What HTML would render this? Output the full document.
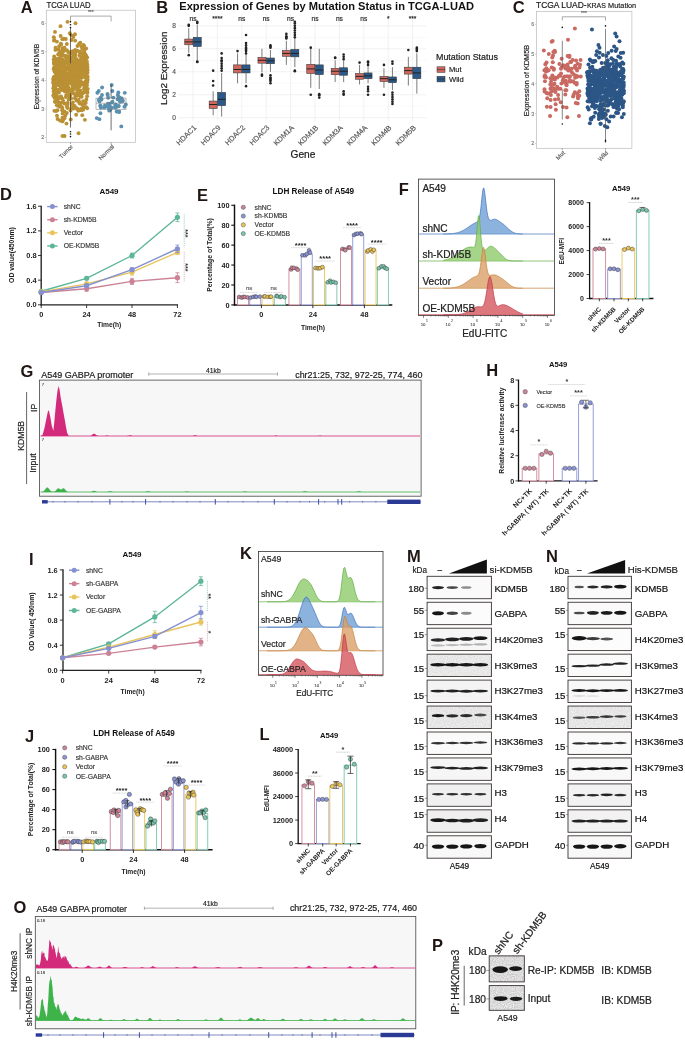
<!DOCTYPE html><html><head><meta charset="utf-8"><title>Figure</title><style>html,body{margin:0;padding:0;background:#fff;width:685px;height:1041px;overflow:hidden}svg{display:block;filter:blur(0.3px);font-family:"Liberation Sans", sans-serif}</style></head><body><svg width="685" height="1041" viewBox="0 0 685 1041" font-family='"Liberation Sans", sans-serif'><defs><filter id="bb" x="-30%" y="-200%" width="160%" height="500%"><feGaussianBlur stdDeviation="0.55 0.45"/></filter><filter id="nz" x="0" y="0" width="100%" height="100%"><feTurbulence type="fractalNoise" baseFrequency="0.9" numOctaves="2" seed="4" result="t"/><feColorMatrix type="matrix" values="0 0 0 0 0  0 0 0 0 0  0 0 0 0 0  0 0 0 -1.6 1.25"/></filter></defs><rect width="685" height="1041" fill="#fff"/><text x="20.7" y="12.5" font-size="16.5" font-weight="bold" text-anchor="start" fill="#1f1513">A</text>
<text x="46.5" y="7.7" font-size="8.9" text-anchor="start" fill="#1a1a1a" stroke="#1a1a1a" stroke-width="0.2" textLength="44" lengthAdjust="spacingAndGlyphs">TCGA LUAD</text>
<rect x="46.3" y="10.2" width="89.3" height="132.1" fill="#fff" stroke="#bbb" stroke-width="0.7"/>
<text x="44.3" y="139.45" font-size="5.4" text-anchor="end" fill="#777" stroke="#777" stroke-width="0.12">2</text>
<line x1="44.6" y1="137.5" x2="45.9" y2="137.5" stroke="#999" stroke-width="0.5"/>
<text x="44.3" y="110.9" font-size="5.4" text-anchor="end" fill="#777" stroke="#777" stroke-width="0.12">3</text>
<line x1="44.6" y1="108.95" x2="45.9" y2="108.95" stroke="#999" stroke-width="0.5"/>
<text x="44.3" y="82.35" font-size="5.4" text-anchor="end" fill="#777" stroke="#777" stroke-width="0.12">4</text>
<line x1="44.6" y1="80.4" x2="45.9" y2="80.4" stroke="#999" stroke-width="0.5"/>
<text x="44.3" y="53.8" font-size="5.4" text-anchor="end" fill="#777" stroke="#777" stroke-width="0.12">5</text>
<line x1="44.6" y1="51.85" x2="45.9" y2="51.85" stroke="#999" stroke-width="0.5"/>
<text x="44.3" y="25.25" font-size="5.4" text-anchor="end" fill="#777" stroke="#777" stroke-width="0.12">6</text>
<line x1="44.6" y1="23.3" x2="45.9" y2="23.3" stroke="#999" stroke-width="0.5"/>
<text x="38.8" y="76.6" font-size="6.72" text-anchor="middle" fill="#1a1a1a" stroke="#1a1a1a" stroke-width="0.15" transform="rotate(-90 38.8 76.6)">Expression of KDM5B</text>
<line x1="70.5" y1="16.1" x2="111.1" y2="16.1" stroke="#555" stroke-width="0.5"/>
<line x1="70.5" y1="16.1" x2="70.5" y2="21.5" stroke="#555" stroke-width="0.5"/>
<line x1="111.1" y1="16.1" x2="111.1" y2="21.5" stroke="#555" stroke-width="0.5"/>
<text x="90.8" y="14" font-size="5" text-anchor="middle" fill="#555" stroke="#555" stroke-width="0.11">***</text>
<circle cx="75.72" cy="81.36" r="1.95" fill="#BA9034" stroke="none" stroke-width="0.5"/>
<circle cx="55.71" cy="68.21" r="1.95" fill="#BA9034" stroke="none" stroke-width="0.5"/>
<circle cx="55.21" cy="92.91" r="1.95" fill="#BA9034" stroke="none" stroke-width="0.5"/>
<circle cx="70.76" cy="80.63" r="1.95" fill="#BA9034" stroke="none" stroke-width="0.5"/>
<circle cx="55.62" cy="59.21" r="1.95" fill="#BA9034" stroke="none" stroke-width="0.5"/>
<circle cx="56.34" cy="72.71" r="1.95" fill="#BA9034" stroke="none" stroke-width="0.5"/>
<circle cx="57.48" cy="105.51" r="1.95" fill="#BA9034" stroke="none" stroke-width="0.5"/>
<circle cx="60.92" cy="62.32" r="1.95" fill="#BA9034" stroke="none" stroke-width="0.5"/>
<circle cx="73.17" cy="105.95" r="1.95" fill="#BA9034" stroke="none" stroke-width="0.5"/>
<circle cx="66.93" cy="106.85" r="1.95" fill="#BA9034" stroke="none" stroke-width="0.5"/>
<circle cx="82.9" cy="71.74" r="1.95" fill="#BA9034" stroke="none" stroke-width="0.5"/>
<circle cx="63.22" cy="77.76" r="1.95" fill="#BA9034" stroke="none" stroke-width="0.5"/>
<circle cx="63.87" cy="71.69" r="1.95" fill="#BA9034" stroke="none" stroke-width="0.5"/>
<circle cx="81.44" cy="70.22" r="1.95" fill="#BA9034" stroke="none" stroke-width="0.5"/>
<circle cx="75.31" cy="67.44" r="1.95" fill="#BA9034" stroke="none" stroke-width="0.5"/>
<circle cx="66.08" cy="56.47" r="1.95" fill="#BA9034" stroke="none" stroke-width="0.5"/>
<circle cx="55.26" cy="82.87" r="1.95" fill="#BA9034" stroke="none" stroke-width="0.5"/>
<circle cx="60.33" cy="78.8" r="1.95" fill="#BA9034" stroke="none" stroke-width="0.5"/>
<circle cx="64.07" cy="84.64" r="1.95" fill="#BA9034" stroke="none" stroke-width="0.5"/>
<circle cx="73.46" cy="93.37" r="1.95" fill="#BA9034" stroke="none" stroke-width="0.5"/>
<circle cx="80.69" cy="90.81" r="1.95" fill="#BA9034" stroke="none" stroke-width="0.5"/>
<circle cx="77.39" cy="72.78" r="1.95" fill="#BA9034" stroke="none" stroke-width="0.5"/>
<circle cx="71.37" cy="76.14" r="1.95" fill="#BA9034" stroke="none" stroke-width="0.5"/>
<circle cx="83.48" cy="54.6" r="1.95" fill="#BA9034" stroke="none" stroke-width="0.5"/>
<circle cx="87.11" cy="78.79" r="1.95" fill="#BA9034" stroke="none" stroke-width="0.5"/>
<circle cx="57.29" cy="90.97" r="1.95" fill="#BA9034" stroke="none" stroke-width="0.5"/>
<circle cx="58.46" cy="102.06" r="1.95" fill="#BA9034" stroke="none" stroke-width="0.5"/>
<circle cx="70.12" cy="62.79" r="1.95" fill="#BA9034" stroke="none" stroke-width="0.5"/>
<circle cx="79.65" cy="52.3" r="1.95" fill="#BA9034" stroke="none" stroke-width="0.5"/>
<circle cx="73.03" cy="70.77" r="1.95" fill="#BA9034" stroke="none" stroke-width="0.5"/>
<circle cx="77.26" cy="66.43" r="1.95" fill="#BA9034" stroke="none" stroke-width="0.5"/>
<circle cx="73.77" cy="87.45" r="1.95" fill="#BA9034" stroke="none" stroke-width="0.5"/>
<circle cx="82.26" cy="93.55" r="1.95" fill="#BA9034" stroke="none" stroke-width="0.5"/>
<circle cx="85.89" cy="86.07" r="1.95" fill="#BA9034" stroke="none" stroke-width="0.5"/>
<circle cx="55.3" cy="101.94" r="1.95" fill="#BA9034" stroke="none" stroke-width="0.5"/>
<circle cx="77.47" cy="72.87" r="1.95" fill="#BA9034" stroke="none" stroke-width="0.5"/>
<circle cx="81.64" cy="109.52" r="1.95" fill="#BA9034" stroke="none" stroke-width="0.5"/>
<circle cx="63.05" cy="120.11" r="1.95" fill="#BA9034" stroke="none" stroke-width="0.5"/>
<circle cx="53.98" cy="96.16" r="1.95" fill="#BA9034" stroke="none" stroke-width="0.5"/>
<circle cx="69.17" cy="60.23" r="1.95" fill="#BA9034" stroke="none" stroke-width="0.5"/>
<circle cx="55.24" cy="72.76" r="1.95" fill="#BA9034" stroke="none" stroke-width="0.5"/>
<circle cx="79.78" cy="69.53" r="1.95" fill="#BA9034" stroke="none" stroke-width="0.5"/>
<circle cx="66.73" cy="68.09" r="1.95" fill="#BA9034" stroke="none" stroke-width="0.5"/>
<circle cx="83.35" cy="67.59" r="1.95" fill="#BA9034" stroke="none" stroke-width="0.5"/>
<circle cx="72.21" cy="60.61" r="1.95" fill="#BA9034" stroke="none" stroke-width="0.5"/>
<circle cx="83.77" cy="67.9" r="1.95" fill="#BA9034" stroke="none" stroke-width="0.5"/>
<circle cx="62.83" cy="62.55" r="1.95" fill="#BA9034" stroke="none" stroke-width="0.5"/>
<circle cx="67.57" cy="108" r="1.95" fill="#BA9034" stroke="none" stroke-width="0.5"/>
<circle cx="86.34" cy="99.43" r="1.95" fill="#BA9034" stroke="none" stroke-width="0.5"/>
<circle cx="58.42" cy="49.39" r="1.95" fill="#BA9034" stroke="none" stroke-width="0.5"/>
<circle cx="61.27" cy="71.41" r="1.95" fill="#BA9034" stroke="none" stroke-width="0.5"/>
<circle cx="69.98" cy="65.84" r="1.95" fill="#BA9034" stroke="none" stroke-width="0.5"/>
<circle cx="53.34" cy="88.31" r="1.95" fill="#BA9034" stroke="none" stroke-width="0.5"/>
<circle cx="67.7" cy="84.08" r="1.95" fill="#BA9034" stroke="none" stroke-width="0.5"/>
<circle cx="86.18" cy="92.06" r="1.95" fill="#BA9034" stroke="none" stroke-width="0.5"/>
<circle cx="77.09" cy="60.76" r="1.95" fill="#BA9034" stroke="none" stroke-width="0.5"/>
<circle cx="76.6" cy="100.61" r="1.95" fill="#BA9034" stroke="none" stroke-width="0.5"/>
<circle cx="55.07" cy="79.28" r="1.95" fill="#BA9034" stroke="none" stroke-width="0.5"/>
<circle cx="83.46" cy="52.91" r="1.95" fill="#BA9034" stroke="none" stroke-width="0.5"/>
<circle cx="80.81" cy="94.57" r="1.95" fill="#BA9034" stroke="none" stroke-width="0.5"/>
<circle cx="56.78" cy="90.46" r="1.95" fill="#BA9034" stroke="none" stroke-width="0.5"/>
<circle cx="75.15" cy="66.16" r="1.95" fill="#BA9034" stroke="none" stroke-width="0.5"/>
<circle cx="60.42" cy="71.06" r="1.95" fill="#BA9034" stroke="none" stroke-width="0.5"/>
<circle cx="58.82" cy="74.54" r="1.95" fill="#BA9034" stroke="none" stroke-width="0.5"/>
<circle cx="53.21" cy="79.99" r="1.95" fill="#BA9034" stroke="none" stroke-width="0.5"/>
<circle cx="58.43" cy="72.22" r="1.95" fill="#BA9034" stroke="none" stroke-width="0.5"/>
<circle cx="54.08" cy="63.89" r="1.95" fill="#BA9034" stroke="none" stroke-width="0.5"/>
<circle cx="83.45" cy="67.28" r="1.95" fill="#BA9034" stroke="none" stroke-width="0.5"/>
<circle cx="61.93" cy="84.3" r="1.95" fill="#BA9034" stroke="none" stroke-width="0.5"/>
<circle cx="65.22" cy="83.36" r="1.95" fill="#BA9034" stroke="none" stroke-width="0.5"/>
<circle cx="82.57" cy="82.74" r="1.95" fill="#BA9034" stroke="none" stroke-width="0.5"/>
<circle cx="87.56" cy="70.36" r="1.95" fill="#BA9034" stroke="none" stroke-width="0.5"/>
<circle cx="56.17" cy="96.23" r="1.95" fill="#BA9034" stroke="none" stroke-width="0.5"/>
<circle cx="56.74" cy="72.8" r="1.95" fill="#BA9034" stroke="none" stroke-width="0.5"/>
<circle cx="81.88" cy="84.36" r="1.95" fill="#BA9034" stroke="none" stroke-width="0.5"/>
<circle cx="58.79" cy="65.75" r="1.95" fill="#BA9034" stroke="none" stroke-width="0.5"/>
<circle cx="71.48" cy="35.35" r="1.95" fill="#BA9034" stroke="none" stroke-width="0.5"/>
<circle cx="58.27" cy="70.89" r="1.95" fill="#BA9034" stroke="none" stroke-width="0.5"/>
<circle cx="71.47" cy="80.84" r="1.95" fill="#BA9034" stroke="none" stroke-width="0.5"/>
<circle cx="87.06" cy="78.05" r="1.95" fill="#BA9034" stroke="none" stroke-width="0.5"/>
<circle cx="62.23" cy="59.7" r="1.95" fill="#BA9034" stroke="none" stroke-width="0.5"/>
<circle cx="65.89" cy="96.99" r="1.95" fill="#BA9034" stroke="none" stroke-width="0.5"/>
<circle cx="71.63" cy="62.31" r="1.95" fill="#BA9034" stroke="none" stroke-width="0.5"/>
<circle cx="80.16" cy="51.43" r="1.95" fill="#BA9034" stroke="none" stroke-width="0.5"/>
<circle cx="81.28" cy="82.81" r="1.95" fill="#BA9034" stroke="none" stroke-width="0.5"/>
<circle cx="87.28" cy="66.3" r="1.95" fill="#BA9034" stroke="none" stroke-width="0.5"/>
<circle cx="81.51" cy="58.32" r="1.95" fill="#BA9034" stroke="none" stroke-width="0.5"/>
<circle cx="78.8" cy="101.77" r="1.95" fill="#BA9034" stroke="none" stroke-width="0.5"/>
<circle cx="65.5" cy="73.96" r="1.95" fill="#BA9034" stroke="none" stroke-width="0.5"/>
<circle cx="54.2" cy="56.51" r="1.95" fill="#BA9034" stroke="none" stroke-width="0.5"/>
<circle cx="62.17" cy="63.32" r="1.95" fill="#BA9034" stroke="none" stroke-width="0.5"/>
<circle cx="77.16" cy="74.55" r="1.95" fill="#BA9034" stroke="none" stroke-width="0.5"/>
<circle cx="85.62" cy="59.01" r="1.95" fill="#BA9034" stroke="none" stroke-width="0.5"/>
<circle cx="87.39" cy="82.01" r="1.95" fill="#BA9034" stroke="none" stroke-width="0.5"/>
<circle cx="60.83" cy="61.31" r="1.95" fill="#BA9034" stroke="none" stroke-width="0.5"/>
<circle cx="61.05" cy="81.53" r="1.95" fill="#BA9034" stroke="none" stroke-width="0.5"/>
<circle cx="74.79" cy="73.17" r="1.95" fill="#BA9034" stroke="none" stroke-width="0.5"/>
<circle cx="84.35" cy="66.03" r="1.95" fill="#BA9034" stroke="none" stroke-width="0.5"/>
<circle cx="75.79" cy="66.44" r="1.95" fill="#BA9034" stroke="none" stroke-width="0.5"/>
<circle cx="80.87" cy="93.47" r="1.95" fill="#BA9034" stroke="none" stroke-width="0.5"/>
<circle cx="84.68" cy="55.28" r="1.95" fill="#BA9034" stroke="none" stroke-width="0.5"/>
<circle cx="80.27" cy="64.19" r="1.95" fill="#BA9034" stroke="none" stroke-width="0.5"/>
<circle cx="59.38" cy="76.96" r="1.95" fill="#BA9034" stroke="none" stroke-width="0.5"/>
<circle cx="80.5" cy="96.51" r="1.95" fill="#BA9034" stroke="none" stroke-width="0.5"/>
<circle cx="86.82" cy="92.22" r="1.95" fill="#BA9034" stroke="none" stroke-width="0.5"/>
<circle cx="66.9" cy="50.25" r="1.95" fill="#BA9034" stroke="none" stroke-width="0.5"/>
<circle cx="78.28" cy="110.75" r="1.95" fill="#BA9034" stroke="none" stroke-width="0.5"/>
<circle cx="59.08" cy="52.88" r="1.95" fill="#BA9034" stroke="none" stroke-width="0.5"/>
<circle cx="84.51" cy="70.13" r="1.95" fill="#BA9034" stroke="none" stroke-width="0.5"/>
<circle cx="81.1" cy="69.95" r="1.95" fill="#BA9034" stroke="none" stroke-width="0.5"/>
<circle cx="87.12" cy="57.51" r="1.95" fill="#BA9034" stroke="none" stroke-width="0.5"/>
<circle cx="75.94" cy="51.5" r="1.95" fill="#BA9034" stroke="none" stroke-width="0.5"/>
<circle cx="57.73" cy="89.72" r="1.95" fill="#BA9034" stroke="none" stroke-width="0.5"/>
<circle cx="53.69" cy="59.53" r="1.95" fill="#BA9034" stroke="none" stroke-width="0.5"/>
<circle cx="71.42" cy="52.58" r="1.95" fill="#BA9034" stroke="none" stroke-width="0.5"/>
<circle cx="85.5" cy="81.49" r="1.95" fill="#BA9034" stroke="none" stroke-width="0.5"/>
<circle cx="81.78" cy="108.73" r="1.95" fill="#BA9034" stroke="none" stroke-width="0.5"/>
<circle cx="60.5" cy="62.95" r="1.95" fill="#BA9034" stroke="none" stroke-width="0.5"/>
<circle cx="61.52" cy="77.14" r="1.95" fill="#BA9034" stroke="none" stroke-width="0.5"/>
<circle cx="73.49" cy="62.71" r="1.95" fill="#BA9034" stroke="none" stroke-width="0.5"/>
<circle cx="57.74" cy="78.02" r="1.95" fill="#BA9034" stroke="none" stroke-width="0.5"/>
<circle cx="84.69" cy="59.15" r="1.95" fill="#BA9034" stroke="none" stroke-width="0.5"/>
<circle cx="73.38" cy="88.48" r="1.95" fill="#BA9034" stroke="none" stroke-width="0.5"/>
<circle cx="84.49" cy="61.9" r="1.95" fill="#BA9034" stroke="none" stroke-width="0.5"/>
<circle cx="70.56" cy="110.6" r="1.95" fill="#BA9034" stroke="none" stroke-width="0.5"/>
<circle cx="71.6" cy="58.66" r="1.95" fill="#BA9034" stroke="none" stroke-width="0.5"/>
<circle cx="68.43" cy="80.27" r="1.95" fill="#BA9034" stroke="none" stroke-width="0.5"/>
<circle cx="59.54" cy="77.46" r="1.95" fill="#BA9034" stroke="none" stroke-width="0.5"/>
<circle cx="59.16" cy="46.29" r="1.95" fill="#BA9034" stroke="none" stroke-width="0.5"/>
<circle cx="69.58" cy="76.22" r="1.95" fill="#BA9034" stroke="none" stroke-width="0.5"/>
<circle cx="64.48" cy="80.36" r="1.95" fill="#BA9034" stroke="none" stroke-width="0.5"/>
<circle cx="71.13" cy="98.55" r="1.95" fill="#BA9034" stroke="none" stroke-width="0.5"/>
<circle cx="56.87" cy="105.17" r="1.95" fill="#BA9034" stroke="none" stroke-width="0.5"/>
<circle cx="72.59" cy="87.22" r="1.95" fill="#BA9034" stroke="none" stroke-width="0.5"/>
<circle cx="79.92" cy="76.84" r="1.95" fill="#BA9034" stroke="none" stroke-width="0.5"/>
<circle cx="70.77" cy="63.18" r="1.95" fill="#BA9034" stroke="none" stroke-width="0.5"/>
<circle cx="84.77" cy="103.76" r="1.95" fill="#BA9034" stroke="none" stroke-width="0.5"/>
<circle cx="68.54" cy="87.92" r="1.95" fill="#BA9034" stroke="none" stroke-width="0.5"/>
<circle cx="70.92" cy="92.43" r="1.95" fill="#BA9034" stroke="none" stroke-width="0.5"/>
<circle cx="77.17" cy="90.18" r="1.95" fill="#BA9034" stroke="none" stroke-width="0.5"/>
<circle cx="69.74" cy="97.18" r="1.95" fill="#BA9034" stroke="none" stroke-width="0.5"/>
<circle cx="85.78" cy="70.74" r="1.95" fill="#BA9034" stroke="none" stroke-width="0.5"/>
<circle cx="85.8" cy="87.96" r="1.95" fill="#BA9034" stroke="none" stroke-width="0.5"/>
<circle cx="62.18" cy="110.24" r="1.95" fill="#BA9034" stroke="none" stroke-width="0.5"/>
<circle cx="82.26" cy="115.17" r="1.95" fill="#BA9034" stroke="none" stroke-width="0.5"/>
<circle cx="57.94" cy="91.96" r="1.95" fill="#BA9034" stroke="none" stroke-width="0.5"/>
<circle cx="55.71" cy="63.61" r="1.95" fill="#BA9034" stroke="none" stroke-width="0.5"/>
<circle cx="61.53" cy="64.17" r="1.95" fill="#BA9034" stroke="none" stroke-width="0.5"/>
<circle cx="80.32" cy="54.13" r="1.95" fill="#BA9034" stroke="none" stroke-width="0.5"/>
<circle cx="84.24" cy="65.67" r="1.95" fill="#BA9034" stroke="none" stroke-width="0.5"/>
<circle cx="76.04" cy="61.62" r="1.95" fill="#BA9034" stroke="none" stroke-width="0.5"/>
<circle cx="58.15" cy="54.54" r="1.95" fill="#BA9034" stroke="none" stroke-width="0.5"/>
<circle cx="60.8" cy="43.74" r="1.95" fill="#BA9034" stroke="none" stroke-width="0.5"/>
<circle cx="86.16" cy="107.09" r="1.95" fill="#BA9034" stroke="none" stroke-width="0.5"/>
<circle cx="87.45" cy="92.86" r="1.95" fill="#BA9034" stroke="none" stroke-width="0.5"/>
<circle cx="82" cy="65.16" r="1.95" fill="#BA9034" stroke="none" stroke-width="0.5"/>
<circle cx="71.04" cy="67.36" r="1.95" fill="#BA9034" stroke="none" stroke-width="0.5"/>
<circle cx="64.93" cy="61.51" r="1.95" fill="#BA9034" stroke="none" stroke-width="0.5"/>
<circle cx="78.19" cy="71.96" r="1.95" fill="#BA9034" stroke="none" stroke-width="0.5"/>
<circle cx="53.87" cy="62.84" r="1.95" fill="#BA9034" stroke="none" stroke-width="0.5"/>
<circle cx="53.83" cy="94.38" r="1.95" fill="#BA9034" stroke="none" stroke-width="0.5"/>
<circle cx="64.67" cy="83.12" r="1.95" fill="#BA9034" stroke="none" stroke-width="0.5"/>
<circle cx="55.42" cy="91.59" r="1.95" fill="#BA9034" stroke="none" stroke-width="0.5"/>
<circle cx="87.28" cy="91.39" r="1.95" fill="#BA9034" stroke="none" stroke-width="0.5"/>
<circle cx="56.83" cy="66.06" r="1.95" fill="#BA9034" stroke="none" stroke-width="0.5"/>
<circle cx="62.39" cy="121.39" r="1.95" fill="#BA9034" stroke="none" stroke-width="0.5"/>
<circle cx="62.56" cy="48.13" r="1.95" fill="#BA9034" stroke="none" stroke-width="0.5"/>
<circle cx="57.68" cy="69.65" r="1.95" fill="#BA9034" stroke="none" stroke-width="0.5"/>
<circle cx="81.54" cy="110.28" r="1.95" fill="#BA9034" stroke="none" stroke-width="0.5"/>
<circle cx="62.15" cy="59.27" r="1.95" fill="#BA9034" stroke="none" stroke-width="0.5"/>
<circle cx="72.94" cy="54.27" r="1.95" fill="#BA9034" stroke="none" stroke-width="0.5"/>
<circle cx="77.43" cy="45.98" r="1.95" fill="#BA9034" stroke="none" stroke-width="0.5"/>
<circle cx="77.01" cy="71.98" r="1.95" fill="#BA9034" stroke="none" stroke-width="0.5"/>
<circle cx="67.92" cy="73.83" r="1.95" fill="#BA9034" stroke="none" stroke-width="0.5"/>
<circle cx="75.15" cy="40.65" r="1.95" fill="#BA9034" stroke="none" stroke-width="0.5"/>
<circle cx="80.94" cy="59.2" r="1.95" fill="#BA9034" stroke="none" stroke-width="0.5"/>
<circle cx="55.51" cy="47.8" r="1.95" fill="#BA9034" stroke="none" stroke-width="0.5"/>
<circle cx="83.05" cy="60.03" r="1.95" fill="#BA9034" stroke="none" stroke-width="0.5"/>
<circle cx="72.34" cy="91.91" r="1.95" fill="#BA9034" stroke="none" stroke-width="0.5"/>
<circle cx="85.26" cy="72.51" r="1.95" fill="#BA9034" stroke="none" stroke-width="0.5"/>
<circle cx="71.43" cy="77.98" r="1.95" fill="#BA9034" stroke="none" stroke-width="0.5"/>
<circle cx="61.45" cy="68.02" r="1.95" fill="#BA9034" stroke="none" stroke-width="0.5"/>
<circle cx="54.94" cy="69.12" r="1.95" fill="#BA9034" stroke="none" stroke-width="0.5"/>
<circle cx="60.18" cy="70.52" r="1.95" fill="#BA9034" stroke="none" stroke-width="0.5"/>
<circle cx="79.48" cy="82.52" r="1.95" fill="#BA9034" stroke="none" stroke-width="0.5"/>
<circle cx="63.23" cy="63.46" r="1.95" fill="#BA9034" stroke="none" stroke-width="0.5"/>
<circle cx="65.21" cy="87.7" r="1.95" fill="#BA9034" stroke="none" stroke-width="0.5"/>
<circle cx="53.83" cy="76.98" r="1.95" fill="#BA9034" stroke="none" stroke-width="0.5"/>
<circle cx="78.56" cy="76.98" r="1.95" fill="#BA9034" stroke="none" stroke-width="0.5"/>
<circle cx="72.27" cy="73.96" r="1.95" fill="#BA9034" stroke="none" stroke-width="0.5"/>
<circle cx="85.54" cy="69.76" r="1.95" fill="#BA9034" stroke="none" stroke-width="0.5"/>
<circle cx="56.88" cy="58.92" r="1.95" fill="#BA9034" stroke="none" stroke-width="0.5"/>
<circle cx="70.33" cy="69.33" r="1.95" fill="#BA9034" stroke="none" stroke-width="0.5"/>
<circle cx="82.08" cy="93.52" r="1.95" fill="#BA9034" stroke="none" stroke-width="0.5"/>
<circle cx="77" cy="92.91" r="1.95" fill="#BA9034" stroke="none" stroke-width="0.5"/>
<circle cx="87.19" cy="64.3" r="1.95" fill="#BA9034" stroke="none" stroke-width="0.5"/>
<circle cx="77.65" cy="94.78" r="1.95" fill="#BA9034" stroke="none" stroke-width="0.5"/>
<circle cx="75.2" cy="49.94" r="1.95" fill="#BA9034" stroke="none" stroke-width="0.5"/>
<circle cx="55.08" cy="90.05" r="1.95" fill="#BA9034" stroke="none" stroke-width="0.5"/>
<circle cx="57.69" cy="68.05" r="1.95" fill="#BA9034" stroke="none" stroke-width="0.5"/>
<circle cx="62.04" cy="51.56" r="1.95" fill="#BA9034" stroke="none" stroke-width="0.5"/>
<circle cx="58.85" cy="64.87" r="1.95" fill="#BA9034" stroke="none" stroke-width="0.5"/>
<circle cx="83.32" cy="48.63" r="1.95" fill="#BA9034" stroke="none" stroke-width="0.5"/>
<circle cx="76.4" cy="60.34" r="1.95" fill="#BA9034" stroke="none" stroke-width="0.5"/>
<circle cx="63.34" cy="79.52" r="1.95" fill="#BA9034" stroke="none" stroke-width="0.5"/>
<circle cx="69.1" cy="64.47" r="1.95" fill="#BA9034" stroke="none" stroke-width="0.5"/>
<circle cx="62.31" cy="66.76" r="1.95" fill="#BA9034" stroke="none" stroke-width="0.5"/>
<circle cx="86.48" cy="61.42" r="1.95" fill="#BA9034" stroke="none" stroke-width="0.5"/>
<circle cx="61.66" cy="55.73" r="1.95" fill="#BA9034" stroke="none" stroke-width="0.5"/>
<circle cx="86.61" cy="80.66" r="1.95" fill="#BA9034" stroke="none" stroke-width="0.5"/>
<circle cx="53.24" cy="82.85" r="1.95" fill="#BA9034" stroke="none" stroke-width="0.5"/>
<circle cx="66.4" cy="62" r="1.95" fill="#BA9034" stroke="none" stroke-width="0.5"/>
<circle cx="60.15" cy="96.97" r="1.95" fill="#BA9034" stroke="none" stroke-width="0.5"/>
<circle cx="70.66" cy="73.76" r="1.95" fill="#BA9034" stroke="none" stroke-width="0.5"/>
<circle cx="56.31" cy="63.56" r="1.95" fill="#BA9034" stroke="none" stroke-width="0.5"/>
<circle cx="67.02" cy="76.56" r="1.95" fill="#BA9034" stroke="none" stroke-width="0.5"/>
<circle cx="63.73" cy="73.44" r="1.95" fill="#BA9034" stroke="none" stroke-width="0.5"/>
<circle cx="61.26" cy="76.03" r="1.95" fill="#BA9034" stroke="none" stroke-width="0.5"/>
<circle cx="79.17" cy="95.03" r="1.95" fill="#BA9034" stroke="none" stroke-width="0.5"/>
<circle cx="75.95" cy="87.74" r="1.95" fill="#BA9034" stroke="none" stroke-width="0.5"/>
<circle cx="66.68" cy="84.44" r="1.95" fill="#BA9034" stroke="none" stroke-width="0.5"/>
<circle cx="64.48" cy="111.39" r="1.95" fill="#BA9034" stroke="none" stroke-width="0.5"/>
<circle cx="78.26" cy="67.27" r="1.95" fill="#BA9034" stroke="none" stroke-width="0.5"/>
<circle cx="75.46" cy="77.91" r="1.95" fill="#BA9034" stroke="none" stroke-width="0.5"/>
<circle cx="84.06" cy="45.66" r="1.95" fill="#BA9034" stroke="none" stroke-width="0.5"/>
<circle cx="74.91" cy="68.14" r="1.95" fill="#BA9034" stroke="none" stroke-width="0.5"/>
<circle cx="58.02" cy="80.15" r="1.95" fill="#BA9034" stroke="none" stroke-width="0.5"/>
<circle cx="71.32" cy="108.14" r="1.95" fill="#BA9034" stroke="none" stroke-width="0.5"/>
<circle cx="81.04" cy="109.48" r="1.95" fill="#BA9034" stroke="none" stroke-width="0.5"/>
<circle cx="81.79" cy="77.87" r="1.95" fill="#BA9034" stroke="none" stroke-width="0.5"/>
<circle cx="76.83" cy="108.24" r="1.95" fill="#BA9034" stroke="none" stroke-width="0.5"/>
<circle cx="77.19" cy="95.22" r="1.95" fill="#BA9034" stroke="none" stroke-width="0.5"/>
<circle cx="57.81" cy="76.43" r="1.95" fill="#BA9034" stroke="none" stroke-width="0.5"/>
<circle cx="65.68" cy="72.7" r="1.95" fill="#BA9034" stroke="none" stroke-width="0.5"/>
<circle cx="72.53" cy="51.23" r="1.95" fill="#BA9034" stroke="none" stroke-width="0.5"/>
<circle cx="74.92" cy="57.03" r="1.95" fill="#BA9034" stroke="none" stroke-width="0.5"/>
<circle cx="70.13" cy="95.13" r="1.95" fill="#BA9034" stroke="none" stroke-width="0.5"/>
<circle cx="53.31" cy="95.42" r="1.95" fill="#BA9034" stroke="none" stroke-width="0.5"/>
<circle cx="70.6" cy="68.57" r="1.95" fill="#BA9034" stroke="none" stroke-width="0.5"/>
<circle cx="71.72" cy="104.16" r="1.95" fill="#BA9034" stroke="none" stroke-width="0.5"/>
<circle cx="78.69" cy="80.39" r="1.95" fill="#BA9034" stroke="none" stroke-width="0.5"/>
<circle cx="61.93" cy="82.31" r="1.95" fill="#BA9034" stroke="none" stroke-width="0.5"/>
<circle cx="78.43" cy="64.96" r="1.95" fill="#BA9034" stroke="none" stroke-width="0.5"/>
<circle cx="60.3" cy="70.91" r="1.95" fill="#BA9034" stroke="none" stroke-width="0.5"/>
<circle cx="70.29" cy="79.96" r="1.95" fill="#BA9034" stroke="none" stroke-width="0.5"/>
<circle cx="66.44" cy="123.6" r="1.95" fill="#BA9034" stroke="none" stroke-width="0.5"/>
<circle cx="79.74" cy="102.74" r="1.95" fill="#BA9034" stroke="none" stroke-width="0.5"/>
<circle cx="74.55" cy="73.56" r="1.95" fill="#BA9034" stroke="none" stroke-width="0.5"/>
<circle cx="58.3" cy="81.27" r="1.95" fill="#BA9034" stroke="none" stroke-width="0.5"/>
<circle cx="61.99" cy="82.35" r="1.95" fill="#BA9034" stroke="none" stroke-width="0.5"/>
<circle cx="72.84" cy="77.6" r="1.95" fill="#BA9034" stroke="none" stroke-width="0.5"/>
<circle cx="53.63" cy="91.56" r="1.95" fill="#BA9034" stroke="none" stroke-width="0.5"/>
<circle cx="76.45" cy="64.39" r="1.95" fill="#BA9034" stroke="none" stroke-width="0.5"/>
<circle cx="77.15" cy="71.93" r="1.95" fill="#BA9034" stroke="none" stroke-width="0.5"/>
<circle cx="71.07" cy="83.37" r="1.95" fill="#BA9034" stroke="none" stroke-width="0.5"/>
<circle cx="69.28" cy="89.66" r="1.95" fill="#BA9034" stroke="none" stroke-width="0.5"/>
<circle cx="84.12" cy="85.39" r="1.95" fill="#BA9034" stroke="none" stroke-width="0.5"/>
<circle cx="60.09" cy="75.17" r="1.95" fill="#BA9034" stroke="none" stroke-width="0.5"/>
<circle cx="53.81" cy="37.16" r="1.95" fill="#BA9034" stroke="none" stroke-width="0.5"/>
<circle cx="69.08" cy="82.48" r="1.95" fill="#BA9034" stroke="none" stroke-width="0.5"/>
<circle cx="68.75" cy="57.85" r="1.95" fill="#BA9034" stroke="none" stroke-width="0.5"/>
<circle cx="62.5" cy="117.67" r="1.95" fill="#BA9034" stroke="none" stroke-width="0.5"/>
<circle cx="60.49" cy="66.65" r="1.95" fill="#BA9034" stroke="none" stroke-width="0.5"/>
<circle cx="73.32" cy="36.95" r="1.95" fill="#BA9034" stroke="none" stroke-width="0.5"/>
<circle cx="86.16" cy="63.84" r="1.95" fill="#BA9034" stroke="none" stroke-width="0.5"/>
<circle cx="57.79" cy="60.75" r="1.95" fill="#BA9034" stroke="none" stroke-width="0.5"/>
<circle cx="83.89" cy="68.25" r="1.95" fill="#BA9034" stroke="none" stroke-width="0.5"/>
<circle cx="77.54" cy="95.44" r="1.95" fill="#BA9034" stroke="none" stroke-width="0.5"/>
<circle cx="70.02" cy="72.71" r="1.95" fill="#BA9034" stroke="none" stroke-width="0.5"/>
<circle cx="54.06" cy="40.65" r="1.95" fill="#BA9034" stroke="none" stroke-width="0.5"/>
<circle cx="68.8" cy="57.05" r="1.95" fill="#BA9034" stroke="none" stroke-width="0.5"/>
<circle cx="63.65" cy="76.52" r="1.95" fill="#BA9034" stroke="none" stroke-width="0.5"/>
<circle cx="64.14" cy="67" r="1.95" fill="#BA9034" stroke="none" stroke-width="0.5"/>
<circle cx="82.27" cy="64.81" r="1.95" fill="#BA9034" stroke="none" stroke-width="0.5"/>
<circle cx="82.23" cy="48.42" r="1.95" fill="#BA9034" stroke="none" stroke-width="0.5"/>
<circle cx="57.35" cy="76.66" r="1.95" fill="#BA9034" stroke="none" stroke-width="0.5"/>
<circle cx="84.39" cy="52.75" r="1.95" fill="#BA9034" stroke="none" stroke-width="0.5"/>
<circle cx="63.23" cy="89.05" r="1.95" fill="#BA9034" stroke="none" stroke-width="0.5"/>
<circle cx="87.76" cy="88.86" r="1.95" fill="#BA9034" stroke="none" stroke-width="0.5"/>
<circle cx="73.59" cy="64.66" r="1.95" fill="#BA9034" stroke="none" stroke-width="0.5"/>
<circle cx="62.72" cy="88.58" r="1.95" fill="#BA9034" stroke="none" stroke-width="0.5"/>
<circle cx="54.87" cy="63.07" r="1.95" fill="#BA9034" stroke="none" stroke-width="0.5"/>
<circle cx="63.08" cy="50.89" r="1.95" fill="#BA9034" stroke="none" stroke-width="0.5"/>
<circle cx="85.57" cy="57.59" r="1.95" fill="#BA9034" stroke="none" stroke-width="0.5"/>
<circle cx="70.88" cy="76.92" r="1.95" fill="#BA9034" stroke="none" stroke-width="0.5"/>
<circle cx="59.77" cy="63.51" r="1.95" fill="#BA9034" stroke="none" stroke-width="0.5"/>
<circle cx="83.8" cy="106.95" r="1.95" fill="#BA9034" stroke="none" stroke-width="0.5"/>
<circle cx="81.29" cy="46.37" r="1.95" fill="#BA9034" stroke="none" stroke-width="0.5"/>
<circle cx="85.75" cy="102.76" r="1.95" fill="#BA9034" stroke="none" stroke-width="0.5"/>
<circle cx="72.2" cy="104.74" r="1.95" fill="#BA9034" stroke="none" stroke-width="0.5"/>
<circle cx="78.54" cy="78.01" r="1.95" fill="#BA9034" stroke="none" stroke-width="0.5"/>
<circle cx="68.8" cy="82.33" r="1.95" fill="#BA9034" stroke="none" stroke-width="0.5"/>
<circle cx="63.1" cy="76.56" r="1.95" fill="#BA9034" stroke="none" stroke-width="0.5"/>
<circle cx="54.89" cy="101.61" r="1.95" fill="#BA9034" stroke="none" stroke-width="0.5"/>
<circle cx="69.54" cy="68.96" r="1.95" fill="#BA9034" stroke="none" stroke-width="0.5"/>
<circle cx="65.09" cy="80.94" r="1.95" fill="#BA9034" stroke="none" stroke-width="0.5"/>
<circle cx="86.98" cy="85.28" r="1.95" fill="#BA9034" stroke="none" stroke-width="0.5"/>
<circle cx="62.2" cy="50.15" r="1.95" fill="#BA9034" stroke="none" stroke-width="0.5"/>
<circle cx="72.48" cy="85.04" r="1.95" fill="#BA9034" stroke="none" stroke-width="0.5"/>
<circle cx="66.85" cy="89.01" r="1.95" fill="#BA9034" stroke="none" stroke-width="0.5"/>
<circle cx="60.39" cy="71.92" r="1.95" fill="#BA9034" stroke="none" stroke-width="0.5"/>
<circle cx="84.55" cy="68.14" r="1.95" fill="#BA9034" stroke="none" stroke-width="0.5"/>
<circle cx="84.56" cy="89.05" r="1.95" fill="#BA9034" stroke="none" stroke-width="0.5"/>
<circle cx="87.68" cy="76.75" r="1.95" fill="#BA9034" stroke="none" stroke-width="0.5"/>
<circle cx="59.86" cy="85.91" r="1.95" fill="#BA9034" stroke="none" stroke-width="0.5"/>
<circle cx="56.34" cy="74.07" r="1.95" fill="#BA9034" stroke="none" stroke-width="0.5"/>
<circle cx="61.47" cy="81.06" r="1.95" fill="#BA9034" stroke="none" stroke-width="0.5"/>
<circle cx="62.14" cy="70.7" r="1.95" fill="#BA9034" stroke="none" stroke-width="0.5"/>
<circle cx="79.14" cy="109.39" r="1.95" fill="#BA9034" stroke="none" stroke-width="0.5"/>
<circle cx="67.48" cy="92.13" r="1.95" fill="#BA9034" stroke="none" stroke-width="0.5"/>
<circle cx="66.24" cy="94.87" r="1.95" fill="#BA9034" stroke="none" stroke-width="0.5"/>
<circle cx="64.9" cy="66.22" r="1.95" fill="#BA9034" stroke="none" stroke-width="0.5"/>
<circle cx="86.68" cy="64.2" r="1.95" fill="#BA9034" stroke="none" stroke-width="0.5"/>
<circle cx="57.56" cy="71.72" r="1.95" fill="#BA9034" stroke="none" stroke-width="0.5"/>
<circle cx="83.06" cy="101.11" r="1.95" fill="#BA9034" stroke="none" stroke-width="0.5"/>
<circle cx="60.67" cy="77.49" r="1.95" fill="#BA9034" stroke="none" stroke-width="0.5"/>
<circle cx="67.03" cy="78.68" r="1.95" fill="#BA9034" stroke="none" stroke-width="0.5"/>
<circle cx="68.63" cy="64.14" r="1.95" fill="#BA9034" stroke="none" stroke-width="0.5"/>
<circle cx="83.4" cy="45.07" r="1.95" fill="#BA9034" stroke="none" stroke-width="0.5"/>
<circle cx="53.95" cy="86.47" r="1.95" fill="#BA9034" stroke="none" stroke-width="0.5"/>
<circle cx="84.19" cy="50.59" r="1.95" fill="#BA9034" stroke="none" stroke-width="0.5"/>
<circle cx="69.58" cy="71.55" r="1.95" fill="#BA9034" stroke="none" stroke-width="0.5"/>
<circle cx="66.75" cy="77.25" r="1.95" fill="#BA9034" stroke="none" stroke-width="0.5"/>
<circle cx="85.27" cy="77.14" r="1.95" fill="#BA9034" stroke="none" stroke-width="0.5"/>
<circle cx="86.84" cy="61.57" r="1.95" fill="#BA9034" stroke="none" stroke-width="0.5"/>
<circle cx="61.8" cy="106.94" r="1.95" fill="#BA9034" stroke="none" stroke-width="0.5"/>
<circle cx="71.27" cy="69.29" r="1.95" fill="#BA9034" stroke="none" stroke-width="0.5"/>
<circle cx="76.8" cy="70.7" r="1.95" fill="#BA9034" stroke="none" stroke-width="0.5"/>
<circle cx="75.6" cy="51.41" r="1.95" fill="#BA9034" stroke="none" stroke-width="0.5"/>
<circle cx="79.66" cy="86.82" r="1.95" fill="#BA9034" stroke="none" stroke-width="0.5"/>
<circle cx="54.57" cy="97.89" r="1.95" fill="#BA9034" stroke="none" stroke-width="0.5"/>
<circle cx="80.27" cy="71.23" r="1.95" fill="#BA9034" stroke="none" stroke-width="0.5"/>
<circle cx="75.53" cy="72.77" r="1.95" fill="#BA9034" stroke="none" stroke-width="0.5"/>
<circle cx="63.71" cy="38.71" r="1.95" fill="#BA9034" stroke="none" stroke-width="0.5"/>
<circle cx="75.22" cy="67.92" r="1.95" fill="#BA9034" stroke="none" stroke-width="0.5"/>
<circle cx="77.37" cy="67.58" r="1.95" fill="#BA9034" stroke="none" stroke-width="0.5"/>
<circle cx="71.35" cy="71.99" r="1.95" fill="#BA9034" stroke="none" stroke-width="0.5"/>
<circle cx="73.37" cy="72.74" r="1.95" fill="#BA9034" stroke="none" stroke-width="0.5"/>
<circle cx="74" cy="86.27" r="1.95" fill="#BA9034" stroke="none" stroke-width="0.5"/>
<circle cx="53.56" cy="69.09" r="1.95" fill="#BA9034" stroke="none" stroke-width="0.5"/>
<circle cx="86.38" cy="83.03" r="1.95" fill="#BA9034" stroke="none" stroke-width="0.5"/>
<circle cx="75.5" cy="58.93" r="1.95" fill="#BA9034" stroke="none" stroke-width="0.5"/>
<circle cx="61.32" cy="62.48" r="1.95" fill="#BA9034" stroke="none" stroke-width="0.5"/>
<circle cx="61.75" cy="89.95" r="1.95" fill="#BA9034" stroke="none" stroke-width="0.5"/>
<circle cx="63.84" cy="51.04" r="1.95" fill="#BA9034" stroke="none" stroke-width="0.5"/>
<circle cx="53.95" cy="83.53" r="1.95" fill="#BA9034" stroke="none" stroke-width="0.5"/>
<circle cx="67.73" cy="102.64" r="1.95" fill="#BA9034" stroke="none" stroke-width="0.5"/>
<circle cx="62.1" cy="76.7" r="1.95" fill="#BA9034" stroke="none" stroke-width="0.5"/>
<circle cx="61.05" cy="96.33" r="1.95" fill="#BA9034" stroke="none" stroke-width="0.5"/>
<circle cx="54.38" cy="110.84" r="1.95" fill="#BA9034" stroke="none" stroke-width="0.5"/>
<circle cx="76.82" cy="86.38" r="1.95" fill="#BA9034" stroke="none" stroke-width="0.5"/>
<circle cx="60.05" cy="61.75" r="1.95" fill="#BA9034" stroke="none" stroke-width="0.5"/>
<circle cx="70.67" cy="68.79" r="1.95" fill="#BA9034" stroke="none" stroke-width="0.5"/>
<circle cx="60.3" cy="103.84" r="1.95" fill="#BA9034" stroke="none" stroke-width="0.5"/>
<circle cx="81.57" cy="62.43" r="1.95" fill="#BA9034" stroke="none" stroke-width="0.5"/>
<circle cx="61.19" cy="79.76" r="1.95" fill="#BA9034" stroke="none" stroke-width="0.5"/>
<circle cx="63.4" cy="71.81" r="1.95" fill="#BA9034" stroke="none" stroke-width="0.5"/>
<circle cx="86.14" cy="48.48" r="1.95" fill="#BA9034" stroke="none" stroke-width="0.5"/>
<circle cx="60.93" cy="88" r="1.95" fill="#BA9034" stroke="none" stroke-width="0.5"/>
<circle cx="67.63" cy="76.68" r="1.95" fill="#BA9034" stroke="none" stroke-width="0.5"/>
<circle cx="58.26" cy="98.16" r="1.95" fill="#BA9034" stroke="none" stroke-width="0.5"/>
<circle cx="66.81" cy="112.96" r="1.95" fill="#BA9034" stroke="none" stroke-width="0.5"/>
<circle cx="58.11" cy="66.29" r="1.95" fill="#BA9034" stroke="none" stroke-width="0.5"/>
<circle cx="54.99" cy="31.91" r="1.95" fill="#BA9034" stroke="none" stroke-width="0.5"/>
<circle cx="84.28" cy="61.06" r="1.95" fill="#BA9034" stroke="none" stroke-width="0.5"/>
<circle cx="83.77" cy="70.66" r="1.95" fill="#BA9034" stroke="none" stroke-width="0.5"/>
<circle cx="85.43" cy="83.4" r="1.95" fill="#BA9034" stroke="none" stroke-width="0.5"/>
<circle cx="64.59" cy="135.98" r="1.95" fill="#BA9034" stroke="none" stroke-width="0.5"/>
<circle cx="79.02" cy="61.15" r="1.95" fill="#BA9034" stroke="none" stroke-width="0.5"/>
<circle cx="54.3" cy="40.07" r="1.95" fill="#BA9034" stroke="none" stroke-width="0.5"/>
<circle cx="66.14" cy="85.53" r="1.95" fill="#BA9034" stroke="none" stroke-width="0.5"/>
<circle cx="64.68" cy="91.33" r="1.95" fill="#BA9034" stroke="none" stroke-width="0.5"/>
<circle cx="62.88" cy="76.34" r="1.95" fill="#BA9034" stroke="none" stroke-width="0.5"/>
<circle cx="65.36" cy="75.84" r="1.95" fill="#BA9034" stroke="none" stroke-width="0.5"/>
<circle cx="86.56" cy="68.51" r="1.95" fill="#BA9034" stroke="none" stroke-width="0.5"/>
<circle cx="60.38" cy="79.4" r="1.95" fill="#BA9034" stroke="none" stroke-width="0.5"/>
<circle cx="81.64" cy="96.72" r="1.95" fill="#BA9034" stroke="none" stroke-width="0.5"/>
<circle cx="68.16" cy="52.04" r="1.95" fill="#BA9034" stroke="none" stroke-width="0.5"/>
<circle cx="66.1" cy="58.49" r="1.95" fill="#BA9034" stroke="none" stroke-width="0.5"/>
<circle cx="85.01" cy="71.06" r="1.95" fill="#BA9034" stroke="none" stroke-width="0.5"/>
<circle cx="84.24" cy="71.26" r="1.95" fill="#BA9034" stroke="none" stroke-width="0.5"/>
<circle cx="54.25" cy="61.7" r="1.95" fill="#BA9034" stroke="none" stroke-width="0.5"/>
<circle cx="79.73" cy="103.49" r="1.95" fill="#BA9034" stroke="none" stroke-width="0.5"/>
<circle cx="54.61" cy="60.33" r="1.95" fill="#BA9034" stroke="none" stroke-width="0.5"/>
<circle cx="85.03" cy="70.96" r="1.95" fill="#BA9034" stroke="none" stroke-width="0.5"/>
<circle cx="62.09" cy="75.64" r="1.95" fill="#BA9034" stroke="none" stroke-width="0.5"/>
<circle cx="64.93" cy="77.6" r="1.95" fill="#BA9034" stroke="none" stroke-width="0.5"/>
<circle cx="62.62" cy="113.61" r="1.95" fill="#BA9034" stroke="none" stroke-width="0.5"/>
<circle cx="62.27" cy="54.08" r="1.95" fill="#BA9034" stroke="none" stroke-width="0.5"/>
<circle cx="78" cy="83.21" r="1.95" fill="#BA9034" stroke="none" stroke-width="0.5"/>
<circle cx="53.33" cy="82.55" r="1.95" fill="#BA9034" stroke="none" stroke-width="0.5"/>
<circle cx="79.35" cy="64.4" r="1.95" fill="#BA9034" stroke="none" stroke-width="0.5"/>
<circle cx="85.84" cy="55.96" r="1.95" fill="#BA9034" stroke="none" stroke-width="0.5"/>
<circle cx="54.04" cy="89.14" r="1.95" fill="#BA9034" stroke="none" stroke-width="0.5"/>
<circle cx="86.3" cy="75.01" r="1.95" fill="#BA9034" stroke="none" stroke-width="0.5"/>
<circle cx="86.21" cy="57.62" r="1.95" fill="#BA9034" stroke="none" stroke-width="0.5"/>
<circle cx="68.08" cy="86.83" r="1.95" fill="#BA9034" stroke="none" stroke-width="0.5"/>
<circle cx="70.27" cy="68.45" r="1.95" fill="#BA9034" stroke="none" stroke-width="0.5"/>
<circle cx="80.97" cy="67.18" r="1.95" fill="#BA9034" stroke="none" stroke-width="0.5"/>
<circle cx="78.75" cy="81.73" r="1.95" fill="#BA9034" stroke="none" stroke-width="0.5"/>
<circle cx="74.21" cy="63.96" r="1.95" fill="#BA9034" stroke="none" stroke-width="0.5"/>
<circle cx="64.54" cy="103.44" r="1.95" fill="#BA9034" stroke="none" stroke-width="0.5"/>
<circle cx="80.27" cy="83.85" r="1.95" fill="#BA9034" stroke="none" stroke-width="0.5"/>
<circle cx="55.93" cy="62.26" r="1.95" fill="#BA9034" stroke="none" stroke-width="0.5"/>
<circle cx="61.76" cy="67.66" r="1.95" fill="#BA9034" stroke="none" stroke-width="0.5"/>
<circle cx="55.44" cy="49.89" r="1.95" fill="#BA9034" stroke="none" stroke-width="0.5"/>
<circle cx="64.47" cy="55.74" r="1.95" fill="#BA9034" stroke="none" stroke-width="0.5"/>
<circle cx="87.12" cy="72.39" r="1.95" fill="#BA9034" stroke="none" stroke-width="0.5"/>
<circle cx="62.37" cy="39.14" r="1.95" fill="#BA9034" stroke="none" stroke-width="0.5"/>
<circle cx="56.11" cy="110.97" r="1.95" fill="#BA9034" stroke="none" stroke-width="0.5"/>
<circle cx="77.76" cy="60.43" r="1.95" fill="#BA9034" stroke="none" stroke-width="0.5"/>
<circle cx="68.66" cy="65.51" r="1.95" fill="#BA9034" stroke="none" stroke-width="0.5"/>
<circle cx="74.66" cy="75.21" r="1.95" fill="#BA9034" stroke="none" stroke-width="0.5"/>
<circle cx="76.52" cy="59.27" r="1.95" fill="#BA9034" stroke="none" stroke-width="0.5"/>
<circle cx="76.19" cy="77.4" r="1.95" fill="#BA9034" stroke="none" stroke-width="0.5"/>
<circle cx="57.39" cy="110.16" r="1.95" fill="#BA9034" stroke="none" stroke-width="0.5"/>
<circle cx="72.81" cy="69.25" r="1.95" fill="#BA9034" stroke="none" stroke-width="0.5"/>
<circle cx="66.1" cy="89" r="1.95" fill="#BA9034" stroke="none" stroke-width="0.5"/>
<circle cx="61.76" cy="77.83" r="1.95" fill="#BA9034" stroke="none" stroke-width="0.5"/>
<circle cx="61.69" cy="88.36" r="1.95" fill="#BA9034" stroke="none" stroke-width="0.5"/>
<circle cx="73.21" cy="56.67" r="1.95" fill="#BA9034" stroke="none" stroke-width="0.5"/>
<circle cx="64.49" cy="47.77" r="1.95" fill="#BA9034" stroke="none" stroke-width="0.5"/>
<circle cx="70.75" cy="119.51" r="1.95" fill="#BA9034" stroke="none" stroke-width="0.5"/>
<circle cx="61.21" cy="44.44" r="1.95" fill="#BA9034" stroke="none" stroke-width="0.5"/>
<circle cx="87.49" cy="68.02" r="1.95" fill="#BA9034" stroke="none" stroke-width="0.5"/>
<circle cx="56.74" cy="100.25" r="1.95" fill="#BA9034" stroke="none" stroke-width="0.5"/>
<circle cx="82.28" cy="108.25" r="1.95" fill="#BA9034" stroke="none" stroke-width="0.5"/>
<circle cx="84.84" cy="71.97" r="1.95" fill="#BA9034" stroke="none" stroke-width="0.5"/>
<circle cx="57.32" cy="63.15" r="1.95" fill="#BA9034" stroke="none" stroke-width="0.5"/>
<circle cx="59.76" cy="73.39" r="1.95" fill="#BA9034" stroke="none" stroke-width="0.5"/>
<circle cx="85.38" cy="54.64" r="1.95" fill="#BA9034" stroke="none" stroke-width="0.5"/>
<circle cx="66.08" cy="80.81" r="1.95" fill="#BA9034" stroke="none" stroke-width="0.5"/>
<circle cx="62.19" cy="64.5" r="1.95" fill="#BA9034" stroke="none" stroke-width="0.5"/>
<circle cx="80.11" cy="90.92" r="1.95" fill="#BA9034" stroke="none" stroke-width="0.5"/>
<circle cx="73.83" cy="69.34" r="1.95" fill="#BA9034" stroke="none" stroke-width="0.5"/>
<circle cx="74.65" cy="79.68" r="1.95" fill="#BA9034" stroke="none" stroke-width="0.5"/>
<circle cx="58.09" cy="73.66" r="1.95" fill="#BA9034" stroke="none" stroke-width="0.5"/>
<circle cx="60.26" cy="60.88" r="1.95" fill="#BA9034" stroke="none" stroke-width="0.5"/>
<circle cx="75.75" cy="77.69" r="1.95" fill="#BA9034" stroke="none" stroke-width="0.5"/>
<circle cx="60.24" cy="53.81" r="1.95" fill="#BA9034" stroke="none" stroke-width="0.5"/>
<circle cx="76.67" cy="61.76" r="1.95" fill="#BA9034" stroke="none" stroke-width="0.5"/>
<circle cx="59.61" cy="75.88" r="1.95" fill="#BA9034" stroke="none" stroke-width="0.5"/>
<circle cx="80.72" cy="81.37" r="1.95" fill="#BA9034" stroke="none" stroke-width="0.5"/>
<circle cx="72.16" cy="66.29" r="1.95" fill="#BA9034" stroke="none" stroke-width="0.5"/>
<circle cx="66.88" cy="69.67" r="1.95" fill="#BA9034" stroke="none" stroke-width="0.5"/>
<circle cx="72.23" cy="73.91" r="1.95" fill="#BA9034" stroke="none" stroke-width="0.5"/>
<circle cx="58.86" cy="81.78" r="1.95" fill="#BA9034" stroke="none" stroke-width="0.5"/>
<circle cx="77.26" cy="82.72" r="1.95" fill="#BA9034" stroke="none" stroke-width="0.5"/>
<circle cx="63.84" cy="88.77" r="1.95" fill="#BA9034" stroke="none" stroke-width="0.5"/>
<circle cx="86.18" cy="69.47" r="1.95" fill="#BA9034" stroke="none" stroke-width="0.5"/>
<circle cx="65.56" cy="85.43" r="1.95" fill="#BA9034" stroke="none" stroke-width="0.5"/>
<circle cx="67.61" cy="56.5" r="1.95" fill="#BA9034" stroke="none" stroke-width="0.5"/>
<circle cx="65.79" cy="38.96" r="1.95" fill="#BA9034" stroke="none" stroke-width="0.5"/>
<circle cx="60.02" cy="120.5" r="1.95" fill="#BA9034" stroke="none" stroke-width="0.5"/>
<circle cx="53.4" cy="78.56" r="1.95" fill="#BA9034" stroke="none" stroke-width="0.5"/>
<circle cx="84.4" cy="88.42" r="1.95" fill="#BA9034" stroke="none" stroke-width="0.5"/>
<circle cx="67.26" cy="105.14" r="1.95" fill="#BA9034" stroke="none" stroke-width="0.5"/>
<circle cx="83.75" cy="62.34" r="1.95" fill="#BA9034" stroke="none" stroke-width="0.5"/>
<circle cx="53.71" cy="86.87" r="1.95" fill="#BA9034" stroke="none" stroke-width="0.5"/>
<circle cx="72.28" cy="74.49" r="1.95" fill="#BA9034" stroke="none" stroke-width="0.5"/>
<circle cx="56.28" cy="100.8" r="1.95" fill="#BA9034" stroke="none" stroke-width="0.5"/>
<circle cx="74.73" cy="106.03" r="1.95" fill="#BA9034" stroke="none" stroke-width="0.5"/>
<circle cx="58.25" cy="90.95" r="1.95" fill="#BA9034" stroke="none" stroke-width="0.5"/>
<circle cx="63" cy="62.25" r="1.95" fill="#BA9034" stroke="none" stroke-width="0.5"/>
<circle cx="56.96" cy="115.67" r="1.95" fill="#BA9034" stroke="none" stroke-width="0.5"/>
<circle cx="70.17" cy="82.15" r="1.95" fill="#BA9034" stroke="none" stroke-width="0.5"/>
<circle cx="60.03" cy="61.88" r="1.95" fill="#BA9034" stroke="none" stroke-width="0.5"/>
<circle cx="57.58" cy="119.07" r="1.95" fill="#BA9034" stroke="none" stroke-width="0.5"/>
<circle cx="69.9" cy="33.26" r="1.95" fill="#BA9034" stroke="none" stroke-width="0.5"/>
<circle cx="55.05" cy="93.31" r="1.95" fill="#BA9034" stroke="none" stroke-width="0.5"/>
<circle cx="84.49" cy="61.8" r="1.95" fill="#BA9034" stroke="none" stroke-width="0.5"/>
<circle cx="74.66" cy="84.57" r="1.95" fill="#BA9034" stroke="none" stroke-width="0.5"/>
<circle cx="80.39" cy="72.4" r="1.95" fill="#BA9034" stroke="none" stroke-width="0.5"/>
<circle cx="60.88" cy="86.01" r="1.95" fill="#BA9034" stroke="none" stroke-width="0.5"/>
<circle cx="81.89" cy="104.34" r="1.95" fill="#BA9034" stroke="none" stroke-width="0.5"/>
<circle cx="59.53" cy="58.25" r="1.95" fill="#BA9034" stroke="none" stroke-width="0.5"/>
<circle cx="71.12" cy="73.53" r="1.95" fill="#BA9034" stroke="none" stroke-width="0.5"/>
<circle cx="66.47" cy="60.01" r="1.95" fill="#BA9034" stroke="none" stroke-width="0.5"/>
<circle cx="78.28" cy="67.74" r="1.95" fill="#BA9034" stroke="none" stroke-width="0.5"/>
<circle cx="84.25" cy="67.96" r="1.95" fill="#BA9034" stroke="none" stroke-width="0.5"/>
<circle cx="79.41" cy="55.68" r="1.95" fill="#BA9034" stroke="none" stroke-width="0.5"/>
<circle cx="54.52" cy="71.35" r="1.95" fill="#BA9034" stroke="none" stroke-width="0.5"/>
<circle cx="73.94" cy="72.46" r="1.95" fill="#BA9034" stroke="none" stroke-width="0.5"/>
<circle cx="72.23" cy="84.26" r="1.95" fill="#BA9034" stroke="none" stroke-width="0.5"/>
<circle cx="67.73" cy="87.2" r="1.95" fill="#BA9034" stroke="none" stroke-width="0.5"/>
<circle cx="73.36" cy="87.46" r="1.95" fill="#BA9034" stroke="none" stroke-width="0.5"/>
<circle cx="68.66" cy="99.41" r="1.95" fill="#BA9034" stroke="none" stroke-width="0.5"/>
<circle cx="68.37" cy="65.67" r="1.95" fill="#BA9034" stroke="none" stroke-width="0.5"/>
<circle cx="70.14" cy="53.44" r="1.95" fill="#BA9034" stroke="none" stroke-width="0.5"/>
<circle cx="61.34" cy="73.49" r="1.95" fill="#BA9034" stroke="none" stroke-width="0.5"/>
<circle cx="69.06" cy="74.44" r="1.95" fill="#BA9034" stroke="none" stroke-width="0.5"/>
<circle cx="59.41" cy="106.67" r="1.95" fill="#BA9034" stroke="none" stroke-width="0.5"/>
<circle cx="57.64" cy="85.01" r="1.95" fill="#BA9034" stroke="none" stroke-width="0.5"/>
<circle cx="68.1" cy="75.61" r="1.95" fill="#BA9034" stroke="none" stroke-width="0.5"/>
<circle cx="70.85" cy="61.46" r="1.95" fill="#BA9034" stroke="none" stroke-width="0.5"/>
<circle cx="54.61" cy="66.89" r="1.95" fill="#BA9034" stroke="none" stroke-width="0.5"/>
<circle cx="78.58" cy="81.62" r="1.95" fill="#BA9034" stroke="none" stroke-width="0.5"/>
<circle cx="80.11" cy="82.34" r="1.95" fill="#BA9034" stroke="none" stroke-width="0.5"/>
<circle cx="70.64" cy="82.68" r="1.95" fill="#BA9034" stroke="none" stroke-width="0.5"/>
<circle cx="66.27" cy="77.39" r="1.95" fill="#BA9034" stroke="none" stroke-width="0.5"/>
<circle cx="82.85" cy="68.14" r="1.95" fill="#BA9034" stroke="none" stroke-width="0.5"/>
<circle cx="87.67" cy="79.79" r="1.95" fill="#BA9034" stroke="none" stroke-width="0.5"/>
<circle cx="59.9" cy="80.51" r="1.95" fill="#BA9034" stroke="none" stroke-width="0.5"/>
<circle cx="87.17" cy="108.24" r="1.95" fill="#BA9034" stroke="none" stroke-width="0.5"/>
<circle cx="84.9" cy="119.83" r="1.95" fill="#BA9034" stroke="none" stroke-width="0.5"/>
<circle cx="58.91" cy="74.78" r="1.95" fill="#BA9034" stroke="none" stroke-width="0.5"/>
<circle cx="55.47" cy="67.52" r="1.95" fill="#BA9034" stroke="none" stroke-width="0.5"/>
<circle cx="65.34" cy="115.4" r="1.95" fill="#BA9034" stroke="none" stroke-width="0.5"/>
<circle cx="84.22" cy="76.58" r="1.95" fill="#BA9034" stroke="none" stroke-width="0.5"/>
<circle cx="62.71" cy="87.04" r="1.95" fill="#BA9034" stroke="none" stroke-width="0.5"/>
<circle cx="70.58" cy="73.15" r="1.95" fill="#BA9034" stroke="none" stroke-width="0.5"/>
<circle cx="85.03" cy="85.71" r="1.95" fill="#BA9034" stroke="none" stroke-width="0.5"/>
<circle cx="70.71" cy="73.51" r="1.95" fill="#BA9034" stroke="none" stroke-width="0.5"/>
<circle cx="64.24" cy="64.05" r="1.95" fill="#BA9034" stroke="none" stroke-width="0.5"/>
<circle cx="58.78" cy="66.4" r="1.95" fill="#BA9034" stroke="none" stroke-width="0.5"/>
<circle cx="85.6" cy="74.48" r="1.95" fill="#BA9034" stroke="none" stroke-width="0.5"/>
<circle cx="59.04" cy="92.54" r="1.95" fill="#BA9034" stroke="none" stroke-width="0.5"/>
<circle cx="80.36" cy="109.88" r="1.95" fill="#BA9034" stroke="none" stroke-width="0.5"/>
<circle cx="75.22" cy="61.17" r="1.95" fill="#BA9034" stroke="none" stroke-width="0.5"/>
<circle cx="65.65" cy="63.03" r="1.95" fill="#BA9034" stroke="none" stroke-width="0.5"/>
<circle cx="73.27" cy="61.76" r="1.95" fill="#BA9034" stroke="none" stroke-width="0.5"/>
<circle cx="83.74" cy="92.59" r="1.95" fill="#BA9034" stroke="none" stroke-width="0.5"/>
<circle cx="74.99" cy="34.28" r="1.95" fill="#BA9034" stroke="none" stroke-width="0.5"/>
<circle cx="66.84" cy="44.03" r="1.95" fill="#BA9034" stroke="none" stroke-width="0.5"/>
<circle cx="87.47" cy="73.01" r="1.95" fill="#BA9034" stroke="none" stroke-width="0.5"/>
<circle cx="73.18" cy="89.81" r="1.95" fill="#BA9034" stroke="none" stroke-width="0.5"/>
<circle cx="68.5" cy="95.58" r="1.95" fill="#BA9034" stroke="none" stroke-width="0.5"/>
<circle cx="59.32" cy="54.55" r="1.95" fill="#BA9034" stroke="none" stroke-width="0.5"/>
<circle cx="81.57" cy="77.19" r="1.95" fill="#BA9034" stroke="none" stroke-width="0.5"/>
<circle cx="61.98" cy="82.36" r="1.95" fill="#BA9034" stroke="none" stroke-width="0.5"/>
<circle cx="73.47" cy="108.57" r="1.95" fill="#BA9034" stroke="none" stroke-width="0.5"/>
<circle cx="76.16" cy="114.8" r="1.95" fill="#BA9034" stroke="none" stroke-width="0.5"/>
<circle cx="54.37" cy="77.37" r="1.95" fill="#BA9034" stroke="none" stroke-width="0.5"/>
<circle cx="58.37" cy="76.03" r="1.95" fill="#BA9034" stroke="none" stroke-width="0.5"/>
<circle cx="70.94" cy="90.57" r="1.95" fill="#BA9034" stroke="none" stroke-width="0.5"/>
<circle cx="84.19" cy="89.12" r="1.95" fill="#BA9034" stroke="none" stroke-width="0.5"/>
<circle cx="75.8" cy="68.67" r="1.95" fill="#BA9034" stroke="none" stroke-width="0.5"/>
<circle cx="53.97" cy="67.9" r="1.95" fill="#BA9034" stroke="none" stroke-width="0.5"/>
<circle cx="56.88" cy="60.94" r="1.95" fill="#BA9034" stroke="none" stroke-width="0.5"/>
<circle cx="65.56" cy="76.71" r="1.95" fill="#BA9034" stroke="none" stroke-width="0.5"/>
<circle cx="73.58" cy="73.32" r="1.95" fill="#BA9034" stroke="none" stroke-width="0.5"/>
<circle cx="60.26" cy="54.59" r="1.95" fill="#BA9034" stroke="none" stroke-width="0.5"/>
<circle cx="57.86" cy="90.81" r="1.95" fill="#BA9034" stroke="none" stroke-width="0.5"/>
<circle cx="85.61" cy="90.63" r="1.95" fill="#BA9034" stroke="none" stroke-width="0.5"/>
<circle cx="56.51" cy="76.58" r="1.95" fill="#BA9034" stroke="none" stroke-width="0.5"/>
<circle cx="75.28" cy="67.24" r="1.95" fill="#BA9034" stroke="none" stroke-width="0.5"/>
<circle cx="67.11" cy="56.33" r="1.95" fill="#BA9034" stroke="none" stroke-width="0.5"/>
<circle cx="62.34" cy="98.61" r="1.95" fill="#BA9034" stroke="none" stroke-width="0.5"/>
<circle cx="72.66" cy="52.39" r="1.95" fill="#BA9034" stroke="none" stroke-width="0.5"/>
<circle cx="65.32" cy="75.19" r="1.95" fill="#BA9034" stroke="none" stroke-width="0.5"/>
<circle cx="85.63" cy="88.29" r="1.95" fill="#BA9034" stroke="none" stroke-width="0.5"/>
<circle cx="78.58" cy="91.68" r="1.95" fill="#BA9034" stroke="none" stroke-width="0.5"/>
<circle cx="54.72" cy="76.62" r="1.95" fill="#BA9034" stroke="none" stroke-width="0.5"/>
<circle cx="71.59" cy="39.93" r="1.95" fill="#BA9034" stroke="none" stroke-width="0.5"/>
<circle cx="55.22" cy="87.46" r="1.95" fill="#BA9034" stroke="none" stroke-width="0.5"/>
<circle cx="80.15" cy="69.95" r="1.95" fill="#BA9034" stroke="none" stroke-width="0.5"/>
<circle cx="85.76" cy="55.36" r="1.95" fill="#BA9034" stroke="none" stroke-width="0.5"/>
<circle cx="58.12" cy="75.29" r="1.95" fill="#BA9034" stroke="none" stroke-width="0.5"/>
<circle cx="70.74" cy="69.66" r="1.95" fill="#BA9034" stroke="none" stroke-width="0.5"/>
<circle cx="75.4" cy="54.7" r="1.95" fill="#BA9034" stroke="none" stroke-width="0.5"/>
<circle cx="63.9" cy="72.86" r="1.95" fill="#BA9034" stroke="none" stroke-width="0.5"/>
<circle cx="63.59" cy="86.76" r="1.95" fill="#BA9034" stroke="none" stroke-width="0.5"/>
<circle cx="80.29" cy="42.69" r="1.95" fill="#BA9034" stroke="none" stroke-width="0.5"/>
<circle cx="77.95" cy="66.19" r="1.95" fill="#BA9034" stroke="none" stroke-width="0.5"/>
<circle cx="78.98" cy="43.96" r="1.95" fill="#BA9034" stroke="none" stroke-width="0.5"/>
<circle cx="69.3" cy="75.66" r="1.95" fill="#BA9034" stroke="none" stroke-width="0.5"/>
<circle cx="61.02" cy="77.95" r="1.95" fill="#BA9034" stroke="none" stroke-width="0.5"/>
<circle cx="56.84" cy="95.75" r="1.95" fill="#BA9034" stroke="none" stroke-width="0.5"/>
<circle cx="64.81" cy="76.44" r="1.95" fill="#BA9034" stroke="none" stroke-width="0.5"/>
<circle cx="79.14" cy="72.18" r="1.95" fill="#BA9034" stroke="none" stroke-width="0.5"/>
<circle cx="77.82" cy="88.16" r="1.95" fill="#BA9034" stroke="none" stroke-width="0.5"/>
<circle cx="62.4" cy="108.12" r="1.95" fill="#BA9034" stroke="none" stroke-width="0.5"/>
<circle cx="80.48" cy="94.27" r="1.95" fill="#BA9034" stroke="none" stroke-width="0.5"/>
<circle cx="71.3" cy="83.05" r="1.95" fill="#BA9034" stroke="none" stroke-width="0.5"/>
<circle cx="86.59" cy="79.33" r="1.95" fill="#BA9034" stroke="none" stroke-width="0.5"/>
<circle cx="60.71" cy="52.53" r="1.95" fill="#BA9034" stroke="none" stroke-width="0.5"/>
<circle cx="62.21" cy="74.79" r="1.95" fill="#BA9034" stroke="none" stroke-width="0.5"/>
<circle cx="61.37" cy="79.03" r="1.95" fill="#BA9034" stroke="none" stroke-width="0.5"/>
<circle cx="79.02" cy="78.56" r="1.95" fill="#BA9034" stroke="none" stroke-width="0.5"/>
<circle cx="64.51" cy="118.16" r="1.95" fill="#BA9034" stroke="none" stroke-width="0.5"/>
<circle cx="61.48" cy="65.82" r="1.95" fill="#BA9034" stroke="none" stroke-width="0.5"/>
<circle cx="84.6" cy="87.43" r="1.95" fill="#BA9034" stroke="none" stroke-width="0.5"/>
<circle cx="76.22" cy="94.91" r="1.95" fill="#BA9034" stroke="none" stroke-width="0.5"/>
<circle cx="87.07" cy="96.24" r="1.95" fill="#BA9034" stroke="none" stroke-width="0.5"/>
<circle cx="77.34" cy="109.15" r="1.95" fill="#BA9034" stroke="none" stroke-width="0.5"/>
<circle cx="82.87" cy="70.73" r="1.95" fill="#BA9034" stroke="none" stroke-width="0.5"/>
<circle cx="72.93" cy="102.37" r="1.95" fill="#BA9034" stroke="none" stroke-width="0.5"/>
<circle cx="63.85" cy="66.4" r="1.95" fill="#BA9034" stroke="none" stroke-width="0.5"/>
<circle cx="55.89" cy="71.31" r="1.95" fill="#BA9034" stroke="none" stroke-width="0.5"/>
<circle cx="84.71" cy="53.74" r="1.95" fill="#BA9034" stroke="none" stroke-width="0.5"/>
<circle cx="56.89" cy="74.51" r="1.95" fill="#BA9034" stroke="none" stroke-width="0.5"/>
<circle cx="85.34" cy="73.82" r="1.95" fill="#BA9034" stroke="none" stroke-width="0.5"/>
<circle cx="54.19" cy="82.29" r="1.95" fill="#BA9034" stroke="none" stroke-width="0.5"/>
<circle cx="54.64" cy="69.13" r="1.95" fill="#BA9034" stroke="none" stroke-width="0.5"/>
<circle cx="77.32" cy="85.54" r="1.95" fill="#BA9034" stroke="none" stroke-width="0.5"/>
<circle cx="78.69" cy="99.7" r="1.95" fill="#BA9034" stroke="none" stroke-width="0.5"/>
<circle cx="65.77" cy="56.01" r="1.95" fill="#BA9034" stroke="none" stroke-width="0.5"/>
<circle cx="81.49" cy="67.78" r="1.95" fill="#BA9034" stroke="none" stroke-width="0.5"/>
<circle cx="55.48" cy="61.7" r="1.95" fill="#BA9034" stroke="none" stroke-width="0.5"/>
<circle cx="83.23" cy="109.67" r="1.95" fill="#BA9034" stroke="none" stroke-width="0.5"/>
<circle cx="56.91" cy="41.61" r="1.95" fill="#BA9034" stroke="none" stroke-width="0.5"/>
<circle cx="60.32" cy="98.06" r="1.95" fill="#BA9034" stroke="none" stroke-width="0.5"/>
<circle cx="82.53" cy="73.52" r="1.95" fill="#BA9034" stroke="none" stroke-width="0.5"/>
<circle cx="81.3" cy="74.04" r="1.95" fill="#BA9034" stroke="none" stroke-width="0.5"/>
<circle cx="75.05" cy="98.25" r="1.95" fill="#BA9034" stroke="none" stroke-width="0.5"/>
<circle cx="63.14" cy="100.86" r="1.95" fill="#BA9034" stroke="none" stroke-width="0.5"/>
<circle cx="79.4" cy="70.68" r="1.95" fill="#BA9034" stroke="none" stroke-width="0.5"/>
<circle cx="60.29" cy="72.41" r="1.95" fill="#BA9034" stroke="none" stroke-width="0.5"/>
<circle cx="53.92" cy="84.54" r="1.95" fill="#BA9034" stroke="none" stroke-width="0.5"/>
<circle cx="62.08" cy="60.66" r="1.95" fill="#BA9034" stroke="none" stroke-width="0.5"/>
<circle cx="65.93" cy="82.5" r="1.95" fill="#BA9034" stroke="none" stroke-width="0.5"/>
<circle cx="64.3" cy="50.37" r="1.95" fill="#BA9034" stroke="none" stroke-width="0.5"/>
<circle cx="82.66" cy="57.21" r="1.95" fill="#BA9034" stroke="none" stroke-width="0.5"/>
<circle cx="74.59" cy="81.52" r="1.95" fill="#BA9034" stroke="none" stroke-width="0.5"/>
<circle cx="68.3" cy="59.63" r="1.95" fill="#BA9034" stroke="none" stroke-width="0.5"/>
<circle cx="79.95" cy="73.55" r="1.95" fill="#BA9034" stroke="none" stroke-width="0.5"/>
<circle cx="71.81" cy="92.26" r="1.95" fill="#BA9034" stroke="none" stroke-width="0.5"/>
<circle cx="60.69" cy="55.02" r="1.95" fill="#BA9034" stroke="none" stroke-width="0.5"/>
<circle cx="81.57" cy="72.13" r="1.95" fill="#BA9034" stroke="none" stroke-width="0.5"/>
<circle cx="59.09" cy="82.67" r="1.95" fill="#BA9034" stroke="none" stroke-width="0.5"/>
<circle cx="79.57" cy="65.47" r="1.95" fill="#BA9034" stroke="none" stroke-width="0.5"/>
<circle cx="87.03" cy="76.88" r="1.95" fill="#BA9034" stroke="none" stroke-width="0.5"/>
<circle cx="70.21" cy="57.08" r="1.95" fill="#BA9034" stroke="none" stroke-width="0.5"/>
<circle cx="80.77" cy="76.43" r="1.95" fill="#BA9034" stroke="none" stroke-width="0.5"/>
<circle cx="65.21" cy="68.97" r="1.95" fill="#BA9034" stroke="none" stroke-width="0.5"/>
<circle cx="81.98" cy="58.63" r="1.95" fill="#BA9034" stroke="none" stroke-width="0.5"/>
<circle cx="63.02" cy="79.7" r="1.95" fill="#BA9034" stroke="none" stroke-width="0.5"/>
<circle cx="60.63" cy="35.95" r="1.95" fill="#BA9034" stroke="none" stroke-width="0.5"/>
<circle cx="57" cy="83.25" r="1.95" fill="#BA9034" stroke="none" stroke-width="0.5"/>
<circle cx="75.22" cy="96.09" r="1.95" fill="#BA9034" stroke="none" stroke-width="0.5"/>
<circle cx="77.32" cy="50.62" r="1.95" fill="#BA9034" stroke="none" stroke-width="0.5"/>
<circle cx="80.43" cy="62.29" r="1.95" fill="#BA9034" stroke="none" stroke-width="0.5"/>
<circle cx="67.08" cy="88.12" r="1.95" fill="#BA9034" stroke="none" stroke-width="0.5"/>
<circle cx="66.85" cy="88.54" r="1.95" fill="#BA9034" stroke="none" stroke-width="0.5"/>
<circle cx="83.94" cy="71.36" r="1.95" fill="#BA9034" stroke="none" stroke-width="0.5"/>
<circle cx="54.07" cy="81.6" r="1.95" fill="#BA9034" stroke="none" stroke-width="0.5"/>
<circle cx="84.38" cy="73.33" r="1.95" fill="#BA9034" stroke="none" stroke-width="0.5"/>
<circle cx="70.54" cy="64.09" r="1.95" fill="#BA9034" stroke="none" stroke-width="0.5"/>
<circle cx="61.28" cy="102.79" r="1.95" fill="#BA9034" stroke="none" stroke-width="0.5"/>
<circle cx="69.15" cy="52.52" r="1.95" fill="#BA9034" stroke="none" stroke-width="0.5"/>
<circle cx="67.5" cy="21.87" r="1.95" fill="#BC9236" stroke="none" stroke-width="0.5"/>
<circle cx="75.5" cy="23.3" r="1.95" fill="#BC9236" stroke="none" stroke-width="0.5"/>
<circle cx="62.5" cy="136.07" r="1.95" fill="#BC9236" stroke="none" stroke-width="0.5"/>
<circle cx="78.5" cy="133.22" r="1.95" fill="#BC9236" stroke="none" stroke-width="0.5"/>
<circle cx="60.5" cy="26.15" r="1.95" fill="#BC9236" stroke="none" stroke-width="0.5"/>
<circle cx="118.94" cy="112.05" r="1.95" fill="#5A90AE" stroke="none" stroke-width="0.5"/>
<circle cx="115.64" cy="104.55" r="1.95" fill="#5A90AE" stroke="none" stroke-width="0.5"/>
<circle cx="100.42" cy="105.61" r="1.95" fill="#5A90AE" stroke="none" stroke-width="0.5"/>
<circle cx="121.74" cy="98.53" r="1.95" fill="#5A90AE" stroke="none" stroke-width="0.5"/>
<circle cx="100.86" cy="107.6" r="1.95" fill="#5A90AE" stroke="none" stroke-width="0.5"/>
<circle cx="109.2" cy="110.67" r="1.95" fill="#5A90AE" stroke="none" stroke-width="0.5"/>
<circle cx="99.51" cy="101.57" r="1.95" fill="#5A90AE" stroke="none" stroke-width="0.5"/>
<circle cx="109.92" cy="110.1" r="1.95" fill="#5A90AE" stroke="none" stroke-width="0.5"/>
<circle cx="101.54" cy="99.51" r="1.95" fill="#5A90AE" stroke="none" stroke-width="0.5"/>
<circle cx="104.95" cy="105.45" r="1.95" fill="#5A90AE" stroke="none" stroke-width="0.5"/>
<circle cx="100.39" cy="105.86" r="1.95" fill="#5A90AE" stroke="none" stroke-width="0.5"/>
<circle cx="100.44" cy="113.2" r="1.95" fill="#5A90AE" stroke="none" stroke-width="0.5"/>
<circle cx="111.79" cy="102.59" r="1.95" fill="#5A90AE" stroke="none" stroke-width="0.5"/>
<circle cx="100.59" cy="97.59" r="1.95" fill="#5A90AE" stroke="none" stroke-width="0.5"/>
<circle cx="125.83" cy="104.41" r="1.95" fill="#5A90AE" stroke="none" stroke-width="0.5"/>
<circle cx="118.19" cy="99.41" r="1.95" fill="#5A90AE" stroke="none" stroke-width="0.5"/>
<circle cx="98.75" cy="90.94" r="1.95" fill="#5A90AE" stroke="none" stroke-width="0.5"/>
<circle cx="107.51" cy="93.94" r="1.95" fill="#5A90AE" stroke="none" stroke-width="0.5"/>
<circle cx="118.33" cy="92.56" r="1.95" fill="#5A90AE" stroke="none" stroke-width="0.5"/>
<circle cx="109.08" cy="103.7" r="1.95" fill="#5A90AE" stroke="none" stroke-width="0.5"/>
<circle cx="98.91" cy="99.97" r="1.95" fill="#5A90AE" stroke="none" stroke-width="0.5"/>
<circle cx="102" cy="94.99" r="1.95" fill="#5A90AE" stroke="none" stroke-width="0.5"/>
<circle cx="107.97" cy="103.82" r="1.95" fill="#5A90AE" stroke="none" stroke-width="0.5"/>
<circle cx="120.12" cy="101.7" r="1.95" fill="#5A90AE" stroke="none" stroke-width="0.5"/>
<circle cx="115.2" cy="105.01" r="1.95" fill="#5A90AE" stroke="none" stroke-width="0.5"/>
<circle cx="109.96" cy="108.98" r="1.95" fill="#5A90AE" stroke="none" stroke-width="0.5"/>
<circle cx="108.15" cy="97.79" r="1.95" fill="#5A90AE" stroke="none" stroke-width="0.5"/>
<circle cx="118.57" cy="96.63" r="1.95" fill="#5A90AE" stroke="none" stroke-width="0.5"/>
<circle cx="113.39" cy="97.6" r="1.95" fill="#5A90AE" stroke="none" stroke-width="0.5"/>
<circle cx="118.82" cy="105.98" r="1.95" fill="#5A90AE" stroke="none" stroke-width="0.5"/>
<circle cx="117.99" cy="106.29" r="1.95" fill="#5A90AE" stroke="none" stroke-width="0.5"/>
<circle cx="122.88" cy="100.71" r="1.95" fill="#5A90AE" stroke="none" stroke-width="0.5"/>
<circle cx="122.03" cy="101.34" r="1.95" fill="#5A90AE" stroke="none" stroke-width="0.5"/>
<circle cx="116.67" cy="111.43" r="1.95" fill="#5A90AE" stroke="none" stroke-width="0.5"/>
<circle cx="105.3" cy="106.63" r="1.95" fill="#5A90AE" stroke="none" stroke-width="0.5"/>
<circle cx="115.08" cy="107.55" r="1.95" fill="#5A90AE" stroke="none" stroke-width="0.5"/>
<circle cx="119.85" cy="97.8" r="1.95" fill="#5A90AE" stroke="none" stroke-width="0.5"/>
<circle cx="117.71" cy="99.23" r="1.95" fill="#5A90AE" stroke="none" stroke-width="0.5"/>
<circle cx="108.73" cy="105.64" r="1.95" fill="#5A90AE" stroke="none" stroke-width="0.5"/>
<circle cx="109.71" cy="105.82" r="1.95" fill="#5A90AE" stroke="none" stroke-width="0.5"/>
<circle cx="116.53" cy="106.9" r="1.95" fill="#5A90AE" stroke="none" stroke-width="0.5"/>
<circle cx="124.44" cy="106.72" r="1.95" fill="#5A90AE" stroke="none" stroke-width="0.5"/>
<circle cx="119.72" cy="99.27" r="1.95" fill="#5A90AE" stroke="none" stroke-width="0.5"/>
<circle cx="107.65" cy="95.07" r="1.95" fill="#5A90AE" stroke="none" stroke-width="0.5"/>
<circle cx="96.78" cy="118.12" r="1.95" fill="#5A90AE" stroke="none" stroke-width="0.5"/>
<circle cx="112.44" cy="101.68" r="1.95" fill="#5A90AE" stroke="none" stroke-width="0.5"/>
<circle cx="124.76" cy="92.86" r="1.95" fill="#5A90AE" stroke="none" stroke-width="0.5"/>
<circle cx="111.7" cy="84.99" r="1.95" fill="#5A90AE" stroke="none" stroke-width="0.5"/>
<circle cx="112.37" cy="91.07" r="1.95" fill="#5A90AE" stroke="none" stroke-width="0.5"/>
<circle cx="117.84" cy="95.02" r="1.95" fill="#5A90AE" stroke="none" stroke-width="0.5"/>
<circle cx="121.3" cy="126.42" r="1.95" fill="#5A90AE" stroke="none" stroke-width="0.5"/>
<circle cx="111.77" cy="107.65" r="1.95" fill="#5A90AE" stroke="none" stroke-width="0.5"/>
<circle cx="102.11" cy="87.56" r="1.95" fill="#5A90AE" stroke="none" stroke-width="0.5"/>
<circle cx="119.24" cy="111.81" r="1.95" fill="#5A90AE" stroke="none" stroke-width="0.5"/>
<circle cx="99.39" cy="119.15" r="1.95" fill="#5A90AE" stroke="none" stroke-width="0.5"/>
<circle cx="97.36" cy="92.78" r="1.95" fill="#5A90AE" stroke="none" stroke-width="0.5"/>
<circle cx="104.11" cy="107.4" r="1.95" fill="#5A90AE" stroke="none" stroke-width="0.5"/>
<circle cx="108.58" cy="107.98" r="1.95" fill="#5A90AE" stroke="none" stroke-width="0.5"/>
<line x1="70.5" y1="63.27" x2="70.5" y2="27.58" stroke="#333" stroke-width="0.7"/>
<line x1="70.5" y1="93.25" x2="70.5" y2="127.51" stroke="#333" stroke-width="0.7"/>
<line x1="111.1" y1="98.1" x2="111.1" y2="84.68" stroke="#333" stroke-width="0.7"/>
<line x1="111.1" y1="109.52" x2="111.1" y2="130.36" stroke="#333" stroke-width="0.7"/>
<rect x="96" y="98.1" width="30" height="11.42" fill="none" stroke="#777" stroke-width="0.5"/>
<line x1="96" y1="103.24" x2="126" y2="103.24" stroke="#777" stroke-width="0.5"/>
<circle cx="70.5" cy="21.87" r="0.8" fill="#111" stroke="none" stroke-width="0.5"/>
<circle cx="70.5" cy="24.73" r="0.8" fill="#111" stroke="none" stroke-width="0.5"/>
<circle cx="70.5" cy="27.58" r="0.8" fill="#111" stroke="none" stroke-width="0.5"/>
<circle cx="70.5" cy="34.72" r="0.8" fill="#111" stroke="none" stroke-width="0.5"/>
<circle cx="70.5" cy="131.79" r="0.8" fill="#111" stroke="none" stroke-width="0.5"/>
<circle cx="70.5" cy="134.07" r="0.8" fill="#111" stroke="none" stroke-width="0.5"/>
<circle cx="70.5" cy="136.64" r="0.8" fill="#111" stroke="none" stroke-width="0.5"/>
<text x="73.5" y="147" font-size="5.9" text-anchor="end" fill="#555" stroke="#555" stroke-width="0.13" transform="rotate(-45 73.5 147)">Tumor</text>
<text x="114.5" y="147" font-size="5.9" text-anchor="end" fill="#555" stroke="#555" stroke-width="0.13" transform="rotate(-45 114.5 147)">Normal</text>
<line x1="70.5" y1="142.3" x2="70.5" y2="144" stroke="#555" stroke-width="0.5"/>
<line x1="111.1" y1="142.3" x2="111.1" y2="144" stroke="#555" stroke-width="0.5"/>
<text x="156.2" y="12.55" font-size="16.5" font-weight="bold" text-anchor="start" fill="#1f1513">B</text>
<text x="179.3" y="10" font-size="11.1" font-weight="bold" text-anchor="start" fill="#111">Expression of Genes by Mutation Status in TCGA-LUAD</text>
<line x1="178" y1="106.22" x2="426.6" y2="106.22" stroke="#f2f2f2" stroke-width="0.5"/>
<line x1="178" y1="83.26" x2="426.6" y2="83.26" stroke="#f2f2f2" stroke-width="0.5"/>
<line x1="178" y1="60.3" x2="426.6" y2="60.3" stroke="#f2f2f2" stroke-width="0.5"/>
<line x1="178" y1="37.34" x2="426.6" y2="37.34" stroke="#f2f2f2" stroke-width="0.5"/>
<line x1="178" y1="117.7" x2="426.6" y2="117.7" stroke="#e8e8e8" stroke-width="0.6"/>
<text x="176" y="120.1" font-size="6.6" text-anchor="end" fill="#555" stroke="#555" stroke-width="0.15">0</text>
<line x1="178" y1="94.74" x2="426.6" y2="94.74" stroke="#e8e8e8" stroke-width="0.6"/>
<text x="176" y="97.14" font-size="6.6" text-anchor="end" fill="#555" stroke="#555" stroke-width="0.15">2</text>
<line x1="178" y1="71.78" x2="426.6" y2="71.78" stroke="#e8e8e8" stroke-width="0.6"/>
<text x="176" y="74.18" font-size="6.6" text-anchor="end" fill="#555" stroke="#555" stroke-width="0.15">4</text>
<line x1="178" y1="48.82" x2="426.6" y2="48.82" stroke="#e8e8e8" stroke-width="0.6"/>
<text x="176" y="51.22" font-size="6.6" text-anchor="end" fill="#555" stroke="#555" stroke-width="0.15">6</text>
<line x1="178" y1="25.86" x2="426.6" y2="25.86" stroke="#e8e8e8" stroke-width="0.6"/>
<text x="176" y="28.26" font-size="6.6" text-anchor="end" fill="#555" stroke="#555" stroke-width="0.15">8</text>
<line x1="193" y1="14" x2="193" y2="121" stroke="#e8e8e8" stroke-width="0.6"/>
<line x1="217.4" y1="14" x2="217.4" y2="121" stroke="#e8e8e8" stroke-width="0.6"/>
<line x1="241.8" y1="14" x2="241.8" y2="121" stroke="#e8e8e8" stroke-width="0.6"/>
<line x1="266.2" y1="14" x2="266.2" y2="121" stroke="#e8e8e8" stroke-width="0.6"/>
<line x1="290.6" y1="14" x2="290.6" y2="121" stroke="#e8e8e8" stroke-width="0.6"/>
<line x1="315" y1="14" x2="315" y2="121" stroke="#e8e8e8" stroke-width="0.6"/>
<line x1="339.4" y1="14" x2="339.4" y2="121" stroke="#e8e8e8" stroke-width="0.6"/>
<line x1="363.8" y1="14" x2="363.8" y2="121" stroke="#e8e8e8" stroke-width="0.6"/>
<line x1="388.2" y1="14" x2="388.2" y2="121" stroke="#e8e8e8" stroke-width="0.6"/>
<line x1="412.6" y1="14" x2="412.6" y2="121" stroke="#e8e8e8" stroke-width="0.6"/>
<line x1="188.75" y1="39.06" x2="188.75" y2="28.16" stroke="#444" stroke-width="0.7"/>
<line x1="188.75" y1="44.8" x2="188.75" y2="52.84" stroke="#444" stroke-width="0.7"/>
<rect x="184.75" y="39.06" width="8" height="5.74" fill="#D0675E" stroke="#333" stroke-width="0.55"/>
<line x1="184.75" y1="41.93" x2="192.75" y2="41.93" stroke="#222" stroke-width="1"/>
<circle cx="188.75" cy="25.86" r="1.3" fill="#222" stroke="none" stroke-width="0.5"/>
<circle cx="188.75" cy="24.71" r="1.3" fill="#222" stroke="none" stroke-width="0.5"/>
<circle cx="188.75" cy="55.13" r="1.3" fill="#222" stroke="none" stroke-width="0.5"/>
<line x1="197.25" y1="37.34" x2="197.25" y2="24.71" stroke="#444" stroke-width="0.7"/>
<line x1="197.25" y1="46.52" x2="197.25" y2="60.3" stroke="#444" stroke-width="0.7"/>
<rect x="193.25" y="37.34" width="8" height="9.18" fill="#2B5A8A" stroke="#333" stroke-width="0.55"/>
<line x1="193.25" y1="41.93" x2="201.25" y2="41.93" stroke="#222" stroke-width="1"/>
<circle cx="197.25" cy="22.99" r="1.3" fill="#222" stroke="none" stroke-width="0.5"/>
<circle cx="197.25" cy="21.84" r="1.3" fill="#222" stroke="none" stroke-width="0.5"/>
<circle cx="197.25" cy="62.02" r="1.3" fill="#222" stroke="none" stroke-width="0.5"/>
<circle cx="197.25" cy="61.45" r="1.3" fill="#222" stroke="none" stroke-width="0.5"/>
<text x="193" y="20.6" font-size="6.6" text-anchor="middle" fill="#222" stroke="#222" stroke-width="0.15">ns</text>
<text x="196.8" y="128.2" font-size="7.3" text-anchor="end" fill="#555" stroke="#555" stroke-width="0.16" transform="rotate(-45 196.8 128.2)">HDAC1</text>
<line x1="213.15" y1="101.05" x2="213.15" y2="91.3" stroke="#444" stroke-width="0.7"/>
<line x1="213.15" y1="108.52" x2="213.15" y2="115.4" stroke="#444" stroke-width="0.7"/>
<rect x="209.15" y="101.05" width="8" height="7.46" fill="#D0675E" stroke="#333" stroke-width="0.55"/>
<line x1="209.15" y1="104.5" x2="217.15" y2="104.5" stroke="#222" stroke-width="1"/>
<circle cx="213.15" cy="85.56" r="1.3" fill="#222" stroke="none" stroke-width="0.5"/>
<circle cx="213.15" cy="80.96" r="1.3" fill="#222" stroke="none" stroke-width="0.5"/>
<circle cx="213.15" cy="70.63" r="1.3" fill="#222" stroke="none" stroke-width="0.5"/>
<line x1="221.65" y1="92.44" x2="221.65" y2="72.93" stroke="#444" stroke-width="0.7"/>
<line x1="221.65" y1="105.65" x2="221.65" y2="116.55" stroke="#444" stroke-width="0.7"/>
<rect x="217.65" y="92.44" width="8" height="13.2" fill="#2B5A8A" stroke="#333" stroke-width="0.55"/>
<line x1="217.65" y1="99.33" x2="225.65" y2="99.33" stroke="#222" stroke-width="1"/>
<circle cx="221.65" cy="70.63" r="1.3" fill="#222" stroke="none" stroke-width="0.5"/>
<circle cx="221.65" cy="68.34" r="1.3" fill="#222" stroke="none" stroke-width="0.5"/>
<circle cx="221.65" cy="66.04" r="1.3" fill="#222" stroke="none" stroke-width="0.5"/>
<circle cx="221.65" cy="63.74" r="1.3" fill="#222" stroke="none" stroke-width="0.5"/>
<circle cx="221.65" cy="61.45" r="1.3" fill="#222" stroke="none" stroke-width="0.5"/>
<circle cx="221.65" cy="60.3" r="1.3" fill="#222" stroke="none" stroke-width="0.5"/>
<circle cx="221.65" cy="58" r="1.3" fill="#222" stroke="none" stroke-width="0.5"/>
<circle cx="221.65" cy="53.41" r="1.3" fill="#222" stroke="none" stroke-width="0.5"/>
<text x="217.4" y="20.6" font-size="6.6" text-anchor="middle" fill="#222" stroke="#222" stroke-width="0.15">****</text>
<text x="221.2" y="128.2" font-size="7.3" text-anchor="end" fill="#555" stroke="#555" stroke-width="0.16" transform="rotate(-45 221.2 128.2)">HDAC9</text>
<line x1="237.55" y1="64.89" x2="237.55" y2="53.41" stroke="#444" stroke-width="0.7"/>
<line x1="237.55" y1="72.93" x2="237.55" y2="83.26" stroke="#444" stroke-width="0.7"/>
<rect x="233.55" y="64.89" width="8" height="8.04" fill="#D0675E" stroke="#333" stroke-width="0.55"/>
<line x1="233.55" y1="69.48" x2="241.55" y2="69.48" stroke="#222" stroke-width="1"/>
<circle cx="237.55" cy="51.12" r="1.3" fill="#222" stroke="none" stroke-width="0.5"/>
<line x1="246.05" y1="64.89" x2="246.05" y2="54.56" stroke="#444" stroke-width="0.7"/>
<line x1="246.05" y1="72.93" x2="246.05" y2="83.26" stroke="#444" stroke-width="0.7"/>
<rect x="242.05" y="64.89" width="8" height="8.04" fill="#2B5A8A" stroke="#333" stroke-width="0.55"/>
<line x1="242.05" y1="69.48" x2="250.05" y2="69.48" stroke="#222" stroke-width="1"/>
<circle cx="246.05" cy="53.41" r="1.3" fill="#222" stroke="none" stroke-width="0.5"/>
<circle cx="246.05" cy="51.12" r="1.3" fill="#222" stroke="none" stroke-width="0.5"/>
<circle cx="246.05" cy="49.97" r="1.3" fill="#222" stroke="none" stroke-width="0.5"/>
<circle cx="246.05" cy="48.82" r="1.3" fill="#222" stroke="none" stroke-width="0.5"/>
<circle cx="246.05" cy="47.67" r="1.3" fill="#222" stroke="none" stroke-width="0.5"/>
<circle cx="246.05" cy="45.38" r="1.3" fill="#222" stroke="none" stroke-width="0.5"/>
<circle cx="246.05" cy="43.08" r="1.3" fill="#222" stroke="none" stroke-width="0.5"/>
<circle cx="246.05" cy="35.04" r="1.3" fill="#222" stroke="none" stroke-width="0.5"/>
<circle cx="246.05" cy="86.13" r="1.3" fill="#222" stroke="none" stroke-width="0.5"/>
<text x="241.8" y="20.6" font-size="6.6" text-anchor="middle" fill="#222" stroke="#222" stroke-width="0.15">ns</text>
<text x="245.6" y="128.2" font-size="7.3" text-anchor="end" fill="#555" stroke="#555" stroke-width="0.16" transform="rotate(-45 245.6 128.2)">HDAC2</text>
<line x1="261.95" y1="57.43" x2="261.95" y2="48.82" stroke="#444" stroke-width="0.7"/>
<line x1="261.95" y1="63.17" x2="261.95" y2="72.35" stroke="#444" stroke-width="0.7"/>
<rect x="257.95" y="57.43" width="8" height="5.74" fill="#D0675E" stroke="#333" stroke-width="0.55"/>
<line x1="257.95" y1="60.3" x2="265.95" y2="60.3" stroke="#222" stroke-width="1"/>
<circle cx="261.95" cy="74.65" r="1.3" fill="#222" stroke="none" stroke-width="0.5"/>
<circle cx="261.95" cy="75.8" r="1.3" fill="#222" stroke="none" stroke-width="0.5"/>
<line x1="270.45" y1="58" x2="270.45" y2="49.97" stroke="#444" stroke-width="0.7"/>
<line x1="270.45" y1="63.74" x2="270.45" y2="71.78" stroke="#444" stroke-width="0.7"/>
<rect x="266.45" y="58" width="8" height="5.74" fill="#2B5A8A" stroke="#333" stroke-width="0.55"/>
<line x1="266.45" y1="60.87" x2="274.45" y2="60.87" stroke="#222" stroke-width="1"/>
<circle cx="270.45" cy="47.67" r="1.3" fill="#222" stroke="none" stroke-width="0.5"/>
<circle cx="270.45" cy="46.52" r="1.3" fill="#222" stroke="none" stroke-width="0.5"/>
<circle cx="270.45" cy="45.38" r="1.3" fill="#222" stroke="none" stroke-width="0.5"/>
<circle cx="270.45" cy="75.22" r="1.3" fill="#222" stroke="none" stroke-width="0.5"/>
<circle cx="270.45" cy="77.52" r="1.3" fill="#222" stroke="none" stroke-width="0.5"/>
<circle cx="270.45" cy="78.67" r="1.3" fill="#222" stroke="none" stroke-width="0.5"/>
<circle cx="270.45" cy="79.82" r="1.3" fill="#222" stroke="none" stroke-width="0.5"/>
<circle cx="270.45" cy="80.96" r="1.3" fill="#222" stroke="none" stroke-width="0.5"/>
<circle cx="270.45" cy="83.26" r="1.3" fill="#222" stroke="none" stroke-width="0.5"/>
<text x="266.2" y="20.6" font-size="6.6" text-anchor="middle" fill="#222" stroke="#222" stroke-width="0.15">ns</text>
<text x="270" y="128.2" font-size="7.3" text-anchor="end" fill="#555" stroke="#555" stroke-width="0.16" transform="rotate(-45 270 128.2)">HDAC3</text>
<line x1="286.35" y1="50.54" x2="286.35" y2="40.78" stroke="#444" stroke-width="0.7"/>
<line x1="286.35" y1="56.28" x2="286.35" y2="64.89" stroke="#444" stroke-width="0.7"/>
<rect x="282.35" y="50.54" width="8" height="5.74" fill="#D0675E" stroke="#333" stroke-width="0.55"/>
<line x1="282.35" y1="53.41" x2="290.35" y2="53.41" stroke="#222" stroke-width="1"/>
<circle cx="286.35" cy="38.49" r="1.3" fill="#222" stroke="none" stroke-width="0.5"/>
<circle cx="286.35" cy="37.34" r="1.3" fill="#222" stroke="none" stroke-width="0.5"/>
<circle cx="286.35" cy="36.19" r="1.3" fill="#222" stroke="none" stroke-width="0.5"/>
<circle cx="286.35" cy="33.9" r="1.3" fill="#222" stroke="none" stroke-width="0.5"/>
<line x1="294.85" y1="49.39" x2="294.85" y2="38.49" stroke="#444" stroke-width="0.7"/>
<line x1="294.85" y1="56.86" x2="294.85" y2="67.19" stroke="#444" stroke-width="0.7"/>
<rect x="290.85" y="49.39" width="8" height="7.46" fill="#2B5A8A" stroke="#333" stroke-width="0.55"/>
<line x1="290.85" y1="53.41" x2="298.85" y2="53.41" stroke="#222" stroke-width="1"/>
<circle cx="294.85" cy="37.34" r="1.3" fill="#222" stroke="none" stroke-width="0.5"/>
<circle cx="294.85" cy="35.04" r="1.3" fill="#222" stroke="none" stroke-width="0.5"/>
<circle cx="294.85" cy="32.75" r="1.3" fill="#222" stroke="none" stroke-width="0.5"/>
<circle cx="294.85" cy="30.45" r="1.3" fill="#222" stroke="none" stroke-width="0.5"/>
<circle cx="294.85" cy="28.16" r="1.3" fill="#222" stroke="none" stroke-width="0.5"/>
<circle cx="294.85" cy="25.86" r="1.3" fill="#222" stroke="none" stroke-width="0.5"/>
<circle cx="294.85" cy="23.56" r="1.3" fill="#222" stroke="none" stroke-width="0.5"/>
<circle cx="294.85" cy="21.84" r="1.3" fill="#222" stroke="none" stroke-width="0.5"/>
<circle cx="294.85" cy="71.21" r="1.3" fill="#222" stroke="none" stroke-width="0.5"/>
<circle cx="294.85" cy="70.63" r="1.3" fill="#222" stroke="none" stroke-width="0.5"/>
<text x="290.6" y="20.6" font-size="6.6" text-anchor="middle" fill="#222" stroke="#222" stroke-width="0.15">ns</text>
<text x="294.4" y="128.2" font-size="7.3" text-anchor="end" fill="#555" stroke="#555" stroke-width="0.16" transform="rotate(-45 294.4 128.2)">KDM1A</text>
<line x1="310.75" y1="64.32" x2="310.75" y2="48.82" stroke="#444" stroke-width="0.7"/>
<line x1="310.75" y1="73.5" x2="310.75" y2="87.85" stroke="#444" stroke-width="0.7"/>
<rect x="306.75" y="64.32" width="8" height="9.18" fill="#D0675E" stroke="#333" stroke-width="0.55"/>
<line x1="306.75" y1="68.91" x2="314.75" y2="68.91" stroke="#222" stroke-width="1"/>
<circle cx="310.75" cy="47.67" r="1.3" fill="#222" stroke="none" stroke-width="0.5"/>
<circle cx="310.75" cy="94.74" r="1.3" fill="#222" stroke="none" stroke-width="0.5"/>
<line x1="319.25" y1="64.89" x2="319.25" y2="48.82" stroke="#444" stroke-width="0.7"/>
<line x1="319.25" y1="74.65" x2="319.25" y2="89" stroke="#444" stroke-width="0.7"/>
<rect x="315.25" y="64.89" width="8" height="9.76" fill="#2B5A8A" stroke="#333" stroke-width="0.55"/>
<line x1="315.25" y1="70.06" x2="323.25" y2="70.06" stroke="#222" stroke-width="1"/>
<circle cx="319.25" cy="97.61" r="1.3" fill="#222" stroke="none" stroke-width="0.5"/>
<circle cx="319.25" cy="95.31" r="1.3" fill="#222" stroke="none" stroke-width="0.5"/>
<circle cx="319.25" cy="94.17" r="1.3" fill="#222" stroke="none" stroke-width="0.5"/>
<text x="315" y="20.6" font-size="6.6" text-anchor="middle" fill="#222" stroke="#222" stroke-width="0.15">ns</text>
<text x="318.8" y="128.2" font-size="7.3" text-anchor="end" fill="#555" stroke="#555" stroke-width="0.16" transform="rotate(-45 318.8 128.2)">KDM1B</text>
<line x1="335.15" y1="68.34" x2="335.15" y2="60.3" stroke="#444" stroke-width="0.7"/>
<line x1="335.15" y1="74.65" x2="335.15" y2="82.11" stroke="#444" stroke-width="0.7"/>
<rect x="331.15" y="68.34" width="8" height="6.31" fill="#D0675E" stroke="#333" stroke-width="0.55"/>
<line x1="331.15" y1="71.21" x2="339.15" y2="71.21" stroke="#222" stroke-width="1"/>
<circle cx="335.15" cy="58" r="1.3" fill="#222" stroke="none" stroke-width="0.5"/>
<circle cx="335.15" cy="57.43" r="1.3" fill="#222" stroke="none" stroke-width="0.5"/>
<line x1="343.65" y1="67.76" x2="343.65" y2="60.3" stroke="#444" stroke-width="0.7"/>
<line x1="343.65" y1="75.22" x2="343.65" y2="82.11" stroke="#444" stroke-width="0.7"/>
<rect x="339.65" y="67.76" width="8" height="7.46" fill="#2B5A8A" stroke="#333" stroke-width="0.55"/>
<line x1="339.65" y1="71.21" x2="347.65" y2="71.21" stroke="#222" stroke-width="1"/>
<circle cx="343.65" cy="59.15" r="1.3" fill="#222" stroke="none" stroke-width="0.5"/>
<circle cx="343.65" cy="56.86" r="1.3" fill="#222" stroke="none" stroke-width="0.5"/>
<circle cx="343.65" cy="54.56" r="1.3" fill="#222" stroke="none" stroke-width="0.5"/>
<circle cx="343.65" cy="91.3" r="1.3" fill="#222" stroke="none" stroke-width="0.5"/>
<circle cx="343.65" cy="93.59" r="1.3" fill="#222" stroke="none" stroke-width="0.5"/>
<circle cx="343.65" cy="94.74" r="1.3" fill="#222" stroke="none" stroke-width="0.5"/>
<text x="339.4" y="20.6" font-size="6.6" text-anchor="middle" fill="#222" stroke="#222" stroke-width="0.15">ns</text>
<text x="343.2" y="128.2" font-size="7.3" text-anchor="end" fill="#555" stroke="#555" stroke-width="0.16" transform="rotate(-45 343.2 128.2)">KDM3A</text>
<line x1="359.55" y1="73.5" x2="359.55" y2="64.89" stroke="#444" stroke-width="0.7"/>
<line x1="359.55" y1="79.24" x2="359.55" y2="84.41" stroke="#444" stroke-width="0.7"/>
<rect x="355.55" y="73.5" width="8" height="5.74" fill="#D0675E" stroke="#333" stroke-width="0.55"/>
<line x1="355.55" y1="76.37" x2="363.55" y2="76.37" stroke="#222" stroke-width="1"/>
<circle cx="359.55" cy="62.6" r="1.3" fill="#222" stroke="none" stroke-width="0.5"/>
<line x1="368.05" y1="72.93" x2="368.05" y2="66.04" stroke="#444" stroke-width="0.7"/>
<line x1="368.05" y1="78.67" x2="368.05" y2="83.26" stroke="#444" stroke-width="0.7"/>
<rect x="364.05" y="72.93" width="8" height="5.74" fill="#2B5A8A" stroke="#333" stroke-width="0.55"/>
<line x1="364.05" y1="75.8" x2="372.05" y2="75.8" stroke="#222" stroke-width="1"/>
<circle cx="368.05" cy="64.89" r="1.3" fill="#222" stroke="none" stroke-width="0.5"/>
<circle cx="368.05" cy="62.6" r="1.3" fill="#222" stroke="none" stroke-width="0.5"/>
<circle cx="368.05" cy="61.45" r="1.3" fill="#222" stroke="none" stroke-width="0.5"/>
<circle cx="368.05" cy="86.7" r="1.3" fill="#222" stroke="none" stroke-width="0.5"/>
<circle cx="368.05" cy="89" r="1.3" fill="#222" stroke="none" stroke-width="0.5"/>
<circle cx="368.05" cy="91.3" r="1.3" fill="#222" stroke="none" stroke-width="0.5"/>
<circle cx="368.05" cy="94.74" r="1.3" fill="#222" stroke="none" stroke-width="0.5"/>
<text x="363.8" y="20.6" font-size="6.6" text-anchor="middle" fill="#222" stroke="#222" stroke-width="0.15">ns</text>
<text x="367.6" y="128.2" font-size="7.3" text-anchor="end" fill="#555" stroke="#555" stroke-width="0.16" transform="rotate(-45 367.6 128.2)">KDM4A</text>
<line x1="383.95" y1="76.37" x2="383.95" y2="68.34" stroke="#444" stroke-width="0.7"/>
<line x1="383.95" y1="81.54" x2="383.95" y2="87.85" stroke="#444" stroke-width="0.7"/>
<rect x="379.95" y="76.37" width="8" height="5.17" fill="#D0675E" stroke="#333" stroke-width="0.55"/>
<line x1="379.95" y1="78.67" x2="387.95" y2="78.67" stroke="#222" stroke-width="1"/>
<circle cx="383.95" cy="64.89" r="1.3" fill="#222" stroke="none" stroke-width="0.5"/>
<circle cx="383.95" cy="94.74" r="1.3" fill="#222" stroke="none" stroke-width="0.5"/>
<line x1="392.45" y1="76.95" x2="392.45" y2="67.19" stroke="#444" stroke-width="0.7"/>
<line x1="392.45" y1="82.69" x2="392.45" y2="90.15" stroke="#444" stroke-width="0.7"/>
<rect x="388.45" y="76.95" width="8" height="5.74" fill="#2B5A8A" stroke="#333" stroke-width="0.55"/>
<line x1="388.45" y1="79.82" x2="396.45" y2="79.82" stroke="#222" stroke-width="1"/>
<circle cx="392.45" cy="63.74" r="1.3" fill="#222" stroke="none" stroke-width="0.5"/>
<circle cx="392.45" cy="61.45" r="1.3" fill="#222" stroke="none" stroke-width="0.5"/>
<circle cx="392.45" cy="92.44" r="1.3" fill="#222" stroke="none" stroke-width="0.5"/>
<circle cx="392.45" cy="94.74" r="1.3" fill="#222" stroke="none" stroke-width="0.5"/>
<circle cx="392.45" cy="97.04" r="1.3" fill="#222" stroke="none" stroke-width="0.5"/>
<circle cx="392.45" cy="99.33" r="1.3" fill="#222" stroke="none" stroke-width="0.5"/>
<circle cx="392.45" cy="101.63" r="1.3" fill="#222" stroke="none" stroke-width="0.5"/>
<circle cx="392.45" cy="103.92" r="1.3" fill="#222" stroke="none" stroke-width="0.5"/>
<text x="388.2" y="20.6" font-size="6.6" text-anchor="middle" fill="#222" stroke="#222" stroke-width="0.15">*</text>
<text x="392" y="128.2" font-size="7.3" text-anchor="end" fill="#555" stroke="#555" stroke-width="0.16" transform="rotate(-45 392 128.2)">KDM4B</text>
<line x1="408.35" y1="67.19" x2="408.35" y2="56.86" stroke="#444" stroke-width="0.7"/>
<line x1="408.35" y1="74.08" x2="408.35" y2="85.56" stroke="#444" stroke-width="0.7"/>
<rect x="404.35" y="67.19" width="8" height="6.89" fill="#D0675E" stroke="#333" stroke-width="0.55"/>
<line x1="404.35" y1="70.63" x2="412.35" y2="70.63" stroke="#222" stroke-width="1"/>
<circle cx="408.35" cy="49.97" r="1.3" fill="#222" stroke="none" stroke-width="0.5"/>
<line x1="416.85" y1="67.19" x2="416.85" y2="53.41" stroke="#444" stroke-width="0.7"/>
<line x1="416.85" y1="78.67" x2="416.85" y2="93.59" stroke="#444" stroke-width="0.7"/>
<rect x="412.85" y="67.19" width="8" height="11.48" fill="#2B5A8A" stroke="#333" stroke-width="0.55"/>
<line x1="412.85" y1="72.93" x2="420.85" y2="72.93" stroke="#222" stroke-width="1"/>
<circle cx="416.85" cy="51.12" r="1.3" fill="#222" stroke="none" stroke-width="0.5"/>
<circle cx="416.85" cy="49.97" r="1.3" fill="#222" stroke="none" stroke-width="0.5"/>
<circle cx="416.85" cy="48.82" r="1.3" fill="#222" stroke="none" stroke-width="0.5"/>
<circle cx="416.85" cy="47.67" r="1.3" fill="#222" stroke="none" stroke-width="0.5"/>
<text x="412.6" y="20.6" font-size="6.6" text-anchor="middle" fill="#222" stroke="#222" stroke-width="0.15">***</text>
<text x="416.4" y="128.2" font-size="7.3" text-anchor="end" fill="#555" stroke="#555" stroke-width="0.16" transform="rotate(-45 416.4 128.2)">KDM5B</text>
<text x="167" y="68.3" font-size="9.88" text-anchor="middle" fill="#222" stroke="#222" stroke-width="0.22" transform="rotate(-90 167 68.3)">Log2 Expression</text>
<text x="303" y="157.6" font-size="10.2" text-anchor="middle" fill="#222" stroke="#222" stroke-width="0.22">Gene</text>
<text x="436" y="60" font-size="8.92" text-anchor="start" fill="#222" stroke="#222" stroke-width="0.2">Mutation Status</text>
<rect x="437" y="66.8" width="8" height="5.6" fill="#D0675E" stroke="#333" stroke-width="0.5"/>
<line x1="437" y1="69.6" x2="445" y2="69.6" stroke="#333" stroke-width="0.6"/>
<rect x="437" y="76.3" width="8" height="5.6" fill="#2B5A8A" stroke="#333" stroke-width="0.5"/>
<line x1="437" y1="79.1" x2="445" y2="79.1" stroke="#333" stroke-width="0.6"/>
<text x="449" y="72" font-size="7.6" text-anchor="start" fill="#222" stroke="#222" stroke-width="0.17">Mut</text>
<text x="449" y="81.5" font-size="7.6" text-anchor="start" fill="#222" stroke="#222" stroke-width="0.17">Wild</text>
<text x="512.8" y="12.65" font-size="16.5" font-weight="bold" text-anchor="start" fill="#1f1513">C</text>
<text x="536" y="7.9" font-size="8.45" text-anchor="start" fill="#1a1a1a" stroke="#1a1a1a" stroke-width="0.19">TCGA LUAD-</text>
<text x="586.9" y="7.9" font-size="6.94" text-anchor="start" fill="#1a1a1a" stroke="#1a1a1a" stroke-width="0.15">KRAS</text>
<text x="608.1" y="7.9" font-size="7.33" text-anchor="start" fill="#1a1a1a" stroke="#1a1a1a" stroke-width="0.16">Mutation</text>
<rect x="536.6" y="11.4" width="95.3" height="136.9" fill="#fff" stroke="#bbb" stroke-width="0.7"/>
<text x="534.3" y="145.25" font-size="5.4" text-anchor="end" fill="#777" stroke="#777" stroke-width="0.12">2</text>
<line x1="535" y1="143.3" x2="536.3" y2="143.3" stroke="#999" stroke-width="0.5"/>
<text x="534.3" y="115.53" font-size="5.4" text-anchor="end" fill="#777" stroke="#777" stroke-width="0.12">3</text>
<line x1="535" y1="113.58" x2="536.3" y2="113.58" stroke="#999" stroke-width="0.5"/>
<text x="534.3" y="85.81" font-size="5.4" text-anchor="end" fill="#777" stroke="#777" stroke-width="0.12">4</text>
<line x1="535" y1="83.86" x2="536.3" y2="83.86" stroke="#999" stroke-width="0.5"/>
<text x="534.3" y="56.09" font-size="5.4" text-anchor="end" fill="#777" stroke="#777" stroke-width="0.12">5</text>
<line x1="535" y1="54.14" x2="536.3" y2="54.14" stroke="#999" stroke-width="0.5"/>
<text x="534.3" y="26.37" font-size="5.4" text-anchor="end" fill="#777" stroke="#777" stroke-width="0.12">6</text>
<line x1="535" y1="24.42" x2="536.3" y2="24.42" stroke="#999" stroke-width="0.5"/>
<text x="528.8" y="80.6" font-size="7.3" text-anchor="middle" fill="#1a1a1a" stroke="#1a1a1a" stroke-width="0.16" transform="rotate(-90 528.8 80.6)">Expression of KDM5B</text>
<line x1="562.3" y1="16.8" x2="605.5" y2="16.8" stroke="#555" stroke-width="0.5"/>
<line x1="562.3" y1="16.8" x2="562.3" y2="20.5" stroke="#555" stroke-width="0.5"/>
<line x1="605.5" y1="16.8" x2="605.5" y2="20.5" stroke="#555" stroke-width="0.5"/>
<text x="584" y="14.5" font-size="5" text-anchor="middle" fill="#555" stroke="#555" stroke-width="0.11">***</text>
<circle cx="578" cy="98.32" r="2" fill="#C96A62" stroke="none" stroke-width="0.5"/>
<circle cx="561.03" cy="73.57" r="2" fill="#C96A62" stroke="none" stroke-width="0.5"/>
<circle cx="550.63" cy="99.94" r="2" fill="#C96A62" stroke="none" stroke-width="0.5"/>
<circle cx="562.74" cy="80.41" r="2" fill="#C96A62" stroke="none" stroke-width="0.5"/>
<circle cx="547.28" cy="98.19" r="2" fill="#C96A62" stroke="none" stroke-width="0.5"/>
<circle cx="555.03" cy="99.38" r="2" fill="#C96A62" stroke="none" stroke-width="0.5"/>
<circle cx="569.46" cy="55.7" r="2" fill="#C96A62" stroke="none" stroke-width="0.5"/>
<circle cx="545.35" cy="64.22" r="2" fill="#C96A62" stroke="none" stroke-width="0.5"/>
<circle cx="568" cy="39.68" r="2" fill="#C96A62" stroke="none" stroke-width="0.5"/>
<circle cx="566.58" cy="83.87" r="2" fill="#C96A62" stroke="none" stroke-width="0.5"/>
<circle cx="563.35" cy="77.93" r="2" fill="#C96A62" stroke="none" stroke-width="0.5"/>
<circle cx="546" cy="77.16" r="2" fill="#C96A62" stroke="none" stroke-width="0.5"/>
<circle cx="544.91" cy="75.18" r="2" fill="#C96A62" stroke="none" stroke-width="0.5"/>
<circle cx="560.97" cy="68.7" r="2" fill="#C96A62" stroke="none" stroke-width="0.5"/>
<circle cx="563.01" cy="107.06" r="2" fill="#C96A62" stroke="none" stroke-width="0.5"/>
<circle cx="567.49" cy="68.56" r="2" fill="#C96A62" stroke="none" stroke-width="0.5"/>
<circle cx="560.72" cy="102.18" r="2" fill="#C96A62" stroke="none" stroke-width="0.5"/>
<circle cx="554.09" cy="79.37" r="2" fill="#C96A62" stroke="none" stroke-width="0.5"/>
<circle cx="574.89" cy="28.4" r="2" fill="#C96A62" stroke="none" stroke-width="0.5"/>
<circle cx="569.99" cy="80.15" r="2" fill="#C96A62" stroke="none" stroke-width="0.5"/>
<circle cx="554.49" cy="83.85" r="2" fill="#C96A62" stroke="none" stroke-width="0.5"/>
<circle cx="546.4" cy="69.16" r="2" fill="#C96A62" stroke="none" stroke-width="0.5"/>
<circle cx="575.12" cy="77.81" r="2" fill="#C96A62" stroke="none" stroke-width="0.5"/>
<circle cx="558.1" cy="94.95" r="2" fill="#C96A62" stroke="none" stroke-width="0.5"/>
<circle cx="543.82" cy="50.48" r="2" fill="#C96A62" stroke="none" stroke-width="0.5"/>
<circle cx="551.56" cy="87.21" r="2" fill="#C96A62" stroke="none" stroke-width="0.5"/>
<circle cx="580.07" cy="64.68" r="2" fill="#C96A62" stroke="none" stroke-width="0.5"/>
<circle cx="558.5" cy="88.71" r="2" fill="#C96A62" stroke="none" stroke-width="0.5"/>
<circle cx="572.6" cy="59.88" r="2" fill="#C96A62" stroke="none" stroke-width="0.5"/>
<circle cx="553.78" cy="69.76" r="2" fill="#C96A62" stroke="none" stroke-width="0.5"/>
<circle cx="579.47" cy="67.54" r="2" fill="#C96A62" stroke="none" stroke-width="0.5"/>
<circle cx="571.85" cy="72.17" r="2" fill="#C96A62" stroke="none" stroke-width="0.5"/>
<circle cx="547.54" cy="70.83" r="2" fill="#C96A62" stroke="none" stroke-width="0.5"/>
<circle cx="546.02" cy="71.55" r="2" fill="#C96A62" stroke="none" stroke-width="0.5"/>
<circle cx="564.49" cy="76.59" r="2" fill="#C96A62" stroke="none" stroke-width="0.5"/>
<circle cx="560.35" cy="88.65" r="2" fill="#C96A62" stroke="none" stroke-width="0.5"/>
<circle cx="548.65" cy="70.27" r="2" fill="#C96A62" stroke="none" stroke-width="0.5"/>
<circle cx="567.62" cy="56.05" r="2" fill="#C96A62" stroke="none" stroke-width="0.5"/>
<circle cx="551.68" cy="67.39" r="2" fill="#C96A62" stroke="none" stroke-width="0.5"/>
<circle cx="553.78" cy="68.61" r="2" fill="#C96A62" stroke="none" stroke-width="0.5"/>
<circle cx="555.05" cy="51.99" r="2" fill="#C96A62" stroke="none" stroke-width="0.5"/>
<circle cx="576.54" cy="84.47" r="2" fill="#C96A62" stroke="none" stroke-width="0.5"/>
<circle cx="575.41" cy="75.62" r="2" fill="#C96A62" stroke="none" stroke-width="0.5"/>
<circle cx="567.55" cy="64.4" r="2" fill="#C96A62" stroke="none" stroke-width="0.5"/>
<circle cx="551.69" cy="41.79" r="2" fill="#C96A62" stroke="none" stroke-width="0.5"/>
<circle cx="553.36" cy="51.96" r="2" fill="#C96A62" stroke="none" stroke-width="0.5"/>
<circle cx="554.76" cy="77.44" r="2" fill="#C96A62" stroke="none" stroke-width="0.5"/>
<circle cx="546.52" cy="93.07" r="2" fill="#C96A62" stroke="none" stroke-width="0.5"/>
<circle cx="552.79" cy="62.16" r="2" fill="#C96A62" stroke="none" stroke-width="0.5"/>
<circle cx="566.05" cy="68.44" r="2" fill="#C96A62" stroke="none" stroke-width="0.5"/>
<circle cx="579.29" cy="91.16" r="2" fill="#C96A62" stroke="none" stroke-width="0.5"/>
<circle cx="561.7" cy="67.15" r="2" fill="#C96A62" stroke="none" stroke-width="0.5"/>
<circle cx="550.56" cy="107.07" r="2" fill="#C96A62" stroke="none" stroke-width="0.5"/>
<circle cx="549.5" cy="93.41" r="2" fill="#C96A62" stroke="none" stroke-width="0.5"/>
<circle cx="553.03" cy="55.48" r="2" fill="#C96A62" stroke="none" stroke-width="0.5"/>
<circle cx="550.82" cy="94.92" r="2" fill="#C96A62" stroke="none" stroke-width="0.5"/>
<circle cx="551.07" cy="81.84" r="2" fill="#C96A62" stroke="none" stroke-width="0.5"/>
<circle cx="578.96" cy="116.02" r="2" fill="#C96A62" stroke="none" stroke-width="0.5"/>
<circle cx="559.39" cy="63.88" r="2" fill="#C96A62" stroke="none" stroke-width="0.5"/>
<circle cx="547.64" cy="93.58" r="2" fill="#C96A62" stroke="none" stroke-width="0.5"/>
<circle cx="552.62" cy="40.94" r="2" fill="#C96A62" stroke="none" stroke-width="0.5"/>
<circle cx="569.87" cy="69.86" r="2" fill="#C96A62" stroke="none" stroke-width="0.5"/>
<circle cx="565.87" cy="80.66" r="2" fill="#C96A62" stroke="none" stroke-width="0.5"/>
<circle cx="554.66" cy="50.64" r="2" fill="#C96A62" stroke="none" stroke-width="0.5"/>
<circle cx="546.34" cy="68.26" r="2" fill="#C96A62" stroke="none" stroke-width="0.5"/>
<circle cx="552.25" cy="57.39" r="2" fill="#C96A62" stroke="none" stroke-width="0.5"/>
<circle cx="566.53" cy="107.55" r="2" fill="#C96A62" stroke="none" stroke-width="0.5"/>
<circle cx="554.17" cy="90.42" r="2" fill="#C96A62" stroke="none" stroke-width="0.5"/>
<circle cx="544.41" cy="70.34" r="2" fill="#C96A62" stroke="none" stroke-width="0.5"/>
<circle cx="553.76" cy="84.58" r="2" fill="#C96A62" stroke="none" stroke-width="0.5"/>
<circle cx="550.32" cy="84.55" r="2" fill="#C96A62" stroke="none" stroke-width="0.5"/>
<circle cx="557.45" cy="77.58" r="2" fill="#C96A62" stroke="none" stroke-width="0.5"/>
<circle cx="557.2" cy="86.78" r="2" fill="#C96A62" stroke="none" stroke-width="0.5"/>
<circle cx="576.76" cy="83" r="2" fill="#C96A62" stroke="none" stroke-width="0.5"/>
<circle cx="569.38" cy="56.97" r="2" fill="#C96A62" stroke="none" stroke-width="0.5"/>
<circle cx="565.42" cy="82.17" r="2" fill="#C96A62" stroke="none" stroke-width="0.5"/>
<circle cx="544.46" cy="76.78" r="2" fill="#C96A62" stroke="none" stroke-width="0.5"/>
<circle cx="577.48" cy="76.21" r="2" fill="#C96A62" stroke="none" stroke-width="0.5"/>
<circle cx="544.59" cy="91.42" r="2" fill="#C96A62" stroke="none" stroke-width="0.5"/>
<circle cx="567.34" cy="117.18" r="2" fill="#C96A62" stroke="none" stroke-width="0.5"/>
<circle cx="555.6" cy="104.27" r="2" fill="#C96A62" stroke="none" stroke-width="0.5"/>
<circle cx="580.78" cy="76.61" r="2" fill="#C96A62" stroke="none" stroke-width="0.5"/>
<circle cx="571.07" cy="62.11" r="2" fill="#C96A62" stroke="none" stroke-width="0.5"/>
<circle cx="577.11" cy="70.55" r="2" fill="#C96A62" stroke="none" stroke-width="0.5"/>
<circle cx="573.15" cy="81.36" r="2" fill="#C96A62" stroke="none" stroke-width="0.5"/>
<circle cx="577.66" cy="103.43" r="2" fill="#C96A62" stroke="none" stroke-width="0.5"/>
<circle cx="577.13" cy="93.43" r="2" fill="#C96A62" stroke="none" stroke-width="0.5"/>
<circle cx="576.03" cy="60.55" r="2" fill="#C96A62" stroke="none" stroke-width="0.5"/>
<circle cx="575.75" cy="103.11" r="2" fill="#C96A62" stroke="none" stroke-width="0.5"/>
<circle cx="564.99" cy="65.81" r="2" fill="#C96A62" stroke="none" stroke-width="0.5"/>
<circle cx="565.36" cy="90.13" r="2" fill="#C96A62" stroke="none" stroke-width="0.5"/>
<circle cx="566.33" cy="90.13" r="2" fill="#C96A62" stroke="none" stroke-width="0.5"/>
<circle cx="580.55" cy="60.07" r="2" fill="#C96A62" stroke="none" stroke-width="0.5"/>
<circle cx="576.35" cy="68.74" r="2" fill="#C96A62" stroke="none" stroke-width="0.5"/>
<circle cx="571" cy="81.49" r="2" fill="#C96A62" stroke="none" stroke-width="0.5"/>
<circle cx="565.3" cy="94.58" r="2" fill="#C96A62" stroke="none" stroke-width="0.5"/>
<circle cx="546.9" cy="106.87" r="2" fill="#C96A62" stroke="none" stroke-width="0.5"/>
<circle cx="571.56" cy="68.63" r="2" fill="#C96A62" stroke="none" stroke-width="0.5"/>
<circle cx="561.6" cy="58.81" r="2" fill="#C96A62" stroke="none" stroke-width="0.5"/>
<circle cx="552.32" cy="75.5" r="2" fill="#C96A62" stroke="none" stroke-width="0.5"/>
<circle cx="566.54" cy="85.18" r="2" fill="#C96A62" stroke="none" stroke-width="0.5"/>
<circle cx="577.86" cy="96.58" r="2" fill="#C96A62" stroke="none" stroke-width="0.5"/>
<circle cx="554.94" cy="79.49" r="2" fill="#C96A62" stroke="none" stroke-width="0.5"/>
<circle cx="568.89" cy="77.07" r="2" fill="#C96A62" stroke="none" stroke-width="0.5"/>
<circle cx="577.31" cy="76.64" r="2" fill="#C96A62" stroke="none" stroke-width="0.5"/>
<circle cx="568.22" cy="70.39" r="2" fill="#C96A62" stroke="none" stroke-width="0.5"/>
<circle cx="555.9" cy="109.84" r="2" fill="#C96A62" stroke="none" stroke-width="0.5"/>
<circle cx="568.44" cy="67.77" r="2" fill="#C96A62" stroke="none" stroke-width="0.5"/>
<circle cx="573.62" cy="74.18" r="2" fill="#C96A62" stroke="none" stroke-width="0.5"/>
<circle cx="577.63" cy="63.84" r="2" fill="#C96A62" stroke="none" stroke-width="0.5"/>
<circle cx="565.37" cy="68.29" r="2" fill="#C96A62" stroke="none" stroke-width="0.5"/>
<circle cx="555.51" cy="89.8" r="2" fill="#C96A62" stroke="none" stroke-width="0.5"/>
<circle cx="574.77" cy="67.53" r="2" fill="#C96A62" stroke="none" stroke-width="0.5"/>
<circle cx="575.2" cy="65.73" r="2" fill="#C96A62" stroke="none" stroke-width="0.5"/>
<circle cx="554.04" cy="88.53" r="2" fill="#C96A62" stroke="none" stroke-width="0.5"/>
<circle cx="550.06" cy="116.11" r="2" fill="#C96A62" stroke="none" stroke-width="0.5"/>
<circle cx="551.72" cy="91.21" r="2" fill="#C96A62" stroke="none" stroke-width="0.5"/>
<circle cx="559.12" cy="75.62" r="2" fill="#C96A62" stroke="none" stroke-width="0.5"/>
<circle cx="555.47" cy="92.1" r="2" fill="#C96A62" stroke="none" stroke-width="0.5"/>
<circle cx="574.85" cy="92.21" r="2" fill="#C96A62" stroke="none" stroke-width="0.5"/>
<circle cx="546.56" cy="62.55" r="2" fill="#C96A62" stroke="none" stroke-width="0.5"/>
<circle cx="544.96" cy="81.31" r="2" fill="#C96A62" stroke="none" stroke-width="0.5"/>
<circle cx="570.02" cy="76.26" r="2" fill="#C96A62" stroke="none" stroke-width="0.5"/>
<circle cx="564.91" cy="82.63" r="2" fill="#C96A62" stroke="none" stroke-width="0.5"/>
<circle cx="544.51" cy="89.32" r="2" fill="#C96A62" stroke="none" stroke-width="0.5"/>
<circle cx="548.83" cy="53.9" r="2" fill="#C96A62" stroke="none" stroke-width="0.5"/>
<circle cx="574.5" cy="82.72" r="2" fill="#C96A62" stroke="none" stroke-width="0.5"/>
<circle cx="552.58" cy="78.43" r="2" fill="#C96A62" stroke="none" stroke-width="0.5"/>
<circle cx="567.08" cy="76.37" r="2" fill="#C96A62" stroke="none" stroke-width="0.5"/>
<circle cx="560.32" cy="75.69" r="2" fill="#C96A62" stroke="none" stroke-width="0.5"/>
<circle cx="573.67" cy="94.84" r="2" fill="#C96A62" stroke="none" stroke-width="0.5"/>
<circle cx="579.26" cy="95.84" r="2" fill="#C96A62" stroke="none" stroke-width="0.5"/>
<circle cx="561.38" cy="83.52" r="2" fill="#C96A62" stroke="none" stroke-width="0.5"/>
<circle cx="550.41" cy="88.85" r="2" fill="#C96A62" stroke="none" stroke-width="0.5"/>
<circle cx="570.22" cy="61.97" r="2" fill="#C96A62" stroke="none" stroke-width="0.5"/>
<circle cx="550.43" cy="78.22" r="2" fill="#C96A62" stroke="none" stroke-width="0.5"/>
<circle cx="569.6" cy="81.39" r="2" fill="#C96A62" stroke="none" stroke-width="0.5"/>
<circle cx="563.06" cy="65.31" r="2" fill="#C96A62" stroke="none" stroke-width="0.5"/>
<circle cx="558.36" cy="98.94" r="2" fill="#C96A62" stroke="none" stroke-width="0.5"/>
<circle cx="573.1" cy="96.51" r="2" fill="#C96A62" stroke="none" stroke-width="0.5"/>
<circle cx="621.51" cy="81.03" r="2" fill="#2C5686" stroke="none" stroke-width="0.5"/>
<circle cx="613.73" cy="90.71" r="2" fill="#2C5686" stroke="none" stroke-width="0.5"/>
<circle cx="610.15" cy="74.52" r="2" fill="#2C5686" stroke="none" stroke-width="0.5"/>
<circle cx="620.67" cy="73.74" r="2" fill="#2C5686" stroke="none" stroke-width="0.5"/>
<circle cx="619.53" cy="101.99" r="2" fill="#2C5686" stroke="none" stroke-width="0.5"/>
<circle cx="616.48" cy="72.01" r="2" fill="#2C5686" stroke="none" stroke-width="0.5"/>
<circle cx="611.1" cy="69.69" r="2" fill="#2C5686" stroke="none" stroke-width="0.5"/>
<circle cx="594.58" cy="93.09" r="2" fill="#2C5686" stroke="none" stroke-width="0.5"/>
<circle cx="610.74" cy="92.13" r="2" fill="#2C5686" stroke="none" stroke-width="0.5"/>
<circle cx="613.55" cy="116.55" r="2" fill="#2C5686" stroke="none" stroke-width="0.5"/>
<circle cx="623.28" cy="78.81" r="2" fill="#2C5686" stroke="none" stroke-width="0.5"/>
<circle cx="623.16" cy="52.68" r="2" fill="#2C5686" stroke="none" stroke-width="0.5"/>
<circle cx="598.85" cy="114.97" r="2" fill="#2C5686" stroke="none" stroke-width="0.5"/>
<circle cx="620.67" cy="93.49" r="2" fill="#2C5686" stroke="none" stroke-width="0.5"/>
<circle cx="590.06" cy="77.5" r="2" fill="#2C5686" stroke="none" stroke-width="0.5"/>
<circle cx="603.31" cy="98.74" r="2" fill="#2C5686" stroke="none" stroke-width="0.5"/>
<circle cx="605.04" cy="113.4" r="2" fill="#2C5686" stroke="none" stroke-width="0.5"/>
<circle cx="588.05" cy="95.52" r="2" fill="#2C5686" stroke="none" stroke-width="0.5"/>
<circle cx="616.59" cy="84.67" r="2" fill="#2C5686" stroke="none" stroke-width="0.5"/>
<circle cx="593.4" cy="92.37" r="2" fill="#2C5686" stroke="none" stroke-width="0.5"/>
<circle cx="592.2" cy="101.49" r="2" fill="#2C5686" stroke="none" stroke-width="0.5"/>
<circle cx="592.5" cy="62.05" r="2" fill="#2C5686" stroke="none" stroke-width="0.5"/>
<circle cx="618.08" cy="112.9" r="2" fill="#2C5686" stroke="none" stroke-width="0.5"/>
<circle cx="612.51" cy="89.55" r="2" fill="#2C5686" stroke="none" stroke-width="0.5"/>
<circle cx="622.12" cy="68.89" r="2" fill="#2C5686" stroke="none" stroke-width="0.5"/>
<circle cx="590.18" cy="93.2" r="2" fill="#2C5686" stroke="none" stroke-width="0.5"/>
<circle cx="597.74" cy="83.26" r="2" fill="#2C5686" stroke="none" stroke-width="0.5"/>
<circle cx="613.97" cy="67.16" r="2" fill="#2C5686" stroke="none" stroke-width="0.5"/>
<circle cx="618.21" cy="99.61" r="2" fill="#2C5686" stroke="none" stroke-width="0.5"/>
<circle cx="607.72" cy="102.06" r="2" fill="#2C5686" stroke="none" stroke-width="0.5"/>
<circle cx="618.27" cy="92.89" r="2" fill="#2C5686" stroke="none" stroke-width="0.5"/>
<circle cx="620.32" cy="72" r="2" fill="#2C5686" stroke="none" stroke-width="0.5"/>
<circle cx="622.83" cy="78.56" r="2" fill="#2C5686" stroke="none" stroke-width="0.5"/>
<circle cx="606.4" cy="56.04" r="2" fill="#2C5686" stroke="none" stroke-width="0.5"/>
<circle cx="606.83" cy="96.65" r="2" fill="#2C5686" stroke="none" stroke-width="0.5"/>
<circle cx="605.62" cy="91.68" r="2" fill="#2C5686" stroke="none" stroke-width="0.5"/>
<circle cx="622.87" cy="89.89" r="2" fill="#2C5686" stroke="none" stroke-width="0.5"/>
<circle cx="606.09" cy="89.21" r="2" fill="#2C5686" stroke="none" stroke-width="0.5"/>
<circle cx="607.83" cy="110.66" r="2" fill="#2C5686" stroke="none" stroke-width="0.5"/>
<circle cx="605.17" cy="69.65" r="2" fill="#2C5686" stroke="none" stroke-width="0.5"/>
<circle cx="606.93" cy="89.02" r="2" fill="#2C5686" stroke="none" stroke-width="0.5"/>
<circle cx="602.31" cy="92.46" r="2" fill="#2C5686" stroke="none" stroke-width="0.5"/>
<circle cx="596.96" cy="51.13" r="2" fill="#2C5686" stroke="none" stroke-width="0.5"/>
<circle cx="604.51" cy="96.75" r="2" fill="#2C5686" stroke="none" stroke-width="0.5"/>
<circle cx="617.18" cy="74.66" r="2" fill="#2C5686" stroke="none" stroke-width="0.5"/>
<circle cx="620.32" cy="74.35" r="2" fill="#2C5686" stroke="none" stroke-width="0.5"/>
<circle cx="594.08" cy="100.96" r="2" fill="#2C5686" stroke="none" stroke-width="0.5"/>
<circle cx="609.86" cy="84.73" r="2" fill="#2C5686" stroke="none" stroke-width="0.5"/>
<circle cx="615.83" cy="79.16" r="2" fill="#2C5686" stroke="none" stroke-width="0.5"/>
<circle cx="587.84" cy="90.73" r="2" fill="#2C5686" stroke="none" stroke-width="0.5"/>
<circle cx="612.42" cy="82.79" r="2" fill="#2C5686" stroke="none" stroke-width="0.5"/>
<circle cx="598.92" cy="75.81" r="2" fill="#2C5686" stroke="none" stroke-width="0.5"/>
<circle cx="590.88" cy="100.8" r="2" fill="#2C5686" stroke="none" stroke-width="0.5"/>
<circle cx="614.04" cy="68.9" r="2" fill="#2C5686" stroke="none" stroke-width="0.5"/>
<circle cx="596.27" cy="72.83" r="2" fill="#2C5686" stroke="none" stroke-width="0.5"/>
<circle cx="594.32" cy="73.21" r="2" fill="#2C5686" stroke="none" stroke-width="0.5"/>
<circle cx="600.9" cy="104.03" r="2" fill="#2C5686" stroke="none" stroke-width="0.5"/>
<circle cx="602.3" cy="90.15" r="2" fill="#2C5686" stroke="none" stroke-width="0.5"/>
<circle cx="594.56" cy="96.31" r="2" fill="#2C5686" stroke="none" stroke-width="0.5"/>
<circle cx="610.36" cy="88.6" r="2" fill="#2C5686" stroke="none" stroke-width="0.5"/>
<circle cx="618.5" cy="99.78" r="2" fill="#2C5686" stroke="none" stroke-width="0.5"/>
<circle cx="609.63" cy="102.18" r="2" fill="#2C5686" stroke="none" stroke-width="0.5"/>
<circle cx="614.41" cy="79.44" r="2" fill="#2C5686" stroke="none" stroke-width="0.5"/>
<circle cx="616.99" cy="96.15" r="2" fill="#2C5686" stroke="none" stroke-width="0.5"/>
<circle cx="598.65" cy="75.17" r="2" fill="#2C5686" stroke="none" stroke-width="0.5"/>
<circle cx="621.14" cy="95.01" r="2" fill="#2C5686" stroke="none" stroke-width="0.5"/>
<circle cx="619.84" cy="75.2" r="2" fill="#2C5686" stroke="none" stroke-width="0.5"/>
<circle cx="591.96" cy="29.48" r="2" fill="#2C5686" stroke="none" stroke-width="0.5"/>
<circle cx="596.6" cy="85.07" r="2" fill="#2C5686" stroke="none" stroke-width="0.5"/>
<circle cx="590.59" cy="60.57" r="2" fill="#2C5686" stroke="none" stroke-width="0.5"/>
<circle cx="616.23" cy="78.39" r="2" fill="#2C5686" stroke="none" stroke-width="0.5"/>
<circle cx="591.66" cy="101.71" r="2" fill="#2C5686" stroke="none" stroke-width="0.5"/>
<circle cx="587.66" cy="107.19" r="2" fill="#2C5686" stroke="none" stroke-width="0.5"/>
<circle cx="594.43" cy="72.58" r="2" fill="#2C5686" stroke="none" stroke-width="0.5"/>
<circle cx="622.83" cy="101.66" r="2" fill="#2C5686" stroke="none" stroke-width="0.5"/>
<circle cx="591.27" cy="119.62" r="2" fill="#2C5686" stroke="none" stroke-width="0.5"/>
<circle cx="605.6" cy="114.36" r="2" fill="#2C5686" stroke="none" stroke-width="0.5"/>
<circle cx="612.37" cy="87.81" r="2" fill="#2C5686" stroke="none" stroke-width="0.5"/>
<circle cx="590.93" cy="84.49" r="2" fill="#2C5686" stroke="none" stroke-width="0.5"/>
<circle cx="588.39" cy="81.03" r="2" fill="#2C5686" stroke="none" stroke-width="0.5"/>
<circle cx="608.04" cy="105.46" r="2" fill="#2C5686" stroke="none" stroke-width="0.5"/>
<circle cx="592.42" cy="93.1" r="2" fill="#2C5686" stroke="none" stroke-width="0.5"/>
<circle cx="618.09" cy="82.42" r="2" fill="#2C5686" stroke="none" stroke-width="0.5"/>
<circle cx="623.64" cy="76.71" r="2" fill="#2C5686" stroke="none" stroke-width="0.5"/>
<circle cx="589.29" cy="80.28" r="2" fill="#2C5686" stroke="none" stroke-width="0.5"/>
<circle cx="622.21" cy="90.07" r="2" fill="#2C5686" stroke="none" stroke-width="0.5"/>
<circle cx="599.09" cy="113.85" r="2" fill="#2C5686" stroke="none" stroke-width="0.5"/>
<circle cx="604.28" cy="80.27" r="2" fill="#2C5686" stroke="none" stroke-width="0.5"/>
<circle cx="609.23" cy="104.09" r="2" fill="#2C5686" stroke="none" stroke-width="0.5"/>
<circle cx="587.49" cy="88.49" r="2" fill="#2C5686" stroke="none" stroke-width="0.5"/>
<circle cx="593.71" cy="96.38" r="2" fill="#2C5686" stroke="none" stroke-width="0.5"/>
<circle cx="603.8" cy="116.88" r="2" fill="#2C5686" stroke="none" stroke-width="0.5"/>
<circle cx="594.22" cy="87.95" r="2" fill="#2C5686" stroke="none" stroke-width="0.5"/>
<circle cx="593.11" cy="103.46" r="2" fill="#2C5686" stroke="none" stroke-width="0.5"/>
<circle cx="620.05" cy="89.7" r="2" fill="#2C5686" stroke="none" stroke-width="0.5"/>
<circle cx="616.66" cy="87.06" r="2" fill="#2C5686" stroke="none" stroke-width="0.5"/>
<circle cx="610.29" cy="95.95" r="2" fill="#2C5686" stroke="none" stroke-width="0.5"/>
<circle cx="601.97" cy="117.98" r="2" fill="#2C5686" stroke="none" stroke-width="0.5"/>
<circle cx="623.36" cy="102.53" r="2" fill="#2C5686" stroke="none" stroke-width="0.5"/>
<circle cx="616.78" cy="98.18" r="2" fill="#2C5686" stroke="none" stroke-width="0.5"/>
<circle cx="614.54" cy="88.7" r="2" fill="#2C5686" stroke="none" stroke-width="0.5"/>
<circle cx="615.79" cy="50.9" r="2" fill="#2C5686" stroke="none" stroke-width="0.5"/>
<circle cx="620.17" cy="80.24" r="2" fill="#2C5686" stroke="none" stroke-width="0.5"/>
<circle cx="619.55" cy="102.15" r="2" fill="#2C5686" stroke="none" stroke-width="0.5"/>
<circle cx="615.31" cy="96.32" r="2" fill="#2C5686" stroke="none" stroke-width="0.5"/>
<circle cx="602.01" cy="113.08" r="2" fill="#2C5686" stroke="none" stroke-width="0.5"/>
<circle cx="599.64" cy="87.9" r="2" fill="#2C5686" stroke="none" stroke-width="0.5"/>
<circle cx="604.35" cy="92.99" r="2" fill="#2C5686" stroke="none" stroke-width="0.5"/>
<circle cx="610.63" cy="71.54" r="2" fill="#2C5686" stroke="none" stroke-width="0.5"/>
<circle cx="610.09" cy="85.81" r="2" fill="#2C5686" stroke="none" stroke-width="0.5"/>
<circle cx="611.65" cy="82.42" r="2" fill="#2C5686" stroke="none" stroke-width="0.5"/>
<circle cx="599.5" cy="47.75" r="2" fill="#2C5686" stroke="none" stroke-width="0.5"/>
<circle cx="606.72" cy="98.23" r="2" fill="#2C5686" stroke="none" stroke-width="0.5"/>
<circle cx="601.41" cy="104.74" r="2" fill="#2C5686" stroke="none" stroke-width="0.5"/>
<circle cx="612.95" cy="63.39" r="2" fill="#2C5686" stroke="none" stroke-width="0.5"/>
<circle cx="615.18" cy="86.85" r="2" fill="#2C5686" stroke="none" stroke-width="0.5"/>
<circle cx="609.77" cy="83.35" r="2" fill="#2C5686" stroke="none" stroke-width="0.5"/>
<circle cx="614.34" cy="87.27" r="2" fill="#2C5686" stroke="none" stroke-width="0.5"/>
<circle cx="588.87" cy="87.52" r="2" fill="#2C5686" stroke="none" stroke-width="0.5"/>
<circle cx="594.23" cy="70.28" r="2" fill="#2C5686" stroke="none" stroke-width="0.5"/>
<circle cx="596.28" cy="92.12" r="2" fill="#2C5686" stroke="none" stroke-width="0.5"/>
<circle cx="620.51" cy="81.59" r="2" fill="#2C5686" stroke="none" stroke-width="0.5"/>
<circle cx="622.78" cy="105.34" r="2" fill="#2C5686" stroke="none" stroke-width="0.5"/>
<circle cx="608.02" cy="92.85" r="2" fill="#2C5686" stroke="none" stroke-width="0.5"/>
<circle cx="616.95" cy="63.54" r="2" fill="#2C5686" stroke="none" stroke-width="0.5"/>
<circle cx="589.82" cy="87.55" r="2" fill="#2C5686" stroke="none" stroke-width="0.5"/>
<circle cx="588.67" cy="109.4" r="2" fill="#2C5686" stroke="none" stroke-width="0.5"/>
<circle cx="621.42" cy="102.7" r="2" fill="#2C5686" stroke="none" stroke-width="0.5"/>
<circle cx="593.26" cy="76.93" r="2" fill="#2C5686" stroke="none" stroke-width="0.5"/>
<circle cx="605.33" cy="71.24" r="2" fill="#2C5686" stroke="none" stroke-width="0.5"/>
<circle cx="621.98" cy="91.18" r="2" fill="#2C5686" stroke="none" stroke-width="0.5"/>
<circle cx="602.57" cy="90.48" r="2" fill="#2C5686" stroke="none" stroke-width="0.5"/>
<circle cx="600.53" cy="108.58" r="2" fill="#2C5686" stroke="none" stroke-width="0.5"/>
<circle cx="597.57" cy="90.52" r="2" fill="#2C5686" stroke="none" stroke-width="0.5"/>
<circle cx="597.49" cy="98.6" r="2" fill="#2C5686" stroke="none" stroke-width="0.5"/>
<circle cx="613.51" cy="104.18" r="2" fill="#2C5686" stroke="none" stroke-width="0.5"/>
<circle cx="596.07" cy="87.62" r="2" fill="#2C5686" stroke="none" stroke-width="0.5"/>
<circle cx="588.58" cy="84.2" r="2" fill="#2C5686" stroke="none" stroke-width="0.5"/>
<circle cx="601.43" cy="71.66" r="2" fill="#2C5686" stroke="none" stroke-width="0.5"/>
<circle cx="620.21" cy="64.02" r="2" fill="#2C5686" stroke="none" stroke-width="0.5"/>
<circle cx="623.58" cy="86.89" r="2" fill="#2C5686" stroke="none" stroke-width="0.5"/>
<circle cx="621.94" cy="92.08" r="2" fill="#2C5686" stroke="none" stroke-width="0.5"/>
<circle cx="602.89" cy="55.04" r="2" fill="#2C5686" stroke="none" stroke-width="0.5"/>
<circle cx="604.67" cy="71.01" r="2" fill="#2C5686" stroke="none" stroke-width="0.5"/>
<circle cx="606.36" cy="74.79" r="2" fill="#2C5686" stroke="none" stroke-width="0.5"/>
<circle cx="621.68" cy="88.88" r="2" fill="#2C5686" stroke="none" stroke-width="0.5"/>
<circle cx="623.22" cy="89.96" r="2" fill="#2C5686" stroke="none" stroke-width="0.5"/>
<circle cx="617.22" cy="104.94" r="2" fill="#2C5686" stroke="none" stroke-width="0.5"/>
<circle cx="610.1" cy="93.26" r="2" fill="#2C5686" stroke="none" stroke-width="0.5"/>
<circle cx="603.86" cy="91.73" r="2" fill="#2C5686" stroke="none" stroke-width="0.5"/>
<circle cx="606.54" cy="85.3" r="2" fill="#2C5686" stroke="none" stroke-width="0.5"/>
<circle cx="591.6" cy="81.71" r="2" fill="#2C5686" stroke="none" stroke-width="0.5"/>
<circle cx="603.86" cy="109.56" r="2" fill="#2C5686" stroke="none" stroke-width="0.5"/>
<circle cx="596.7" cy="78.31" r="2" fill="#2C5686" stroke="none" stroke-width="0.5"/>
<circle cx="615.78" cy="101.66" r="2" fill="#2C5686" stroke="none" stroke-width="0.5"/>
<circle cx="606.64" cy="95.25" r="2" fill="#2C5686" stroke="none" stroke-width="0.5"/>
<circle cx="614.17" cy="46.47" r="2" fill="#2C5686" stroke="none" stroke-width="0.5"/>
<circle cx="595.82" cy="87.43" r="2" fill="#2C5686" stroke="none" stroke-width="0.5"/>
<circle cx="616.02" cy="60.76" r="2" fill="#2C5686" stroke="none" stroke-width="0.5"/>
<circle cx="610.12" cy="64.18" r="2" fill="#2C5686" stroke="none" stroke-width="0.5"/>
<circle cx="612.35" cy="95.07" r="2" fill="#2C5686" stroke="none" stroke-width="0.5"/>
<circle cx="607.9" cy="76.76" r="2" fill="#2C5686" stroke="none" stroke-width="0.5"/>
<circle cx="614.87" cy="106.24" r="2" fill="#2C5686" stroke="none" stroke-width="0.5"/>
<circle cx="594.02" cy="99.44" r="2" fill="#2C5686" stroke="none" stroke-width="0.5"/>
<circle cx="620.88" cy="86.53" r="2" fill="#2C5686" stroke="none" stroke-width="0.5"/>
<circle cx="619.51" cy="41.19" r="2" fill="#2C5686" stroke="none" stroke-width="0.5"/>
<circle cx="597.02" cy="81.22" r="2" fill="#2C5686" stroke="none" stroke-width="0.5"/>
<circle cx="602.73" cy="85.41" r="2" fill="#2C5686" stroke="none" stroke-width="0.5"/>
<circle cx="607.04" cy="92.26" r="2" fill="#2C5686" stroke="none" stroke-width="0.5"/>
<circle cx="589.68" cy="92.15" r="2" fill="#2C5686" stroke="none" stroke-width="0.5"/>
<circle cx="607.37" cy="65.81" r="2" fill="#2C5686" stroke="none" stroke-width="0.5"/>
<circle cx="610.35" cy="74.14" r="2" fill="#2C5686" stroke="none" stroke-width="0.5"/>
<circle cx="594.79" cy="99.87" r="2" fill="#2C5686" stroke="none" stroke-width="0.5"/>
<circle cx="599.72" cy="73.49" r="2" fill="#2C5686" stroke="none" stroke-width="0.5"/>
<circle cx="589.75" cy="87.85" r="2" fill="#2C5686" stroke="none" stroke-width="0.5"/>
<circle cx="591.43" cy="118.03" r="2" fill="#2C5686" stroke="none" stroke-width="0.5"/>
<circle cx="615.44" cy="78.53" r="2" fill="#2C5686" stroke="none" stroke-width="0.5"/>
<circle cx="594.89" cy="108.12" r="2" fill="#2C5686" stroke="none" stroke-width="0.5"/>
<circle cx="616.97" cy="98.06" r="2" fill="#2C5686" stroke="none" stroke-width="0.5"/>
<circle cx="600.65" cy="81.05" r="2" fill="#2C5686" stroke="none" stroke-width="0.5"/>
<circle cx="599.04" cy="114.82" r="2" fill="#2C5686" stroke="none" stroke-width="0.5"/>
<circle cx="607.3" cy="127.27" r="2" fill="#2C5686" stroke="none" stroke-width="0.5"/>
<circle cx="602.82" cy="87.73" r="2" fill="#2C5686" stroke="none" stroke-width="0.5"/>
<circle cx="600.66" cy="123.63" r="2" fill="#2C5686" stroke="none" stroke-width="0.5"/>
<circle cx="589.9" cy="59.49" r="2" fill="#2C5686" stroke="none" stroke-width="0.5"/>
<circle cx="590.07" cy="67.74" r="2" fill="#2C5686" stroke="none" stroke-width="0.5"/>
<circle cx="612.36" cy="104.15" r="2" fill="#2C5686" stroke="none" stroke-width="0.5"/>
<circle cx="598.06" cy="94.22" r="2" fill="#2C5686" stroke="none" stroke-width="0.5"/>
<circle cx="594.89" cy="85.79" r="2" fill="#2C5686" stroke="none" stroke-width="0.5"/>
<circle cx="611.5" cy="93.25" r="2" fill="#2C5686" stroke="none" stroke-width="0.5"/>
<circle cx="613.82" cy="74.71" r="2" fill="#2C5686" stroke="none" stroke-width="0.5"/>
<circle cx="612.68" cy="80" r="2" fill="#2C5686" stroke="none" stroke-width="0.5"/>
<circle cx="600.24" cy="88.7" r="2" fill="#2C5686" stroke="none" stroke-width="0.5"/>
<circle cx="613.86" cy="77.95" r="2" fill="#2C5686" stroke="none" stroke-width="0.5"/>
<circle cx="613.24" cy="92.29" r="2" fill="#2C5686" stroke="none" stroke-width="0.5"/>
<circle cx="608.06" cy="80.75" r="2" fill="#2C5686" stroke="none" stroke-width="0.5"/>
<circle cx="620.79" cy="53.03" r="2" fill="#2C5686" stroke="none" stroke-width="0.5"/>
<circle cx="603.21" cy="105.82" r="2" fill="#2C5686" stroke="none" stroke-width="0.5"/>
<circle cx="598.75" cy="82.27" r="2" fill="#2C5686" stroke="none" stroke-width="0.5"/>
<circle cx="601.78" cy="100" r="2" fill="#2C5686" stroke="none" stroke-width="0.5"/>
<circle cx="596.19" cy="55.03" r="2" fill="#2C5686" stroke="none" stroke-width="0.5"/>
<circle cx="600.38" cy="100.67" r="2" fill="#2C5686" stroke="none" stroke-width="0.5"/>
<circle cx="601.64" cy="97.15" r="2" fill="#2C5686" stroke="none" stroke-width="0.5"/>
<circle cx="601.34" cy="75.22" r="2" fill="#2C5686" stroke="none" stroke-width="0.5"/>
<circle cx="616.49" cy="79.69" r="2" fill="#2C5686" stroke="none" stroke-width="0.5"/>
<circle cx="607" cy="67.02" r="2" fill="#2C5686" stroke="none" stroke-width="0.5"/>
<circle cx="593.53" cy="75.97" r="2" fill="#2C5686" stroke="none" stroke-width="0.5"/>
<circle cx="615.08" cy="104.84" r="2" fill="#2C5686" stroke="none" stroke-width="0.5"/>
<circle cx="587.82" cy="77.09" r="2" fill="#2C5686" stroke="none" stroke-width="0.5"/>
<circle cx="606.08" cy="95.87" r="2" fill="#2C5686" stroke="none" stroke-width="0.5"/>
<circle cx="622.76" cy="107.19" r="2" fill="#2C5686" stroke="none" stroke-width="0.5"/>
<circle cx="611.09" cy="92.63" r="2" fill="#2C5686" stroke="none" stroke-width="0.5"/>
<circle cx="607.23" cy="84.84" r="2" fill="#2C5686" stroke="none" stroke-width="0.5"/>
<circle cx="616.16" cy="92.44" r="2" fill="#2C5686" stroke="none" stroke-width="0.5"/>
<circle cx="614.27" cy="81" r="2" fill="#2C5686" stroke="none" stroke-width="0.5"/>
<circle cx="620.27" cy="83.43" r="2" fill="#2C5686" stroke="none" stroke-width="0.5"/>
<circle cx="592.32" cy="66.86" r="2" fill="#2C5686" stroke="none" stroke-width="0.5"/>
<circle cx="614.59" cy="75.07" r="2" fill="#2C5686" stroke="none" stroke-width="0.5"/>
<circle cx="595.16" cy="94.1" r="2" fill="#2C5686" stroke="none" stroke-width="0.5"/>
<circle cx="615.32" cy="96.71" r="2" fill="#2C5686" stroke="none" stroke-width="0.5"/>
<circle cx="601.59" cy="114.38" r="2" fill="#2C5686" stroke="none" stroke-width="0.5"/>
<circle cx="599.5" cy="90.59" r="2" fill="#2C5686" stroke="none" stroke-width="0.5"/>
<circle cx="605.27" cy="62.9" r="2" fill="#2C5686" stroke="none" stroke-width="0.5"/>
<circle cx="606.88" cy="91.67" r="2" fill="#2C5686" stroke="none" stroke-width="0.5"/>
<circle cx="620.85" cy="91.49" r="2" fill="#2C5686" stroke="none" stroke-width="0.5"/>
<circle cx="602.19" cy="112.06" r="2" fill="#2C5686" stroke="none" stroke-width="0.5"/>
<circle cx="618.58" cy="75.66" r="2" fill="#2C5686" stroke="none" stroke-width="0.5"/>
<circle cx="616.82" cy="108.34" r="2" fill="#2C5686" stroke="none" stroke-width="0.5"/>
<circle cx="622.44" cy="69.62" r="2" fill="#2C5686" stroke="none" stroke-width="0.5"/>
<circle cx="610.69" cy="116.44" r="2" fill="#2C5686" stroke="none" stroke-width="0.5"/>
<circle cx="616.68" cy="112.27" r="2" fill="#2C5686" stroke="none" stroke-width="0.5"/>
<circle cx="602.6" cy="90.67" r="2" fill="#2C5686" stroke="none" stroke-width="0.5"/>
<circle cx="614.43" cy="94.9" r="2" fill="#2C5686" stroke="none" stroke-width="0.5"/>
<circle cx="623.67" cy="82.43" r="2" fill="#2C5686" stroke="none" stroke-width="0.5"/>
<circle cx="594.56" cy="93.86" r="2" fill="#2C5686" stroke="none" stroke-width="0.5"/>
<circle cx="602.72" cy="79.85" r="2" fill="#2C5686" stroke="none" stroke-width="0.5"/>
<circle cx="589.19" cy="98.12" r="2" fill="#2C5686" stroke="none" stroke-width="0.5"/>
<circle cx="598.41" cy="45.09" r="2" fill="#2C5686" stroke="none" stroke-width="0.5"/>
<circle cx="615.71" cy="69.1" r="2" fill="#2C5686" stroke="none" stroke-width="0.5"/>
<circle cx="593.64" cy="71.23" r="2" fill="#2C5686" stroke="none" stroke-width="0.5"/>
<circle cx="608.61" cy="70.09" r="2" fill="#2C5686" stroke="none" stroke-width="0.5"/>
<circle cx="620.64" cy="79.92" r="2" fill="#2C5686" stroke="none" stroke-width="0.5"/>
<circle cx="593.83" cy="79.2" r="2" fill="#2C5686" stroke="none" stroke-width="0.5"/>
<circle cx="595.04" cy="85.06" r="2" fill="#2C5686" stroke="none" stroke-width="0.5"/>
<circle cx="609.01" cy="84.45" r="2" fill="#2C5686" stroke="none" stroke-width="0.5"/>
<circle cx="595.29" cy="60.96" r="2" fill="#2C5686" stroke="none" stroke-width="0.5"/>
<circle cx="593.38" cy="81.56" r="2" fill="#2C5686" stroke="none" stroke-width="0.5"/>
<circle cx="615.03" cy="74.65" r="2" fill="#2C5686" stroke="none" stroke-width="0.5"/>
<circle cx="617.23" cy="94.63" r="2" fill="#2C5686" stroke="none" stroke-width="0.5"/>
<circle cx="604.74" cy="67.76" r="2" fill="#2C5686" stroke="none" stroke-width="0.5"/>
<circle cx="620.83" cy="89.08" r="2" fill="#2C5686" stroke="none" stroke-width="0.5"/>
<circle cx="599.66" cy="52.74" r="2" fill="#2C5686" stroke="none" stroke-width="0.5"/>
<circle cx="604.86" cy="126.04" r="2" fill="#2C5686" stroke="none" stroke-width="0.5"/>
<circle cx="595.18" cy="98.85" r="2" fill="#2C5686" stroke="none" stroke-width="0.5"/>
<circle cx="616.65" cy="49.07" r="2" fill="#2C5686" stroke="none" stroke-width="0.5"/>
<circle cx="601.24" cy="74.64" r="2" fill="#2C5686" stroke="none" stroke-width="0.5"/>
<circle cx="597.16" cy="106.22" r="2" fill="#2C5686" stroke="none" stroke-width="0.5"/>
<circle cx="623.64" cy="90.23" r="2" fill="#2C5686" stroke="none" stroke-width="0.5"/>
<circle cx="587.4" cy="93.44" r="2" fill="#2C5686" stroke="none" stroke-width="0.5"/>
<circle cx="604.49" cy="96.9" r="2" fill="#2C5686" stroke="none" stroke-width="0.5"/>
<circle cx="613.39" cy="107.02" r="2" fill="#2C5686" stroke="none" stroke-width="0.5"/>
<circle cx="609.42" cy="65.76" r="2" fill="#2C5686" stroke="none" stroke-width="0.5"/>
<circle cx="598.91" cy="81.58" r="2" fill="#2C5686" stroke="none" stroke-width="0.5"/>
<circle cx="596.6" cy="78.86" r="2" fill="#2C5686" stroke="none" stroke-width="0.5"/>
<circle cx="610.57" cy="73.42" r="2" fill="#2C5686" stroke="none" stroke-width="0.5"/>
<circle cx="623.75" cy="101.25" r="2" fill="#2C5686" stroke="none" stroke-width="0.5"/>
<circle cx="592.57" cy="88.93" r="2" fill="#2C5686" stroke="none" stroke-width="0.5"/>
<circle cx="615.5" cy="66.72" r="2" fill="#2C5686" stroke="none" stroke-width="0.5"/>
<circle cx="618.31" cy="56.49" r="2" fill="#2C5686" stroke="none" stroke-width="0.5"/>
<circle cx="617.42" cy="86.57" r="2" fill="#2C5686" stroke="none" stroke-width="0.5"/>
<circle cx="613.51" cy="75.57" r="2" fill="#2C5686" stroke="none" stroke-width="0.5"/>
<circle cx="590.6" cy="80.41" r="2" fill="#2C5686" stroke="none" stroke-width="0.5"/>
<circle cx="622.35" cy="105.07" r="2" fill="#2C5686" stroke="none" stroke-width="0.5"/>
<circle cx="608.71" cy="84.54" r="2" fill="#2C5686" stroke="none" stroke-width="0.5"/>
<circle cx="616.2" cy="78.15" r="2" fill="#2C5686" stroke="none" stroke-width="0.5"/>
<circle cx="602.43" cy="97.69" r="2" fill="#2C5686" stroke="none" stroke-width="0.5"/>
<circle cx="617.57" cy="80.65" r="2" fill="#2C5686" stroke="none" stroke-width="0.5"/>
<circle cx="594.71" cy="90.4" r="2" fill="#2C5686" stroke="none" stroke-width="0.5"/>
<circle cx="592.83" cy="106.06" r="2" fill="#2C5686" stroke="none" stroke-width="0.5"/>
<circle cx="617.78" cy="92.21" r="2" fill="#2C5686" stroke="none" stroke-width="0.5"/>
<circle cx="589.81" cy="92.14" r="2" fill="#2C5686" stroke="none" stroke-width="0.5"/>
<circle cx="598.31" cy="73.77" r="2" fill="#2C5686" stroke="none" stroke-width="0.5"/>
<circle cx="600.31" cy="112.19" r="2" fill="#2C5686" stroke="none" stroke-width="0.5"/>
<circle cx="612.42" cy="81.54" r="2" fill="#2C5686" stroke="none" stroke-width="0.5"/>
<circle cx="604.09" cy="73.95" r="2" fill="#2C5686" stroke="none" stroke-width="0.5"/>
<circle cx="622.78" cy="76.74" r="2" fill="#2C5686" stroke="none" stroke-width="0.5"/>
<circle cx="587.46" cy="75.39" r="2" fill="#2C5686" stroke="none" stroke-width="0.5"/>
<circle cx="600.95" cy="107.72" r="2" fill="#2C5686" stroke="none" stroke-width="0.5"/>
<circle cx="607.87" cy="89.82" r="2" fill="#2C5686" stroke="none" stroke-width="0.5"/>
<circle cx="603.95" cy="98.49" r="2" fill="#2C5686" stroke="none" stroke-width="0.5"/>
<circle cx="616.58" cy="36.39" r="2" fill="#2C5686" stroke="none" stroke-width="0.5"/>
<circle cx="594.65" cy="83.51" r="2" fill="#2C5686" stroke="none" stroke-width="0.5"/>
<circle cx="600.91" cy="96.93" r="2" fill="#2C5686" stroke="none" stroke-width="0.5"/>
<circle cx="606.97" cy="95.85" r="2" fill="#2C5686" stroke="none" stroke-width="0.5"/>
<circle cx="601.51" cy="91.26" r="2" fill="#2C5686" stroke="none" stroke-width="0.5"/>
<circle cx="611.67" cy="72.68" r="2" fill="#2C5686" stroke="none" stroke-width="0.5"/>
<circle cx="614.06" cy="87.27" r="2" fill="#2C5686" stroke="none" stroke-width="0.5"/>
<circle cx="599.19" cy="75.92" r="2" fill="#2C5686" stroke="none" stroke-width="0.5"/>
<circle cx="613.78" cy="67.05" r="2" fill="#2C5686" stroke="none" stroke-width="0.5"/>
<circle cx="599.27" cy="93.95" r="2" fill="#2C5686" stroke="none" stroke-width="0.5"/>
<circle cx="592.21" cy="83.49" r="2" fill="#2C5686" stroke="none" stroke-width="0.5"/>
<circle cx="590.49" cy="93.2" r="2" fill="#2C5686" stroke="none" stroke-width="0.5"/>
<circle cx="593.66" cy="98.09" r="2" fill="#2C5686" stroke="none" stroke-width="0.5"/>
<circle cx="601.88" cy="109.89" r="2" fill="#2C5686" stroke="none" stroke-width="0.5"/>
<circle cx="590.33" cy="75.45" r="2" fill="#2C5686" stroke="none" stroke-width="0.5"/>
<circle cx="595.38" cy="105.55" r="2" fill="#2C5686" stroke="none" stroke-width="0.5"/>
<circle cx="602.05" cy="82.19" r="2" fill="#2C5686" stroke="none" stroke-width="0.5"/>
<circle cx="589.69" cy="79.81" r="2" fill="#2C5686" stroke="none" stroke-width="0.5"/>
<circle cx="605.93" cy="71.68" r="2" fill="#2C5686" stroke="none" stroke-width="0.5"/>
<circle cx="610.95" cy="95.08" r="2" fill="#2C5686" stroke="none" stroke-width="0.5"/>
<circle cx="601.28" cy="83.63" r="2" fill="#2C5686" stroke="none" stroke-width="0.5"/>
<circle cx="599.26" cy="116.99" r="2" fill="#2C5686" stroke="none" stroke-width="0.5"/>
<circle cx="601.83" cy="89.29" r="2" fill="#2C5686" stroke="none" stroke-width="0.5"/>
<circle cx="612.9" cy="85.32" r="2" fill="#2C5686" stroke="none" stroke-width="0.5"/>
<circle cx="611.43" cy="58.15" r="2" fill="#2C5686" stroke="none" stroke-width="0.5"/>
<circle cx="609.52" cy="90.1" r="2" fill="#2C5686" stroke="none" stroke-width="0.5"/>
<circle cx="599.66" cy="72.27" r="2" fill="#2C5686" stroke="none" stroke-width="0.5"/>
<circle cx="611.08" cy="85.13" r="2" fill="#2C5686" stroke="none" stroke-width="0.5"/>
<circle cx="605.85" cy="74.33" r="2" fill="#2C5686" stroke="none" stroke-width="0.5"/>
<circle cx="616.18" cy="76.97" r="2" fill="#2C5686" stroke="none" stroke-width="0.5"/>
<circle cx="592.86" cy="76.6" r="2" fill="#2C5686" stroke="none" stroke-width="0.5"/>
<circle cx="615.36" cy="106.85" r="2" fill="#2C5686" stroke="none" stroke-width="0.5"/>
<circle cx="600.04" cy="69.94" r="2" fill="#2C5686" stroke="none" stroke-width="0.5"/>
<circle cx="605.52" cy="98.63" r="2" fill="#2C5686" stroke="none" stroke-width="0.5"/>
<circle cx="623.51" cy="70.58" r="2" fill="#2C5686" stroke="none" stroke-width="0.5"/>
<circle cx="606.09" cy="66.74" r="2" fill="#2C5686" stroke="none" stroke-width="0.5"/>
<circle cx="594.3" cy="93.53" r="2" fill="#2C5686" stroke="none" stroke-width="0.5"/>
<circle cx="621.96" cy="117.16" r="2" fill="#2C5686" stroke="none" stroke-width="0.5"/>
<circle cx="590.08" cy="94.41" r="2" fill="#2C5686" stroke="none" stroke-width="0.5"/>
<circle cx="596.05" cy="94.61" r="2" fill="#2C5686" stroke="none" stroke-width="0.5"/>
<circle cx="599.18" cy="109.23" r="2" fill="#2C5686" stroke="none" stroke-width="0.5"/>
<circle cx="621.38" cy="98.51" r="2" fill="#2C5686" stroke="none" stroke-width="0.5"/>
<circle cx="591.59" cy="98.56" r="2" fill="#2C5686" stroke="none" stroke-width="0.5"/>
<circle cx="623.02" cy="72.87" r="2" fill="#2C5686" stroke="none" stroke-width="0.5"/>
<circle cx="607.11" cy="63.53" r="2" fill="#2C5686" stroke="none" stroke-width="0.5"/>
<circle cx="607.75" cy="60.2" r="2" fill="#2C5686" stroke="none" stroke-width="0.5"/>
<circle cx="620.65" cy="98.73" r="2" fill="#2C5686" stroke="none" stroke-width="0.5"/>
<circle cx="623.71" cy="91.57" r="2" fill="#2C5686" stroke="none" stroke-width="0.5"/>
<circle cx="591.54" cy="77.71" r="2" fill="#2C5686" stroke="none" stroke-width="0.5"/>
<circle cx="617.51" cy="107.04" r="2" fill="#2C5686" stroke="none" stroke-width="0.5"/>
<circle cx="595.91" cy="95.2" r="2" fill="#2C5686" stroke="none" stroke-width="0.5"/>
<circle cx="608.22" cy="53" r="2" fill="#2C5686" stroke="none" stroke-width="0.5"/>
<circle cx="607.27" cy="81.74" r="2" fill="#2C5686" stroke="none" stroke-width="0.5"/>
<circle cx="589.82" cy="95.99" r="2" fill="#2C5686" stroke="none" stroke-width="0.5"/>
<circle cx="623.52" cy="76.74" r="2" fill="#2C5686" stroke="none" stroke-width="0.5"/>
<circle cx="621.76" cy="84.77" r="2" fill="#2C5686" stroke="none" stroke-width="0.5"/>
<circle cx="611.84" cy="94.46" r="2" fill="#2C5686" stroke="none" stroke-width="0.5"/>
<circle cx="614.29" cy="98.59" r="2" fill="#2C5686" stroke="none" stroke-width="0.5"/>
<circle cx="616.74" cy="102.94" r="2" fill="#2C5686" stroke="none" stroke-width="0.5"/>
<circle cx="587.6" cy="72.02" r="2" fill="#2C5686" stroke="none" stroke-width="0.5"/>
<circle cx="592.29" cy="81.11" r="2" fill="#2C5686" stroke="none" stroke-width="0.5"/>
<circle cx="601.3" cy="69.38" r="2" fill="#2C5686" stroke="none" stroke-width="0.5"/>
<circle cx="606.23" cy="95.98" r="2" fill="#2C5686" stroke="none" stroke-width="0.5"/>
<circle cx="596.76" cy="91.1" r="2" fill="#2C5686" stroke="none" stroke-width="0.5"/>
<circle cx="610.74" cy="100.2" r="2" fill="#2C5686" stroke="none" stroke-width="0.5"/>
<circle cx="588.4" cy="92.92" r="2" fill="#2C5686" stroke="none" stroke-width="0.5"/>
<circle cx="622.5" cy="91.19" r="2" fill="#2C5686" stroke="none" stroke-width="0.5"/>
<circle cx="609.2" cy="94.87" r="2" fill="#2C5686" stroke="none" stroke-width="0.5"/>
<circle cx="610.08" cy="103.36" r="2" fill="#2C5686" stroke="none" stroke-width="0.5"/>
<circle cx="612.5" cy="83.67" r="2" fill="#2C5686" stroke="none" stroke-width="0.5"/>
<circle cx="604.97" cy="85.46" r="2" fill="#2C5686" stroke="none" stroke-width="0.5"/>
<circle cx="623.8" cy="114.08" r="2" fill="#2C5686" stroke="none" stroke-width="0.5"/>
<circle cx="602.13" cy="69.92" r="2" fill="#2C5686" stroke="none" stroke-width="0.5"/>
<circle cx="603.06" cy="114.15" r="2" fill="#2C5686" stroke="none" stroke-width="0.5"/>
<circle cx="606.46" cy="119.31" r="2" fill="#2C5686" stroke="none" stroke-width="0.5"/>
<circle cx="606.43" cy="101.12" r="2" fill="#2C5686" stroke="none" stroke-width="0.5"/>
<circle cx="598.87" cy="119.08" r="2" fill="#2C5686" stroke="none" stroke-width="0.5"/>
<circle cx="589.02" cy="72.2" r="2" fill="#2C5686" stroke="none" stroke-width="0.5"/>
<circle cx="614.08" cy="92.19" r="2" fill="#2C5686" stroke="none" stroke-width="0.5"/>
<circle cx="609.11" cy="121.51" r="2" fill="#2C5686" stroke="none" stroke-width="0.5"/>
<circle cx="608.96" cy="86.67" r="2" fill="#2C5686" stroke="none" stroke-width="0.5"/>
<circle cx="589.58" cy="100.77" r="2" fill="#2C5686" stroke="none" stroke-width="0.5"/>
<circle cx="605.6" cy="74.21" r="2" fill="#2C5686" stroke="none" stroke-width="0.5"/>
<circle cx="601.68" cy="74.3" r="2" fill="#2C5686" stroke="none" stroke-width="0.5"/>
<circle cx="606.47" cy="62.98" r="2" fill="#2C5686" stroke="none" stroke-width="0.5"/>
<circle cx="595.85" cy="78.75" r="2" fill="#2C5686" stroke="none" stroke-width="0.5"/>
<circle cx="595.73" cy="92.51" r="2" fill="#2C5686" stroke="none" stroke-width="0.5"/>
<circle cx="589.53" cy="71.45" r="2" fill="#2C5686" stroke="none" stroke-width="0.5"/>
<circle cx="611.63" cy="50.68" r="2" fill="#2C5686" stroke="none" stroke-width="0.5"/>
<circle cx="619.06" cy="109.36" r="2" fill="#2C5686" stroke="none" stroke-width="0.5"/>
<circle cx="595.21" cy="112.87" r="2" fill="#2C5686" stroke="none" stroke-width="0.5"/>
<circle cx="614.63" cy="72.82" r="2" fill="#2C5686" stroke="none" stroke-width="0.5"/>
<circle cx="590.65" cy="119.11" r="2" fill="#2C5686" stroke="none" stroke-width="0.5"/>
<circle cx="616.32" cy="101.23" r="2" fill="#2C5686" stroke="none" stroke-width="0.5"/>
<circle cx="622.19" cy="72.37" r="2" fill="#2C5686" stroke="none" stroke-width="0.5"/>
<circle cx="587.02" cy="72.59" r="2" fill="#2C5686" stroke="none" stroke-width="0.5"/>
<circle cx="599.02" cy="86.31" r="2" fill="#2C5686" stroke="none" stroke-width="0.5"/>
<circle cx="589.32" cy="73.06" r="2" fill="#2C5686" stroke="none" stroke-width="0.5"/>
<circle cx="601.7" cy="63.07" r="2" fill="#2C5686" stroke="none" stroke-width="0.5"/>
<circle cx="600.19" cy="105.23" r="2" fill="#2C5686" stroke="none" stroke-width="0.5"/>
<circle cx="588.15" cy="91.14" r="2" fill="#2C5686" stroke="none" stroke-width="0.5"/>
<circle cx="620.24" cy="89.4" r="2" fill="#2C5686" stroke="none" stroke-width="0.5"/>
<circle cx="621.56" cy="93.66" r="2" fill="#2C5686" stroke="none" stroke-width="0.5"/>
<circle cx="623.16" cy="68.88" r="2" fill="#2C5686" stroke="none" stroke-width="0.5"/>
<circle cx="597.93" cy="97.79" r="2" fill="#2C5686" stroke="none" stroke-width="0.5"/>
<circle cx="621.14" cy="84.93" r="2" fill="#2C5686" stroke="none" stroke-width="0.5"/>
<circle cx="618" cy="78.24" r="2" fill="#2C5686" stroke="none" stroke-width="0.5"/>
<circle cx="600.1" cy="93.34" r="2" fill="#2C5686" stroke="none" stroke-width="0.5"/>
<circle cx="619.55" cy="96.72" r="2" fill="#2C5686" stroke="none" stroke-width="0.5"/>
<circle cx="623.83" cy="85.11" r="2" fill="#2C5686" stroke="none" stroke-width="0.5"/>
<circle cx="594.09" cy="79.96" r="2" fill="#2C5686" stroke="none" stroke-width="0.5"/>
<circle cx="619.57" cy="64.75" r="2" fill="#2C5686" stroke="none" stroke-width="0.5"/>
<circle cx="613.85" cy="79.47" r="2" fill="#2C5686" stroke="none" stroke-width="0.5"/>
<circle cx="598.58" cy="84.44" r="2" fill="#2C5686" stroke="none" stroke-width="0.5"/>
<circle cx="613.39" cy="60.1" r="2" fill="#2C5686" stroke="none" stroke-width="0.5"/>
<circle cx="591.99" cy="106.17" r="2" fill="#2C5686" stroke="none" stroke-width="0.5"/>
<circle cx="603.47" cy="99.67" r="2" fill="#2C5686" stroke="none" stroke-width="0.5"/>
<circle cx="589.92" cy="123.16" r="2" fill="#2C5686" stroke="none" stroke-width="0.5"/>
<circle cx="613.29" cy="84.49" r="2" fill="#2C5686" stroke="none" stroke-width="0.5"/>
<circle cx="594.27" cy="73.03" r="2" fill="#2C5686" stroke="none" stroke-width="0.5"/>
<circle cx="611.59" cy="81.8" r="2" fill="#2C5686" stroke="none" stroke-width="0.5"/>
<circle cx="616.25" cy="75.96" r="2" fill="#2C5686" stroke="none" stroke-width="0.5"/>
<circle cx="619.72" cy="103.59" r="2" fill="#2C5686" stroke="none" stroke-width="0.5"/>
<circle cx="608.83" cy="69.54" r="2" fill="#2C5686" stroke="none" stroke-width="0.5"/>
<circle cx="621.29" cy="85.01" r="2" fill="#2C5686" stroke="none" stroke-width="0.5"/>
<circle cx="611.68" cy="73.12" r="2" fill="#2C5686" stroke="none" stroke-width="0.5"/>
<circle cx="590.33" cy="90.75" r="2" fill="#2C5686" stroke="none" stroke-width="0.5"/>
<circle cx="623.37" cy="63.8" r="2" fill="#2C5686" stroke="none" stroke-width="0.5"/>
<circle cx="606.64" cy="105.48" r="2" fill="#2C5686" stroke="none" stroke-width="0.5"/>
<circle cx="588.68" cy="79.5" r="2" fill="#2C5686" stroke="none" stroke-width="0.5"/>
<circle cx="596.28" cy="97.67" r="2" fill="#2C5686" stroke="none" stroke-width="0.5"/>
<circle cx="616.72" cy="94.67" r="2" fill="#2C5686" stroke="none" stroke-width="0.5"/>
<circle cx="614.96" cy="75.4" r="2" fill="#2C5686" stroke="none" stroke-width="0.5"/>
<circle cx="596.1" cy="79.86" r="2" fill="#2C5686" stroke="none" stroke-width="0.5"/>
<circle cx="593.9" cy="90.58" r="2" fill="#2C5686" stroke="none" stroke-width="0.5"/>
<circle cx="620.19" cy="66.57" r="2" fill="#2C5686" stroke="none" stroke-width="0.5"/>
<circle cx="604.08" cy="82.57" r="2" fill="#2C5686" stroke="none" stroke-width="0.5"/>
<circle cx="614.77" cy="87.16" r="2" fill="#2C5686" stroke="none" stroke-width="0.5"/>
<circle cx="605.5" cy="115.01" r="2" fill="#2C5686" stroke="none" stroke-width="0.5"/>
<circle cx="593.66" cy="61.9" r="2" fill="#2C5686" stroke="none" stroke-width="0.5"/>
<circle cx="600.31" cy="108.91" r="2" fill="#2C5686" stroke="none" stroke-width="0.5"/>
<circle cx="611.36" cy="94.94" r="2" fill="#2C5686" stroke="none" stroke-width="0.5"/>
<circle cx="605.71" cy="82.77" r="2" fill="#2C5686" stroke="none" stroke-width="0.5"/>
<circle cx="618.28" cy="106.12" r="2" fill="#2C5686" stroke="none" stroke-width="0.5"/>
<circle cx="622.21" cy="94.79" r="2" fill="#2C5686" stroke="none" stroke-width="0.5"/>
<circle cx="593.44" cy="104.98" r="2" fill="#2C5686" stroke="none" stroke-width="0.5"/>
<circle cx="609.5" cy="85.01" r="2" fill="#2C5686" stroke="none" stroke-width="0.5"/>
<circle cx="595.71" cy="96.48" r="2" fill="#2C5686" stroke="none" stroke-width="0.5"/>
<circle cx="616.1" cy="113.03" r="2" fill="#2C5686" stroke="none" stroke-width="0.5"/>
<circle cx="616.27" cy="76.54" r="2" fill="#2C5686" stroke="none" stroke-width="0.5"/>
<circle cx="595.19" cy="85.16" r="2" fill="#2C5686" stroke="none" stroke-width="0.5"/>
<circle cx="608.46" cy="67.96" r="2" fill="#2C5686" stroke="none" stroke-width="0.5"/>
<circle cx="609.08" cy="91.22" r="2" fill="#2C5686" stroke="none" stroke-width="0.5"/>
<circle cx="613.44" cy="86.8" r="2" fill="#2C5686" stroke="none" stroke-width="0.5"/>
<circle cx="593.66" cy="116.63" r="2" fill="#2C5686" stroke="none" stroke-width="0.5"/>
<circle cx="592.62" cy="101.46" r="2" fill="#2C5686" stroke="none" stroke-width="0.5"/>
<circle cx="603.08" cy="67.81" r="2" fill="#2C5686" stroke="none" stroke-width="0.5"/>
<circle cx="603.34" cy="84.7" r="2" fill="#2C5686" stroke="none" stroke-width="0.5"/>
<circle cx="589.68" cy="89.21" r="2" fill="#2C5686" stroke="none" stroke-width="0.5"/>
<circle cx="620.57" cy="57.67" r="2" fill="#2C5686" stroke="none" stroke-width="0.5"/>
<circle cx="616.29" cy="105.41" r="2" fill="#2C5686" stroke="none" stroke-width="0.5"/>
<circle cx="595.81" cy="95.42" r="2" fill="#2C5686" stroke="none" stroke-width="0.5"/>
<circle cx="588.57" cy="78.27" r="2" fill="#2C5686" stroke="none" stroke-width="0.5"/>
<circle cx="598.63" cy="75.62" r="2" fill="#2C5686" stroke="none" stroke-width="0.5"/>
<circle cx="596.79" cy="101.28" r="2" fill="#2C5686" stroke="none" stroke-width="0.5"/>
<circle cx="608.78" cy="100.6" r="2" fill="#2C5686" stroke="none" stroke-width="0.5"/>
<circle cx="593.35" cy="61.1" r="2" fill="#2C5686" stroke="none" stroke-width="0.5"/>
<circle cx="596.43" cy="70.84" r="2" fill="#2C5686" stroke="none" stroke-width="0.5"/>
<circle cx="617.74" cy="73.39" r="2" fill="#2C5686" stroke="none" stroke-width="0.5"/>
<circle cx="616.11" cy="65.71" r="2" fill="#2C5686" stroke="none" stroke-width="0.5"/>
<circle cx="600.48" cy="71.25" r="2" fill="#2C5686" stroke="none" stroke-width="0.5"/>
<circle cx="595" cy="80.53" r="2" fill="#2C5686" stroke="none" stroke-width="0.5"/>
<circle cx="605.11" cy="82.12" r="2" fill="#2C5686" stroke="none" stroke-width="0.5"/>
<circle cx="615.17" cy="87.71" r="2" fill="#2C5686" stroke="none" stroke-width="0.5"/>
<circle cx="603.85" cy="77.73" r="2" fill="#2C5686" stroke="none" stroke-width="0.5"/>
<circle cx="614.56" cy="87.62" r="2" fill="#2C5686" stroke="none" stroke-width="0.5"/>
<circle cx="619.93" cy="75.07" r="2" fill="#2C5686" stroke="none" stroke-width="0.5"/>
<circle cx="592.24" cy="83.87" r="2" fill="#2C5686" stroke="none" stroke-width="0.5"/>
<circle cx="602.7" cy="97.59" r="2" fill="#2C5686" stroke="none" stroke-width="0.5"/>
<circle cx="589.83" cy="78.26" r="2" fill="#2C5686" stroke="none" stroke-width="0.5"/>
<circle cx="615.24" cy="33.62" r="2" fill="#2C5686" stroke="none" stroke-width="0.5"/>
<circle cx="614.16" cy="75.19" r="2" fill="#2C5686" stroke="none" stroke-width="0.5"/>
<circle cx="607.42" cy="85.26" r="2" fill="#2C5686" stroke="none" stroke-width="0.5"/>
<circle cx="595.94" cy="74.44" r="2" fill="#2C5686" stroke="none" stroke-width="0.5"/>
<circle cx="600.47" cy="123.68" r="2" fill="#2C5686" stroke="none" stroke-width="0.5"/>
<circle cx="599.47" cy="77.75" r="2" fill="#2C5686" stroke="none" stroke-width="0.5"/>
<circle cx="588.47" cy="64.53" r="2" fill="#2C5686" stroke="none" stroke-width="0.5"/>
<circle cx="601.91" cy="89.47" r="2" fill="#2C5686" stroke="none" stroke-width="0.5"/>
<circle cx="599.7" cy="90.17" r="2" fill="#2C5686" stroke="none" stroke-width="0.5"/>
<circle cx="612.7" cy="91.42" r="2" fill="#2C5686" stroke="none" stroke-width="0.5"/>
<circle cx="619.8" cy="72.44" r="2" fill="#2C5686" stroke="none" stroke-width="0.5"/>
<circle cx="604.12" cy="103.27" r="2" fill="#2C5686" stroke="none" stroke-width="0.5"/>
<circle cx="601.1" cy="111.44" r="2" fill="#2C5686" stroke="none" stroke-width="0.5"/>
<circle cx="615.91" cy="67.23" r="2" fill="#2C5686" stroke="none" stroke-width="0.5"/>
<circle cx="593.79" cy="83.57" r="2" fill="#2C5686" stroke="none" stroke-width="0.5"/>
<circle cx="607.33" cy="72.09" r="2" fill="#2C5686" stroke="none" stroke-width="0.5"/>
<circle cx="594.93" cy="81.15" r="2" fill="#2C5686" stroke="none" stroke-width="0.5"/>
<circle cx="604.31" cy="77.38" r="2" fill="#2C5686" stroke="none" stroke-width="0.5"/>
<circle cx="623.75" cy="93.23" r="2" fill="#2C5686" stroke="none" stroke-width="0.5"/>
<circle cx="612.13" cy="70.23" r="2" fill="#2C5686" stroke="none" stroke-width="0.5"/>
<circle cx="601.17" cy="79.64" r="2" fill="#2C5686" stroke="none" stroke-width="0.5"/>
<circle cx="589.69" cy="95.23" r="2" fill="#2C5686" stroke="none" stroke-width="0.5"/>
<circle cx="597.16" cy="92.42" r="2" fill="#2C5686" stroke="none" stroke-width="0.5"/>
<circle cx="587.69" cy="101.31" r="2" fill="#2C5686" stroke="none" stroke-width="0.5"/>
<circle cx="601.54" cy="81.55" r="2" fill="#2C5686" stroke="none" stroke-width="0.5"/>
<circle cx="621.17" cy="75.23" r="2" fill="#2C5686" stroke="none" stroke-width="0.5"/>
<circle cx="600.36" cy="89.64" r="2" fill="#2C5686" stroke="none" stroke-width="0.5"/>
<circle cx="592.68" cy="99.45" r="2" fill="#2C5686" stroke="none" stroke-width="0.5"/>
<circle cx="615.33" cy="72.6" r="2" fill="#2C5686" stroke="none" stroke-width="0.5"/>
<circle cx="613.77" cy="92.82" r="2" fill="#2C5686" stroke="none" stroke-width="0.5"/>
<circle cx="598.92" cy="84.06" r="2" fill="#2C5686" stroke="none" stroke-width="0.5"/>
<circle cx="601.22" cy="88.66" r="2" fill="#2C5686" stroke="none" stroke-width="0.5"/>
<circle cx="599.03" cy="57.53" r="2" fill="#2C5686" stroke="none" stroke-width="0.5"/>
<circle cx="615.52" cy="69.95" r="2" fill="#2C5686" stroke="none" stroke-width="0.5"/>
<circle cx="601.58" cy="92.29" r="2" fill="#2C5686" stroke="none" stroke-width="0.5"/>
<circle cx="595.82" cy="87.5" r="2" fill="#2C5686" stroke="none" stroke-width="0.5"/>
<circle cx="609.03" cy="77.79" r="2" fill="#2C5686" stroke="none" stroke-width="0.5"/>
<circle cx="588.18" cy="84.46" r="2" fill="#2C5686" stroke="none" stroke-width="0.5"/>
<circle cx="607.13" cy="93.38" r="2" fill="#2C5686" stroke="none" stroke-width="0.5"/>
<circle cx="592.03" cy="70.96" r="2" fill="#2C5686" stroke="none" stroke-width="0.5"/>
<circle cx="613.84" cy="90.25" r="2" fill="#2C5686" stroke="none" stroke-width="0.5"/>
<circle cx="611.65" cy="99.06" r="2" fill="#2C5686" stroke="none" stroke-width="0.5"/>
<circle cx="597.37" cy="80.17" r="2" fill="#2C5686" stroke="none" stroke-width="0.5"/>
<circle cx="613.37" cy="78" r="2" fill="#2C5686" stroke="none" stroke-width="0.5"/>
<circle cx="619.04" cy="100.21" r="2" fill="#2C5686" stroke="none" stroke-width="0.5"/>
<circle cx="595.36" cy="77.78" r="2" fill="#2C5686" stroke="none" stroke-width="0.5"/>
<circle cx="594.98" cy="90.76" r="2" fill="#2C5686" stroke="none" stroke-width="0.5"/>
<circle cx="588.51" cy="72.32" r="2" fill="#2C5686" stroke="none" stroke-width="0.5"/>
<circle cx="607.94" cy="64.04" r="2" fill="#2C5686" stroke="none" stroke-width="0.5"/>
<circle cx="616.92" cy="83.29" r="2" fill="#2C5686" stroke="none" stroke-width="0.5"/>
<circle cx="611.81" cy="73.24" r="2" fill="#2C5686" stroke="none" stroke-width="0.5"/>
<circle cx="621.01" cy="88.93" r="2" fill="#2C5686" stroke="none" stroke-width="0.5"/>
<circle cx="611.66" cy="81.57" r="2" fill="#2C5686" stroke="none" stroke-width="0.5"/>
<circle cx="622.34" cy="62.4" r="2" fill="#2C5686" stroke="none" stroke-width="0.5"/>
<circle cx="610.4" cy="78.74" r="2" fill="#2C5686" stroke="none" stroke-width="0.5"/>
<circle cx="590.33" cy="95.63" r="2" fill="#2C5686" stroke="none" stroke-width="0.5"/>
<circle cx="589.22" cy="101.5" r="2" fill="#2C5686" stroke="none" stroke-width="0.5"/>
<circle cx="601.18" cy="79.67" r="2" fill="#2C5686" stroke="none" stroke-width="0.5"/>
<circle cx="597.35" cy="95.87" r="2" fill="#2C5686" stroke="none" stroke-width="0.5"/>
<circle cx="592.87" cy="69.93" r="2" fill="#2C5686" stroke="none" stroke-width="0.5"/>
<circle cx="593.17" cy="102.02" r="2" fill="#2C5686" stroke="none" stroke-width="0.5"/>
<circle cx="611.61" cy="76.15" r="2" fill="#2C5686" stroke="none" stroke-width="0.5"/>
<circle cx="599.65" cy="86.37" r="2" fill="#2C5686" stroke="none" stroke-width="0.5"/>
<circle cx="602.63" cy="79.62" r="2" fill="#2C5686" stroke="none" stroke-width="0.5"/>
<circle cx="612.95" cy="74.22" r="2" fill="#2C5686" stroke="none" stroke-width="0.5"/>
<circle cx="607.47" cy="69.29" r="2" fill="#2C5686" stroke="none" stroke-width="0.5"/>
<circle cx="601.48" cy="87.92" r="2" fill="#2C5686" stroke="none" stroke-width="0.5"/>
<circle cx="600.48" cy="90.19" r="2" fill="#2C5686" stroke="none" stroke-width="0.5"/>
<circle cx="589.02" cy="71.48" r="2" fill="#2C5686" stroke="none" stroke-width="0.5"/>
<circle cx="605.34" cy="80.42" r="2" fill="#2C5686" stroke="none" stroke-width="0.5"/>
<line x1="562.3" y1="67.51" x2="562.3" y2="40.77" stroke="#555" stroke-width="0.7"/>
<line x1="562.3" y1="89.21" x2="562.3" y2="119.52" stroke="#555" stroke-width="0.7"/>
<line x1="605.5" y1="70.49" x2="605.5" y2="28.88" stroke="#555" stroke-width="0.7"/>
<line x1="605.5" y1="98.72" x2="605.5" y2="140.33" stroke="#555" stroke-width="0.7"/>
<circle cx="562.3" cy="27.39" r="0.8" fill="#111" stroke="none" stroke-width="0.5"/>
<circle cx="562.3" cy="123.98" r="0.8" fill="#111" stroke="none" stroke-width="0.5"/>
<circle cx="605.5" cy="25.91" r="0.8" fill="#111" stroke="none" stroke-width="0.5"/>
<circle cx="605.5" cy="141.81" r="0.8" fill="#111" stroke="none" stroke-width="0.5"/>
<circle cx="605.5" cy="140.33" r="0.8" fill="#111" stroke="none" stroke-width="0.5"/>
<text x="565.3" y="153.3" font-size="5.9" text-anchor="end" fill="#555" stroke="#555" stroke-width="0.13" transform="rotate(-45 565.3 153.3)">Mut</text>
<text x="608.5" y="153.3" font-size="5.9" text-anchor="end" fill="#555" stroke="#555" stroke-width="0.13" transform="rotate(-45 608.5 153.3)">Wild</text>
<line x1="562.3" y1="148.3" x2="562.3" y2="150" stroke="#555" stroke-width="0.5"/>
<line x1="605.5" y1="148.3" x2="605.5" y2="150" stroke="#555" stroke-width="0.5"/>
<text x="0.1" y="200.4" font-size="16.5" font-weight="bold" text-anchor="start" fill="#1f1513">D</text>
<line x1="41.2" y1="205.64" x2="41.2" y2="305.5" stroke="#222" stroke-width="1.35"/>
<line x1="40.6" y1="304.8" x2="178.02" y2="304.8" stroke="#222" stroke-width="1.35"/>
<line x1="38" y1="304.8" x2="41.2" y2="304.8" stroke="#222" stroke-width="0.9"/>
<text x="36.6" y="307.4" font-size="7.4" font-weight="bold" text-anchor="end" fill="#222">0.0</text>
<line x1="38" y1="280.16" x2="41.2" y2="280.16" stroke="#222" stroke-width="0.9"/>
<text x="36.6" y="282.76" font-size="7.4" font-weight="bold" text-anchor="end" fill="#222">0.4</text>
<line x1="38" y1="255.52" x2="41.2" y2="255.52" stroke="#222" stroke-width="0.9"/>
<text x="36.6" y="258.12" font-size="7.4" font-weight="bold" text-anchor="end" fill="#222">0.8</text>
<line x1="38" y1="230.88" x2="41.2" y2="230.88" stroke="#222" stroke-width="0.9"/>
<text x="36.6" y="233.48" font-size="7.4" font-weight="bold" text-anchor="end" fill="#222">1.2</text>
<line x1="38" y1="206.24" x2="41.2" y2="206.24" stroke="#222" stroke-width="0.9"/>
<text x="36.6" y="208.84" font-size="7.4" font-weight="bold" text-anchor="end" fill="#222">1.6</text>
<line x1="41.2" y1="304.8" x2="41.2" y2="308" stroke="#222" stroke-width="0.9"/>
<text x="41.2" y="317.1" font-size="7.4" font-weight="bold" text-anchor="middle" fill="#222">0</text>
<line x1="86.61" y1="304.8" x2="86.61" y2="308" stroke="#222" stroke-width="0.9"/>
<text x="86.61" y="317.1" font-size="7.4" font-weight="bold" text-anchor="middle" fill="#222">24</text>
<line x1="132.02" y1="304.8" x2="132.02" y2="308" stroke="#222" stroke-width="0.9"/>
<text x="132.02" y="317.1" font-size="7.4" font-weight="bold" text-anchor="middle" fill="#222">48</text>
<line x1="177.42" y1="304.8" x2="177.42" y2="308" stroke="#222" stroke-width="0.9"/>
<text x="177.42" y="317.1" font-size="7.4" font-weight="bold" text-anchor="middle" fill="#222">72</text>
<path d="M41.2 291.25 L86.61 278.31 L132.02 255.52 L177.42 217.33" fill="none" stroke="#5DB698" stroke-width="1.4"/>
<line x1="41.2" y1="290.63" x2="41.2" y2="291.86" stroke="#5DB698" stroke-width="0.8"/>
<line x1="39.2" y1="290.63" x2="43.2" y2="290.63" stroke="#5DB698" stroke-width="0.8"/>
<line x1="39.2" y1="291.86" x2="43.2" y2="291.86" stroke="#5DB698" stroke-width="0.8"/>
<line x1="86.61" y1="277.08" x2="86.61" y2="279.54" stroke="#5DB698" stroke-width="0.8"/>
<line x1="84.61" y1="277.08" x2="88.61" y2="277.08" stroke="#5DB698" stroke-width="0.8"/>
<line x1="84.61" y1="279.54" x2="88.61" y2="279.54" stroke="#5DB698" stroke-width="0.8"/>
<line x1="132.02" y1="253.06" x2="132.02" y2="257.98" stroke="#5DB698" stroke-width="0.8"/>
<line x1="130.02" y1="253.06" x2="134.02" y2="253.06" stroke="#5DB698" stroke-width="0.8"/>
<line x1="130.02" y1="257.98" x2="134.02" y2="257.98" stroke="#5DB698" stroke-width="0.8"/>
<line x1="177.42" y1="213.02" x2="177.42" y2="221.64" stroke="#5DB698" stroke-width="0.8"/>
<line x1="175.42" y1="213.02" x2="179.42" y2="213.02" stroke="#5DB698" stroke-width="0.8"/>
<line x1="175.42" y1="221.64" x2="179.42" y2="221.64" stroke="#5DB698" stroke-width="0.8"/>
<circle cx="41.2" cy="291.25" r="2.6" fill="#5DB698" stroke="none" stroke-width="0.5"/>
<circle cx="86.61" cy="278.31" r="2.6" fill="#5DB698" stroke="none" stroke-width="0.5"/>
<circle cx="132.02" cy="255.52" r="2.6" fill="#5DB698" stroke="none" stroke-width="0.5"/>
<circle cx="177.42" cy="217.33" r="2.6" fill="#5DB698" stroke="none" stroke-width="0.5"/>
<path d="M41.2 291.86 L86.61 283.86 L132.02 272.15 L177.42 252.44" fill="none" stroke="#E9C45C" stroke-width="1.4"/>
<line x1="41.2" y1="291.25" x2="41.2" y2="292.48" stroke="#E9C45C" stroke-width="0.8"/>
<line x1="39.2" y1="291.25" x2="43.2" y2="291.25" stroke="#E9C45C" stroke-width="0.8"/>
<line x1="39.2" y1="292.48" x2="43.2" y2="292.48" stroke="#E9C45C" stroke-width="0.8"/>
<line x1="86.61" y1="282.01" x2="86.61" y2="285.7" stroke="#E9C45C" stroke-width="0.8"/>
<line x1="84.61" y1="282.01" x2="88.61" y2="282.01" stroke="#E9C45C" stroke-width="0.8"/>
<line x1="84.61" y1="285.7" x2="88.61" y2="285.7" stroke="#E9C45C" stroke-width="0.8"/>
<line x1="132.02" y1="269.07" x2="132.02" y2="275.23" stroke="#E9C45C" stroke-width="0.8"/>
<line x1="130.02" y1="269.07" x2="134.02" y2="269.07" stroke="#E9C45C" stroke-width="0.8"/>
<line x1="130.02" y1="275.23" x2="134.02" y2="275.23" stroke="#E9C45C" stroke-width="0.8"/>
<line x1="177.42" y1="250.59" x2="177.42" y2="254.29" stroke="#E9C45C" stroke-width="0.8"/>
<line x1="175.42" y1="250.59" x2="179.42" y2="250.59" stroke="#E9C45C" stroke-width="0.8"/>
<line x1="175.42" y1="254.29" x2="179.42" y2="254.29" stroke="#E9C45C" stroke-width="0.8"/>
<circle cx="41.2" cy="291.86" r="2.6" fill="#E9C45C" stroke="none" stroke-width="0.5"/>
<circle cx="86.61" cy="283.86" r="2.6" fill="#E9C45C" stroke="none" stroke-width="0.5"/>
<circle cx="132.02" cy="272.15" r="2.6" fill="#E9C45C" stroke="none" stroke-width="0.5"/>
<circle cx="177.42" cy="252.44" r="2.6" fill="#E9C45C" stroke="none" stroke-width="0.5"/>
<path d="M41.2 292.48 L86.61 288.78 L132.02 281.39 L177.42 277.7" fill="none" stroke="#CC8195" stroke-width="1.4"/>
<line x1="41.2" y1="291.86" x2="41.2" y2="293.1" stroke="#CC8195" stroke-width="0.8"/>
<line x1="39.2" y1="291.86" x2="43.2" y2="291.86" stroke="#CC8195" stroke-width="0.8"/>
<line x1="39.2" y1="293.1" x2="43.2" y2="293.1" stroke="#CC8195" stroke-width="0.8"/>
<line x1="86.61" y1="286.32" x2="86.61" y2="291.25" stroke="#CC8195" stroke-width="0.8"/>
<line x1="84.61" y1="286.32" x2="88.61" y2="286.32" stroke="#CC8195" stroke-width="0.8"/>
<line x1="84.61" y1="291.25" x2="88.61" y2="291.25" stroke="#CC8195" stroke-width="0.8"/>
<line x1="132.02" y1="278.31" x2="132.02" y2="284.47" stroke="#CC8195" stroke-width="0.8"/>
<line x1="130.02" y1="278.31" x2="134.02" y2="278.31" stroke="#CC8195" stroke-width="0.8"/>
<line x1="130.02" y1="284.47" x2="134.02" y2="284.47" stroke="#CC8195" stroke-width="0.8"/>
<line x1="177.42" y1="272.77" x2="177.42" y2="282.62" stroke="#CC8195" stroke-width="0.8"/>
<line x1="175.42" y1="272.77" x2="179.42" y2="272.77" stroke="#CC8195" stroke-width="0.8"/>
<line x1="175.42" y1="282.62" x2="179.42" y2="282.62" stroke="#CC8195" stroke-width="0.8"/>
<circle cx="41.2" cy="292.48" r="2.6" fill="#CC8195" stroke="none" stroke-width="0.5"/>
<circle cx="86.61" cy="288.78" r="2.6" fill="#CC8195" stroke="none" stroke-width="0.5"/>
<circle cx="132.02" cy="281.39" r="2.6" fill="#CC8195" stroke="none" stroke-width="0.5"/>
<circle cx="177.42" cy="277.7" r="2.6" fill="#CC8195" stroke="none" stroke-width="0.5"/>
<path d="M41.2 292.48 L86.61 285.7 L132.02 269.69 L177.42 248.74" fill="none" stroke="#8490D0" stroke-width="1.4"/>
<line x1="41.2" y1="291.25" x2="41.2" y2="293.71" stroke="#8490D0" stroke-width="0.8"/>
<line x1="39.2" y1="291.25" x2="43.2" y2="291.25" stroke="#8490D0" stroke-width="0.8"/>
<line x1="39.2" y1="293.71" x2="43.2" y2="293.71" stroke="#8490D0" stroke-width="0.8"/>
<line x1="86.61" y1="283.86" x2="86.61" y2="287.55" stroke="#8490D0" stroke-width="0.8"/>
<line x1="84.61" y1="283.86" x2="88.61" y2="283.86" stroke="#8490D0" stroke-width="0.8"/>
<line x1="84.61" y1="287.55" x2="88.61" y2="287.55" stroke="#8490D0" stroke-width="0.8"/>
<line x1="132.02" y1="267.84" x2="132.02" y2="271.54" stroke="#8490D0" stroke-width="0.8"/>
<line x1="130.02" y1="267.84" x2="134.02" y2="267.84" stroke="#8490D0" stroke-width="0.8"/>
<line x1="130.02" y1="271.54" x2="134.02" y2="271.54" stroke="#8490D0" stroke-width="0.8"/>
<line x1="177.42" y1="245.05" x2="177.42" y2="252.44" stroke="#8490D0" stroke-width="0.8"/>
<line x1="175.42" y1="245.05" x2="179.42" y2="245.05" stroke="#8490D0" stroke-width="0.8"/>
<line x1="175.42" y1="252.44" x2="179.42" y2="252.44" stroke="#8490D0" stroke-width="0.8"/>
<circle cx="41.2" cy="292.48" r="2.6" fill="#8490D0" stroke="none" stroke-width="0.5"/>
<circle cx="86.61" cy="285.7" r="2.6" fill="#8490D0" stroke="none" stroke-width="0.5"/>
<circle cx="132.02" cy="269.69" r="2.6" fill="#8490D0" stroke="none" stroke-width="0.5"/>
<circle cx="177.42" cy="248.74" r="2.6" fill="#8490D0" stroke="none" stroke-width="0.5"/>
<line x1="47.2" y1="206.6" x2="57.6" y2="206.6" stroke="#8490D0" stroke-width="1.4"/>
<circle cx="52.4" cy="206.6" r="2.5" fill="#8490D0" stroke="none" stroke-width="0.5"/>
<text x="63.7" y="208.9" font-size="6.8" text-anchor="start" fill="#333" stroke="#333" stroke-width="0.15">shNC</text>
<line x1="47.2" y1="219.73" x2="57.6" y2="219.73" stroke="#CC8195" stroke-width="1.4"/>
<circle cx="52.4" cy="219.73" r="2.5" fill="#CC8195" stroke="none" stroke-width="0.5"/>
<text x="63.7" y="222.03" font-size="6.8" text-anchor="start" fill="#333" stroke="#333" stroke-width="0.15">sh-KDM5B</text>
<line x1="47.2" y1="232.86" x2="57.6" y2="232.86" stroke="#E9C45C" stroke-width="1.4"/>
<circle cx="52.4" cy="232.86" r="2.5" fill="#E9C45C" stroke="none" stroke-width="0.5"/>
<text x="63.7" y="235.16" font-size="6.8" text-anchor="start" fill="#333" stroke="#333" stroke-width="0.15">Vector</text>
<line x1="47.2" y1="245.99" x2="57.6" y2="245.99" stroke="#5DB698" stroke-width="1.4"/>
<circle cx="52.4" cy="245.99" r="2.5" fill="#5DB698" stroke="none" stroke-width="0.5"/>
<text x="63.7" y="248.29" font-size="6.8" text-anchor="start" fill="#333" stroke="#333" stroke-width="0.15">OE-KDM5B</text>
<line x1="184.2" y1="214.25" x2="184.2" y2="247.51" stroke="#5DB698" stroke-width="0.6" stroke-dasharray="1.2 1"/>
<text x="182.75" y="233.34" font-size="7" font-weight="bold" text-anchor="middle" fill="#333" transform="rotate(90 182.75 233.34)">***</text>
<line x1="184.2" y1="251.82" x2="184.2" y2="281.39" stroke="#CC8195" stroke-width="0.6" stroke-dasharray="1.2 1"/>
<text x="182.75" y="267.41" font-size="7" font-weight="bold" text-anchor="middle" fill="#333" transform="rotate(90 182.75 267.41)">***</text>
<text x="109" y="193.6" font-size="8" font-weight="bold" text-anchor="middle" fill="#111">A549</text>
<text x="109.3" y="327.4" font-size="6.7" font-weight="bold" text-anchor="middle" fill="#222">Time(h)</text>
<text x="14" y="255" font-size="6.83" font-weight="bold" text-anchor="middle" fill="#222" transform="rotate(-90 14 255)">OD value(450nm)</text>
<text x="197.1" y="200.6" font-size="16.5" font-weight="bold" text-anchor="start" fill="#1f1513">E</text>
<text x="313.3" y="194.2" font-size="8.2" font-weight="bold" text-anchor="middle" fill="#111">LDH Release of A549</text>
<line x1="234.5" y1="204.6" x2="234.5" y2="305.6" stroke="#111" stroke-width="1.45"/>
<line x1="233.8" y1="304.9" x2="392.3" y2="304.9" stroke="#111" stroke-width="1.45"/>
<line x1="231.3" y1="304.9" x2="234.5" y2="304.9" stroke="#111" stroke-width="1.1"/>
<text x="229.5" y="307.5" font-size="7.3" font-weight="bold" text-anchor="end" fill="#222">0</text>
<line x1="231.3" y1="284.98" x2="234.5" y2="284.98" stroke="#111" stroke-width="1.1"/>
<text x="229.5" y="287.58" font-size="7.3" font-weight="bold" text-anchor="end" fill="#222">20</text>
<line x1="231.3" y1="265.06" x2="234.5" y2="265.06" stroke="#111" stroke-width="1.1"/>
<text x="229.5" y="267.66" font-size="7.3" font-weight="bold" text-anchor="end" fill="#222">40</text>
<line x1="231.3" y1="245.14" x2="234.5" y2="245.14" stroke="#111" stroke-width="1.1"/>
<text x="229.5" y="247.74" font-size="7.3" font-weight="bold" text-anchor="end" fill="#222">60</text>
<line x1="231.3" y1="225.22" x2="234.5" y2="225.22" stroke="#111" stroke-width="1.1"/>
<text x="229.5" y="227.82" font-size="7.3" font-weight="bold" text-anchor="end" fill="#222">80</text>
<line x1="231.3" y1="205.3" x2="234.5" y2="205.3" stroke="#111" stroke-width="1.1"/>
<text x="229.5" y="207.9" font-size="7.3" font-weight="bold" text-anchor="end" fill="#222">100</text>
<line x1="261.4" y1="304.9" x2="261.4" y2="308.1" stroke="#111" stroke-width="0.9"/>
<text x="261.4" y="317.3" font-size="7.3" font-weight="bold" text-anchor="middle" fill="#222">0</text>
<rect x="237.45" y="296.93" width="11" height="7.97" fill="#fff" stroke="#CF8598" stroke-width="0.9"/>
<circle cx="239.19" cy="296.97" r="1.9" fill="#CF8598" stroke="#333" stroke-width="0.45"/>
<circle cx="241.68" cy="297.64" r="1.9" fill="#CF8598" stroke="#333" stroke-width="0.45"/>
<circle cx="243.33" cy="296.85" r="1.9" fill="#CF8598" stroke="#333" stroke-width="0.45"/>
<circle cx="244.87" cy="296.98" r="1.9" fill="#CF8598" stroke="#333" stroke-width="0.45"/>
<circle cx="247.62" cy="297.44" r="1.9" fill="#CF8598" stroke="#333" stroke-width="0.45"/>
<rect x="249.75" y="296.93" width="11" height="7.97" fill="#fff" stroke="#8B94D6" stroke-width="0.9"/>
<circle cx="250.67" cy="297.62" r="1.9" fill="#8B94D6" stroke="#333" stroke-width="0.45"/>
<circle cx="253.22" cy="296.92" r="1.9" fill="#8B94D6" stroke="#333" stroke-width="0.45"/>
<circle cx="255.37" cy="296.43" r="1.9" fill="#8B94D6" stroke="#333" stroke-width="0.45"/>
<circle cx="256.45" cy="296.87" r="1.9" fill="#8B94D6" stroke="#333" stroke-width="0.45"/>
<circle cx="259.88" cy="296.62" r="1.9" fill="#8B94D6" stroke="#333" stroke-width="0.45"/>
<rect x="262.05" y="296.93" width="11" height="7.97" fill="#fff" stroke="#ECC556" stroke-width="0.9"/>
<circle cx="264.02" cy="296.55" r="1.9" fill="#ECC556" stroke="#333" stroke-width="0.45"/>
<circle cx="264.99" cy="296.33" r="1.9" fill="#ECC556" stroke="#333" stroke-width="0.45"/>
<circle cx="267.74" cy="296.92" r="1.9" fill="#ECC556" stroke="#333" stroke-width="0.45"/>
<circle cx="270.12" cy="296.92" r="1.9" fill="#ECC556" stroke="#333" stroke-width="0.45"/>
<circle cx="271.05" cy="296.69" r="1.9" fill="#ECC556" stroke="#333" stroke-width="0.45"/>
<rect x="274.35" y="296.93" width="11" height="7.97" fill="#fff" stroke="#79C7AE" stroke-width="0.9"/>
<circle cx="276.49" cy="295.83" r="1.9" fill="#79C7AE" stroke="#333" stroke-width="0.45"/>
<circle cx="277.53" cy="296.45" r="1.9" fill="#79C7AE" stroke="#333" stroke-width="0.45"/>
<circle cx="280.13" cy="297.05" r="1.9" fill="#79C7AE" stroke="#333" stroke-width="0.45"/>
<circle cx="281.36" cy="296.36" r="1.9" fill="#79C7AE" stroke="#333" stroke-width="0.45"/>
<circle cx="284.56" cy="297.15" r="1.9" fill="#79C7AE" stroke="#333" stroke-width="0.45"/>
<line x1="312.9" y1="304.9" x2="312.9" y2="308.1" stroke="#111" stroke-width="0.9"/>
<text x="312.9" y="317.3" font-size="7.3" font-weight="bold" text-anchor="middle" fill="#222">24</text>
<rect x="288.95" y="269.04" width="11" height="35.86" fill="#fff" stroke="#CF8598" stroke-width="0.9"/>
<circle cx="291.12" cy="269.47" r="1.9" fill="#CF8598" stroke="#333" stroke-width="0.45"/>
<circle cx="291.94" cy="267.7" r="1.9" fill="#CF8598" stroke="#333" stroke-width="0.45"/>
<circle cx="293.88" cy="267.88" r="1.9" fill="#CF8598" stroke="#333" stroke-width="0.45"/>
<circle cx="296.59" cy="268.54" r="1.9" fill="#CF8598" stroke="#333" stroke-width="0.45"/>
<circle cx="297.62" cy="269.64" r="1.9" fill="#CF8598" stroke="#333" stroke-width="0.45"/>
<rect x="301.25" y="254.1" width="11" height="50.8" fill="#fff" stroke="#8B94D6" stroke-width="0.9"/>
<circle cx="302.49" cy="255.32" r="1.9" fill="#8B94D6" stroke="#333" stroke-width="0.45"/>
<circle cx="305.28" cy="255.4" r="1.9" fill="#8B94D6" stroke="#333" stroke-width="0.45"/>
<circle cx="306.72" cy="253.95" r="1.9" fill="#8B94D6" stroke="#333" stroke-width="0.45"/>
<circle cx="309.06" cy="250.3" r="1.9" fill="#8B94D6" stroke="#333" stroke-width="0.45"/>
<circle cx="309.95" cy="252.68" r="1.9" fill="#8B94D6" stroke="#333" stroke-width="0.45"/>
<rect x="313.55" y="268.05" width="11" height="36.85" fill="#fff" stroke="#ECC556" stroke-width="0.9"/>
<circle cx="315.49" cy="267.89" r="1.9" fill="#ECC556" stroke="#333" stroke-width="0.45"/>
<circle cx="317.53" cy="268.28" r="1.9" fill="#ECC556" stroke="#333" stroke-width="0.45"/>
<circle cx="318.84" cy="268.23" r="1.9" fill="#ECC556" stroke="#333" stroke-width="0.45"/>
<circle cx="320.3" cy="268.14" r="1.9" fill="#ECC556" stroke="#333" stroke-width="0.45"/>
<circle cx="322.5" cy="267.1" r="1.9" fill="#ECC556" stroke="#333" stroke-width="0.45"/>
<rect x="325.85" y="281.99" width="11" height="22.91" fill="#fff" stroke="#79C7AE" stroke-width="0.9"/>
<circle cx="327.8" cy="282.27" r="1.9" fill="#79C7AE" stroke="#333" stroke-width="0.45"/>
<circle cx="330.06" cy="280.71" r="1.9" fill="#79C7AE" stroke="#333" stroke-width="0.45"/>
<circle cx="331.12" cy="282.48" r="1.9" fill="#79C7AE" stroke="#333" stroke-width="0.45"/>
<circle cx="333.37" cy="281.88" r="1.9" fill="#79C7AE" stroke="#333" stroke-width="0.45"/>
<circle cx="335.71" cy="282.7" r="1.9" fill="#79C7AE" stroke="#333" stroke-width="0.45"/>
<line x1="364.4" y1="304.9" x2="364.4" y2="308.1" stroke="#111" stroke-width="0.9"/>
<text x="364.4" y="317.3" font-size="7.3" font-weight="bold" text-anchor="middle" fill="#222">48</text>
<rect x="340.45" y="249.12" width="11" height="55.78" fill="#fff" stroke="#CF8598" stroke-width="0.9"/>
<circle cx="342.47" cy="248.86" r="1.9" fill="#CF8598" stroke="#333" stroke-width="0.45"/>
<circle cx="344.68" cy="249.44" r="1.9" fill="#CF8598" stroke="#333" stroke-width="0.45"/>
<circle cx="345.3" cy="250.23" r="1.9" fill="#CF8598" stroke="#333" stroke-width="0.45"/>
<circle cx="348.6" cy="247.4" r="1.9" fill="#CF8598" stroke="#333" stroke-width="0.45"/>
<circle cx="349.65" cy="247.46" r="1.9" fill="#CF8598" stroke="#333" stroke-width="0.45"/>
<rect x="352.75" y="234.18" width="11" height="70.72" fill="#fff" stroke="#8B94D6" stroke-width="0.9"/>
<circle cx="353.99" cy="235.04" r="1.9" fill="#8B94D6" stroke="#333" stroke-width="0.45"/>
<circle cx="355.98" cy="233.92" r="1.9" fill="#8B94D6" stroke="#333" stroke-width="0.45"/>
<circle cx="357.69" cy="233.64" r="1.9" fill="#8B94D6" stroke="#333" stroke-width="0.45"/>
<circle cx="360.53" cy="233.3" r="1.9" fill="#8B94D6" stroke="#333" stroke-width="0.45"/>
<circle cx="361.49" cy="234.2" r="1.9" fill="#8B94D6" stroke="#333" stroke-width="0.45"/>
<rect x="365.05" y="250.12" width="11" height="54.78" fill="#fff" stroke="#ECC556" stroke-width="0.9"/>
<circle cx="367.37" cy="251.61" r="1.9" fill="#ECC556" stroke="#333" stroke-width="0.45"/>
<circle cx="368.15" cy="250.44" r="1.9" fill="#ECC556" stroke="#333" stroke-width="0.45"/>
<circle cx="370.7" cy="249.36" r="1.9" fill="#ECC556" stroke="#333" stroke-width="0.45"/>
<circle cx="372.4" cy="251.58" r="1.9" fill="#ECC556" stroke="#333" stroke-width="0.45"/>
<circle cx="373.8" cy="249.79" r="1.9" fill="#ECC556" stroke="#333" stroke-width="0.45"/>
<rect x="377.35" y="268.05" width="11" height="36.85" fill="#fff" stroke="#79C7AE" stroke-width="0.9"/>
<circle cx="378.88" cy="268.24" r="1.9" fill="#79C7AE" stroke="#333" stroke-width="0.45"/>
<circle cx="381.41" cy="266.4" r="1.9" fill="#79C7AE" stroke="#333" stroke-width="0.45"/>
<circle cx="383.57" cy="266.28" r="1.9" fill="#79C7AE" stroke="#333" stroke-width="0.45"/>
<circle cx="385.04" cy="267.88" r="1.9" fill="#79C7AE" stroke="#333" stroke-width="0.45"/>
<circle cx="386.71" cy="268.74" r="1.9" fill="#79C7AE" stroke="#333" stroke-width="0.45"/>
<line x1="239.95" y1="292.45" x2="258.25" y2="292.45" stroke="#aaa" stroke-width="0.5" stroke-dasharray="1 0.6"/>
<text x="249.1" y="289.55" font-size="6.1" text-anchor="middle" fill="#555" stroke="#555" stroke-width="0.13">ns</text>
<line x1="264.55" y1="292.45" x2="282.85" y2="292.45" stroke="#aaa" stroke-width="0.5" stroke-dasharray="1 0.6"/>
<text x="273.7" y="289.55" font-size="6.1" text-anchor="middle" fill="#555" stroke="#555" stroke-width="0.13">ns</text>
<line x1="291.45" y1="247.63" x2="309.75" y2="247.63" stroke="#aaa" stroke-width="0.5" stroke-dasharray="1 0.6"/>
<text x="300.6" y="248.03" font-size="7.5" font-weight="bold" text-anchor="middle" fill="#222">****</text>
<line x1="316.05" y1="261.08" x2="334.35" y2="261.08" stroke="#aaa" stroke-width="0.5" stroke-dasharray="1 0.6"/>
<text x="325.2" y="261.48" font-size="7.5" font-weight="bold" text-anchor="middle" fill="#222">****</text>
<line x1="342.95" y1="227.71" x2="361.25" y2="227.71" stroke="#aaa" stroke-width="0.5" stroke-dasharray="1 0.6"/>
<text x="352.1" y="228.11" font-size="7.5" font-weight="bold" text-anchor="middle" fill="#222">****</text>
<line x1="367.55" y1="244.14" x2="385.85" y2="244.14" stroke="#aaa" stroke-width="0.5" stroke-dasharray="1 0.6"/>
<text x="376.7" y="244.54" font-size="7.5" font-weight="bold" text-anchor="middle" fill="#222">****</text>
<circle cx="243.3" cy="207.3" r="2.1" fill="#CF8598" stroke="#444" stroke-width="0.45"/>
<text x="254.5" y="209.7" font-size="6.8" text-anchor="start" fill="#333" stroke="#333" stroke-width="0.15">shNC</text>
<circle cx="243.3" cy="216.07" r="2.1" fill="#8B94D6" stroke="#444" stroke-width="0.45"/>
<text x="254.5" y="218.47" font-size="6.8" text-anchor="start" fill="#333" stroke="#333" stroke-width="0.15">sh-KDM5B</text>
<circle cx="243.3" cy="224.84" r="2.1" fill="#ECC556" stroke="#444" stroke-width="0.45"/>
<text x="254.5" y="227.24" font-size="6.8" text-anchor="start" fill="#333" stroke="#333" stroke-width="0.15">Vector</text>
<circle cx="243.3" cy="233.61" r="2.1" fill="#79C7AE" stroke="#444" stroke-width="0.45"/>
<text x="254.5" y="236.01" font-size="6.8" text-anchor="start" fill="#333" stroke="#333" stroke-width="0.15">OE-KDM5B</text>
<text x="211.5" y="255" font-size="6.85" font-weight="bold" text-anchor="middle" fill="#222" transform="rotate(-90 211.5 255)">Percentage of Total(%)</text>
<text x="313" y="329.6" font-size="6.7" font-weight="bold" text-anchor="middle" fill="#222">Time(h)</text>
<text x="398.8" y="194.9" font-size="16.5" font-weight="bold" text-anchor="start" fill="#1f1513">F</text>
<rect x="418.4" y="179.1" width="136" height="136.3" fill="#fff" stroke="#333" stroke-width="0.8"/>
<line x1="418.4" y1="234" x2="554.4" y2="234" stroke="#3F74BC" stroke-width="0.7"/>
<line x1="418.4" y1="261" x2="554.4" y2="261" stroke="#62AE43" stroke-width="0.7"/>
<line x1="418.4" y1="288.2" x2="554.4" y2="288.2" stroke="#C4823E" stroke-width="0.7"/>
<line x1="418.4" y1="314.7" x2="554.4" y2="314.7" stroke="#C23745" stroke-width="0.7"/>
<path d="M443.34 234 L443.34 233.97 L444 233.96 L444.66 233.95 L445.32 233.94 L445.99 233.93 L446.65 233.91 L447.31 233.89 L447.97 233.87 L448.63 233.84 L449.29 233.81 L449.95 233.77 L450.61 233.73 L451.28 233.68 L451.94 233.62 L452.6 233.55 L453.26 233.47 L453.92 233.38 L454.58 233.28 L455.24 233.17 L455.91 233.04 L456.57 232.89 L457.23 232.73 L457.89 232.55 L458.55 232.35 L459.21 232.13 L459.87 231.89 L460.53 231.63 L461.2 231.35 L461.86 231.05 L462.52 230.72 L463.18 230.38 L463.84 230.01 L464.5 229.63 L465.16 229.22 L465.83 228.8 L466.49 228.37 L467.15 227.92 L467.81 227.47 L468.47 227.01 L469.13 226.55 L469.79 226.09 L470.45 225.63 L471.12 225.19 L471.78 224.75 L472.44 224.34 L473.1 223.95 L473.76 223.58 L474.42 223.24 L475.08 222.93 L475.75 222.64 L476.41 222.35 L477.07 222.01 L477.73 221.51 L478.39 220.62 L479.05 219.03 L479.71 216.3 L480.37 212.11 L481.04 206.43 L481.7 199.88 L482.36 193.65 L483.02 189.26 L483.68 187.89 L484.34 189.89 L485 194.57 L485.67 200.6 L486.33 206.6 L486.99 211.6 L487.65 215.25 L488.31 217.66 L488.97 219.11 L489.63 219.89 L490.29 220.22 L490.96 220.27 L491.62 220.12 L492.28 219.87 L492.94 219.59 L493.6 219.35 L494.26 219.2 L494.92 219.16 L495.59 219.25 L496.25 219.47 L496.91 219.79 L497.57 220.19 L498.23 220.63 L498.89 221.09 L499.55 221.56 L500.21 222.02 L500.88 222.47 L501.54 222.92 L502.2 223.38 L502.86 223.85 L503.52 224.35 L504.18 224.88 L504.84 225.45 L505.51 226.04 L506.17 226.66 L506.83 227.29 L507.49 227.93 L508.15 228.57 L508.81 229.19 L509.47 229.78 L510.13 230.34 L510.8 230.87 L511.46 231.34 L512.12 231.77 L512.78 232.15 L513.44 232.48 L514.1 232.77 L514.76 233.01 L515.43 233.22 L516.09 233.38 L516.75 233.52 L517.41 233.63 L518.07 233.72 L518.73 233.79 L519.39 233.84 L520.05 233.89 L520.72 233.92 L521.38 233.94 L522.04 233.96 L522.7 233.97 L522.7 234 Z" fill="#6F9FD6" stroke="none" stroke-width="1" fill-opacity="0.8"/>
<path d="M443.34 233.97 L444 233.96 L444.66 233.95 L445.32 233.94 L445.99 233.93 L446.65 233.91 L447.31 233.89 L447.97 233.87 L448.63 233.84 L449.29 233.81 L449.95 233.77 L450.61 233.73 L451.28 233.68 L451.94 233.62 L452.6 233.55 L453.26 233.47 L453.92 233.38 L454.58 233.28 L455.24 233.17 L455.91 233.04 L456.57 232.89 L457.23 232.73 L457.89 232.55 L458.55 232.35 L459.21 232.13 L459.87 231.89 L460.53 231.63 L461.2 231.35 L461.86 231.05 L462.52 230.72 L463.18 230.38 L463.84 230.01 L464.5 229.63 L465.16 229.22 L465.83 228.8 L466.49 228.37 L467.15 227.92 L467.81 227.47 L468.47 227.01 L469.13 226.55 L469.79 226.09 L470.45 225.63 L471.12 225.19 L471.78 224.75 L472.44 224.34 L473.1 223.95 L473.76 223.58 L474.42 223.24 L475.08 222.93 L475.75 222.64 L476.41 222.35 L477.07 222.01 L477.73 221.51 L478.39 220.62 L479.05 219.03 L479.71 216.3 L480.37 212.11 L481.04 206.43 L481.7 199.88 L482.36 193.65 L483.02 189.26 L483.68 187.89 L484.34 189.89 L485 194.57 L485.67 200.6 L486.33 206.6 L486.99 211.6 L487.65 215.25 L488.31 217.66 L488.97 219.11 L489.63 219.89 L490.29 220.22 L490.96 220.27 L491.62 220.12 L492.28 219.87 L492.94 219.59 L493.6 219.35 L494.26 219.2 L494.92 219.16 L495.59 219.25 L496.25 219.47 L496.91 219.79 L497.57 220.19 L498.23 220.63 L498.89 221.09 L499.55 221.56 L500.21 222.02 L500.88 222.47 L501.54 222.92 L502.2 223.38 L502.86 223.85 L503.52 224.35 L504.18 224.88 L504.84 225.45 L505.51 226.04 L506.17 226.66 L506.83 227.29 L507.49 227.93 L508.15 228.57 L508.81 229.19 L509.47 229.78 L510.13 230.34 L510.8 230.87 L511.46 231.34 L512.12 231.77 L512.78 232.15 L513.44 232.48 L514.1 232.77 L514.76 233.01 L515.43 233.22 L516.09 233.38 L516.75 233.52 L517.41 233.63 L518.07 233.72 L518.73 233.79 L519.39 233.84 L520.05 233.89 L520.72 233.92 L521.38 233.94 L522.04 233.96 L522.7 233.97" fill="none" stroke="#3F74BC" stroke-width="0.7"/>
<path d="M443.34 261 L443.34 260.29 L444 260.19 L444.66 260.06 L445.32 259.93 L445.99 259.78 L446.65 259.61 L447.31 259.42 L447.97 259.22 L448.63 258.99 L449.29 258.75 L449.95 258.48 L450.61 258.19 L451.28 257.88 L451.94 257.55 L452.6 257.2 L453.26 256.82 L453.92 256.43 L454.58 256.01 L455.24 255.58 L455.91 255.13 L456.57 254.66 L457.23 254.19 L457.89 253.7 L458.55 253.2 L459.21 252.7 L459.87 252.19 L460.53 251.69 L461.2 251.2 L461.86 250.71 L462.52 250.24 L463.18 249.79 L463.84 249.36 L464.5 248.95 L465.16 248.58 L465.83 248.23 L466.49 247.93 L467.15 247.66 L467.81 247.44 L468.47 247.26 L469.13 247.12 L469.79 247.04 L470.45 247 L471.12 247.01 L471.78 247.07 L472.44 247.17 L473.1 247.27 L473.76 247.27 L474.42 246.91 L475.08 245.62 L475.75 242.58 L476.41 237.12 L477.07 229.47 L477.73 221.41 L478.39 215.94 L479.05 215.57 L479.71 220.64 L480.37 229.01 L481.04 237.59 L481.7 244.17 L482.36 248.14 L483.02 250.03 L483.68 250.65 L484.34 250.63 L485 250.32 L485.67 249.84 L486.33 249.28 L486.99 248.67 L487.65 248.05 L488.31 247.47 L488.97 246.96 L489.63 246.57 L490.29 246.32 L490.96 246.22 L491.62 246.28 L492.28 246.5 L492.94 246.85 L493.6 247.31 L494.26 247.85 L494.92 248.44 L495.59 249.06 L496.25 249.68 L496.91 250.31 L497.57 250.93 L498.23 251.55 L498.89 252.18 L499.55 252.82 L500.21 253.48 L500.88 254.15 L501.54 254.84 L502.2 255.54 L502.86 256.23 L503.52 256.9 L504.18 257.54 L504.84 258.13 L505.51 258.67 L506.17 259.14 L506.83 259.55 L507.49 259.89 L508.15 260.16 L508.81 260.38 L509.47 260.55 L510.13 260.68 L510.8 260.78 L511.46 260.85 L512.12 260.9 L512.78 260.93 L513.44 260.96 L514.1 260.97 L514.76 260.98 L515.43 260.99 L516.09 260.99 L516.75 260.99 L517.41 261 L518.07 261 L518.73 261 L519.39 261 L520.05 261 L520.72 261 L521.38 261 L522.04 261 L522.7 261 L522.7 261 Z" fill="#8FCB6B" stroke="none" stroke-width="1" fill-opacity="0.8"/>
<path d="M443.34 260.29 L444 260.19 L444.66 260.06 L445.32 259.93 L445.99 259.78 L446.65 259.61 L447.31 259.42 L447.97 259.22 L448.63 258.99 L449.29 258.75 L449.95 258.48 L450.61 258.19 L451.28 257.88 L451.94 257.55 L452.6 257.2 L453.26 256.82 L453.92 256.43 L454.58 256.01 L455.24 255.58 L455.91 255.13 L456.57 254.66 L457.23 254.19 L457.89 253.7 L458.55 253.2 L459.21 252.7 L459.87 252.19 L460.53 251.69 L461.2 251.2 L461.86 250.71 L462.52 250.24 L463.18 249.79 L463.84 249.36 L464.5 248.95 L465.16 248.58 L465.83 248.23 L466.49 247.93 L467.15 247.66 L467.81 247.44 L468.47 247.26 L469.13 247.12 L469.79 247.04 L470.45 247 L471.12 247.01 L471.78 247.07 L472.44 247.17 L473.1 247.27 L473.76 247.27 L474.42 246.91 L475.08 245.62 L475.75 242.58 L476.41 237.12 L477.07 229.47 L477.73 221.41 L478.39 215.94 L479.05 215.57 L479.71 220.64 L480.37 229.01 L481.04 237.59 L481.7 244.17 L482.36 248.14 L483.02 250.03 L483.68 250.65 L484.34 250.63 L485 250.32 L485.67 249.84 L486.33 249.28 L486.99 248.67 L487.65 248.05 L488.31 247.47 L488.97 246.96 L489.63 246.57 L490.29 246.32 L490.96 246.22 L491.62 246.28 L492.28 246.5 L492.94 246.85 L493.6 247.31 L494.26 247.85 L494.92 248.44 L495.59 249.06 L496.25 249.68 L496.91 250.31 L497.57 250.93 L498.23 251.55 L498.89 252.18 L499.55 252.82 L500.21 253.48 L500.88 254.15 L501.54 254.84 L502.2 255.54 L502.86 256.23 L503.52 256.9 L504.18 257.54 L504.84 258.13 L505.51 258.67 L506.17 259.14 L506.83 259.55 L507.49 259.89 L508.15 260.16 L508.81 260.38 L509.47 260.55 L510.13 260.68 L510.8 260.78 L511.46 260.85 L512.12 260.9 L512.78 260.93 L513.44 260.96 L514.1 260.97 L514.76 260.98 L515.43 260.99 L516.09 260.99 L516.75 260.99 L517.41 261 L518.07 261 L518.73 261 L519.39 261 L520.05 261 L520.72 261 L521.38 261 L522.04 261 L522.7 261" fill="none" stroke="#62AE43" stroke-width="0.7"/>
<path d="M443.34 288.2 L443.34 288.17 L444 288.17 L444.66 288.16 L445.32 288.15 L445.99 288.14 L446.65 288.12 L447.31 288.1 L447.97 288.08 L448.63 288.05 L449.29 288.02 L449.95 287.98 L450.61 287.94 L451.28 287.89 L451.94 287.83 L452.6 287.75 L453.26 287.67 L453.92 287.58 L454.58 287.47 L455.24 287.35 L455.91 287.21 L456.57 287.05 L457.23 286.88 L457.89 286.68 L458.55 286.46 L459.21 286.23 L459.87 285.96 L460.53 285.68 L461.2 285.37 L461.86 285.04 L462.52 284.68 L463.18 284.3 L463.84 283.9 L464.5 283.48 L465.16 283.05 L465.83 282.59 L466.49 282.12 L467.15 281.65 L467.81 281.16 L468.47 280.68 L469.13 280.2 L469.79 279.72 L470.45 279.25 L471.12 278.8 L471.78 278.37 L472.44 277.97 L473.1 277.59 L473.76 277.25 L474.42 276.95 L475.08 276.67 L475.75 276.42 L476.41 276.18 L477.07 275.87 L477.73 275.37 L478.39 274.47 L479.05 272.87 L479.71 270.26 L480.37 266.44 L481.04 261.53 L481.7 256.13 L482.36 251.25 L483.02 248.05 L483.68 247.4 L484.34 249.5 L485 253.76 L485.67 259.11 L486.33 264.38 L486.99 268.76 L487.65 271.87 L488.31 273.79 L488.97 274.79 L489.63 275.2 L490.29 275.28 L490.96 275.21 L491.62 275.09 L492.28 274.98 L492.94 274.9 L493.6 274.86 L494.26 274.88 L494.92 274.96 L495.59 275.1 L496.25 275.31 L496.91 275.57 L497.57 275.88 L498.23 276.23 L498.89 276.61 L499.55 277.02 L500.21 277.45 L500.88 277.89 L501.54 278.34 L502.2 278.8 L502.86 279.28 L503.52 279.76 L504.18 280.25 L504.84 280.76 L505.51 281.28 L506.17 281.81 L506.83 282.36 L507.49 282.91 L508.15 283.46 L508.81 284 L509.47 284.53 L510.13 285.03 L510.8 285.5 L511.46 285.94 L512.12 286.33 L512.78 286.68 L513.44 286.98 L514.1 287.24 L514.76 287.45 L515.43 287.63 L516.09 287.77 L516.75 287.88 L517.41 287.97 L518.07 288.04 L518.73 288.08 L519.39 288.12 L520.05 288.15 L520.72 288.16 L521.38 288.18 L522.04 288.18 L522.7 288.19 L522.7 288.2 Z" fill="#D9A068" stroke="none" stroke-width="1" fill-opacity="0.8"/>
<path d="M443.34 288.17 L444 288.17 L444.66 288.16 L445.32 288.15 L445.99 288.14 L446.65 288.12 L447.31 288.1 L447.97 288.08 L448.63 288.05 L449.29 288.02 L449.95 287.98 L450.61 287.94 L451.28 287.89 L451.94 287.83 L452.6 287.75 L453.26 287.67 L453.92 287.58 L454.58 287.47 L455.24 287.35 L455.91 287.21 L456.57 287.05 L457.23 286.88 L457.89 286.68 L458.55 286.46 L459.21 286.23 L459.87 285.96 L460.53 285.68 L461.2 285.37 L461.86 285.04 L462.52 284.68 L463.18 284.3 L463.84 283.9 L464.5 283.48 L465.16 283.05 L465.83 282.59 L466.49 282.12 L467.15 281.65 L467.81 281.16 L468.47 280.68 L469.13 280.2 L469.79 279.72 L470.45 279.25 L471.12 278.8 L471.78 278.37 L472.44 277.97 L473.1 277.59 L473.76 277.25 L474.42 276.95 L475.08 276.67 L475.75 276.42 L476.41 276.18 L477.07 275.87 L477.73 275.37 L478.39 274.47 L479.05 272.87 L479.71 270.26 L480.37 266.44 L481.04 261.53 L481.7 256.13 L482.36 251.25 L483.02 248.05 L483.68 247.4 L484.34 249.5 L485 253.76 L485.67 259.11 L486.33 264.38 L486.99 268.76 L487.65 271.87 L488.31 273.79 L488.97 274.79 L489.63 275.2 L490.29 275.28 L490.96 275.21 L491.62 275.09 L492.28 274.98 L492.94 274.9 L493.6 274.86 L494.26 274.88 L494.92 274.96 L495.59 275.1 L496.25 275.31 L496.91 275.57 L497.57 275.88 L498.23 276.23 L498.89 276.61 L499.55 277.02 L500.21 277.45 L500.88 277.89 L501.54 278.34 L502.2 278.8 L502.86 279.28 L503.52 279.76 L504.18 280.25 L504.84 280.76 L505.51 281.28 L506.17 281.81 L506.83 282.36 L507.49 282.91 L508.15 283.46 L508.81 284 L509.47 284.53 L510.13 285.03 L510.8 285.5 L511.46 285.94 L512.12 286.33 L512.78 286.68 L513.44 286.98 L514.1 287.24 L514.76 287.45 L515.43 287.63 L516.09 287.77 L516.75 287.88 L517.41 287.97 L518.07 288.04 L518.73 288.08 L519.39 288.12 L520.05 288.15 L520.72 288.16 L521.38 288.18 L522.04 288.18 L522.7 288.19" fill="none" stroke="#C4823E" stroke-width="0.7"/>
<path d="M443.34 314.7 L443.34 314.7 L444 314.7 L444.66 314.7 L445.32 314.7 L445.99 314.7 L446.65 314.7 L447.31 314.7 L447.97 314.7 L448.63 314.7 L449.29 314.7 L449.95 314.69 L450.61 314.69 L451.28 314.69 L451.94 314.68 L452.6 314.68 L453.26 314.67 L453.92 314.66 L454.58 314.64 L455.24 314.63 L455.91 314.61 L456.57 314.58 L457.23 314.54 L457.89 314.5 L458.55 314.44 L459.21 314.38 L459.87 314.3 L460.53 314.2 L461.2 314.09 L461.86 313.95 L462.52 313.8 L463.18 313.62 L463.84 313.41 L464.5 313.18 L465.16 312.92 L465.83 312.63 L466.49 312.31 L467.15 311.97 L467.81 311.6 L468.47 311.21 L469.13 310.81 L469.79 310.38 L470.45 309.96 L471.12 309.52 L471.78 309.1 L472.44 308.69 L473.1 308.29 L473.76 307.93 L474.42 307.6 L475.08 307.31 L475.75 307.08 L476.41 306.89 L477.07 306.77 L477.73 306.7 L478.39 306.69 L479.05 306.72 L479.71 306.8 L480.37 306.87 L481.04 306.91 L481.7 306.84 L482.36 306.57 L483.02 305.96 L483.68 304.86 L484.34 303.15 L485 300.69 L485.67 297.48 L486.33 293.6 L486.99 289.31 L487.65 284.99 L488.31 281.12 L488.97 278.22 L489.63 276.7 L490.29 276.78 L490.96 278.45 L491.62 281.48 L492.28 285.44 L492.94 289.82 L493.6 294.12 L494.26 297.95 L494.92 301.07 L495.59 303.38 L496.25 304.91 L496.91 305.78 L497.57 306.14 L498.23 306.16 L498.89 305.97 L499.55 305.68 L500.21 305.36 L500.88 305.08 L501.54 304.86 L502.2 304.71 L502.86 304.65 L503.52 304.66 L504.18 304.74 L504.84 304.89 L505.51 305.09 L506.17 305.33 L506.83 305.61 L507.49 305.91 L508.15 306.24 L508.81 306.58 L509.47 306.94 L510.13 307.31 L510.8 307.69 L511.46 308.08 L512.12 308.47 L512.78 308.88 L513.44 309.28 L514.1 309.69 L514.76 310.1 L515.43 310.5 L516.09 310.89 L516.75 311.27 L517.41 311.64 L518.07 311.98 L518.73 312.31 L519.39 312.61 L520.05 312.89 L520.72 313.14 L521.38 313.37 L522.04 313.57 L522.7 313.75 L522.7 314.7 Z" fill="#D5565F" stroke="none" stroke-width="1" fill-opacity="0.8"/>
<path d="M443.34 314.7 L444 314.7 L444.66 314.7 L445.32 314.7 L445.99 314.7 L446.65 314.7 L447.31 314.7 L447.97 314.7 L448.63 314.7 L449.29 314.7 L449.95 314.69 L450.61 314.69 L451.28 314.69 L451.94 314.68 L452.6 314.68 L453.26 314.67 L453.92 314.66 L454.58 314.64 L455.24 314.63 L455.91 314.61 L456.57 314.58 L457.23 314.54 L457.89 314.5 L458.55 314.44 L459.21 314.38 L459.87 314.3 L460.53 314.2 L461.2 314.09 L461.86 313.95 L462.52 313.8 L463.18 313.62 L463.84 313.41 L464.5 313.18 L465.16 312.92 L465.83 312.63 L466.49 312.31 L467.15 311.97 L467.81 311.6 L468.47 311.21 L469.13 310.81 L469.79 310.38 L470.45 309.96 L471.12 309.52 L471.78 309.1 L472.44 308.69 L473.1 308.29 L473.76 307.93 L474.42 307.6 L475.08 307.31 L475.75 307.08 L476.41 306.89 L477.07 306.77 L477.73 306.7 L478.39 306.69 L479.05 306.72 L479.71 306.8 L480.37 306.87 L481.04 306.91 L481.7 306.84 L482.36 306.57 L483.02 305.96 L483.68 304.86 L484.34 303.15 L485 300.69 L485.67 297.48 L486.33 293.6 L486.99 289.31 L487.65 284.99 L488.31 281.12 L488.97 278.22 L489.63 276.7 L490.29 276.78 L490.96 278.45 L491.62 281.48 L492.28 285.44 L492.94 289.82 L493.6 294.12 L494.26 297.95 L494.92 301.07 L495.59 303.38 L496.25 304.91 L496.91 305.78 L497.57 306.14 L498.23 306.16 L498.89 305.97 L499.55 305.68 L500.21 305.36 L500.88 305.08 L501.54 304.86 L502.2 304.71 L502.86 304.65 L503.52 304.66 L504.18 304.74 L504.84 304.89 L505.51 305.09 L506.17 305.33 L506.83 305.61 L507.49 305.91 L508.15 306.24 L508.81 306.58 L509.47 306.94 L510.13 307.31 L510.8 307.69 L511.46 308.08 L512.12 308.47 L512.78 308.88 L513.44 309.28 L514.1 309.69 L514.76 310.1 L515.43 310.5 L516.09 310.89 L516.75 311.27 L517.41 311.64 L518.07 311.98 L518.73 312.31 L519.39 312.61 L520.05 312.89 L520.72 313.14 L521.38 313.37 L522.04 313.57 L522.7 313.75" fill="none" stroke="#C23745" stroke-width="0.7"/>
<text x="422.4" y="192.3" font-size="10.1" text-anchor="start" fill="#222" stroke="#222" stroke-width="0.22">A549</text>
<text x="422.4" y="231.6" font-size="10.1" text-anchor="start" fill="#222" stroke="#222" stroke-width="0.22">shNC</text>
<text x="422.4" y="258.2" font-size="10.1" text-anchor="start" fill="#222" stroke="#222" stroke-width="0.22">sh-KDM5B</text>
<text x="422.4" y="285.3" font-size="10.1" text-anchor="start" fill="#222" stroke="#222" stroke-width="0.22">Vector</text>
<text x="422.4" y="312.3" font-size="10.1" text-anchor="start" fill="#222" stroke="#222" stroke-width="0.22">OE-KDM5B</text>
<line x1="423.5" y1="315.4" x2="423.5" y2="317.9" stroke="#333" stroke-width="0.6"/>
<text x="425.5" y="325.6" font-size="4.3" text-anchor="end" fill="#444" stroke="#444" stroke-width="0.09">10</text>
<text x="426.1" y="322.3" font-size="3.4" text-anchor="start" fill="#444" stroke="#444" stroke-width="0.07">1</text>
<line x1="430.97" y1="315.4" x2="430.97" y2="316.7" stroke="#333" stroke-width="0.4"/>
<line x1="435.33" y1="315.4" x2="435.33" y2="316.7" stroke="#333" stroke-width="0.4"/>
<line x1="438.43" y1="315.4" x2="438.43" y2="316.7" stroke="#333" stroke-width="0.4"/>
<line x1="440.83" y1="315.4" x2="440.83" y2="316.7" stroke="#333" stroke-width="0.4"/>
<line x1="442.8" y1="315.4" x2="442.8" y2="316.7" stroke="#333" stroke-width="0.4"/>
<line x1="444.46" y1="315.4" x2="444.46" y2="316.7" stroke="#333" stroke-width="0.4"/>
<line x1="445.9" y1="315.4" x2="445.9" y2="316.7" stroke="#333" stroke-width="0.4"/>
<line x1="447.17" y1="315.4" x2="447.17" y2="316.7" stroke="#333" stroke-width="0.4"/>
<line x1="448.3" y1="315.4" x2="448.3" y2="317.9" stroke="#333" stroke-width="0.6"/>
<text x="450.3" y="325.6" font-size="4.3" text-anchor="end" fill="#444" stroke="#444" stroke-width="0.09">10</text>
<text x="450.9" y="322.3" font-size="3.4" text-anchor="start" fill="#444" stroke="#444" stroke-width="0.07">2</text>
<line x1="455.77" y1="315.4" x2="455.77" y2="316.7" stroke="#333" stroke-width="0.4"/>
<line x1="460.13" y1="315.4" x2="460.13" y2="316.7" stroke="#333" stroke-width="0.4"/>
<line x1="463.23" y1="315.4" x2="463.23" y2="316.7" stroke="#333" stroke-width="0.4"/>
<line x1="465.63" y1="315.4" x2="465.63" y2="316.7" stroke="#333" stroke-width="0.4"/>
<line x1="467.6" y1="315.4" x2="467.6" y2="316.7" stroke="#333" stroke-width="0.4"/>
<line x1="469.26" y1="315.4" x2="469.26" y2="316.7" stroke="#333" stroke-width="0.4"/>
<line x1="470.7" y1="315.4" x2="470.7" y2="316.7" stroke="#333" stroke-width="0.4"/>
<line x1="471.97" y1="315.4" x2="471.97" y2="316.7" stroke="#333" stroke-width="0.4"/>
<line x1="473.1" y1="315.4" x2="473.1" y2="317.9" stroke="#333" stroke-width="0.6"/>
<text x="475.1" y="325.6" font-size="4.3" text-anchor="end" fill="#444" stroke="#444" stroke-width="0.09">10</text>
<text x="475.7" y="322.3" font-size="3.4" text-anchor="start" fill="#444" stroke="#444" stroke-width="0.07">3</text>
<line x1="480.57" y1="315.4" x2="480.57" y2="316.7" stroke="#333" stroke-width="0.4"/>
<line x1="484.93" y1="315.4" x2="484.93" y2="316.7" stroke="#333" stroke-width="0.4"/>
<line x1="488.03" y1="315.4" x2="488.03" y2="316.7" stroke="#333" stroke-width="0.4"/>
<line x1="490.43" y1="315.4" x2="490.43" y2="316.7" stroke="#333" stroke-width="0.4"/>
<line x1="492.4" y1="315.4" x2="492.4" y2="316.7" stroke="#333" stroke-width="0.4"/>
<line x1="494.06" y1="315.4" x2="494.06" y2="316.7" stroke="#333" stroke-width="0.4"/>
<line x1="495.5" y1="315.4" x2="495.5" y2="316.7" stroke="#333" stroke-width="0.4"/>
<line x1="496.77" y1="315.4" x2="496.77" y2="316.7" stroke="#333" stroke-width="0.4"/>
<line x1="497.9" y1="315.4" x2="497.9" y2="317.9" stroke="#333" stroke-width="0.6"/>
<text x="499.9" y="325.6" font-size="4.3" text-anchor="end" fill="#444" stroke="#444" stroke-width="0.09">10</text>
<text x="500.5" y="322.3" font-size="3.4" text-anchor="start" fill="#444" stroke="#444" stroke-width="0.07">4</text>
<line x1="505.37" y1="315.4" x2="505.37" y2="316.7" stroke="#333" stroke-width="0.4"/>
<line x1="509.73" y1="315.4" x2="509.73" y2="316.7" stroke="#333" stroke-width="0.4"/>
<line x1="512.83" y1="315.4" x2="512.83" y2="316.7" stroke="#333" stroke-width="0.4"/>
<line x1="515.23" y1="315.4" x2="515.23" y2="316.7" stroke="#333" stroke-width="0.4"/>
<line x1="517.2" y1="315.4" x2="517.2" y2="316.7" stroke="#333" stroke-width="0.4"/>
<line x1="518.86" y1="315.4" x2="518.86" y2="316.7" stroke="#333" stroke-width="0.4"/>
<line x1="520.3" y1="315.4" x2="520.3" y2="316.7" stroke="#333" stroke-width="0.4"/>
<line x1="521.57" y1="315.4" x2="521.57" y2="316.7" stroke="#333" stroke-width="0.4"/>
<line x1="522.7" y1="315.4" x2="522.7" y2="317.9" stroke="#333" stroke-width="0.6"/>
<text x="524.7" y="325.6" font-size="4.3" text-anchor="end" fill="#444" stroke="#444" stroke-width="0.09">10</text>
<text x="525.3" y="322.3" font-size="3.4" text-anchor="start" fill="#444" stroke="#444" stroke-width="0.07">5</text>
<line x1="530.17" y1="315.4" x2="530.17" y2="316.7" stroke="#333" stroke-width="0.4"/>
<line x1="534.53" y1="315.4" x2="534.53" y2="316.7" stroke="#333" stroke-width="0.4"/>
<line x1="537.63" y1="315.4" x2="537.63" y2="316.7" stroke="#333" stroke-width="0.4"/>
<line x1="540.03" y1="315.4" x2="540.03" y2="316.7" stroke="#333" stroke-width="0.4"/>
<line x1="542" y1="315.4" x2="542" y2="316.7" stroke="#333" stroke-width="0.4"/>
<line x1="543.66" y1="315.4" x2="543.66" y2="316.7" stroke="#333" stroke-width="0.4"/>
<line x1="545.1" y1="315.4" x2="545.1" y2="316.7" stroke="#333" stroke-width="0.4"/>
<line x1="546.37" y1="315.4" x2="546.37" y2="316.7" stroke="#333" stroke-width="0.4"/>
<line x1="547.5" y1="315.4" x2="547.5" y2="317.9" stroke="#333" stroke-width="0.6"/>
<text x="549.5" y="325.6" font-size="4.3" text-anchor="end" fill="#444" stroke="#444" stroke-width="0.09">10</text>
<text x="550.1" y="322.3" font-size="3.4" text-anchor="start" fill="#444" stroke="#444" stroke-width="0.07">6</text>
<text x="484.7" y="337.3" font-size="10" text-anchor="middle" fill="#222" stroke="#222" stroke-width="0.22">EdU-FITC</text>
<line x1="589.6" y1="202.06" x2="589.6" y2="299.1" stroke="#111" stroke-width="1.3"/>
<line x1="589" y1="298.5" x2="653.4" y2="298.5" stroke="#111" stroke-width="1.3"/>
<line x1="586.6" y1="298.5" x2="589.6" y2="298.5" stroke="#111" stroke-width="0.8"/>
<text x="583.9" y="301" font-size="7" font-weight="bold" text-anchor="end" fill="#222">0</text>
<line x1="586.6" y1="274.54" x2="589.6" y2="274.54" stroke="#111" stroke-width="0.8"/>
<text x="583.9" y="277.04" font-size="7" font-weight="bold" text-anchor="end" fill="#222">2000</text>
<line x1="586.6" y1="250.58" x2="589.6" y2="250.58" stroke="#111" stroke-width="0.8"/>
<text x="583.9" y="253.08" font-size="7" font-weight="bold" text-anchor="end" fill="#222">4000</text>
<line x1="586.6" y1="226.62" x2="589.6" y2="226.62" stroke="#111" stroke-width="0.8"/>
<text x="583.9" y="229.12" font-size="7" font-weight="bold" text-anchor="end" fill="#222">6000</text>
<line x1="586.6" y1="202.66" x2="589.6" y2="202.66" stroke="#111" stroke-width="0.8"/>
<text x="583.9" y="205.16" font-size="7" font-weight="bold" text-anchor="end" fill="#222">8000</text>
<text x="621.2" y="191.4" font-size="7.65" font-weight="bold" text-anchor="middle" fill="#111">A549</text>
<text x="564.3" y="251.2" font-size="6.5" font-weight="bold" text-anchor="middle" fill="#222" transform="rotate(-90 564.3 251.2)">EdU-MFI</text>
<rect x="593" y="248.78" width="12.6" height="49.72" fill="#fff" stroke="#CF8598" stroke-width="0.9"/>
<circle cx="595.5" cy="249.1" r="2" fill="#CF8598" stroke="#333" stroke-width="0.45"/>
<circle cx="599.3" cy="248.59" r="2" fill="#CF8598" stroke="#333" stroke-width="0.45"/>
<circle cx="603.1" cy="248.88" r="2" fill="#CF8598" stroke="#333" stroke-width="0.45"/>
<line x1="599.3" y1="298.5" x2="599.3" y2="301.3" stroke="#111" stroke-width="0.8"/>
<rect x="607.7" y="269.15" width="12.6" height="29.35" fill="#fff" stroke="#8B94D6" stroke-width="0.9"/>
<circle cx="610.2" cy="268.85" r="2" fill="#8B94D6" stroke="#333" stroke-width="0.45"/>
<circle cx="614" cy="268.82" r="2" fill="#8B94D6" stroke="#333" stroke-width="0.45"/>
<circle cx="617.8" cy="269.76" r="2" fill="#8B94D6" stroke="#333" stroke-width="0.45"/>
<line x1="614" y1="298.5" x2="614" y2="301.3" stroke="#111" stroke-width="0.8"/>
<rect x="622.05" y="248.78" width="12.6" height="49.72" fill="#fff" stroke="#ECC556" stroke-width="0.9"/>
<circle cx="624.55" cy="249.48" r="2" fill="#ECC556" stroke="#333" stroke-width="0.45"/>
<circle cx="628.35" cy="248.1" r="2" fill="#ECC556" stroke="#333" stroke-width="0.45"/>
<circle cx="632.15" cy="249.07" r="2" fill="#ECC556" stroke="#333" stroke-width="0.45"/>
<line x1="628.35" y1="298.5" x2="628.35" y2="301.3" stroke="#111" stroke-width="0.8"/>
<rect x="636.35" y="210.45" width="12.6" height="88.05" fill="#fff" stroke="#79C7AE" stroke-width="0.9"/>
<circle cx="638.85" cy="210.77" r="2" fill="#79C7AE" stroke="#333" stroke-width="0.45"/>
<circle cx="642.65" cy="209.5" r="2" fill="#79C7AE" stroke="#333" stroke-width="0.45"/>
<circle cx="646.45" cy="210.38" r="2" fill="#79C7AE" stroke="#333" stroke-width="0.45"/>
<line x1="642.65" y1="298.5" x2="642.65" y2="301.3" stroke="#111" stroke-width="0.8"/>
<line x1="639.5" y1="207.45" x2="645.5" y2="207.45" stroke="#222" stroke-width="0.6"/>
<line x1="599.3" y1="243.4" x2="613.8" y2="243.4" stroke="#999" stroke-width="0.5" stroke-dasharray="1 0.6"/>
<text x="606.5" y="243" font-size="7.2" font-weight="bold" text-anchor="middle" fill="#333">***</text>
<line x1="628.4" y1="202.4" x2="642.3" y2="202.4" stroke="#999" stroke-width="0.5" stroke-dasharray="1 0.6"/>
<text x="635.3" y="202" font-size="7.2" font-weight="bold" text-anchor="middle" fill="#333">***</text>
<text x="601.5" y="309.6" font-size="6.4" font-weight="bold" text-anchor="end" fill="#222" transform="rotate(-46 601.5 309.6)">shNC</text>
<text x="616.2" y="309.6" font-size="6.4" font-weight="bold" text-anchor="end" fill="#222" transform="rotate(-46 616.2 309.6)">sh-KDM5B</text>
<text x="630.55" y="309.6" font-size="6.4" font-weight="bold" text-anchor="end" fill="#222" transform="rotate(-46 630.55 309.6)">Vector</text>
<text x="644.85" y="309.6" font-size="6.4" font-weight="bold" text-anchor="end" fill="#222" transform="rotate(-46 644.85 309.6)">OE-KDM5B</text>
<text x="20.4" y="377.3" font-size="16.5" font-weight="bold" text-anchor="start" fill="#1f1513">G</text>
<text x="41.3" y="377.9" font-size="9" text-anchor="start" fill="#1a1a1a" stroke="#1a1a1a" stroke-width="0.2">A549 GABPA promoter</text>
<text x="422.4" y="378.2" font-size="8.95" text-anchor="end" fill="#1a1a1a" stroke="#1a1a1a" stroke-width="0.2">chr21:25, 732, 972-25, 774, 460</text>
<line x1="148.8" y1="374" x2="277.5" y2="374" stroke="#666" stroke-width="0.5"/>
<line x1="148.8" y1="372.3" x2="148.8" y2="375.7" stroke="#666" stroke-width="0.5"/>
<line x1="277.5" y1="372.3" x2="277.5" y2="375.7" stroke="#666" stroke-width="0.5"/>
<text x="213.3" y="372.6" font-size="6.8" text-anchor="middle" fill="#222" stroke="#222" stroke-width="0.15">41kb</text>
<rect x="39.4" y="380.1" width="381.7" height="116.1" fill="#F7F7F7" stroke="none" stroke-width="1"/>
<path d="M40.5 436 L40.5 436 L42.5 435 L44.5 428 L46.5 418 L48 411 L48.9 410.4 L50.3 417 L51.8 426 L53.4 430.8 L54.3 422 L55.4 410 L56.4 400 L57.6 390 L58.6 386 L59.6 390 L60.6 397 L61.5 402 L62.5 407 L63.5 413 L64.8 420 L66 427 L67.2 433 L68.5 435.4 L69 436 L69.8 436 L70.6 436 L71.4 436 L72.2 436 L73 436 L73.8 436 L74.6 436 L75.4 436 L76.2 436 L77 436 L77.8 436 L78.6 436 L79.4 436 L80.2 436 L81 436 L81.8 436 L82.6 436 L83.4 436 L84.2 436 L85 436 L85.8 436 L86.6 436 L87.4 436 L88.2 436 L89 435.99 L89.8 435.94 L90.6 435.78 L91.4 435.42 L92.2 434.81 L93 434.11 L93.8 433.64 L94.6 433.71 L95.4 434.27 L96.2 434.99 L97 435.54 L97.8 435.83 L98.6 435.95 L99.4 435.99 L100.2 436 L101 436 L101.8 436 L102.6 436 L103.4 436 L104.2 435.99 L105 435.92 L105.8 435.71 L106.6 435.45 L107.4 435.45 L108.2 435.71 L109 435.92 L109.8 435.99 L110.6 436 L111.4 436 L112.2 436 L113 436 L113.8 436 L114.6 436 L115.4 436 L116.2 436 L117 436 L117.8 436 L118.6 436 L119.4 436 L120.2 436 L121 436 L121.8 436 L122.6 436 L123.4 436 L124.2 436 L125 436 L125.8 435.99 L126.6 435.95 L127.4 435.84 L128.2 435.66 L129 435.44 L129.8 435.31 L130.6 435.35 L131.4 435.55 L132.2 435.76 L133 435.91 L133.8 435.97 L134.6 435.99 L135.4 436 L136.2 436 L137 436 L137.8 436 L138.6 436 L139.4 436 L140.2 436 L141 436 L141.8 436 L142.6 436 L143.4 436 L144.2 436 L145 436 L145.8 436 L146.6 436 L147.4 436 L148.2 436 L149 436 L149.8 436 L150.6 436 L151.4 436 L152.2 436 L153 436 L153.8 436 L154.6 436 L155.4 436 L156.2 436 L157 436 L157.8 436 L158.6 436 L159.4 436 L160.2 436 L161 436 L161.8 436 L162.6 436 L163.4 436 L164.2 436 L165 436 L165.8 436 L166.6 436 L167.4 436 L168.2 436 L169 436 L169.8 436 L170.6 436 L171.4 436 L172.2 436 L173 436 L173.8 436 L174.6 436 L175.4 436 L176.2 436 L177 436 L177.8 436 L178.6 436 L179.4 436 L180.2 436 L181 436 L181.8 436 L182.6 436 L183.4 436 L184.2 436 L185 436 L185.8 436 L186.6 436 L187.4 436 L188.2 436 L189 436 L189.8 436 L190.6 435.99 L191.4 435.96 L192.2 435.88 L193 435.71 L193.8 435.49 L194.6 435.32 L195.4 435.32 L196.2 435.49 L197 435.71 L197.8 435.88 L198.6 435.96 L199.4 435.99 L200.2 436 L201 436 L201.8 436 L202.6 436 L203.4 436 L204.2 436 L205 436 L205.8 436 L206.6 436 L207.4 436 L208.2 436 L209 436 L209.8 436 L210.6 436 L211.4 436 L212.2 436 L213 436 L213.8 436 L214.6 436 L215.4 436 L216.2 436 L217 436 L217.8 436 L218.6 436 L219.4 436 L220.2 436 L221 436 L221.8 436 L222.6 436 L223.4 436 L224.2 436 L225 436 L225.8 436 L226.6 436 L227.4 436 L228.2 436 L229 436 L229.8 436 L230.6 436 L231.4 436 L232.2 436 L233 436 L233.8 436 L234.6 436 L235.4 436 L236.2 436 L237 436 L237.8 436 L238.6 436 L239.4 436 L240.2 436 L241 436 L241.8 436 L242.6 436 L243.4 436 L244.2 436 L245 436 L245.8 436 L246.6 436 L247.4 436 L248.2 436 L249 436 L249.8 436 L250.6 436 L251.4 436 L252.2 436 L253 436 L253.8 436 L254.6 436 L255.4 436 L256.2 436 L257 436 L257.8 436 L258.6 436 L259.4 436 L260.2 436 L261 436 L261.8 436 L262.6 436 L263.4 436 L264.2 436 L265 436 L265.8 436 L266.6 436 L267.4 436 L268.2 436 L269 436 L269.8 436 L270.6 436 L271.4 436 L272.2 436 L273 435.99 L273.8 435.96 L274.6 435.81 L275.4 435.58 L276.2 435.51 L277 435.7 L277.8 435.9 L278.6 435.98 L279.4 436 L280.2 436 L281 436 L281.8 436 L282.6 436 L283.4 436 L284.2 436 L285 436 L285.8 436 L286.6 436 L287.4 436 L288.2 436 L289 436 L289.8 436 L290.6 436 L291.4 436 L292.2 436 L293 436 L293.8 436 L294.6 436 L295.4 436 L296.2 436 L297 436 L297.8 436 L298.6 436 L299.4 436 L300.2 436 L301 436 L301.8 436 L302.6 436 L303.4 436 L304.2 436 L305 436 L305.8 436 L306.6 436 L307.4 436 L308.2 436 L309 436 L309.8 436 L310.6 436 L311.4 436 L312.2 436 L313 436 L313.8 436 L314.6 436 L315.4 436 L316.2 436 L317 436 L317.8 435.96 L318.6 435.85 L319.4 435.67 L320.2 435.61 L321 435.76 L321.8 435.92 L322.6 435.99 L323.4 436 L324.2 436 L325 436 L325.8 436 L326.6 436 L327.4 436 L328.2 436 L329 436 L329.8 436 L330.6 436 L331.4 436 L332.2 436 L333 436 L333.8 436 L334.6 436 L335.4 436 L336.2 436 L337 436 L337.8 436 L338.6 436 L339.4 436 L340.2 436 L341 436 L341.8 436 L342.6 436 L343.4 436 L344.2 436 L345 436 L345.8 436 L346.6 436 L347.4 436 L348.2 436 L349 436 L349.8 436 L350.6 436 L351.4 436 L352.2 436 L353 436 L353.8 436 L354.6 436 L355.4 436 L356.2 436 L357 436 L357.8 436 L358.6 436 L359.4 436 L360.2 436 L361 436 L361.8 436 L362.6 436 L363.4 436 L364.2 436 L365 436 L365.8 436 L366.6 436 L367.4 436 L368.2 436 L369 436 L369.8 436 L370.6 436 L371.4 436 L372.2 436 L373 436 L373.8 436 L374.6 436 L375.4 436 L376.2 436 L377 436 L377.8 436 L378.6 436 L379.4 436 L380.2 436 L381 436 L381.8 436 L382.6 436 L383.4 436 L384.2 436 L385 436 L385.8 436 L386.6 436 L387.4 436 L388.2 436 L389 436 L389.8 436 L390.6 436 L391.4 436 L392.2 436 L393 436 L393.8 436 L394.6 436 L395.4 436 L396.2 436 L397 436 L397.8 436 L398.6 436 L399.4 436 L400.2 436 L401 436 L401.8 436 L402.6 436 L403.4 436 L404.2 436 L405 436 L405.8 436 L406.6 436 L407.4 436 L408.2 436 L409 436 L409.8 436 L410.6 436 L411.4 436 L412.2 436 L413 436 L413.8 436 L414.6 436 L415.4 436 L416.2 436 L417 436 L417.8 436 L418.6 436 L419.4 436 L420 436 Z" fill="#D42A7C" stroke="none" stroke-width="1"/>
<line x1="40.5" y1="436" x2="420" y2="436" stroke="#D42A7C" stroke-width="0.8"/>
<path d="M40.5 492 L40.5 491.99 L40.9 491.97 L41.3 491.95 L41.7 491.91 L42.1 491.85 L42.5 491.75 L42.9 491.6 L43.3 491.39 L43.7 491.11 L44.1 490.75 L44.5 490.31 L44.9 489.81 L45.3 489.27 L45.7 488.73 L46.1 488.24 L46.5 487.85 L46.9 487.59 L47.3 487.5 L47.7 487.59 L48.1 487.85 L48.5 488.24 L48.9 488.73 L49.3 489.27 L49.7 489.81 L50.1 490.31 L50.5 490.75 L50.9 491.11 L51.3 491.39 L51.7 491.59 L52.1 491.74 L52.5 491.82 L52.9 491.86 L53.3 491.86 L53.7 491.81 L54.1 491.72 L54.5 491.56 L54.9 491.33 L55.3 491.02 L55.7 490.63 L56.1 490.18 L56.5 489.69 L56.9 489.22 L57.3 488.81 L57.7 488.52 L58.1 488.36 L58.5 488.37 L58.9 488.52 L59.3 488.77 L59.7 489.06 L60.1 489.32 L60.5 489.49 L60.9 489.53 L61.3 489.43 L61.7 489.21 L62.1 488.92 L62.5 488.62 L62.9 488.38 L63.3 488.26 L63.7 488.29 L64.1 488.48 L64.5 488.82 L64.9 489.26 L65.3 489.75 L65.7 490.25 L66.1 490.7 L66.5 491.08 L66.9 491.38 L67.3 491.6 L67.7 491.76 L68.1 491.86 L68.5 491.92 L68.9 491.96 L69.3 491.98 L69.7 491.99 L70.1 492 L70.5 492 L70.9 492 L71.3 492 L71.7 492 L72.1 492 L72.5 492 L72.9 492 L73.3 492 L73.7 492 L74.1 492 L74.5 492 L74.9 492 L75.3 492 L75.7 492 L76.1 492 L76.5 492 L76.9 492 L77.3 492 L77.7 492 L78.1 492 L78.5 492 L78.9 492 L79.3 492 L79.7 492 L80.1 492 L80.5 492 L80.9 492 L81.3 492 L81.7 492 L82.1 492 L82.5 492 L82.9 492 L83.3 492 L83.7 492 L84.1 492 L84.5 492 L84.9 492 L85.3 492 L85.7 492 L86.1 492 L86.5 492 L86.9 492 L87.3 492 L87.7 492 L88.1 492 L88.5 492 L88.9 492 L89.3 491.99 L89.7 491.98 L90.1 491.96 L90.5 491.92 L90.9 491.86 L91.3 491.76 L91.7 491.63 L92.1 491.46 L92.5 491.27 L92.9 491.08 L93.3 490.92 L93.7 490.82 L94.1 490.8 L94.5 490.86 L94.9 491 L95.3 491.18 L95.7 491.37 L96.1 491.55 L96.5 491.7 L96.9 491.81 L97.3 491.89 L97.7 491.94 L98.1 491.97 L98.5 491.99 L98.9 491.99 L99.3 492 L99.7 492 L100.1 492 L100.5 492 L100.9 492 L101.3 492 L101.7 492 L102.1 492 L102.5 492 L102.9 492 L103.3 492 L103.7 492 L104.1 492 L104.5 492 L104.9 492 L105.3 491.99 L105.7 491.99 L106.1 491.97 L106.5 491.95 L106.9 491.91 L107.3 491.84 L107.7 491.75 L108.1 491.64 L108.5 491.51 L108.9 491.39 L109.3 491.28 L109.7 491.22 L110.1 491.2 L110.5 491.24 L110.9 491.33 L111.3 491.45 L111.7 491.58 L112.1 491.7 L112.5 491.8 L112.9 491.88 L113.3 491.93 L113.7 491.96 L114.1 491.98 L114.5 491.99 L114.9 492 L115.3 492 L115.7 492 L116.1 492 L116.5 492 L116.9 492 L117.3 492 L117.7 492 L118.1 492 L118.5 492 L118.9 492 L119.3 492 L119.7 492 L120.1 492 L120.5 492 L120.9 492 L121.3 492 L121.7 492 L122.1 492 L122.5 492 L122.9 492 L123.3 492 L123.7 492 L124.1 492 L124.5 492 L124.9 492 L125.3 492 L125.7 492 L126.1 492 L126.5 492 L126.9 492 L127.3 492 L127.7 492 L128.1 492 L128.5 492 L128.9 492 L129.3 492 L129.7 492 L130.1 492 L130.5 492 L130.9 492 L131.3 492 L131.7 492 L132.1 492 L132.5 492 L132.9 492 L133.3 492 L133.7 492 L134.1 492 L134.5 492 L134.9 492 L135.3 492 L135.7 492 L136.1 492 L136.5 492 L136.9 492 L137.3 492 L137.7 492 L138.1 492 L138.5 492 L138.9 492 L139.3 492 L139.7 492 L140.1 492 L140.5 492 L140.9 492 L141.3 492 L141.7 492 L142.1 492 L142.5 492 L142.9 492 L143.3 491.99 L143.7 491.99 L144.1 491.98 L144.5 491.95 L144.9 491.92 L145.3 491.86 L145.7 491.78 L146.1 491.69 L146.5 491.58 L146.9 491.47 L147.3 491.37 L147.7 491.31 L148.1 491.3 L148.5 491.34 L148.9 491.42 L149.3 491.52 L149.7 491.63 L150.1 491.74 L150.5 491.83 L150.9 491.89 L151.3 491.94 L151.7 491.97 L152.1 491.98 L152.5 491.99 L152.9 492 L153.3 492 L153.7 492 L154.1 492 L154.5 492 L154.9 492 L155.3 492 L155.7 492 L156.1 492 L156.5 492 L156.9 492 L157.3 492 L157.7 492 L158.1 492 L158.5 492 L158.9 492 L159.3 492 L159.7 492 L160.1 492 L160.5 492 L160.9 492 L161.3 492 L161.7 492 L162.1 492 L162.5 492 L162.9 492 L163.3 492 L163.7 492 L164.1 492 L164.5 492 L164.9 492 L165.3 492 L165.7 492 L166.1 492 L166.5 492 L166.9 492 L167.3 492 L167.7 492 L168.1 492 L168.5 492 L168.9 492 L169.3 492 L169.7 492 L170.1 492 L170.5 492 L170.9 492 L171.3 492 L171.7 492 L172.1 492 L172.5 492 L172.9 492 L173.3 492 L173.7 492 L174.1 492 L174.5 492 L174.9 492 L175.3 492 L175.7 492 L176.1 492 L176.5 492 L176.9 492 L177.3 492 L177.7 492 L178.1 492 L178.5 492 L178.9 492 L179.3 492 L179.7 492 L180.1 492 L180.5 492 L180.9 492 L181.3 492 L181.7 492 L182.1 492 L182.5 491.99 L182.9 491.99 L183.3 491.97 L183.7 491.95 L184.1 491.91 L184.5 491.85 L184.9 491.77 L185.3 491.68 L185.7 491.59 L186.1 491.5 L186.5 491.43 L186.9 491.4 L187.3 491.41 L187.7 491.46 L188.1 491.54 L188.5 491.64 L188.9 491.73 L189.3 491.81 L189.7 491.88 L190.1 491.93 L190.5 491.96 L190.9 491.98 L191.3 491.99 L191.7 492 L192.1 492 L192.5 492 L192.9 492 L193.3 492 L193.7 492 L194.1 492 L194.5 492 L194.9 492 L195.3 492 L195.7 492 L196.1 492 L196.5 492 L196.9 492 L197.3 492 L197.7 492 L198.1 492 L198.5 492 L198.9 492 L199.3 492 L199.7 492 L200.1 492 L200.5 492 L200.9 492 L201.3 492 L201.7 492 L202.1 492 L202.5 492 L202.9 492 L203.3 492 L203.7 492 L204.1 492 L204.5 492 L204.9 492 L205.3 492 L205.7 492 L206.1 492 L206.5 492 L206.9 492 L207.3 492 L207.7 492 L208.1 492 L208.5 492 L208.9 492 L209.3 492 L209.7 492 L210.1 492 L210.5 492 L210.9 492 L211.3 492 L211.7 492 L212.1 492 L212.5 492 L212.9 492 L213.3 492 L213.7 492 L214.1 492 L214.5 492 L214.9 492 L215.3 492 L215.7 492 L216.1 492 L216.5 492 L216.9 492 L217.3 492 L217.7 492 L218.1 492 L218.5 492 L218.9 492 L219.3 492 L219.7 492 L220.1 492 L220.5 492 L220.9 492 L221.3 492 L221.7 492 L222.1 492 L222.5 492 L222.9 492 L223.3 492 L223.7 492 L224.1 492 L224.5 492 L224.9 492 L225.3 492 L225.7 492 L226.1 492 L226.5 492 L226.9 492 L227.3 492 L227.7 492 L228.1 492 L228.5 492 L228.9 492 L229.3 492 L229.7 492 L230.1 492 L230.5 492 L230.9 492 L231.3 492 L231.7 492 L232.1 492 L232.5 492 L232.9 492 L233.3 492 L233.7 492 L234.1 492 L234.5 492 L234.9 492 L235.3 492 L235.7 492 L236.1 492 L236.5 492 L236.9 492 L237.3 492 L237.7 492 L238.1 492 L238.5 492 L238.9 492 L239.3 492 L239.7 492 L240.1 492 L240.5 491.99 L240.9 491.99 L241.3 491.97 L241.7 491.95 L242.1 491.91 L242.5 491.85 L242.9 491.77 L243.3 491.68 L243.7 491.59 L244.1 491.5 L244.5 491.43 L244.9 491.4 L245.3 491.41 L245.7 491.46 L246.1 491.54 L246.5 491.64 L246.9 491.73 L247.3 491.81 L247.7 491.88 L248.1 491.93 L248.5 491.96 L248.9 491.98 L249.3 491.99 L249.7 492 L250.1 492 L250.5 492 L250.9 492 L251.3 492 L251.7 492 L252.1 492 L252.5 492 L252.9 492 L253.3 492 L253.7 492 L254.1 492 L254.5 492 L254.9 492 L255.3 492 L255.7 492 L256.1 492 L256.5 492 L256.9 492 L257.3 492 L257.7 492 L258.1 492 L258.5 492 L258.9 492 L259.3 492 L259.7 492 L260.1 492 L260.5 492 L260.9 492 L261.3 492 L261.7 492 L262.1 492 L262.5 492 L262.9 492 L263.3 492 L263.7 492 L264.1 492 L264.5 492 L264.9 492 L265.3 492 L265.7 492 L266.1 492 L266.5 492 L266.9 492 L267.3 492 L267.7 492 L268.1 492 L268.5 492 L268.9 492 L269.3 492 L269.7 492 L270.1 492 L270.5 492 L270.9 492 L271.3 492 L271.7 492 L272.1 492 L272.5 492 L272.9 492 L273.3 492 L273.7 492 L274.1 492 L274.5 492 L274.9 492 L275.3 492 L275.7 492 L276.1 492 L276.5 492 L276.9 492 L277.3 492 L277.7 492 L278.1 492 L278.5 492 L278.9 492 L279.3 492 L279.7 492 L280.1 492 L280.5 492 L280.9 492 L281.3 492 L281.7 492 L282.1 492 L282.5 492 L282.9 492 L283.3 492 L283.7 492 L284.1 492 L284.5 492 L284.9 492 L285.3 492 L285.7 492 L286.1 492 L286.5 492 L286.9 492 L287.3 492 L287.7 492 L288.1 492 L288.5 492 L288.9 492 L289.3 492 L289.7 492 L290.1 492 L290.5 492 L290.9 492 L291.3 492 L291.7 492 L292.1 492 L292.5 492 L292.9 492 L293.3 492 L293.7 492 L294.1 492 L294.5 492 L294.9 492 L295.3 492 L295.7 492 L296.1 492 L296.5 492 L296.9 492 L297.3 492 L297.7 492 L298.1 492 L298.5 492 L298.9 492 L299.3 492 L299.7 492 L300.1 491.99 L300.5 491.99 L300.9 491.97 L301.3 491.95 L301.7 491.92 L302.1 491.86 L302.5 491.79 L302.9 491.7 L303.3 491.6 L303.7 491.5 L304.1 491.4 L304.5 491.33 L304.9 491.3 L305.3 491.31 L305.7 491.36 L306.1 491.45 L306.5 491.55 L306.9 491.65 L307.3 491.75 L307.7 491.83 L308.1 491.89 L308.5 491.94 L308.9 491.96 L309.3 491.98 L309.7 491.99 L310.1 492 L310.5 492 L310.9 492 L311.3 492 L311.7 492 L312.1 492 L312.5 492 L312.9 492 L313.3 492 L313.7 492 L314.1 492 L314.5 492 L314.9 492 L315.3 492 L315.7 492 L316.1 492 L316.5 492 L316.9 492 L317.3 492 L317.7 492 L318.1 492 L318.5 492 L318.9 492 L319.3 492 L319.7 492 L320.1 492 L320.5 492 L320.9 492 L321.3 492 L321.7 492 L322.1 492 L322.5 492 L322.9 492 L323.3 492 L323.7 492 L324.1 492 L324.5 492 L324.9 492 L325.3 492 L325.7 492 L326.1 492 L326.5 492 L326.9 492 L327.3 492 L327.7 492 L328.1 492 L328.5 492 L328.9 492 L329.3 492 L329.7 492 L330.1 492 L330.5 492 L330.9 492 L331.3 492 L331.7 492 L332.1 492 L332.5 492 L332.9 492 L333.3 492 L333.7 492 L334.1 492 L334.5 492 L334.9 492 L335.3 492 L335.7 492 L336.1 492 L336.5 492 L336.9 492 L337.3 492 L337.7 492 L338.1 492 L338.5 492 L338.9 492 L339.3 492 L339.7 492 L340.1 492 L340.5 492 L340.9 492 L341.3 492 L341.7 492 L342.1 492 L342.5 492 L342.9 492 L343.3 492 L343.7 492 L344.1 492 L344.5 492 L344.9 492 L345.3 492 L345.7 492 L346.1 492 L346.5 492 L346.9 492 L347.3 492 L347.7 492 L348.1 492 L348.5 492 L348.9 492 L349.3 492 L349.7 492 L350.1 492 L350.5 492 L350.9 492 L351.3 492 L351.7 492 L352.1 492 L352.5 492 L352.9 492 L353.3 492 L353.7 492 L354.1 491.99 L354.5 491.99 L354.9 491.97 L355.3 491.95 L355.7 491.92 L356.1 491.86 L356.5 491.79 L356.9 491.7 L357.3 491.6 L357.7 491.5 L358.1 491.4 L358.5 491.33 L358.9 491.3 L359.3 491.31 L359.7 491.36 L360.1 491.45 L360.5 491.55 L360.9 491.65 L361.3 491.75 L361.7 491.83 L362.1 491.89 L362.5 491.94 L362.9 491.96 L363.3 491.98 L363.7 491.99 L364.1 492 L364.5 492 L364.9 492 L365.3 492 L365.7 492 L366.1 492 L366.5 492 L366.9 492 L367.3 492 L367.7 492 L368.1 492 L368.5 492 L368.9 492 L369.3 492 L369.7 492 L370.1 492 L370.5 492 L370.9 492 L371.3 492 L371.7 492 L372.1 492 L372.5 492 L372.9 492 L373.3 492 L373.7 492 L374.1 492 L374.5 492 L374.9 492 L375.3 492 L375.7 492 L376.1 492 L376.5 492 L376.9 492 L377.3 492 L377.7 492 L378.1 492 L378.5 492 L378.9 492 L379.3 492 L379.7 492 L380.1 492 L380.5 492 L380.9 492 L381.3 492 L381.7 492 L382.1 492 L382.5 492 L382.9 492 L383.3 492 L383.7 492 L384.1 492 L384.5 492 L384.9 492 L385.3 492 L385.7 492 L386.1 492 L386.5 492 L386.9 492 L387.3 492 L387.7 492 L388.1 492 L388.5 492 L388.9 492 L389.3 492 L389.7 492 L390.1 492 L390.5 492 L390.9 492 L391.3 492 L391.7 492 L392.1 492 L392.5 492 L392.9 492 L393.3 492 L393.7 492 L394.1 492 L394.5 492 L394.9 492 L395.3 492 L395.7 492 L396.1 492 L396.5 492 L396.9 492 L397.3 492 L397.7 492 L398.1 492 L398.5 492 L398.9 492 L399.3 492 L399.7 492 L400.1 492 L400.5 492 L400.9 492 L401.3 492 L401.7 492 L402.1 492 L402.5 492 L402.9 492 L403.3 492 L403.7 492 L404.1 492 L404.5 492 L404.9 492 L405.3 492 L405.7 492 L406.1 492 L406.5 492 L406.9 492 L407.3 492 L407.7 492 L408.1 492 L408.5 492 L408.9 492 L409.3 492 L409.7 492 L410.1 492 L410.5 492 L410.9 492 L411.3 492 L411.7 492 L412.1 492 L412.5 492 L412.9 492 L413.3 492 L413.7 492 L414.1 492 L414.5 492 L414.9 492 L415.3 492 L415.7 492 L416.1 492 L416.5 492 L416.9 492 L417.3 492 L417.7 492 L418.1 492 L418.5 492 L418.9 492 L419.3 492 L419.7 492 L420 492 Z" fill="#3DB34A" stroke="none" stroke-width="1"/>
<line x1="40.5" y1="492" x2="420" y2="492" stroke="#3DB34A" stroke-width="0.8"/>
<rect x="39.4" y="380.1" width="381.7" height="116.1" fill="none" stroke="#444" stroke-width="0.8"/>
<text x="41.8" y="385.8" font-size="4" text-anchor="start" fill="#333" stroke="#333" stroke-width="0.09">7</text>
<text x="41.8" y="441" font-size="4" text-anchor="start" fill="#333" stroke="#333" stroke-width="0.09">7</text>
<line x1="42" y1="501.8" x2="421" y2="501.8" stroke="#2B3A94" stroke-width="0.6"/>
<rect x="42" y="500.1" width="5.7" height="3.4" fill="#2B3A94" stroke="none" stroke-width="1"/>
<rect x="387.3" y="499.6" width="33.2" height="4.4" fill="#2B3A94" stroke="none" stroke-width="1"/>
<line x1="109.9" y1="499" x2="109.9" y2="504.6" stroke="#2B3A94" stroke-width="0.9"/>
<line x1="145.6" y1="499" x2="145.6" y2="504.6" stroke="#2B3A94" stroke-width="0.9"/>
<line x1="215.3" y1="499" x2="215.3" y2="504.6" stroke="#2B3A94" stroke-width="0.9"/>
<line x1="274.3" y1="499" x2="274.3" y2="504.6" stroke="#2B3A94" stroke-width="0.9"/>
<line x1="318.6" y1="499" x2="318.6" y2="504.6" stroke="#2B3A94" stroke-width="0.9"/>
<line x1="338" y1="499" x2="338" y2="504.6" stroke="#2B3A94" stroke-width="0.9"/>
<line x1="341.7" y1="499" x2="341.7" y2="504.6" stroke="#2B3A94" stroke-width="0.9"/>
<line x1="53" y1="500.9" x2="53" y2="502.7" stroke="#2B3A94" stroke-width="0.5"/>
<line x1="65" y1="500.9" x2="65" y2="502.7" stroke="#2B3A94" stroke-width="0.5"/>
<line x1="78" y1="500.9" x2="78" y2="502.7" stroke="#2B3A94" stroke-width="0.5"/>
<line x1="92" y1="500.9" x2="92" y2="502.7" stroke="#2B3A94" stroke-width="0.5"/>
<line x1="122" y1="500.9" x2="122" y2="502.7" stroke="#2B3A94" stroke-width="0.5"/>
<line x1="133" y1="500.9" x2="133" y2="502.7" stroke="#2B3A94" stroke-width="0.5"/>
<line x1="160" y1="500.9" x2="160" y2="502.7" stroke="#2B3A94" stroke-width="0.5"/>
<line x1="173" y1="500.9" x2="173" y2="502.7" stroke="#2B3A94" stroke-width="0.5"/>
<line x1="187" y1="500.9" x2="187" y2="502.7" stroke="#2B3A94" stroke-width="0.5"/>
<line x1="200" y1="500.9" x2="200" y2="502.7" stroke="#2B3A94" stroke-width="0.5"/>
<line x1="228" y1="500.9" x2="228" y2="502.7" stroke="#2B3A94" stroke-width="0.5"/>
<line x1="243" y1="500.9" x2="243" y2="502.7" stroke="#2B3A94" stroke-width="0.5"/>
<line x1="258" y1="500.9" x2="258" y2="502.7" stroke="#2B3A94" stroke-width="0.5"/>
<line x1="287" y1="500.9" x2="287" y2="502.7" stroke="#2B3A94" stroke-width="0.5"/>
<line x1="300" y1="500.9" x2="300" y2="502.7" stroke="#2B3A94" stroke-width="0.5"/>
<line x1="309.5" y1="500.9" x2="309.5" y2="502.7" stroke="#2B3A94" stroke-width="0.5"/>
<line x1="324.7" y1="500.9" x2="324.7" y2="502.7" stroke="#2B3A94" stroke-width="0.5"/>
<line x1="349.7" y1="500.9" x2="349.7" y2="502.7" stroke="#2B3A94" stroke-width="0.5"/>
<line x1="362.6" y1="500.9" x2="362.6" y2="502.7" stroke="#2B3A94" stroke-width="0.5"/>
<line x1="375.9" y1="500.9" x2="375.9" y2="502.7" stroke="#2B3A94" stroke-width="0.5"/>
<line x1="26.6" y1="392" x2="26.6" y2="484" stroke="#222" stroke-width="0.7"/>
<text x="23.6" y="435.8" font-size="8.7" text-anchor="middle" fill="#222" stroke="#222" stroke-width="0.19" transform="rotate(-90 23.6 435.8)">KDM5B</text>
<text x="37" y="407.8" font-size="8.7" text-anchor="middle" fill="#222" stroke="#222" stroke-width="0.19" transform="rotate(-90 37 407.8)">IP</text>
<text x="36.4" y="463" font-size="8.7" text-anchor="middle" fill="#222" stroke="#222" stroke-width="0.19" transform="rotate(-90 36.4 463)">Input</text>
<text x="486.2" y="375.7" font-size="16.5" font-weight="bold" text-anchor="start" fill="#1f1513">H</text>
<text x="558.2" y="367.4" font-size="7.7" font-weight="bold" text-anchor="middle" fill="#111">A549</text>
<line x1="518.5" y1="379.6" x2="518.5" y2="481.4" stroke="#111" stroke-width="1.3"/>
<line x1="518" y1="480.9" x2="597.6" y2="480.9" stroke="#111" stroke-width="1.3"/>
<line x1="515.5" y1="480.9" x2="518.5" y2="480.9" stroke="#111" stroke-width="0.8"/>
<text x="514.2" y="483.5" font-size="7.2" font-weight="bold" text-anchor="end" fill="#222">0</text>
<line x1="515.5" y1="455.7" x2="518.5" y2="455.7" stroke="#111" stroke-width="0.8"/>
<text x="514.2" y="458.3" font-size="7.2" font-weight="bold" text-anchor="end" fill="#222">2</text>
<line x1="515.5" y1="430.5" x2="518.5" y2="430.5" stroke="#111" stroke-width="0.8"/>
<text x="514.2" y="433.1" font-size="7.2" font-weight="bold" text-anchor="end" fill="#222">4</text>
<line x1="515.5" y1="405.3" x2="518.5" y2="405.3" stroke="#111" stroke-width="0.8"/>
<text x="514.2" y="407.9" font-size="7.2" font-weight="bold" text-anchor="end" fill="#222">6</text>
<line x1="515.5" y1="380.1" x2="518.5" y2="380.1" stroke="#111" stroke-width="0.8"/>
<text x="514.2" y="382.7" font-size="7.2" font-weight="bold" text-anchor="end" fill="#222">8</text>
<rect x="522.2" y="468.3" width="14.6" height="12.6" fill="#fff" stroke="#CF8598" stroke-width="0.9"/>
<circle cx="525.2" cy="468.3" r="2.15" fill="#CF8598" stroke="#444" stroke-width="0.45"/>
<circle cx="529.5" cy="468.3" r="2.15" fill="#CF8598" stroke="#444" stroke-width="0.45"/>
<circle cx="533.8" cy="468.3" r="2.15" fill="#CF8598" stroke="#444" stroke-width="0.45"/>
<line x1="529.5" y1="480.9" x2="529.5" y2="483.7" stroke="#111" stroke-width="0.8"/>
<rect x="538.9" y="453.81" width="14.6" height="27.09" fill="#fff" stroke="#CF8598" stroke-width="0.9"/>
<circle cx="541.9" cy="454.44" r="2.15" fill="#CF8598" stroke="#444" stroke-width="0.45"/>
<circle cx="546.2" cy="451.29" r="2.15" fill="#CF8598" stroke="#444" stroke-width="0.45"/>
<circle cx="550.5" cy="453.18" r="2.15" fill="#CF8598" stroke="#444" stroke-width="0.45"/>
<line x1="546.2" y1="480.9" x2="546.2" y2="483.7" stroke="#111" stroke-width="0.8"/>
<rect x="562.2" y="468.3" width="14.6" height="12.6" fill="#fff" stroke="#8B94D6" stroke-width="0.9"/>
<circle cx="565.2" cy="468.3" r="2.15" fill="#8B94D6" stroke="#444" stroke-width="0.45"/>
<circle cx="569.5" cy="468.3" r="2.15" fill="#8B94D6" stroke="#444" stroke-width="0.45"/>
<circle cx="573.8" cy="468.3" r="2.15" fill="#8B94D6" stroke="#444" stroke-width="0.45"/>
<line x1="569.5" y1="480.9" x2="569.5" y2="483.7" stroke="#111" stroke-width="0.8"/>
<rect x="578.6" y="404.04" width="14.6" height="76.86" fill="#fff" stroke="#8B94D6" stroke-width="0.9"/>
<circle cx="581.6" cy="402.15" r="2.15" fill="#8B94D6" stroke="#444" stroke-width="0.45"/>
<circle cx="585.9" cy="407.19" r="2.15" fill="#8B94D6" stroke="#444" stroke-width="0.45"/>
<circle cx="590.2" cy="402.78" r="2.15" fill="#8B94D6" stroke="#444" stroke-width="0.45"/>
<line x1="585.9" y1="480.9" x2="585.9" y2="483.7" stroke="#111" stroke-width="0.8"/>
<line x1="585.9" y1="400.26" x2="585.9" y2="407.82" stroke="#222" stroke-width="0.6"/>
<line x1="582.9" y1="400.26" x2="588.9" y2="400.26" stroke="#222" stroke-width="0.6"/>
<line x1="582.9" y1="407.82" x2="588.9" y2="407.82" stroke="#222" stroke-width="0.6"/>
<line x1="530.3" y1="444.9" x2="547.4" y2="444.9" stroke="#aaa" stroke-width="0.5" stroke-dasharray="1 0.6"/>
<text x="538.85" y="444.3" font-size="7.2" font-weight="bold" text-anchor="middle" fill="#333">*</text>
<line x1="570" y1="395.9" x2="587" y2="395.9" stroke="#aaa" stroke-width="0.5" stroke-dasharray="1 0.6"/>
<text x="578.5" y="395" font-size="7.2" font-weight="bold" text-anchor="middle" fill="#333">***</text>
<line x1="548.3" y1="384.5" x2="585.3" y2="384.5" stroke="#aaa" stroke-width="0.5" stroke-dasharray="1 0.6"/>
<text x="566.8" y="383.8" font-size="7.2" font-weight="bold" text-anchor="middle" fill="#333">*</text>
<circle cx="525.2" cy="391.7" r="2.2" fill="#CF8598" stroke="#444" stroke-width="0.45"/>
<circle cx="525.2" cy="405.4" r="2.2" fill="#8B94D6" stroke="#444" stroke-width="0.45"/>
<text x="536.4" y="393.8" font-size="5.55" text-anchor="start" fill="#333" stroke="#333" stroke-width="0.12">Vector</text>
<text x="536.4" y="407.5" font-size="5.55" text-anchor="start" fill="#333" stroke="#333" stroke-width="0.12">OE-KDM5B</text>
<text x="504" y="430.6" font-size="6.9" font-weight="bold" text-anchor="middle" fill="#222" transform="rotate(-90 504 430.6)">Relative luciferase activity</text>
<text x="532.5" y="491.5" font-size="7" font-weight="bold" text-anchor="end" fill="#222" transform="rotate(-45 532.5 491.5)">NC+TK</text>
<text x="549.2" y="491.5" font-size="6.7" font-weight="bold" text-anchor="end" fill="#222" transform="rotate(-45 549.2 491.5)">h-GABPA ( WT) +TK</text>
<text x="572.5" y="491.5" font-size="7" font-weight="bold" text-anchor="end" fill="#222" transform="rotate(-45 572.5 491.5)">NC+TK</text>
<text x="588.9" y="491.5" font-size="6.7" font-weight="bold" text-anchor="end" fill="#222" transform="rotate(-45 588.9 491.5)">h-GABPA ( WT) +TK</text>
<text x="29.1" y="565.4" font-size="16.5" font-weight="bold" text-anchor="start" fill="#1f1513">I</text>
<line x1="63" y1="569.3" x2="63" y2="671" stroke="#222" stroke-width="1.35"/>
<line x1="62.4" y1="670.3" x2="201.5" y2="670.3" stroke="#222" stroke-width="1.35"/>
<line x1="59.8" y1="670.3" x2="63" y2="670.3" stroke="#222" stroke-width="0.9"/>
<text x="57.7" y="672.9" font-size="7.4" font-weight="bold" text-anchor="end" fill="#222">0.0</text>
<line x1="59.8" y1="645.2" x2="63" y2="645.2" stroke="#222" stroke-width="0.9"/>
<text x="57.7" y="647.8" font-size="7.4" font-weight="bold" text-anchor="end" fill="#222">0.4</text>
<line x1="59.8" y1="620.1" x2="63" y2="620.1" stroke="#222" stroke-width="0.9"/>
<text x="57.7" y="622.7" font-size="7.4" font-weight="bold" text-anchor="end" fill="#222">0.8</text>
<line x1="59.8" y1="595" x2="63" y2="595" stroke="#222" stroke-width="0.9"/>
<text x="57.7" y="597.6" font-size="7.4" font-weight="bold" text-anchor="end" fill="#222">1.2</text>
<line x1="59.8" y1="569.9" x2="63" y2="569.9" stroke="#222" stroke-width="0.9"/>
<text x="57.7" y="572.5" font-size="7.4" font-weight="bold" text-anchor="end" fill="#222">1.6</text>
<line x1="62.6" y1="670.3" x2="62.6" y2="673.5" stroke="#222" stroke-width="0.9"/>
<text x="62.6" y="683" font-size="7.4" font-weight="bold" text-anchor="middle" fill="#222">0</text>
<line x1="108.7" y1="670.3" x2="108.7" y2="673.5" stroke="#222" stroke-width="0.9"/>
<text x="108.7" y="683" font-size="7.4" font-weight="bold" text-anchor="middle" fill="#222">24</text>
<line x1="154.8" y1="670.3" x2="154.8" y2="673.5" stroke="#222" stroke-width="0.9"/>
<text x="154.8" y="683" font-size="7.4" font-weight="bold" text-anchor="middle" fill="#222">48</text>
<line x1="200.9" y1="670.3" x2="200.9" y2="673.5" stroke="#222" stroke-width="0.9"/>
<text x="200.9" y="683" font-size="7.4" font-weight="bold" text-anchor="middle" fill="#222">72</text>
<path d="M62.6 657.75 L108.7 643.94 L154.8 616.96 L200.9 581.19" fill="none" stroke="#5DB698" stroke-width="1.4"/>
<line x1="62.6" y1="657.12" x2="62.6" y2="658.38" stroke="#5DB698" stroke-width="0.8"/>
<line x1="60.6" y1="657.12" x2="64.6" y2="657.12" stroke="#5DB698" stroke-width="0.8"/>
<line x1="60.6" y1="658.38" x2="64.6" y2="658.38" stroke="#5DB698" stroke-width="0.8"/>
<line x1="108.7" y1="642.69" x2="108.7" y2="645.2" stroke="#5DB698" stroke-width="0.8"/>
<line x1="106.7" y1="642.69" x2="110.7" y2="642.69" stroke="#5DB698" stroke-width="0.8"/>
<line x1="106.7" y1="645.2" x2="110.7" y2="645.2" stroke="#5DB698" stroke-width="0.8"/>
<line x1="154.8" y1="611.31" x2="154.8" y2="622.61" stroke="#5DB698" stroke-width="0.8"/>
<line x1="152.8" y1="611.31" x2="156.8" y2="611.31" stroke="#5DB698" stroke-width="0.8"/>
<line x1="152.8" y1="622.61" x2="156.8" y2="622.61" stroke="#5DB698" stroke-width="0.8"/>
<line x1="200.9" y1="576.8" x2="200.9" y2="585.59" stroke="#5DB698" stroke-width="0.8"/>
<line x1="198.9" y1="576.8" x2="202.9" y2="576.8" stroke="#5DB698" stroke-width="0.8"/>
<line x1="198.9" y1="585.59" x2="202.9" y2="585.59" stroke="#5DB698" stroke-width="0.8"/>
<circle cx="62.6" cy="657.75" r="2.6" fill="#5DB698" stroke="none" stroke-width="0.5"/>
<circle cx="108.7" cy="643.94" r="2.6" fill="#5DB698" stroke="none" stroke-width="0.5"/>
<circle cx="154.8" cy="616.96" r="2.6" fill="#5DB698" stroke="none" stroke-width="0.5"/>
<circle cx="200.9" cy="581.19" r="2.6" fill="#5DB698" stroke="none" stroke-width="0.5"/>
<path d="M62.6 657.75 L108.7 647.08 L154.8 634.53 L200.9 621.98" fill="none" stroke="#E9C45C" stroke-width="1.4"/>
<line x1="62.6" y1="657.12" x2="62.6" y2="658.38" stroke="#E9C45C" stroke-width="0.8"/>
<line x1="60.6" y1="657.12" x2="64.6" y2="657.12" stroke="#E9C45C" stroke-width="0.8"/>
<line x1="60.6" y1="658.38" x2="64.6" y2="658.38" stroke="#E9C45C" stroke-width="0.8"/>
<line x1="108.7" y1="645.83" x2="108.7" y2="648.34" stroke="#E9C45C" stroke-width="0.8"/>
<line x1="106.7" y1="645.83" x2="110.7" y2="645.83" stroke="#E9C45C" stroke-width="0.8"/>
<line x1="106.7" y1="648.34" x2="110.7" y2="648.34" stroke="#E9C45C" stroke-width="0.8"/>
<line x1="154.8" y1="630.77" x2="154.8" y2="638.3" stroke="#E9C45C" stroke-width="0.8"/>
<line x1="152.8" y1="630.77" x2="156.8" y2="630.77" stroke="#E9C45C" stroke-width="0.8"/>
<line x1="152.8" y1="638.3" x2="156.8" y2="638.3" stroke="#E9C45C" stroke-width="0.8"/>
<line x1="200.9" y1="618.84" x2="200.9" y2="625.12" stroke="#E9C45C" stroke-width="0.8"/>
<line x1="198.9" y1="618.84" x2="202.9" y2="618.84" stroke="#E9C45C" stroke-width="0.8"/>
<line x1="198.9" y1="625.12" x2="202.9" y2="625.12" stroke="#E9C45C" stroke-width="0.8"/>
<circle cx="62.6" cy="657.75" r="2.6" fill="#E9C45C" stroke="none" stroke-width="0.5"/>
<circle cx="108.7" cy="647.08" r="2.6" fill="#E9C45C" stroke="none" stroke-width="0.5"/>
<circle cx="154.8" cy="634.53" r="2.6" fill="#E9C45C" stroke="none" stroke-width="0.5"/>
<circle cx="200.9" cy="621.98" r="2.6" fill="#E9C45C" stroke="none" stroke-width="0.5"/>
<path d="M62.6 657.75 L108.7 653.36 L154.8 647.08 L200.9 642.06" fill="none" stroke="#CC8195" stroke-width="1.4"/>
<line x1="62.6" y1="657.12" x2="62.6" y2="658.38" stroke="#CC8195" stroke-width="0.8"/>
<line x1="60.6" y1="657.12" x2="64.6" y2="657.12" stroke="#CC8195" stroke-width="0.8"/>
<line x1="60.6" y1="658.38" x2="64.6" y2="658.38" stroke="#CC8195" stroke-width="0.8"/>
<line x1="108.7" y1="652.73" x2="108.7" y2="653.99" stroke="#CC8195" stroke-width="0.8"/>
<line x1="106.7" y1="652.73" x2="110.7" y2="652.73" stroke="#CC8195" stroke-width="0.8"/>
<line x1="106.7" y1="653.99" x2="110.7" y2="653.99" stroke="#CC8195" stroke-width="0.8"/>
<line x1="154.8" y1="645.83" x2="154.8" y2="648.34" stroke="#CC8195" stroke-width="0.8"/>
<line x1="152.8" y1="645.83" x2="156.8" y2="645.83" stroke="#CC8195" stroke-width="0.8"/>
<line x1="152.8" y1="648.34" x2="156.8" y2="648.34" stroke="#CC8195" stroke-width="0.8"/>
<line x1="200.9" y1="638.3" x2="200.9" y2="645.83" stroke="#CC8195" stroke-width="0.8"/>
<line x1="198.9" y1="638.3" x2="202.9" y2="638.3" stroke="#CC8195" stroke-width="0.8"/>
<line x1="198.9" y1="645.83" x2="202.9" y2="645.83" stroke="#CC8195" stroke-width="0.8"/>
<circle cx="62.6" cy="657.75" r="2.6" fill="#CC8195" stroke="none" stroke-width="0.5"/>
<circle cx="108.7" cy="653.36" r="2.6" fill="#CC8195" stroke="none" stroke-width="0.5"/>
<circle cx="154.8" cy="647.08" r="2.6" fill="#CC8195" stroke="none" stroke-width="0.5"/>
<circle cx="200.9" cy="642.06" r="2.6" fill="#CC8195" stroke="none" stroke-width="0.5"/>
<path d="M62.6 657.75 L108.7 648.34 L154.8 636.41 L200.9 612.57" fill="none" stroke="#8490D0" stroke-width="1.4"/>
<line x1="62.6" y1="657.12" x2="62.6" y2="658.38" stroke="#8490D0" stroke-width="0.8"/>
<line x1="60.6" y1="657.12" x2="64.6" y2="657.12" stroke="#8490D0" stroke-width="0.8"/>
<line x1="60.6" y1="658.38" x2="64.6" y2="658.38" stroke="#8490D0" stroke-width="0.8"/>
<line x1="108.7" y1="647.08" x2="108.7" y2="649.59" stroke="#8490D0" stroke-width="0.8"/>
<line x1="106.7" y1="647.08" x2="110.7" y2="647.08" stroke="#8490D0" stroke-width="0.8"/>
<line x1="106.7" y1="649.59" x2="110.7" y2="649.59" stroke="#8490D0" stroke-width="0.8"/>
<line x1="154.8" y1="634.53" x2="154.8" y2="638.3" stroke="#8490D0" stroke-width="0.8"/>
<line x1="152.8" y1="634.53" x2="156.8" y2="634.53" stroke="#8490D0" stroke-width="0.8"/>
<line x1="152.8" y1="638.3" x2="156.8" y2="638.3" stroke="#8490D0" stroke-width="0.8"/>
<line x1="200.9" y1="606.29" x2="200.9" y2="618.84" stroke="#8490D0" stroke-width="0.8"/>
<line x1="198.9" y1="606.29" x2="202.9" y2="606.29" stroke="#8490D0" stroke-width="0.8"/>
<line x1="198.9" y1="618.84" x2="202.9" y2="618.84" stroke="#8490D0" stroke-width="0.8"/>
<circle cx="62.6" cy="657.75" r="2.6" fill="#8490D0" stroke="none" stroke-width="0.5"/>
<circle cx="108.7" cy="648.34" r="2.6" fill="#8490D0" stroke="none" stroke-width="0.5"/>
<circle cx="154.8" cy="636.41" r="2.6" fill="#8490D0" stroke="none" stroke-width="0.5"/>
<circle cx="200.9" cy="612.57" r="2.6" fill="#8490D0" stroke="none" stroke-width="0.5"/>
<line x1="69" y1="570.2" x2="79.4" y2="570.2" stroke="#8490D0" stroke-width="1.4"/>
<circle cx="74.2" cy="570.2" r="2.5" fill="#8490D0" stroke="none" stroke-width="0.5"/>
<text x="85.9" y="572.5" font-size="6.8" text-anchor="start" fill="#333" stroke="#333" stroke-width="0.15">shNC</text>
<line x1="69" y1="583.63" x2="79.4" y2="583.63" stroke="#CC8195" stroke-width="1.4"/>
<circle cx="74.2" cy="583.63" r="2.5" fill="#CC8195" stroke="none" stroke-width="0.5"/>
<text x="85.9" y="585.93" font-size="6.8" text-anchor="start" fill="#333" stroke="#333" stroke-width="0.15">sh-GABPA</text>
<line x1="69" y1="597.06" x2="79.4" y2="597.06" stroke="#E9C45C" stroke-width="1.4"/>
<circle cx="74.2" cy="597.06" r="2.5" fill="#E9C45C" stroke="none" stroke-width="0.5"/>
<text x="85.9" y="599.36" font-size="6.8" text-anchor="start" fill="#333" stroke="#333" stroke-width="0.15">Vector</text>
<line x1="69" y1="610.49" x2="79.4" y2="610.49" stroke="#5DB698" stroke-width="1.4"/>
<circle cx="74.2" cy="610.49" r="2.5" fill="#5DB698" stroke="none" stroke-width="0.5"/>
<text x="85.9" y="612.79" font-size="6.8" text-anchor="start" fill="#333" stroke="#333" stroke-width="0.15">OE-GABPA</text>
<line x1="207.4" y1="581.19" x2="207.4" y2="611.94" stroke="#5DB698" stroke-width="0.6" stroke-dasharray="1.2 1"/>
<text x="205.95" y="596.25" font-size="7" font-weight="bold" text-anchor="middle" fill="#333" transform="rotate(90 205.95 596.25)">**</text>
<line x1="207.4" y1="621.98" x2="207.4" y2="642.06" stroke="#CC8195" stroke-width="0.6" stroke-dasharray="1.2 1"/>
<text x="205.95" y="632.02" font-size="7" font-weight="bold" text-anchor="middle" fill="#333" transform="rotate(90 205.95 632.02)">*</text>
<text x="132" y="557" font-size="8" font-weight="bold" text-anchor="middle" fill="#111">A549</text>
<text x="132.6" y="693.6" font-size="6.7" font-weight="bold" text-anchor="middle" fill="#222">Time(h)</text>
<text x="34.4" y="621.7" font-size="6.9" font-weight="bold" text-anchor="middle" fill="#222" transform="rotate(-90 34.4 621.7)">OD Value(  450nm)</text>
<text x="24.95" y="742.3" font-size="16.5" font-weight="bold" text-anchor="start" fill="#1f1513">J</text>
<text x="134" y="736.4" font-size="8.2" font-weight="bold" text-anchor="middle" fill="#111">LDH Release of A549</text>
<line x1="55.6" y1="748.8" x2="55.6" y2="850.4" stroke="#111" stroke-width="1.45"/>
<line x1="54.9" y1="849.7" x2="212.6" y2="849.7" stroke="#111" stroke-width="1.45"/>
<line x1="52.4" y1="849.7" x2="55.6" y2="849.7" stroke="#111" stroke-width="1.1"/>
<text x="49.8" y="852.3" font-size="7.3" font-weight="bold" text-anchor="end" fill="#222">0</text>
<line x1="52.4" y1="829.66" x2="55.6" y2="829.66" stroke="#111" stroke-width="1.1"/>
<text x="49.8" y="832.26" font-size="7.3" font-weight="bold" text-anchor="end" fill="#222">20</text>
<line x1="52.4" y1="809.62" x2="55.6" y2="809.62" stroke="#111" stroke-width="1.1"/>
<text x="49.8" y="812.22" font-size="7.3" font-weight="bold" text-anchor="end" fill="#222">40</text>
<line x1="52.4" y1="789.58" x2="55.6" y2="789.58" stroke="#111" stroke-width="1.1"/>
<text x="49.8" y="792.18" font-size="7.3" font-weight="bold" text-anchor="end" fill="#222">60</text>
<line x1="52.4" y1="769.54" x2="55.6" y2="769.54" stroke="#111" stroke-width="1.1"/>
<text x="49.8" y="772.14" font-size="7.3" font-weight="bold" text-anchor="end" fill="#222">80</text>
<line x1="52.4" y1="749.5" x2="55.6" y2="749.5" stroke="#111" stroke-width="1.1"/>
<text x="49.8" y="752.1" font-size="7.3" font-weight="bold" text-anchor="end" fill="#222">100</text>
<line x1="82.2" y1="849.7" x2="82.2" y2="852.9" stroke="#111" stroke-width="0.9"/>
<text x="82.2" y="862.1" font-size="7.3" font-weight="bold" text-anchor="middle" fill="#222">0</text>
<rect x="59.05" y="841.68" width="10.6" height="8.02" fill="#fff" stroke="#CF8598" stroke-width="0.9"/>
<circle cx="60.47" cy="841.84" r="2.15" fill="#CF8598" stroke="#333" stroke-width="0.45"/>
<circle cx="62.65" cy="841.53" r="2.15" fill="#CF8598" stroke="#333" stroke-width="0.45"/>
<circle cx="62.8" cy="842.54" r="2.15" fill="#CF8598" stroke="#333" stroke-width="0.45"/>
<circle cx="64.44" cy="841.7" r="2.15" fill="#CF8598" stroke="#333" stroke-width="0.45"/>
<circle cx="66.73" cy="841.77" r="2.15" fill="#CF8598" stroke="#333" stroke-width="0.45"/>
<circle cx="67.97" cy="841.76" r="2.15" fill="#CF8598" stroke="#333" stroke-width="0.45"/>
<rect x="70.95" y="841.68" width="10.6" height="8.02" fill="#fff" stroke="#8B94D6" stroke-width="0.9"/>
<circle cx="72.76" cy="842.3" r="2.15" fill="#8B94D6" stroke="#333" stroke-width="0.45"/>
<circle cx="73.41" cy="841.49" r="2.15" fill="#8B94D6" stroke="#333" stroke-width="0.45"/>
<circle cx="75.07" cy="841.32" r="2.15" fill="#8B94D6" stroke="#333" stroke-width="0.45"/>
<circle cx="77.69" cy="841.38" r="2.15" fill="#8B94D6" stroke="#333" stroke-width="0.45"/>
<circle cx="78.68" cy="841.62" r="2.15" fill="#8B94D6" stroke="#333" stroke-width="0.45"/>
<circle cx="80.46" cy="842.07" r="2.15" fill="#8B94D6" stroke="#333" stroke-width="0.45"/>
<rect x="82.85" y="841.68" width="10.6" height="8.02" fill="#fff" stroke="#ECC556" stroke-width="0.9"/>
<circle cx="83.7" cy="841.84" r="2.15" fill="#ECC556" stroke="#333" stroke-width="0.45"/>
<circle cx="86.22" cy="841.1" r="2.15" fill="#ECC556" stroke="#333" stroke-width="0.45"/>
<circle cx="87.26" cy="841.42" r="2.15" fill="#ECC556" stroke="#333" stroke-width="0.45"/>
<circle cx="88.45" cy="841.52" r="2.15" fill="#ECC556" stroke="#333" stroke-width="0.45"/>
<circle cx="90.09" cy="841.59" r="2.15" fill="#ECC556" stroke="#333" stroke-width="0.45"/>
<circle cx="92.58" cy="841.93" r="2.15" fill="#ECC556" stroke="#333" stroke-width="0.45"/>
<rect x="94.75" y="841.68" width="10.6" height="8.02" fill="#fff" stroke="#79C7AE" stroke-width="0.9"/>
<circle cx="96.84" cy="841.32" r="2.15" fill="#79C7AE" stroke="#333" stroke-width="0.45"/>
<circle cx="97.75" cy="841.55" r="2.15" fill="#79C7AE" stroke="#333" stroke-width="0.45"/>
<circle cx="98.52" cy="842.46" r="2.15" fill="#79C7AE" stroke="#333" stroke-width="0.45"/>
<circle cx="100.19" cy="841.29" r="2.15" fill="#79C7AE" stroke="#333" stroke-width="0.45"/>
<circle cx="102.49" cy="841.3" r="2.15" fill="#79C7AE" stroke="#333" stroke-width="0.45"/>
<circle cx="104.5" cy="841.32" r="2.15" fill="#79C7AE" stroke="#333" stroke-width="0.45"/>
<line x1="133.4" y1="849.7" x2="133.4" y2="852.9" stroke="#111" stroke-width="0.9"/>
<text x="133.4" y="862.1" font-size="7.3" font-weight="bold" text-anchor="middle" fill="#222">24</text>
<rect x="110.25" y="812.63" width="10.6" height="37.07" fill="#fff" stroke="#CF8598" stroke-width="0.9"/>
<circle cx="111.26" cy="811.54" r="2.15" fill="#CF8598" stroke="#333" stroke-width="0.45"/>
<circle cx="113.32" cy="812.57" r="2.15" fill="#CF8598" stroke="#333" stroke-width="0.45"/>
<circle cx="114.01" cy="810" r="2.15" fill="#CF8598" stroke="#333" stroke-width="0.45"/>
<circle cx="116.99" cy="811.07" r="2.15" fill="#CF8598" stroke="#333" stroke-width="0.45"/>
<circle cx="117.71" cy="815.61" r="2.15" fill="#CF8598" stroke="#333" stroke-width="0.45"/>
<circle cx="118.72" cy="810.41" r="2.15" fill="#CF8598" stroke="#333" stroke-width="0.45"/>
<line x1="115.55" y1="809.76" x2="115.55" y2="815.49" stroke="#222" stroke-width="0.7"/>
<line x1="113.55" y1="809.76" x2="117.55" y2="809.76" stroke="#222" stroke-width="0.7"/>
<rect x="122.15" y="803.61" width="10.6" height="46.09" fill="#fff" stroke="#8B94D6" stroke-width="0.9"/>
<circle cx="123.76" cy="801.94" r="2.15" fill="#8B94D6" stroke="#333" stroke-width="0.45"/>
<circle cx="125.89" cy="800.45" r="2.15" fill="#8B94D6" stroke="#333" stroke-width="0.45"/>
<circle cx="125.97" cy="806.95" r="2.15" fill="#8B94D6" stroke="#333" stroke-width="0.45"/>
<circle cx="127.65" cy="804.81" r="2.15" fill="#8B94D6" stroke="#333" stroke-width="0.45"/>
<circle cx="129.37" cy="794.44" r="2.15" fill="#8B94D6" stroke="#333" stroke-width="0.45"/>
<circle cx="130.66" cy="803.9" r="2.15" fill="#8B94D6" stroke="#333" stroke-width="0.45"/>
<line x1="127.45" y1="800.74" x2="127.45" y2="806.47" stroke="#222" stroke-width="0.7"/>
<line x1="125.45" y1="800.74" x2="129.45" y2="800.74" stroke="#222" stroke-width="0.7"/>
<rect x="134.05" y="811.62" width="10.6" height="38.08" fill="#fff" stroke="#ECC556" stroke-width="0.9"/>
<circle cx="135.86" cy="809.8" r="2.15" fill="#ECC556" stroke="#333" stroke-width="0.45"/>
<circle cx="137.24" cy="812.21" r="2.15" fill="#ECC556" stroke="#333" stroke-width="0.45"/>
<circle cx="137.86" cy="814.22" r="2.15" fill="#ECC556" stroke="#333" stroke-width="0.45"/>
<circle cx="140.26" cy="808.71" r="2.15" fill="#ECC556" stroke="#333" stroke-width="0.45"/>
<circle cx="142.08" cy="809.57" r="2.15" fill="#ECC556" stroke="#333" stroke-width="0.45"/>
<circle cx="143.75" cy="810.38" r="2.15" fill="#ECC556" stroke="#333" stroke-width="0.45"/>
<line x1="139.35" y1="808.76" x2="139.35" y2="814.49" stroke="#222" stroke-width="0.7"/>
<line x1="137.35" y1="808.76" x2="141.35" y2="808.76" stroke="#222" stroke-width="0.7"/>
<rect x="145.95" y="823.65" width="10.6" height="26.05" fill="#fff" stroke="#79C7AE" stroke-width="0.9"/>
<circle cx="147.57" cy="826.17" r="2.15" fill="#79C7AE" stroke="#333" stroke-width="0.45"/>
<circle cx="149.74" cy="822.85" r="2.15" fill="#79C7AE" stroke="#333" stroke-width="0.45"/>
<circle cx="150.61" cy="819.01" r="2.15" fill="#79C7AE" stroke="#333" stroke-width="0.45"/>
<circle cx="151.74" cy="823.11" r="2.15" fill="#79C7AE" stroke="#333" stroke-width="0.45"/>
<circle cx="153.43" cy="823.01" r="2.15" fill="#79C7AE" stroke="#333" stroke-width="0.45"/>
<circle cx="154.79" cy="820.9" r="2.15" fill="#79C7AE" stroke="#333" stroke-width="0.45"/>
<line x1="151.25" y1="820.78" x2="151.25" y2="826.51" stroke="#222" stroke-width="0.7"/>
<line x1="149.25" y1="820.78" x2="153.25" y2="820.78" stroke="#222" stroke-width="0.7"/>
<line x1="184.6" y1="849.7" x2="184.6" y2="852.9" stroke="#111" stroke-width="0.9"/>
<text x="184.6" y="862.1" font-size="7.3" font-weight="bold" text-anchor="middle" fill="#222">48</text>
<rect x="161.45" y="793.59" width="10.6" height="56.11" fill="#fff" stroke="#CF8598" stroke-width="0.9"/>
<circle cx="162.28" cy="794.42" r="2.15" fill="#CF8598" stroke="#333" stroke-width="0.45"/>
<circle cx="164.91" cy="794.47" r="2.15" fill="#CF8598" stroke="#333" stroke-width="0.45"/>
<circle cx="165.23" cy="792.68" r="2.15" fill="#CF8598" stroke="#333" stroke-width="0.45"/>
<circle cx="167.51" cy="798.23" r="2.15" fill="#CF8598" stroke="#333" stroke-width="0.45"/>
<circle cx="169.37" cy="793.54" r="2.15" fill="#CF8598" stroke="#333" stroke-width="0.45"/>
<circle cx="170.45" cy="789.33" r="2.15" fill="#CF8598" stroke="#333" stroke-width="0.45"/>
<line x1="166.75" y1="790.72" x2="166.75" y2="796.45" stroke="#222" stroke-width="0.7"/>
<line x1="164.75" y1="790.72" x2="168.75" y2="790.72" stroke="#222" stroke-width="0.7"/>
<rect x="173.35" y="781.56" width="10.6" height="68.14" fill="#fff" stroke="#8B94D6" stroke-width="0.9"/>
<circle cx="174.4" cy="778.99" r="2.15" fill="#8B94D6" stroke="#333" stroke-width="0.45"/>
<circle cx="176.16" cy="782.15" r="2.15" fill="#8B94D6" stroke="#333" stroke-width="0.45"/>
<circle cx="178.46" cy="784.2" r="2.15" fill="#8B94D6" stroke="#333" stroke-width="0.45"/>
<circle cx="178.89" cy="778.74" r="2.15" fill="#8B94D6" stroke="#333" stroke-width="0.45"/>
<circle cx="181.49" cy="781.61" r="2.15" fill="#8B94D6" stroke="#333" stroke-width="0.45"/>
<circle cx="183.23" cy="780.73" r="2.15" fill="#8B94D6" stroke="#333" stroke-width="0.45"/>
<line x1="178.65" y1="778.7" x2="178.65" y2="784.43" stroke="#222" stroke-width="0.7"/>
<line x1="176.65" y1="778.7" x2="180.65" y2="778.7" stroke="#222" stroke-width="0.7"/>
<rect x="185.25" y="794.59" width="10.6" height="55.11" fill="#fff" stroke="#ECC556" stroke-width="0.9"/>
<circle cx="186.21" cy="787.39" r="2.15" fill="#ECC556" stroke="#333" stroke-width="0.45"/>
<circle cx="188.43" cy="797.1" r="2.15" fill="#ECC556" stroke="#333" stroke-width="0.45"/>
<circle cx="189.01" cy="792.94" r="2.15" fill="#ECC556" stroke="#333" stroke-width="0.45"/>
<circle cx="191.14" cy="793.92" r="2.15" fill="#ECC556" stroke="#333" stroke-width="0.45"/>
<circle cx="193.02" cy="792.21" r="2.15" fill="#ECC556" stroke="#333" stroke-width="0.45"/>
<circle cx="193.79" cy="795.1" r="2.15" fill="#ECC556" stroke="#333" stroke-width="0.45"/>
<line x1="190.55" y1="791.72" x2="190.55" y2="797.46" stroke="#222" stroke-width="0.7"/>
<line x1="188.55" y1="791.72" x2="192.55" y2="791.72" stroke="#222" stroke-width="0.7"/>
<rect x="197.15" y="813.63" width="10.6" height="36.07" fill="#fff" stroke="#79C7AE" stroke-width="0.9"/>
<circle cx="198.73" cy="812.91" r="2.15" fill="#79C7AE" stroke="#333" stroke-width="0.45"/>
<circle cx="200.25" cy="812.79" r="2.15" fill="#79C7AE" stroke="#333" stroke-width="0.45"/>
<circle cx="202" cy="811.01" r="2.15" fill="#79C7AE" stroke="#333" stroke-width="0.45"/>
<circle cx="203.54" cy="812.48" r="2.15" fill="#79C7AE" stroke="#333" stroke-width="0.45"/>
<circle cx="205.16" cy="817.66" r="2.15" fill="#79C7AE" stroke="#333" stroke-width="0.45"/>
<circle cx="205.74" cy="809.98" r="2.15" fill="#79C7AE" stroke="#333" stroke-width="0.45"/>
<line x1="202.45" y1="810.76" x2="202.45" y2="816.49" stroke="#222" stroke-width="0.7"/>
<line x1="200.45" y1="810.76" x2="204.45" y2="810.76" stroke="#222" stroke-width="0.7"/>
<line x1="61.35" y1="837.18" x2="79.25" y2="837.18" stroke="#aaa" stroke-width="0.5" stroke-dasharray="1 0.6"/>
<text x="70.3" y="834.28" font-size="6.1" text-anchor="middle" fill="#555" stroke="#555" stroke-width="0.13">ns</text>
<line x1="85.15" y1="837.18" x2="103.05" y2="837.18" stroke="#aaa" stroke-width="0.5" stroke-dasharray="1 0.6"/>
<text x="94.1" y="834.28" font-size="6.1" text-anchor="middle" fill="#555" stroke="#555" stroke-width="0.13">ns</text>
<line x1="112.55" y1="793.09" x2="130.45" y2="793.09" stroke="#aaa" stroke-width="0.5" stroke-dasharray="1 0.6"/>
<text x="121.5" y="793.49" font-size="7.5" font-weight="bold" text-anchor="middle" fill="#222">****</text>
<line x1="136.35" y1="802.11" x2="154.25" y2="802.11" stroke="#aaa" stroke-width="0.5" stroke-dasharray="1 0.6"/>
<text x="145.3" y="802.5" font-size="7.5" font-weight="bold" text-anchor="middle" fill="#222">****</text>
<line x1="163.75" y1="766.03" x2="181.65" y2="766.03" stroke="#aaa" stroke-width="0.5" stroke-dasharray="1 0.6"/>
<text x="172.7" y="766.43" font-size="7.5" font-weight="bold" text-anchor="middle" fill="#222">****</text>
<line x1="187.55" y1="785.07" x2="205.45" y2="785.07" stroke="#aaa" stroke-width="0.5" stroke-dasharray="1 0.6"/>
<text x="196.5" y="785.47" font-size="7.5" font-weight="bold" text-anchor="middle" fill="#222">****</text>
<circle cx="64.7" cy="747.8" r="2.1" fill="#CF8598" stroke="#444" stroke-width="0.45"/>
<text x="75.7" y="750.2" font-size="6.8" text-anchor="start" fill="#333" stroke="#333" stroke-width="0.15">shNC</text>
<circle cx="64.7" cy="757.27" r="2.1" fill="#8B94D6" stroke="#444" stroke-width="0.45"/>
<text x="75.7" y="759.67" font-size="6.8" text-anchor="start" fill="#333" stroke="#333" stroke-width="0.15">sh-GABPA</text>
<circle cx="64.7" cy="766.74" r="2.1" fill="#ECC556" stroke="#444" stroke-width="0.45"/>
<text x="75.7" y="769.14" font-size="6.8" text-anchor="start" fill="#333" stroke="#333" stroke-width="0.15">Vector</text>
<circle cx="64.7" cy="776.21" r="2.1" fill="#79C7AE" stroke="#444" stroke-width="0.45"/>
<text x="75.7" y="778.61" font-size="6.8" text-anchor="start" fill="#333" stroke="#333" stroke-width="0.15">OE-GABPA</text>
<text x="32.5" y="799.5" font-size="6.85" font-weight="bold" text-anchor="middle" fill="#222" transform="rotate(-90 32.5 799.5)">Percentage of Total(%)</text>
<text x="133.5" y="874.2" font-size="6.7" font-weight="bold" text-anchor="middle" fill="#222">Time(h)</text>
<text x="240" y="559.3" font-size="16.5" font-weight="bold" text-anchor="start" fill="#1f1513">K</text>
<rect x="258.5" y="551.5" width="124.5" height="123.8" fill="#fff" stroke="#333" stroke-width="0.8"/>
<line x1="258.5" y1="601.8" x2="383" y2="601.8" stroke="#62AE43" stroke-width="0.7"/>
<line x1="258.5" y1="627.2" x2="383" y2="627.2" stroke="#3F74BC" stroke-width="0.7"/>
<line x1="258.5" y1="650.8" x2="383" y2="650.8" stroke="#C4823E" stroke-width="0.7"/>
<line x1="258.5" y1="674.6" x2="383" y2="674.6" stroke="#C23745" stroke-width="0.7"/>
<path d="M267.12 601.8 L267.12 601.8 L268.03 601.8 L268.93 601.8 L269.83 601.8 L270.73 601.8 L271.63 601.8 L272.53 601.8 L273.43 601.8 L274.34 601.8 L275.24 601.8 L276.14 601.8 L277.04 601.8 L277.94 601.79 L278.84 601.79 L279.74 601.78 L280.64 601.76 L281.55 601.73 L282.45 601.69 L283.35 601.63 L284.25 601.53 L285.15 601.4 L286.05 601.2 L286.95 600.92 L287.85 600.55 L288.76 600.05 L289.66 599.4 L290.56 598.59 L291.46 597.58 L292.36 596.37 L293.26 594.96 L294.16 593.36 L295.07 591.59 L295.97 589.72 L296.87 587.79 L297.77 585.89 L298.67 584.09 L299.57 582.48 L300.47 581.13 L301.37 580.08 L302.28 579.38 L303.18 579.01 L304.08 578.95 L304.98 579.15 L305.88 579.54 L306.78 580.09 L307.68 580.77 L308.58 581.57 L309.49 582.54 L310.39 583.71 L311.29 585.11 L312.19 586.74 L313.09 588.59 L313.99 590.56 L314.89 592.56 L315.79 594.49 L316.7 596.23 L317.6 597.73 L318.5 598.94 L319.4 599.87 L320.3 600.55 L321.2 601.02 L322.1 601.33 L323.01 601.53 L323.91 601.65 L324.81 601.72 L325.71 601.76 L326.61 601.78 L327.51 601.79 L328.41 601.79 L329.31 601.8 L330.22 601.8 L331.12 601.8 L332.02 601.8 L332.92 601.8 L333.82 601.8 L334.72 601.79 L335.62 601.77 L336.52 601.69 L337.43 601.42 L338.33 600.64 L339.23 598.77 L340.13 595.09 L341.03 589.12 L341.93 581.39 L342.83 573.69 L343.73 568.47 L344.64 567.3 L345.54 569.78 L346.44 573.79 L347.34 577.02 L348.24 578.34 L349.14 578.11 L350.04 577.48 L350.95 577.58 L351.85 578.99 L352.75 581.7 L353.65 585.31 L354.55 589.21 L355.45 592.86 L356.35 595.9 L357.25 598.18 L358.16 599.73 L359.06 600.7 L359.96 601.26 L360.86 601.55 L361.76 601.69 L362.66 601.76 L363.56 601.78 L364.46 601.79 L365.37 601.8 L366.27 601.8 L367.17 601.8 L368.07 601.8 L368.97 601.8 L369.87 601.8 L370.77 601.8 L371.67 601.8 L372.58 601.8 L373.48 601.8 L374.38 601.8 L375.28 601.8 L375.28 601.8 Z" fill="#8FCB6B" stroke="none" stroke-width="1" fill-opacity="0.8"/>
<path d="M267.12 601.8 L268.03 601.8 L268.93 601.8 L269.83 601.8 L270.73 601.8 L271.63 601.8 L272.53 601.8 L273.43 601.8 L274.34 601.8 L275.24 601.8 L276.14 601.8 L277.04 601.8 L277.94 601.79 L278.84 601.79 L279.74 601.78 L280.64 601.76 L281.55 601.73 L282.45 601.69 L283.35 601.63 L284.25 601.53 L285.15 601.4 L286.05 601.2 L286.95 600.92 L287.85 600.55 L288.76 600.05 L289.66 599.4 L290.56 598.59 L291.46 597.58 L292.36 596.37 L293.26 594.96 L294.16 593.36 L295.07 591.59 L295.97 589.72 L296.87 587.79 L297.77 585.89 L298.67 584.09 L299.57 582.48 L300.47 581.13 L301.37 580.08 L302.28 579.38 L303.18 579.01 L304.08 578.95 L304.98 579.15 L305.88 579.54 L306.78 580.09 L307.68 580.77 L308.58 581.57 L309.49 582.54 L310.39 583.71 L311.29 585.11 L312.19 586.74 L313.09 588.59 L313.99 590.56 L314.89 592.56 L315.79 594.49 L316.7 596.23 L317.6 597.73 L318.5 598.94 L319.4 599.87 L320.3 600.55 L321.2 601.02 L322.1 601.33 L323.01 601.53 L323.91 601.65 L324.81 601.72 L325.71 601.76 L326.61 601.78 L327.51 601.79 L328.41 601.79 L329.31 601.8 L330.22 601.8 L331.12 601.8 L332.02 601.8 L332.92 601.8 L333.82 601.8 L334.72 601.79 L335.62 601.77 L336.52 601.69 L337.43 601.42 L338.33 600.64 L339.23 598.77 L340.13 595.09 L341.03 589.12 L341.93 581.39 L342.83 573.69 L343.73 568.47 L344.64 567.3 L345.54 569.78 L346.44 573.79 L347.34 577.02 L348.24 578.34 L349.14 578.11 L350.04 577.48 L350.95 577.58 L351.85 578.99 L352.75 581.7 L353.65 585.31 L354.55 589.21 L355.45 592.86 L356.35 595.9 L357.25 598.18 L358.16 599.73 L359.06 600.7 L359.96 601.26 L360.86 601.55 L361.76 601.69 L362.66 601.76 L363.56 601.78 L364.46 601.79 L365.37 601.8 L366.27 601.8 L367.17 601.8 L368.07 601.8 L368.97 601.8 L369.87 601.8 L370.77 601.8 L371.67 601.8 L372.58 601.8 L373.48 601.8 L374.38 601.8 L375.28 601.8" fill="none" stroke="#62AE43" stroke-width="0.7"/>
<path d="M267.12 627.2 L267.12 627.2 L268.03 627.2 L268.93 627.2 L269.83 627.2 L270.73 627.2 L271.63 627.2 L272.53 627.2 L273.43 627.2 L274.34 627.2 L275.24 627.2 L276.14 627.2 L277.04 627.2 L277.94 627.2 L278.84 627.2 L279.74 627.2 L280.64 627.2 L281.55 627.2 L282.45 627.2 L283.35 627.19 L284.25 627.19 L285.15 627.18 L286.05 627.15 L286.95 627.12 L287.85 627.06 L288.76 626.97 L289.66 626.82 L290.56 626.6 L291.46 626.27 L292.36 625.79 L293.26 625.13 L294.16 624.23 L295.07 623.04 L295.97 621.54 L296.87 619.7 L297.77 617.51 L298.67 615 L299.57 612.25 L300.47 609.34 L301.37 606.41 L302.28 603.63 L303.18 601.17 L304.08 599.17 L304.98 597.79 L305.88 597.1 L306.78 597.11 L307.68 597.79 L308.58 599.01 L309.49 600.63 L310.39 602.47 L311.29 604.42 L312.19 606.38 L313.09 608.34 L313.99 610.35 L314.89 612.44 L315.79 614.62 L316.7 616.86 L317.6 619.05 L318.5 621.07 L319.4 622.82 L320.3 624.24 L321.2 625.3 L322.1 626.04 L323.01 626.53 L323.91 626.83 L324.81 627 L325.71 627.1 L326.61 627.15 L327.51 627.17 L328.41 627.19 L329.31 627.19 L330.22 627.2 L331.12 627.2 L332.02 627.2 L332.92 627.2 L333.82 627.2 L334.72 627.2 L335.62 627.2 L336.52 627.18 L337.43 627.12 L338.33 626.88 L339.23 626.17 L340.13 624.46 L341.03 621.23 L341.93 616.51 L342.83 611.42 L343.73 607.88 L344.64 607.29 L345.54 609.31 L346.44 612.18 L347.34 614.14 L348.24 614.58 L349.14 614 L350.04 613.3 L350.95 613.17 L351.85 613.92 L352.75 615.49 L353.65 617.58 L354.55 619.86 L355.45 621.99 L356.35 623.76 L357.25 625.09 L358.16 625.99 L359.06 626.56 L359.96 626.88 L360.86 627.05 L361.76 627.14 L362.66 627.18 L363.56 627.19 L364.46 627.2 L365.37 627.2 L366.27 627.2 L367.17 627.2 L368.07 627.2 L368.97 627.2 L369.87 627.2 L370.77 627.2 L371.67 627.2 L372.58 627.2 L373.48 627.2 L374.38 627.2 L375.28 627.2 L375.28 627.2 Z" fill="#6F9FD6" stroke="none" stroke-width="1" fill-opacity="0.8"/>
<path d="M267.12 627.2 L268.03 627.2 L268.93 627.2 L269.83 627.2 L270.73 627.2 L271.63 627.2 L272.53 627.2 L273.43 627.2 L274.34 627.2 L275.24 627.2 L276.14 627.2 L277.04 627.2 L277.94 627.2 L278.84 627.2 L279.74 627.2 L280.64 627.2 L281.55 627.2 L282.45 627.2 L283.35 627.19 L284.25 627.19 L285.15 627.18 L286.05 627.15 L286.95 627.12 L287.85 627.06 L288.76 626.97 L289.66 626.82 L290.56 626.6 L291.46 626.27 L292.36 625.79 L293.26 625.13 L294.16 624.23 L295.07 623.04 L295.97 621.54 L296.87 619.7 L297.77 617.51 L298.67 615 L299.57 612.25 L300.47 609.34 L301.37 606.41 L302.28 603.63 L303.18 601.17 L304.08 599.17 L304.98 597.79 L305.88 597.1 L306.78 597.11 L307.68 597.79 L308.58 599.01 L309.49 600.63 L310.39 602.47 L311.29 604.42 L312.19 606.38 L313.09 608.34 L313.99 610.35 L314.89 612.44 L315.79 614.62 L316.7 616.86 L317.6 619.05 L318.5 621.07 L319.4 622.82 L320.3 624.24 L321.2 625.3 L322.1 626.04 L323.01 626.53 L323.91 626.83 L324.81 627 L325.71 627.1 L326.61 627.15 L327.51 627.17 L328.41 627.19 L329.31 627.19 L330.22 627.2 L331.12 627.2 L332.02 627.2 L332.92 627.2 L333.82 627.2 L334.72 627.2 L335.62 627.2 L336.52 627.18 L337.43 627.12 L338.33 626.88 L339.23 626.17 L340.13 624.46 L341.03 621.23 L341.93 616.51 L342.83 611.42 L343.73 607.88 L344.64 607.29 L345.54 609.31 L346.44 612.18 L347.34 614.14 L348.24 614.58 L349.14 614 L350.04 613.3 L350.95 613.17 L351.85 613.92 L352.75 615.49 L353.65 617.58 L354.55 619.86 L355.45 621.99 L356.35 623.76 L357.25 625.09 L358.16 625.99 L359.06 626.56 L359.96 626.88 L360.86 627.05 L361.76 627.14 L362.66 627.18 L363.56 627.19 L364.46 627.2 L365.37 627.2 L366.27 627.2 L367.17 627.2 L368.07 627.2 L368.97 627.2 L369.87 627.2 L370.77 627.2 L371.67 627.2 L372.58 627.2 L373.48 627.2 L374.38 627.2 L375.28 627.2" fill="none" stroke="#3F74BC" stroke-width="0.7"/>
<path d="M267.12 650.8 L267.12 650.8 L268.03 650.8 L268.93 650.8 L269.83 650.8 L270.73 650.8 L271.63 650.8 L272.53 650.8 L273.43 650.8 L274.34 650.8 L275.24 650.8 L276.14 650.8 L277.04 650.8 L277.94 650.8 L278.84 650.8 L279.74 650.79 L280.64 650.79 L281.55 650.78 L282.45 650.77 L283.35 650.74 L284.25 650.71 L285.15 650.66 L286.05 650.57 L286.95 650.45 L287.85 650.28 L288.76 650.03 L289.66 649.69 L290.56 649.24 L291.46 648.64 L292.36 647.87 L293.26 646.91 L294.16 645.75 L295.07 644.37 L295.97 642.79 L296.87 641.02 L297.77 639.11 L298.67 637.12 L299.57 635.11 L300.47 633.19 L301.37 631.43 L302.28 629.93 L303.18 628.76 L304.08 627.99 L304.98 627.64 L305.88 627.68 L306.78 628.08 L307.68 628.74 L308.58 629.58 L309.49 630.5 L310.39 631.47 L311.29 632.5 L312.19 633.65 L313.09 634.99 L313.99 636.58 L314.89 638.42 L315.79 640.43 L316.7 642.49 L317.6 644.44 L318.5 646.17 L319.4 647.57 L320.3 648.65 L321.2 649.42 L322.1 649.94 L323.01 650.28 L323.91 650.49 L324.81 650.62 L325.71 650.69 L326.61 650.74 L327.51 650.76 L328.41 650.78 L329.31 650.79 L330.22 650.79 L331.12 650.8 L332.02 650.8 L332.92 650.8 L333.82 650.8 L334.72 650.8 L335.62 650.79 L336.52 650.75 L337.43 650.6 L338.33 650.13 L339.23 648.91 L340.13 646.27 L341.03 641.54 L341.93 634.64 L342.83 626.7 L343.73 619.88 L344.64 616.33 L345.54 616.72 L346.44 619.73 L347.34 623.15 L348.24 625.31 L349.14 625.96 L350.04 625.95 L350.95 626.38 L351.85 627.92 L352.75 630.69 L353.65 634.31 L354.55 638.21 L355.45 641.86 L356.35 644.9 L357.25 647.18 L358.16 648.73 L359.06 649.7 L359.96 650.26 L360.86 650.55 L361.76 650.69 L362.66 650.76 L363.56 650.78 L364.46 650.79 L365.37 650.8 L366.27 650.8 L367.17 650.8 L368.07 650.8 L368.97 650.8 L369.87 650.8 L370.77 650.8 L371.67 650.8 L372.58 650.8 L373.48 650.8 L374.38 650.8 L375.28 650.8 L375.28 650.8 Z" fill="#D9A068" stroke="none" stroke-width="1" fill-opacity="0.8"/>
<path d="M267.12 650.8 L268.03 650.8 L268.93 650.8 L269.83 650.8 L270.73 650.8 L271.63 650.8 L272.53 650.8 L273.43 650.8 L274.34 650.8 L275.24 650.8 L276.14 650.8 L277.04 650.8 L277.94 650.8 L278.84 650.8 L279.74 650.79 L280.64 650.79 L281.55 650.78 L282.45 650.77 L283.35 650.74 L284.25 650.71 L285.15 650.66 L286.05 650.57 L286.95 650.45 L287.85 650.28 L288.76 650.03 L289.66 649.69 L290.56 649.24 L291.46 648.64 L292.36 647.87 L293.26 646.91 L294.16 645.75 L295.07 644.37 L295.97 642.79 L296.87 641.02 L297.77 639.11 L298.67 637.12 L299.57 635.11 L300.47 633.19 L301.37 631.43 L302.28 629.93 L303.18 628.76 L304.08 627.99 L304.98 627.64 L305.88 627.68 L306.78 628.08 L307.68 628.74 L308.58 629.58 L309.49 630.5 L310.39 631.47 L311.29 632.5 L312.19 633.65 L313.09 634.99 L313.99 636.58 L314.89 638.42 L315.79 640.43 L316.7 642.49 L317.6 644.44 L318.5 646.17 L319.4 647.57 L320.3 648.65 L321.2 649.42 L322.1 649.94 L323.01 650.28 L323.91 650.49 L324.81 650.62 L325.71 650.69 L326.61 650.74 L327.51 650.76 L328.41 650.78 L329.31 650.79 L330.22 650.79 L331.12 650.8 L332.02 650.8 L332.92 650.8 L333.82 650.8 L334.72 650.8 L335.62 650.79 L336.52 650.75 L337.43 650.6 L338.33 650.13 L339.23 648.91 L340.13 646.27 L341.03 641.54 L341.93 634.64 L342.83 626.7 L343.73 619.88 L344.64 616.33 L345.54 616.72 L346.44 619.73 L347.34 623.15 L348.24 625.31 L349.14 625.96 L350.04 625.95 L350.95 626.38 L351.85 627.92 L352.75 630.69 L353.65 634.31 L354.55 638.21 L355.45 641.86 L356.35 644.9 L357.25 647.18 L358.16 648.73 L359.06 649.7 L359.96 650.26 L360.86 650.55 L361.76 650.69 L362.66 650.76 L363.56 650.78 L364.46 650.79 L365.37 650.8 L366.27 650.8 L367.17 650.8 L368.07 650.8 L368.97 650.8 L369.87 650.8 L370.77 650.8 L371.67 650.8 L372.58 650.8 L373.48 650.8 L374.38 650.8 L375.28 650.8" fill="none" stroke="#C4823E" stroke-width="0.7"/>
<path d="M267.12 674.6 L267.12 674.6 L268.03 674.6 L268.93 674.6 L269.83 674.6 L270.73 674.6 L271.63 674.6 L272.53 674.6 L273.43 674.6 L274.34 674.6 L275.24 674.6 L276.14 674.59 L277.04 674.58 L277.94 674.57 L278.84 674.54 L279.74 674.5 L280.64 674.42 L281.55 674.3 L282.45 674.1 L283.35 673.82 L284.25 673.41 L285.15 672.85 L286.05 672.11 L286.95 671.17 L287.85 670.03 L288.76 668.71 L289.66 667.24 L290.56 665.69 L291.46 664.15 L292.36 662.69 L293.26 661.41 L294.16 660.38 L295.07 659.63 L295.97 659.18 L296.87 658.99 L297.77 659.03 L298.67 659.23 L299.57 659.55 L300.47 659.94 L301.37 660.37 L302.28 660.87 L303.18 661.43 L304.08 662.08 L304.98 662.84 L305.88 663.7 L306.78 664.64 L307.68 665.64 L308.58 666.64 L309.49 667.6 L310.39 668.49 L311.29 669.26 L312.19 669.89 L313.09 670.4 L313.99 670.78 L314.89 671.04 L315.79 671.21 L316.7 671.3 L317.6 671.34 L318.5 671.34 L319.4 671.31 L320.3 671.27 L321.2 671.22 L322.1 671.16 L323.01 671.12 L323.91 671.08 L324.81 671.07 L325.71 671.07 L326.61 671.11 L327.51 671.18 L328.41 671.28 L329.31 671.42 L330.22 671.59 L331.12 671.8 L332.02 672.02 L332.92 672.26 L333.82 672.51 L334.72 672.76 L335.62 673 L336.52 673.2 L337.43 673.28 L338.33 672.96 L339.23 671.65 L340.13 668.28 L341.03 661.79 L341.93 652.25 L342.83 641.98 L343.73 634.9 L344.64 633.92 L345.54 638.49 L346.44 645.17 L347.34 650.4 L348.24 652.78 L349.14 653.01 L350.04 652.54 L350.95 652.52 L351.85 653.48 L352.75 655.45 L353.65 658.17 L354.55 661.29 L355.45 664.4 L356.35 667.22 L357.25 669.55 L358.16 671.34 L359.06 672.61 L359.96 673.45 L360.86 673.97 L361.76 674.28 L362.66 674.44 L363.56 674.53 L364.46 674.57 L365.37 674.59 L366.27 674.59 L367.17 674.6 L368.07 674.6 L368.97 674.6 L369.87 674.6 L370.77 674.6 L371.67 674.6 L372.58 674.6 L373.48 674.6 L374.38 674.6 L375.28 674.6 L375.28 674.6 Z" fill="#D5565F" stroke="none" stroke-width="1" fill-opacity="0.8"/>
<path d="M267.12 674.6 L268.03 674.6 L268.93 674.6 L269.83 674.6 L270.73 674.6 L271.63 674.6 L272.53 674.6 L273.43 674.6 L274.34 674.6 L275.24 674.6 L276.14 674.59 L277.04 674.58 L277.94 674.57 L278.84 674.54 L279.74 674.5 L280.64 674.42 L281.55 674.3 L282.45 674.1 L283.35 673.82 L284.25 673.41 L285.15 672.85 L286.05 672.11 L286.95 671.17 L287.85 670.03 L288.76 668.71 L289.66 667.24 L290.56 665.69 L291.46 664.15 L292.36 662.69 L293.26 661.41 L294.16 660.38 L295.07 659.63 L295.97 659.18 L296.87 658.99 L297.77 659.03 L298.67 659.23 L299.57 659.55 L300.47 659.94 L301.37 660.37 L302.28 660.87 L303.18 661.43 L304.08 662.08 L304.98 662.84 L305.88 663.7 L306.78 664.64 L307.68 665.64 L308.58 666.64 L309.49 667.6 L310.39 668.49 L311.29 669.26 L312.19 669.89 L313.09 670.4 L313.99 670.78 L314.89 671.04 L315.79 671.21 L316.7 671.3 L317.6 671.34 L318.5 671.34 L319.4 671.31 L320.3 671.27 L321.2 671.22 L322.1 671.16 L323.01 671.12 L323.91 671.08 L324.81 671.07 L325.71 671.07 L326.61 671.11 L327.51 671.18 L328.41 671.28 L329.31 671.42 L330.22 671.59 L331.12 671.8 L332.02 672.02 L332.92 672.26 L333.82 672.51 L334.72 672.76 L335.62 673 L336.52 673.2 L337.43 673.28 L338.33 672.96 L339.23 671.65 L340.13 668.28 L341.03 661.79 L341.93 652.25 L342.83 641.98 L343.73 634.9 L344.64 633.92 L345.54 638.49 L346.44 645.17 L347.34 650.4 L348.24 652.78 L349.14 653.01 L350.04 652.54 L350.95 652.52 L351.85 653.48 L352.75 655.45 L353.65 658.17 L354.55 661.29 L355.45 664.4 L356.35 667.22 L357.25 669.55 L358.16 671.34 L359.06 672.61 L359.96 673.45 L360.86 673.97 L361.76 674.28 L362.66 674.44 L363.56 674.53 L364.46 674.57 L365.37 674.59 L366.27 674.59 L367.17 674.6 L368.07 674.6 L368.97 674.6 L369.87 674.6 L370.77 674.6 L371.67 674.6 L372.58 674.6 L373.48 674.6 L374.38 674.6 L375.28 674.6" fill="none" stroke="#C23745" stroke-width="0.7"/>
<text x="261" y="561.8" font-size="8.7" text-anchor="start" fill="#222" stroke="#222" stroke-width="0.19">A549</text>
<text x="261" y="596.9" font-size="8.7" text-anchor="start" fill="#222" stroke="#222" stroke-width="0.19">shNC</text>
<text x="261" y="622.6" font-size="8.7" text-anchor="start" fill="#222" stroke="#222" stroke-width="0.19">sh-GABPA</text>
<text x="261" y="646.6" font-size="8.7" text-anchor="start" fill="#222" stroke="#222" stroke-width="0.19">Vector</text>
<text x="261" y="671.8" font-size="8.7" text-anchor="start" fill="#222" stroke="#222" stroke-width="0.19">OE-GABPA</text>
<line x1="272.7" y1="675.3" x2="272.7" y2="677.8" stroke="#333" stroke-width="0.6"/>
<text x="274.6" y="686.9" font-size="4.4" text-anchor="end" fill="#444" stroke="#444" stroke-width="0.1">10</text>
<text x="275" y="684.4" font-size="3.3" text-anchor="start" fill="#444" stroke="#444" stroke-width="0.07">1</text>
<line x1="279.41" y1="675.3" x2="279.41" y2="676.6" stroke="#333" stroke-width="0.4"/>
<line x1="283.34" y1="675.3" x2="283.34" y2="676.6" stroke="#333" stroke-width="0.4"/>
<line x1="286.13" y1="675.3" x2="286.13" y2="676.6" stroke="#333" stroke-width="0.4"/>
<line x1="288.29" y1="675.3" x2="288.29" y2="676.6" stroke="#333" stroke-width="0.4"/>
<line x1="290.05" y1="675.3" x2="290.05" y2="676.6" stroke="#333" stroke-width="0.4"/>
<line x1="291.55" y1="675.3" x2="291.55" y2="676.6" stroke="#333" stroke-width="0.4"/>
<line x1="292.84" y1="675.3" x2="292.84" y2="676.6" stroke="#333" stroke-width="0.4"/>
<line x1="293.98" y1="675.3" x2="293.98" y2="676.6" stroke="#333" stroke-width="0.4"/>
<line x1="295" y1="675.3" x2="295" y2="677.8" stroke="#333" stroke-width="0.6"/>
<text x="296.9" y="686.9" font-size="4.4" text-anchor="end" fill="#444" stroke="#444" stroke-width="0.1">10</text>
<text x="297.3" y="684.4" font-size="3.3" text-anchor="start" fill="#444" stroke="#444" stroke-width="0.07">2</text>
<line x1="301.71" y1="675.3" x2="301.71" y2="676.6" stroke="#333" stroke-width="0.4"/>
<line x1="305.64" y1="675.3" x2="305.64" y2="676.6" stroke="#333" stroke-width="0.4"/>
<line x1="308.43" y1="675.3" x2="308.43" y2="676.6" stroke="#333" stroke-width="0.4"/>
<line x1="310.59" y1="675.3" x2="310.59" y2="676.6" stroke="#333" stroke-width="0.4"/>
<line x1="312.35" y1="675.3" x2="312.35" y2="676.6" stroke="#333" stroke-width="0.4"/>
<line x1="313.85" y1="675.3" x2="313.85" y2="676.6" stroke="#333" stroke-width="0.4"/>
<line x1="315.14" y1="675.3" x2="315.14" y2="676.6" stroke="#333" stroke-width="0.4"/>
<line x1="316.28" y1="675.3" x2="316.28" y2="676.6" stroke="#333" stroke-width="0.4"/>
<line x1="317.3" y1="675.3" x2="317.3" y2="677.8" stroke="#333" stroke-width="0.6"/>
<text x="319.2" y="686.9" font-size="4.4" text-anchor="end" fill="#444" stroke="#444" stroke-width="0.1">10</text>
<text x="319.6" y="684.4" font-size="3.3" text-anchor="start" fill="#444" stroke="#444" stroke-width="0.07">3</text>
<line x1="324.01" y1="675.3" x2="324.01" y2="676.6" stroke="#333" stroke-width="0.4"/>
<line x1="327.94" y1="675.3" x2="327.94" y2="676.6" stroke="#333" stroke-width="0.4"/>
<line x1="330.73" y1="675.3" x2="330.73" y2="676.6" stroke="#333" stroke-width="0.4"/>
<line x1="332.89" y1="675.3" x2="332.89" y2="676.6" stroke="#333" stroke-width="0.4"/>
<line x1="334.65" y1="675.3" x2="334.65" y2="676.6" stroke="#333" stroke-width="0.4"/>
<line x1="336.15" y1="675.3" x2="336.15" y2="676.6" stroke="#333" stroke-width="0.4"/>
<line x1="337.44" y1="675.3" x2="337.44" y2="676.6" stroke="#333" stroke-width="0.4"/>
<line x1="338.58" y1="675.3" x2="338.58" y2="676.6" stroke="#333" stroke-width="0.4"/>
<line x1="339.6" y1="675.3" x2="339.6" y2="677.8" stroke="#333" stroke-width="0.6"/>
<text x="341.5" y="686.9" font-size="4.4" text-anchor="end" fill="#444" stroke="#444" stroke-width="0.1">10</text>
<text x="341.9" y="684.4" font-size="3.3" text-anchor="start" fill="#444" stroke="#444" stroke-width="0.07">4</text>
<line x1="346.31" y1="675.3" x2="346.31" y2="676.6" stroke="#333" stroke-width="0.4"/>
<line x1="350.24" y1="675.3" x2="350.24" y2="676.6" stroke="#333" stroke-width="0.4"/>
<line x1="353.03" y1="675.3" x2="353.03" y2="676.6" stroke="#333" stroke-width="0.4"/>
<line x1="355.19" y1="675.3" x2="355.19" y2="676.6" stroke="#333" stroke-width="0.4"/>
<line x1="356.95" y1="675.3" x2="356.95" y2="676.6" stroke="#333" stroke-width="0.4"/>
<line x1="358.45" y1="675.3" x2="358.45" y2="676.6" stroke="#333" stroke-width="0.4"/>
<line x1="359.74" y1="675.3" x2="359.74" y2="676.6" stroke="#333" stroke-width="0.4"/>
<line x1="360.88" y1="675.3" x2="360.88" y2="676.6" stroke="#333" stroke-width="0.4"/>
<line x1="361.9" y1="675.3" x2="361.9" y2="677.8" stroke="#333" stroke-width="0.6"/>
<text x="363.8" y="686.9" font-size="4.4" text-anchor="end" fill="#444" stroke="#444" stroke-width="0.1">10</text>
<text x="364.2" y="684.4" font-size="3.3" text-anchor="start" fill="#444" stroke="#444" stroke-width="0.07">5</text>
<line x1="368.61" y1="675.3" x2="368.61" y2="676.6" stroke="#333" stroke-width="0.4"/>
<line x1="372.54" y1="675.3" x2="372.54" y2="676.6" stroke="#333" stroke-width="0.4"/>
<line x1="375.33" y1="675.3" x2="375.33" y2="676.6" stroke="#333" stroke-width="0.4"/>
<line x1="377.49" y1="675.3" x2="377.49" y2="676.6" stroke="#333" stroke-width="0.4"/>
<line x1="379.25" y1="675.3" x2="379.25" y2="676.6" stroke="#333" stroke-width="0.4"/>
<line x1="380.75" y1="675.3" x2="380.75" y2="676.6" stroke="#333" stroke-width="0.4"/>
<line x1="382.04" y1="675.3" x2="382.04" y2="676.6" stroke="#333" stroke-width="0.4"/>
<text x="314.7" y="695.9" font-size="8.2" text-anchor="middle" fill="#222" stroke="#222" stroke-width="0.18">EdU-FITC</text>
<text x="259.4" y="739.6" font-size="16.5" font-weight="bold" text-anchor="start" fill="#1f1513">L</text>
<text x="329.2" y="738.3" font-size="7.7" font-weight="bold" text-anchor="middle" fill="#111">A549</text>
<line x1="298.2" y1="749" x2="298.2" y2="844.1" stroke="#111" stroke-width="1.3"/>
<line x1="297.7" y1="843.6" x2="360.7" y2="843.6" stroke="#111" stroke-width="1.3"/>
<line x1="295.2" y1="843.6" x2="298.2" y2="843.6" stroke="#111" stroke-width="0.8"/>
<text x="293.2" y="846.2" font-size="7.4" font-weight="bold" text-anchor="end" fill="#222">0</text>
<line x1="295.2" y1="820.08" x2="298.2" y2="820.08" stroke="#111" stroke-width="0.8"/>
<text x="293.2" y="822.68" font-size="7.4" font-weight="bold" text-anchor="end" fill="#222">12000</text>
<line x1="295.2" y1="796.55" x2="298.2" y2="796.55" stroke="#111" stroke-width="0.8"/>
<text x="293.2" y="799.15" font-size="7.4" font-weight="bold" text-anchor="end" fill="#222">24000</text>
<line x1="295.2" y1="773.02" x2="298.2" y2="773.02" stroke="#111" stroke-width="0.8"/>
<text x="293.2" y="775.62" font-size="7.4" font-weight="bold" text-anchor="end" fill="#222">36000</text>
<line x1="295.2" y1="749.5" x2="298.2" y2="749.5" stroke="#111" stroke-width="0.8"/>
<text x="293.2" y="752.1" font-size="7.4" font-weight="bold" text-anchor="end" fill="#222">48000</text>
<text x="268.8" y="798.2" font-size="6.4" font-weight="bold" text-anchor="middle" fill="#222" transform="rotate(-90 268.8 798.2)">EdU-MFI</text>
<rect x="301.95" y="784.79" width="12.6" height="58.81" fill="#fff" stroke="#CF8598" stroke-width="0.9"/>
<circle cx="304.45" cy="785.77" r="2.1" fill="#CF8598" stroke="#444" stroke-width="0.45"/>
<circle cx="308.25" cy="781.85" r="2.1" fill="#CF8598" stroke="#444" stroke-width="0.45"/>
<circle cx="312.05" cy="783.22" r="2.1" fill="#CF8598" stroke="#444" stroke-width="0.45"/>
<line x1="308.25" y1="788.71" x2="308.25" y2="779.89" stroke="#222" stroke-width="0.7"/>
<line x1="305.25" y1="788.71" x2="311.25" y2="788.71" stroke="#222" stroke-width="0.7"/>
<line x1="305.25" y1="779.89" x2="311.25" y2="779.89" stroke="#222" stroke-width="0.7"/>
<line x1="308.25" y1="843.6" x2="308.25" y2="846.4" stroke="#111" stroke-width="0.8"/>
<rect x="316.4" y="799.49" width="12.6" height="44.11" fill="#fff" stroke="#8B94D6" stroke-width="0.9"/>
<circle cx="318.9" cy="799.49" r="2.1" fill="#8B94D6" stroke="#444" stroke-width="0.45"/>
<circle cx="322.7" cy="799.29" r="2.1" fill="#8B94D6" stroke="#444" stroke-width="0.45"/>
<circle cx="326.5" cy="799.49" r="2.1" fill="#8B94D6" stroke="#444" stroke-width="0.45"/>
<line x1="322.7" y1="843.6" x2="322.7" y2="846.4" stroke="#111" stroke-width="0.8"/>
<rect x="329.85" y="785.77" width="12.6" height="57.83" fill="#fff" stroke="#ECC556" stroke-width="0.9"/>
<circle cx="332.35" cy="786.36" r="2.1" fill="#ECC556" stroke="#444" stroke-width="0.45"/>
<circle cx="336.15" cy="783.81" r="2.1" fill="#ECC556" stroke="#444" stroke-width="0.45"/>
<circle cx="339.95" cy="784.79" r="2.1" fill="#ECC556" stroke="#444" stroke-width="0.45"/>
<line x1="336.15" y1="788.32" x2="336.15" y2="781.65" stroke="#222" stroke-width="0.7"/>
<line x1="333.15" y1="788.32" x2="339.15" y2="788.32" stroke="#222" stroke-width="0.7"/>
<line x1="333.15" y1="781.65" x2="339.15" y2="781.65" stroke="#222" stroke-width="0.7"/>
<line x1="336.15" y1="843.6" x2="336.15" y2="846.4" stroke="#111" stroke-width="0.8"/>
<rect x="344.15" y="765.18" width="12.6" height="78.42" fill="#fff" stroke="#79C7AE" stroke-width="0.9"/>
<circle cx="346.65" cy="767.14" r="2.1" fill="#79C7AE" stroke="#444" stroke-width="0.45"/>
<circle cx="350.45" cy="759.3" r="2.1" fill="#79C7AE" stroke="#444" stroke-width="0.45"/>
<circle cx="354.25" cy="764.2" r="2.1" fill="#79C7AE" stroke="#444" stroke-width="0.45"/>
<line x1="350.45" y1="773.42" x2="350.45" y2="756.17" stroke="#222" stroke-width="0.7"/>
<line x1="347.45" y1="773.42" x2="353.45" y2="773.42" stroke="#222" stroke-width="0.7"/>
<line x1="347.45" y1="756.17" x2="353.45" y2="756.17" stroke="#222" stroke-width="0.7"/>
<line x1="350.45" y1="843.6" x2="350.45" y2="846.4" stroke="#111" stroke-width="0.8"/>
<line x1="307.8" y1="776.2" x2="321.8" y2="776.2" stroke="#999" stroke-width="0.5" stroke-dasharray="1 0.6"/>
<text x="314.8" y="776" font-size="7.4" font-weight="bold" text-anchor="middle" fill="#333">**</text>
<line x1="335.8" y1="752.2" x2="349.9" y2="752.2" stroke="#999" stroke-width="0.5" stroke-dasharray="1 0.6"/>
<text x="342.9" y="752" font-size="7.4" font-weight="bold" text-anchor="middle" fill="#333">*</text>
<text x="310.55" y="851" font-size="6.6" font-weight="bold" text-anchor="end" fill="#222" transform="rotate(-46 310.55 851)">shNC</text>
<text x="325" y="851" font-size="6.6" font-weight="bold" text-anchor="end" fill="#222" transform="rotate(-46 325 851)">sh-GABPA</text>
<text x="338.45" y="851" font-size="6.6" font-weight="bold" text-anchor="end" fill="#222" transform="rotate(-46 338.45 851)">Vector</text>
<text x="352.75" y="851" font-size="6.6" font-weight="bold" text-anchor="end" fill="#222" transform="rotate(-46 352.75 851)">OE-GABPA</text>
<text x="407.1" y="561.9" font-size="16.5" font-weight="bold" text-anchor="start" fill="#1f1513">M</text>
<text x="412.4" y="572.9" font-size="8.2" text-anchor="start" fill="#222" stroke="#222" stroke-width="0.18">kDa</text>
<text x="439.8" y="573.2" font-size="8.2" text-anchor="middle" fill="#222" stroke="#222" stroke-width="0.18">–</text>
<path d="M448.9 573.6 L486.9 559.6 L486.9 573.6 Z" fill="#111" stroke="none" stroke-width="1"/>
<text x="489.6" y="573" font-size="9.6" text-anchor="start" fill="#222" stroke="#222" stroke-width="0.21">si-KDM5B</text>
<rect x="427.1" y="576.3" width="64.3" height="22.4" fill="#FAFAFA" stroke="none" stroke-width="1"/>
<ellipse cx="438" cy="587.6" rx="6" ry="1.56" fill="#242424" filter="url(#bb)"/>
<ellipse cx="452.3" cy="587.6" rx="5.75" ry="1.43" fill="#474747" filter="url(#bb)"/>
<ellipse cx="466.3" cy="587.6" rx="5.25" ry="1.23" fill="#8c8c8c" filter="url(#bb)"/>
<rect x="427.1" y="576.3" width="64.3" height="22.4" fill="none" stroke="#3a3432" stroke-width="0.9"/>
<text x="424.2" y="591.7" font-size="9.6" text-anchor="end" fill="#111" stroke="#111" stroke-width="0.21">180</text>
<line x1="424.8" y1="588.3" x2="427.1" y2="588.3" stroke="#444" stroke-width="0.5"/>
<text x="494.4" y="591.75" font-size="9.7" text-anchor="start" fill="#111" stroke="#111" stroke-width="0.21">KDM5B</text>
<rect x="427.1" y="602.25" width="64.3" height="22.4" fill="#FCFCFC" stroke="none" stroke-width="1"/>
<ellipse cx="438" cy="613.25" rx="6" ry="1.95" fill="#191919" filter="url(#bb)"/>
<ellipse cx="452.3" cy="613.25" rx="5.75" ry="1.69" fill="#424242" filter="url(#bb)"/>
<ellipse cx="466.3" cy="613.25" rx="5.25" ry="1.49" fill="#8c8c8c" filter="url(#bb)"/>
<rect x="427.1" y="602.25" width="64.3" height="22.4" fill="none" stroke="#3a3432" stroke-width="0.9"/>
<text x="424.2" y="613.7" font-size="9.6" text-anchor="end" fill="#111" stroke="#111" stroke-width="0.21">55</text>
<line x1="424.8" y1="610.3" x2="427.1" y2="610.3" stroke="#444" stroke-width="0.5"/>
<text x="494.4" y="617.34" font-size="9.7" text-anchor="start" fill="#111" stroke="#111" stroke-width="0.21">GABPA</text>
<rect x="427.1" y="628.2" width="64.3" height="22.4" fill="#F6F6F6" stroke="none" stroke-width="1"/>
<ellipse cx="438" cy="640" rx="7.25" ry="1.69" fill="#2b2b2b" filter="url(#bb)"/>
<ellipse cx="452.3" cy="639.4" rx="7.25" ry="1.82" fill="#242424" filter="url(#bb)"/>
<ellipse cx="466.3" cy="638.8" rx="7.25" ry="1.89" fill="#1f1f1f" filter="url(#bb)"/>
<ellipse cx="480.4" cy="638.1" rx="7.25" ry="1.95" fill="#191919" filter="url(#bb)"/>
<ellipse cx="438" cy="645.4" rx="7" ry="1.04" fill="#bababa" filter="url(#bb)"/>
<ellipse cx="452.3" cy="645.1" rx="7" ry="1.04" fill="#bababa" filter="url(#bb)"/>
<ellipse cx="466.3" cy="644.7" rx="7" ry="1.1" fill="#b3b3b3" filter="url(#bb)"/>
<ellipse cx="480.4" cy="644.4" rx="7" ry="1.1" fill="#aeaeae" filter="url(#bb)"/>
<rect x="427.1" y="628.2" width="64.3" height="22.4" fill="none" stroke="#3a3432" stroke-width="0.9"/>
<text x="424.2" y="638" font-size="9.6" text-anchor="end" fill="#111" stroke="#111" stroke-width="0.21">15</text>
<line x1="424.8" y1="634.6" x2="427.1" y2="634.6" stroke="#444" stroke-width="0.5"/>
<text x="494.4" y="642.93" font-size="9.7" text-anchor="start" fill="#111" stroke="#111" stroke-width="0.21">H4K20me3</text>
<rect x="427.1" y="654.15" width="64.3" height="22.4" fill="#F3F3F3" stroke="none" stroke-width="1"/>
<rect x="427.1" y="654.15" width="64.3" height="22.4" fill="#999" stroke="none" stroke-width="1" filter="url(#nz)" opacity="0.1"/>
<ellipse cx="438" cy="664.75" rx="7.75" ry="1.69" fill="#191919" filter="url(#bb)"/>
<ellipse cx="452.3" cy="664.75" rx="7.75" ry="1.69" fill="#191919" filter="url(#bb)"/>
<ellipse cx="466.3" cy="664.75" rx="7.75" ry="1.69" fill="#191919" filter="url(#bb)"/>
<ellipse cx="480.4" cy="664.75" rx="7.75" ry="1.69" fill="#191919" filter="url(#bb)"/>
<rect x="427.1" y="654.15" width="64.3" height="22.4" fill="none" stroke="#3a3432" stroke-width="0.9"/>
<text x="424.2" y="671.9" font-size="9.6" text-anchor="end" fill="#111" stroke="#111" stroke-width="0.21">15</text>
<line x1="424.8" y1="668.5" x2="427.1" y2="668.5" stroke="#444" stroke-width="0.5"/>
<text x="494.4" y="668.52" font-size="9.7" text-anchor="start" fill="#111" stroke="#111" stroke-width="0.21">H3K9me3</text>
<rect x="427.1" y="680.1" width="64.3" height="22.4" fill="#F4F4F4" stroke="none" stroke-width="1"/>
<ellipse cx="438" cy="691.1" rx="7.75" ry="1.43" fill="#242424" filter="url(#bb)"/>
<ellipse cx="452.3" cy="691" rx="7.75" ry="1.43" fill="#242424" filter="url(#bb)"/>
<ellipse cx="466.3" cy="691.3" rx="7.75" ry="1.43" fill="#242424" filter="url(#bb)"/>
<ellipse cx="480.4" cy="691.1" rx="7.75" ry="1.43" fill="#242424" filter="url(#bb)"/>
<ellipse cx="438" cy="696.1" rx="7" ry="0.98" fill="#f1f1f1" filter="url(#bb)"/>
<ellipse cx="452.3" cy="696.1" rx="7" ry="0.98" fill="#f1f1f1" filter="url(#bb)"/>
<ellipse cx="466.3" cy="696.1" rx="7" ry="0.98" fill="#f1f1f1" filter="url(#bb)"/>
<rect x="427.1" y="680.1" width="64.3" height="22.4" fill="none" stroke="#3a3432" stroke-width="0.9"/>
<text x="424.2" y="699" font-size="9.6" text-anchor="end" fill="#111" stroke="#111" stroke-width="0.21">15</text>
<line x1="424.8" y1="695.6" x2="427.1" y2="695.6" stroke="#444" stroke-width="0.5"/>
<text x="494.4" y="694.11" font-size="9.7" text-anchor="start" fill="#111" stroke="#111" stroke-width="0.21">H3K27me3</text>
<rect x="427.1" y="706.05" width="64.3" height="22.4" fill="#F2F2F2" stroke="none" stroke-width="1"/>
<rect x="427.1" y="706.05" width="64.3" height="22.4" fill="#999" stroke="none" stroke-width="1" filter="url(#nz)" opacity="0.1"/>
<ellipse cx="438" cy="715.65" rx="6.25" ry="1.69" fill="#191919" filter="url(#bb)"/>
<ellipse cx="452.3" cy="715.85" rx="6.25" ry="1.56" fill="#2b2b2b" filter="url(#bb)"/>
<ellipse cx="466.3" cy="715.65" rx="6.25" ry="1.56" fill="#2b2b2b" filter="url(#bb)"/>
<ellipse cx="480.4" cy="714.95" rx="6.25" ry="1.43" fill="#474747" filter="url(#bb)"/>
<rect x="427.1" y="706.05" width="64.3" height="22.4" fill="none" stroke="#3a3432" stroke-width="0.9"/>
<text x="424.2" y="724.4" font-size="9.6" text-anchor="end" fill="#111" stroke="#111" stroke-width="0.21">15</text>
<line x1="424.8" y1="721" x2="427.1" y2="721" stroke="#444" stroke-width="0.5"/>
<text x="494.4" y="719.7" font-size="9.7" text-anchor="start" fill="#111" stroke="#111" stroke-width="0.21">H3K4me3</text>
<rect x="427.1" y="732" width="64.3" height="22.4" fill="#FAFAFA" stroke="none" stroke-width="1"/>
<ellipse cx="438" cy="743.2" rx="7" ry="1.23" fill="#303030" filter="url(#bb)"/>
<ellipse cx="452.3" cy="743" rx="7" ry="1.23" fill="#303030" filter="url(#bb)"/>
<ellipse cx="466.3" cy="742.9" rx="7" ry="1.23" fill="#303030" filter="url(#bb)"/>
<ellipse cx="480.4" cy="742.5" rx="7" ry="1.23" fill="#303030" filter="url(#bb)"/>
<rect x="427.1" y="732" width="64.3" height="22.4" fill="none" stroke="#3a3432" stroke-width="0.9"/>
<text x="424.2" y="749.8" font-size="9.6" text-anchor="end" fill="#111" stroke="#111" stroke-width="0.21">15</text>
<line x1="424.8" y1="746.4" x2="427.1" y2="746.4" stroke="#444" stroke-width="0.5"/>
<text x="494.4" y="745.29" font-size="9.7" text-anchor="start" fill="#111" stroke="#111" stroke-width="0.21">H3K36me3</text>
<rect x="427.1" y="757.95" width="64.3" height="22.4" fill="#F6F6F6" stroke="none" stroke-width="1"/>
<ellipse cx="438" cy="767.55" rx="7.75" ry="1.37" fill="#242424" filter="url(#bb)"/>
<ellipse cx="452.3" cy="768.15" rx="7.75" ry="1.37" fill="#242424" filter="url(#bb)"/>
<ellipse cx="466.3" cy="768.45" rx="7.75" ry="1.37" fill="#242424" filter="url(#bb)"/>
<ellipse cx="480.4" cy="767.95" rx="7.75" ry="1.37" fill="#242424" filter="url(#bb)"/>
<rect x="427.1" y="757.95" width="64.3" height="22.4" fill="none" stroke="#3a3432" stroke-width="0.9"/>
<text x="424.2" y="775.2" font-size="9.6" text-anchor="end" fill="#111" stroke="#111" stroke-width="0.21">15</text>
<line x1="424.8" y1="771.8" x2="427.1" y2="771.8" stroke="#444" stroke-width="0.5"/>
<text x="494.4" y="770.88" font-size="9.7" text-anchor="start" fill="#111" stroke="#111" stroke-width="0.21">H3K79me3</text>
<rect x="427.1" y="783.9" width="64.3" height="22.4" fill="#F0F0F0" stroke="none" stroke-width="1"/>
<ellipse cx="438" cy="794.2" rx="6" ry="1.23" fill="#303030" filter="url(#bb)"/>
<ellipse cx="452.3" cy="794.2" rx="6" ry="1.23" fill="#303030" filter="url(#bb)"/>
<ellipse cx="466.3" cy="794.2" rx="6" ry="1.23" fill="#303030" filter="url(#bb)"/>
<ellipse cx="480.4" cy="794.2" rx="6" ry="1.23" fill="#303030" filter="url(#bb)"/>
<rect x="427.1" y="783.9" width="64.3" height="22.4" fill="none" stroke="#3a3432" stroke-width="0.9"/>
<text x="424.2" y="801.7" font-size="9.6" text-anchor="end" fill="#111" stroke="#111" stroke-width="0.21">15</text>
<line x1="424.8" y1="798.3" x2="427.1" y2="798.3" stroke="#444" stroke-width="0.5"/>
<text x="494.4" y="796.47" font-size="9.7" text-anchor="start" fill="#111" stroke="#111" stroke-width="0.21">H3</text>
<rect x="427.1" y="809.85" width="64.3" height="22.4" fill="#EFEFEF" stroke="none" stroke-width="1"/>
<ellipse cx="438" cy="820.05" rx="7.75" ry="1.89" fill="#191919" filter="url(#bb)"/>
<ellipse cx="452.3" cy="820.45" rx="7.75" ry="1.82" fill="#1f1f1f" filter="url(#bb)"/>
<ellipse cx="466.3" cy="820.65" rx="7.75" ry="1.82" fill="#1f1f1f" filter="url(#bb)"/>
<ellipse cx="480.4" cy="820.15" rx="7.75" ry="1.82" fill="#242424" filter="url(#bb)"/>
<rect x="427.1" y="809.85" width="64.3" height="22.4" fill="none" stroke="#3a3432" stroke-width="0.9"/>
<text x="424.2" y="818" font-size="9.6" text-anchor="end" fill="#111" stroke="#111" stroke-width="0.21">15</text>
<line x1="424.8" y1="814.6" x2="427.1" y2="814.6" stroke="#444" stroke-width="0.5"/>
<text x="494.4" y="822.06" font-size="9.7" text-anchor="start" fill="#111" stroke="#111" stroke-width="0.21">H4</text>
<rect x="427.1" y="835.8" width="64.3" height="22.4" fill="#F8F8F8" stroke="none" stroke-width="1"/>
<ellipse cx="438" cy="846.6" rx="6.25" ry="2.21" fill="#191919" filter="url(#bb)"/>
<ellipse cx="452.3" cy="846.6" rx="6.25" ry="2.21" fill="#191919" filter="url(#bb)"/>
<ellipse cx="466.3" cy="846.4" rx="6.25" ry="2.21" fill="#191919" filter="url(#bb)"/>
<ellipse cx="480.4" cy="846.1" rx="6.25" ry="2.21" fill="#191919" filter="url(#bb)"/>
<rect x="427.1" y="835.8" width="64.3" height="22.4" fill="none" stroke="#3a3432" stroke-width="0.9"/>
<text x="424.2" y="848.7" font-size="9.6" text-anchor="end" fill="#111" stroke="#111" stroke-width="0.21">40</text>
<line x1="424.8" y1="845.3" x2="427.1" y2="845.3" stroke="#444" stroke-width="0.5"/>
<text x="494.4" y="847.65" font-size="9.7" text-anchor="start" fill="#111" stroke="#111" stroke-width="0.21">GAPDH</text>
<text x="459.5" y="868.6" font-size="8.3" text-anchor="middle" fill="#111" stroke="#111" stroke-width="0.18">A549</text>
<text x="546.1" y="561.7" font-size="16.5" font-weight="bold" text-anchor="start" fill="#1f1513">N</text>
<text x="554.4" y="573.5" font-size="8.2" text-anchor="start" fill="#222" stroke="#222" stroke-width="0.18">kDa</text>
<text x="579.2" y="573.2" font-size="8.2" text-anchor="middle" fill="#222" stroke="#222" stroke-width="0.18">–</text>
<path d="M587 573.6 L625.1 560.1 L625.1 573.6 Z" fill="#111" stroke="none" stroke-width="1"/>
<text x="627.8" y="573" font-size="9.6" text-anchor="start" fill="#222" stroke="#222" stroke-width="0.21">His-KDM5B</text>
<rect x="568" y="576.3" width="63.4" height="22.4" fill="#FAFAFA" stroke="none" stroke-width="1"/>
<ellipse cx="579.2" cy="587" rx="4.75" ry="1.17" fill="#525252" filter="url(#bb)"/>
<ellipse cx="592.9" cy="587" rx="5.75" ry="1.56" fill="#2b2b2b" filter="url(#bb)"/>
<ellipse cx="606.7" cy="586.9" rx="6" ry="1.69" fill="#242424" filter="url(#bb)"/>
<ellipse cx="620.3" cy="586.7" rx="6.25" ry="1.89" fill="#191919" filter="url(#bb)"/>
<rect x="568" y="576.3" width="63.4" height="22.4" fill="none" stroke="#3a3432" stroke-width="0.9"/>
<text x="565.4" y="591.7" font-size="9.6" text-anchor="end" fill="#111" stroke="#111" stroke-width="0.21">180</text>
<line x1="566" y1="588.3" x2="568" y2="588.3" stroke="#444" stroke-width="0.5"/>
<text x="634.8" y="591.75" font-size="9.7" text-anchor="start" fill="#111" stroke="#111" stroke-width="0.21">KDM5B</text>
<rect x="568" y="602.25" width="63.4" height="22.4" fill="#FAFAFA" stroke="none" stroke-width="1"/>
<ellipse cx="579.2" cy="613.05" rx="5.5" ry="1.3" fill="#4b4b4b" filter="url(#bb)"/>
<ellipse cx="592.9" cy="612.85" rx="6" ry="1.82" fill="#242424" filter="url(#bb)"/>
<ellipse cx="606.7" cy="612.85" rx="6" ry="1.82" fill="#1f1f1f" filter="url(#bb)"/>
<ellipse cx="620.3" cy="612.75" rx="6.25" ry="1.95" fill="#191919" filter="url(#bb)"/>
<rect x="568" y="602.25" width="63.4" height="22.4" fill="none" stroke="#3a3432" stroke-width="0.9"/>
<text x="565.4" y="613.7" font-size="9.6" text-anchor="end" fill="#111" stroke="#111" stroke-width="0.21">55</text>
<line x1="566" y1="610.3" x2="568" y2="610.3" stroke="#444" stroke-width="0.5"/>
<text x="634.8" y="617.34" font-size="9.7" text-anchor="start" fill="#111" stroke="#111" stroke-width="0.21">GABPA</text>
<rect x="568" y="628.2" width="63.4" height="22.4" fill="#FCFCFC" stroke="none" stroke-width="1"/>
<ellipse cx="579.2" cy="638.2" rx="7.5" ry="2.21" fill="#191919" filter="url(#bb)"/>
<ellipse cx="592.9" cy="638.6" rx="7" ry="1.69" fill="#3b3b3b" filter="url(#bb)"/>
<ellipse cx="606.7" cy="639" rx="6.5" ry="1.56" fill="#525252" filter="url(#bb)"/>
<rect x="568" y="628.2" width="63.4" height="22.4" fill="none" stroke="#3a3432" stroke-width="0.9"/>
<text x="565.4" y="638" font-size="9.6" text-anchor="end" fill="#111" stroke="#111" stroke-width="0.21">15</text>
<line x1="566" y1="634.6" x2="568" y2="634.6" stroke="#444" stroke-width="0.5"/>
<text x="634.8" y="642.93" font-size="9.7" text-anchor="start" fill="#111" stroke="#111" stroke-width="0.21">H4K20me3</text>
<rect x="568" y="654.15" width="63.4" height="22.4" fill="#FAFAFA" stroke="none" stroke-width="1"/>
<ellipse cx="579.2" cy="666.15" rx="7.75" ry="1.17" fill="#242424" filter="url(#bb)"/>
<ellipse cx="592.9" cy="665.55" rx="7.75" ry="1.17" fill="#242424" filter="url(#bb)"/>
<ellipse cx="606.7" cy="664.55" rx="7.75" ry="1.23" fill="#242424" filter="url(#bb)"/>
<ellipse cx="620.3" cy="663.55" rx="7.75" ry="1.23" fill="#242424" filter="url(#bb)"/>
<rect x="568" y="654.15" width="63.4" height="22.4" fill="none" stroke="#3a3432" stroke-width="0.9"/>
<text x="565.4" y="671.9" font-size="9.6" text-anchor="end" fill="#111" stroke="#111" stroke-width="0.21">15</text>
<line x1="566" y1="668.5" x2="568" y2="668.5" stroke="#444" stroke-width="0.5"/>
<text x="634.8" y="668.52" font-size="9.7" text-anchor="start" fill="#111" stroke="#111" stroke-width="0.21">H3K9me3</text>
<rect x="568" y="680.1" width="63.4" height="22.4" fill="#F8F8F8" stroke="none" stroke-width="1"/>
<ellipse cx="579.2" cy="690.5" rx="7.75" ry="1.43" fill="#191919" filter="url(#bb)"/>
<ellipse cx="592.9" cy="690.7" rx="7.75" ry="1.43" fill="#191919" filter="url(#bb)"/>
<ellipse cx="606.7" cy="690.6" rx="7.75" ry="1.43" fill="#191919" filter="url(#bb)"/>
<ellipse cx="620.3" cy="690.4" rx="7.75" ry="1.43" fill="#191919" filter="url(#bb)"/>
<ellipse cx="579.2" cy="695.9" rx="6.5" ry="0.98" fill="#dcdcdc" filter="url(#bb)"/>
<ellipse cx="592.9" cy="696.1" rx="6.5" ry="0.98" fill="#e3e3e3" filter="url(#bb)"/>
<rect x="568" y="680.1" width="63.4" height="22.4" fill="none" stroke="#3a3432" stroke-width="0.9"/>
<text x="565.4" y="699" font-size="9.6" text-anchor="end" fill="#111" stroke="#111" stroke-width="0.21">15</text>
<line x1="566" y1="695.6" x2="568" y2="695.6" stroke="#444" stroke-width="0.5"/>
<text x="634.8" y="694.11" font-size="9.7" text-anchor="start" fill="#111" stroke="#111" stroke-width="0.21">H3K27me3</text>
<rect x="568" y="706.05" width="63.4" height="22.4" fill="#F2F2F2" stroke="none" stroke-width="1"/>
<rect x="568" y="706.05" width="63.4" height="22.4" fill="#999" stroke="none" stroke-width="1" filter="url(#nz)" opacity="0.1"/>
<ellipse cx="579.2" cy="717.65" rx="6.5" ry="1.23" fill="#525252" filter="url(#bb)"/>
<ellipse cx="592.9" cy="717.25" rx="7" ry="1.3" fill="#3b3b3b" filter="url(#bb)"/>
<ellipse cx="606.7" cy="716.65" rx="7" ry="1.3" fill="#343434" filter="url(#bb)"/>
<ellipse cx="620.3" cy="716.45" rx="6" ry="1.3" fill="#3b3b3b" filter="url(#bb)"/>
<rect x="568" y="706.05" width="63.4" height="22.4" fill="none" stroke="#3a3432" stroke-width="0.9"/>
<text x="565.4" y="724.4" font-size="9.6" text-anchor="end" fill="#111" stroke="#111" stroke-width="0.21">15</text>
<line x1="566" y1="721" x2="568" y2="721" stroke="#444" stroke-width="0.5"/>
<text x="634.8" y="719.7" font-size="9.7" text-anchor="start" fill="#111" stroke="#111" stroke-width="0.21">H3K4me3</text>
<rect x="568" y="732" width="63.4" height="22.4" fill="#FAFAFA" stroke="none" stroke-width="1"/>
<ellipse cx="579.2" cy="743.4" rx="7" ry="1.17" fill="#2b2b2b" filter="url(#bb)"/>
<ellipse cx="592.9" cy="743.3" rx="7" ry="1.17" fill="#2b2b2b" filter="url(#bb)"/>
<ellipse cx="606.7" cy="743.3" rx="7" ry="1.17" fill="#2b2b2b" filter="url(#bb)"/>
<ellipse cx="620.3" cy="743" rx="6.5" ry="1.17" fill="#343434" filter="url(#bb)"/>
<rect x="568" y="732" width="63.4" height="22.4" fill="none" stroke="#3a3432" stroke-width="0.9"/>
<text x="565.4" y="749.8" font-size="9.6" text-anchor="end" fill="#111" stroke="#111" stroke-width="0.21">15</text>
<line x1="566" y1="746.4" x2="568" y2="746.4" stroke="#444" stroke-width="0.5"/>
<text x="634.8" y="745.29" font-size="9.7" text-anchor="start" fill="#111" stroke="#111" stroke-width="0.21">H3K36me3</text>
<rect x="568" y="757.95" width="63.4" height="22.4" fill="#F8F8F8" stroke="none" stroke-width="1"/>
<ellipse cx="579.2" cy="768.95" rx="7.75" ry="1.43" fill="#191919" filter="url(#bb)"/>
<ellipse cx="592.9" cy="768.75" rx="7.75" ry="1.43" fill="#191919" filter="url(#bb)"/>
<ellipse cx="606.7" cy="768.55" rx="7.75" ry="1.43" fill="#191919" filter="url(#bb)"/>
<ellipse cx="620.3" cy="768.35" rx="7.75" ry="1.43" fill="#191919" filter="url(#bb)"/>
<rect x="568" y="757.95" width="63.4" height="22.4" fill="none" stroke="#3a3432" stroke-width="0.9"/>
<text x="565.4" y="775.2" font-size="9.6" text-anchor="end" fill="#111" stroke="#111" stroke-width="0.21">15</text>
<line x1="566" y1="771.8" x2="568" y2="771.8" stroke="#444" stroke-width="0.5"/>
<text x="634.8" y="770.88" font-size="9.7" text-anchor="start" fill="#111" stroke="#111" stroke-width="0.21">H3K79me3</text>
<rect x="568" y="783.9" width="63.4" height="22.4" fill="#F2F2F2" stroke="none" stroke-width="1"/>
<ellipse cx="579.2" cy="795.2" rx="6.25" ry="1.23" fill="#2b2b2b" filter="url(#bb)"/>
<ellipse cx="592.9" cy="795.2" rx="6.25" ry="1.23" fill="#2b2b2b" filter="url(#bb)"/>
<ellipse cx="606.7" cy="794.8" rx="6.25" ry="1.37" fill="#242424" filter="url(#bb)"/>
<ellipse cx="620.3" cy="795.1" rx="6.25" ry="1.23" fill="#2b2b2b" filter="url(#bb)"/>
<rect x="568" y="783.9" width="63.4" height="22.4" fill="none" stroke="#3a3432" stroke-width="0.9"/>
<text x="565.4" y="801.7" font-size="9.6" text-anchor="end" fill="#111" stroke="#111" stroke-width="0.21">15</text>
<line x1="566" y1="798.3" x2="568" y2="798.3" stroke="#444" stroke-width="0.5"/>
<text x="634.8" y="796.47" font-size="9.7" text-anchor="start" fill="#111" stroke="#111" stroke-width="0.21">H3</text>
<rect x="568" y="809.85" width="63.4" height="22.4" fill="#F2F2F2" stroke="none" stroke-width="1"/>
<ellipse cx="579.2" cy="821.05" rx="7.75" ry="1.56" fill="#242424" filter="url(#bb)"/>
<ellipse cx="592.9" cy="821.05" rx="7.75" ry="1.56" fill="#242424" filter="url(#bb)"/>
<ellipse cx="606.7" cy="821.05" rx="7.75" ry="1.56" fill="#242424" filter="url(#bb)"/>
<ellipse cx="620.3" cy="821.05" rx="7.75" ry="1.56" fill="#242424" filter="url(#bb)"/>
<rect x="568" y="809.85" width="63.4" height="22.4" fill="none" stroke="#3a3432" stroke-width="0.9"/>
<text x="565.4" y="818" font-size="9.6" text-anchor="end" fill="#111" stroke="#111" stroke-width="0.21">15</text>
<line x1="566" y1="814.6" x2="568" y2="814.6" stroke="#444" stroke-width="0.5"/>
<text x="634.8" y="822.06" font-size="9.7" text-anchor="start" fill="#111" stroke="#111" stroke-width="0.21">H4</text>
<rect x="568" y="835.8" width="63.4" height="22.4" fill="#F8F8F8" stroke="none" stroke-width="1"/>
<ellipse cx="579.2" cy="846.6" rx="6.25" ry="2.21" fill="#191919" filter="url(#bb)"/>
<ellipse cx="592.9" cy="846.6" rx="6.25" ry="2.21" fill="#191919" filter="url(#bb)"/>
<ellipse cx="606.7" cy="846.6" rx="6.25" ry="2.21" fill="#191919" filter="url(#bb)"/>
<ellipse cx="620.3" cy="846.2" rx="6.25" ry="2.21" fill="#191919" filter="url(#bb)"/>
<rect x="568" y="835.8" width="63.4" height="22.4" fill="none" stroke="#3a3432" stroke-width="0.9"/>
<text x="565.4" y="848.7" font-size="9.6" text-anchor="end" fill="#111" stroke="#111" stroke-width="0.21">40</text>
<line x1="566" y1="845.3" x2="568" y2="845.3" stroke="#444" stroke-width="0.5"/>
<text x="634.8" y="847.65" font-size="9.7" text-anchor="start" fill="#111" stroke="#111" stroke-width="0.21">GAPDH</text>
<text x="599.7" y="868.6" font-size="8.3" text-anchor="middle" fill="#111" stroke="#111" stroke-width="0.18">A549</text>
<text x="13.4" y="912.9" font-size="16.5" font-weight="bold" text-anchor="start" fill="#1f1513">O</text>
<text x="36.6" y="911.9" font-size="8.87" text-anchor="start" fill="#1a1a1a" stroke="#1a1a1a" stroke-width="0.2">A549 GABPA promoter</text>
<text x="417.1" y="911.3" font-size="8.95" text-anchor="end" fill="#1a1a1a" stroke="#1a1a1a" stroke-width="0.2">chr21:25, 732, 972-25, 774, 460</text>
<line x1="144.4" y1="908.2" x2="273.1" y2="908.2" stroke="#666" stroke-width="0.5"/>
<line x1="144.4" y1="906.5" x2="144.4" y2="909.9" stroke="#666" stroke-width="0.5"/>
<line x1="273.1" y1="906.5" x2="273.1" y2="909.9" stroke="#666" stroke-width="0.5"/>
<text x="210.3" y="906.3" font-size="6.8" text-anchor="middle" fill="#222" stroke="#222" stroke-width="0.15">41kb</text>
<rect x="35.3" y="916.4" width="380.5" height="112.4" fill="#F7F7F7" stroke="none" stroke-width="1"/>
<path d="M36 968 L36 965.05 L36.35 964.79 L36.7 964.2 L37.05 964.41 L37.4 964.62 L37.75 964.52 L38.1 964.41 L38.45 964.95 L38.8 965.25 L39.15 965.64 L39.5 964.94 L39.85 964.26 L40.2 962.98 L40.55 961.28 L40.9 958.9 L41.25 954.19 L41.6 952.49 L41.95 951.29 L42.3 950.86 L42.65 953.9 L43 953.81 L43.35 952.83 L43.7 952.69 L44.05 952.54 L44.4 953.17 L44.75 957.3 L45.1 956.74 L45.45 957.62 L45.8 958.63 L46.15 959.76 L46.5 959.41 L46.85 961.25 L47.2 960.45 L47.55 960.79 L47.9 959.93 L48.25 957.44 L48.6 950.3 L48.95 947.12 L49.3 941.15 L49.65 939.16 L50 941.25 L50.35 942.19 L50.7 941.18 L51.05 943.19 L51.4 946.35 L51.75 946.84 L52.1 944.85 L52.45 949.93 L52.8 949.12 L53.15 944.05 L53.5 946.06 L53.85 945.19 L54.2 947.37 L54.55 949.74 L54.9 947.1 L55.25 952.15 L55.6 952.34 L55.95 955.37 L56.3 955.88 L56.65 958.03 L57 956.89 L57.35 952.94 L57.7 952.08 L58.05 948.79 L58.4 946.08 L58.75 951.38 L59.1 952.87 L59.45 953.48 L59.8 952.44 L60.15 954.23 L60.5 956.59 L60.85 957.05 L61.2 958.28 L61.55 957.99 L61.9 959.6 L62.25 957.83 L62.6 957.16 L62.95 956.72 L63.3 957.04 L63.65 956.01 L64 958.77 L64.35 957.74 L64.7 955.41 L65.05 956.05 L65.4 957.36 L65.75 955.84 L66.1 957.19 L66.45 957.03 L66.8 959.1 L67.15 959.96 L67.5 959.99 L67.85 961.41 L68.2 961.58 L68.55 961.21 L68.9 962.91 L69.25 963.86 L69.6 964.16 L69.95 964.34 L70.3 964.01 L70.65 964.91 L71 965.46 L71.35 966.1 L71.7 966.15 L72.05 966.89 L72.4 967.32 L72.75 967.6 L73.1 967.75 L73.45 967.81 L73.8 967.78 L74.15 967.74 L74.5 967.62 L74.85 967.37 L75.2 967.21 L75.55 966.77 L75.9 966.91 L76.25 966.69 L76.6 966.64 L76.95 966.91 L77.3 966.95 L77.65 967.31 L78 967.56 L78.35 967.71 L78.7 967.85 L79.05 967.91 L79.4 967.96 L79.75 967.98 L80.1 967.99 L80.45 968 L80.8 968 L81.15 968 L81.5 968 L81.85 968 L82.2 967.99 L82.55 967.98 L82.9 967.98 L83.25 967.96 L83.6 967.91 L83.95 967.87 L84.3 967.78 L84.65 967.71 L85 967.52 L85.35 967.37 L85.7 967.12 L86.05 966.87 L86.4 966.68 L86.75 966.61 L87.1 966.32 L87.45 965.71 L87.8 965.52 L88.15 965.42 L88.5 965.83 L88.85 965.7 L89.2 965.79 L89.55 966.12 L89.9 966.3 L90.25 966.71 L90.6 966.94 L90.95 967.18 L91.3 967.47 L91.65 967.54 L92 967.68 L92.35 967.84 L92.7 967.87 L93.05 967.92 L93.4 967.96 L93.75 967.98 L94.1 967.98 L94.45 967.99 L94.8 967.99 L95.15 967.98 L95.5 967.97 L95.85 967.95 L96.2 967.9 L96.55 967.83 L96.9 967.72 L97.25 967.57 L97.6 967.51 L97.95 967.4 L98.3 966.99 L98.65 967.09 L99 966.66 L99.35 966.87 L99.7 966.58 L100.05 966.65 L100.4 966.74 L100.75 967.02 L101.1 967.12 L101.45 967.45 L101.8 967.53 L102.15 967.71 L102.5 967.78 L102.85 967.87 L103.2 967.93 L103.55 967.96 L103.9 967.98 L104.25 967.98 L104.6 967.98 L104.95 967.96 L105.3 967.91 L105.65 967.85 L106 967.78 L106.35 967.6 L106.7 967.3 L107.05 967.05 L107.4 966.89 L107.75 966.15 L108.1 965.77 L108.45 965.97 L108.8 965.49 L109.15 965.6 L109.5 965.45 L109.85 966.04 L110.2 966.41 L110.55 966.65 L110.9 966.87 L111.25 967.4 L111.6 967.61 L111.95 967.72 L112.3 967.83 L112.65 967.92 L113 967.96 L113.35 967.98 L113.7 967.99 L114.05 968 L114.4 968 L114.75 968 L115.1 968 L115.45 968 L115.8 968 L116.15 968 L116.5 968 L116.85 968 L117.2 968 L117.55 968 L117.9 968 L118.25 968 L118.6 968 L118.95 968 L119.3 968 L119.65 968 L120 968 L120.35 967.99 L120.7 967.98 L121.05 967.97 L121.4 967.94 L121.75 967.92 L122.1 967.86 L122.45 967.74 L122.8 967.67 L123.15 967.5 L123.5 967.31 L123.85 967.23 L124.2 967.09 L124.55 967.01 L124.9 967.06 L125.25 966.89 L125.6 967.09 L125.95 967.08 L126.3 967.35 L126.65 967.39 L127 967.55 L127.35 967.7 L127.7 967.81 L128.05 967.89 L128.4 967.92 L128.75 967.96 L129.1 967.97 L129.45 967.99 L129.8 967.99 L130.15 968 L130.5 968 L130.85 968 L131.2 968 L131.55 968 L131.9 968 L132.25 968 L132.6 968 L132.95 968 L133.3 968 L133.65 968 L134 968 L134.35 968 L134.7 968 L135.05 968 L135.4 968 L135.75 968 L136.1 968 L136.45 968 L136.8 968 L137.15 968 L137.5 968 L137.85 968 L138.2 967.99 L138.55 967.99 L138.9 967.97 L139.25 967.93 L139.6 967.88 L139.95 967.79 L140.3 967.74 L140.65 967.56 L141 967.4 L141.35 967.26 L141.7 967.2 L142.05 967.12 L142.4 967.29 L142.75 967.26 L143.1 967.49 L143.45 967.6 L143.8 967.71 L144.15 967.83 L144.5 967.91 L144.85 967.96 L145.2 967.98 L145.55 967.99 L145.9 968 L146.25 968 L146.6 968 L146.95 968 L147.3 968 L147.65 968 L148 967.99 L148.35 967.99 L148.7 967.97 L149.05 967.94 L149.4 967.89 L149.75 967.82 L150.1 967.73 L150.45 967.52 L150.8 967.36 L151.15 967.25 L151.5 967.05 L151.85 966.47 L152.2 966.21 L152.55 966.06 L152.9 966.15 L153.25 966.32 L153.6 966.54 L153.95 966.63 L154.3 966.87 L154.65 966.89 L155 967.17 L155.35 967.43 L155.7 967.68 L156.05 967.79 L156.4 967.87 L156.75 967.91 L157.1 967.96 L157.45 967.98 L157.8 967.99 L158.15 967.99 L158.5 968 L158.85 968 L159.2 968 L159.55 968 L159.9 968 L160.25 968 L160.6 968 L160.95 968 L161.3 968 L161.65 968 L162 968 L162.35 968 L162.7 968 L163.05 968 L163.4 968 L163.75 968 L164.1 968 L164.45 968 L164.8 968 L165.15 968 L165.5 968 L165.85 968 L166.2 968 L166.55 968 L166.9 968 L167.25 968 L167.6 968 L167.95 968 L168.3 968 L168.65 968 L169 968 L169.35 968 L169.7 968 L170.05 968 L170.4 968 L170.75 968 L171.1 968 L171.45 968 L171.8 968 L172.15 968 L172.5 968 L172.85 968 L173.2 967.99 L173.55 967.99 L173.9 967.97 L174.25 967.94 L174.6 967.89 L174.95 967.8 L175.3 967.73 L175.65 967.53 L176 967.35 L176.35 967.27 L176.7 967.13 L177.05 967.1 L177.4 967.27 L177.75 967.27 L178.1 967.42 L178.45 967.6 L178.8 967.77 L179.15 967.83 L179.5 967.9 L179.85 967.96 L180.2 967.98 L180.55 967.99 L180.9 968 L181.25 968 L181.6 968 L181.95 968 L182.3 968 L182.65 968 L183 968 L183.35 968 L183.7 968 L184.05 968 L184.4 968 L184.75 968 L185.1 968 L185.45 968 L185.8 968 L186.15 968 L186.5 968 L186.85 968 L187.2 968 L187.55 968 L187.9 968 L188.25 968 L188.6 968 L188.95 968 L189.3 968 L189.65 968 L190 967.99 L190.35 967.99 L190.7 967.97 L191.05 967.94 L191.4 967.89 L191.75 967.85 L192.1 967.68 L192.45 967.53 L192.8 967.38 L193.15 967.28 L193.5 966.8 L193.85 966.61 L194.2 966.38 L194.55 966.53 L194.9 966.08 L195.25 966.47 L195.6 966.35 L195.95 966.68 L196.3 966.82 L196.65 966.9 L197 967.2 L197.35 967.42 L197.7 967.67 L198.05 967.78 L198.4 967.86 L198.75 967.93 L199.1 967.96 L199.45 967.97 L199.8 967.99 L200.15 967.99 L200.5 968 L200.85 968 L201.2 968 L201.55 968 L201.9 968 L202.25 968 L202.6 968 L202.95 968 L203.3 968 L203.65 968 L204 968 L204.35 968 L204.7 968 L205.05 968 L205.4 968 L205.75 968 L206.1 968 L206.45 968 L206.8 968 L207.15 968 L207.5 968 L207.85 968 L208.2 968 L208.55 968 L208.9 968 L209.25 968 L209.6 968 L209.95 968 L210.3 968 L210.65 968 L211 968 L211.35 968 L211.7 968 L212.05 968 L212.4 968 L212.75 968 L213.1 967.99 L213.45 967.99 L213.8 967.98 L214.15 967.96 L214.5 967.94 L214.85 967.87 L215.2 967.84 L215.55 967.73 L215.9 967.61 L216.25 967.43 L216.6 967.44 L216.95 967.14 L217.3 967.19 L217.65 966.96 L218 967.14 L218.35 966.95 L218.7 967.19 L219.05 967.29 L219.4 967.44 L219.75 967.52 L220.1 967.64 L220.45 967.7 L220.8 967.82 L221.15 967.89 L221.5 967.92 L221.85 967.97 L222.2 967.98 L222.55 967.99 L222.9 967.99 L223.25 968 L223.6 968 L223.95 968 L224.3 968 L224.65 968 L225 968 L225.35 968 L225.7 968 L226.05 968 L226.4 968 L226.75 968 L227.1 968 L227.45 968 L227.8 968 L228.15 968 L228.5 968 L228.85 968 L229.2 968 L229.55 968 L229.9 968 L230.25 968 L230.6 968 L230.95 968 L231.3 968 L231.65 968 L232 968 L232.35 968 L232.7 968 L233.05 968 L233.4 968 L233.75 968 L234.1 968 L234.45 968 L234.8 968 L235.15 968 L235.5 967.99 L235.85 967.98 L236.2 967.97 L236.55 967.95 L236.9 967.91 L237.25 967.83 L237.6 967.76 L237.95 967.66 L238.3 967.49 L238.65 967.32 L239 967.18 L239.35 967.03 L239.7 967.04 L240.05 967.06 L240.4 966.85 L240.75 966.98 L241.1 967.21 L241.45 967.43 L241.8 967.55 L242.15 967.66 L242.5 967.75 L242.85 967.86 L243.2 967.91 L243.55 967.96 L243.9 967.98 L244.25 967.99 L244.6 967.99 L244.95 968 L245.3 968 L245.65 968 L246 968 L246.35 968 L246.7 968 L247.05 968 L247.4 968 L247.75 968 L248.1 968 L248.45 968 L248.8 968 L249.15 968 L249.5 968 L249.85 968 L250.2 968 L250.55 968 L250.9 968 L251.25 968 L251.6 968 L251.95 968 L252.3 968 L252.65 968 L253 968 L253.35 968 L253.7 968 L254.05 968 L254.4 968 L254.75 968 L255.1 968 L255.45 968 L255.8 967.99 L256.15 967.98 L256.5 967.96 L256.85 967.91 L257.2 967.85 L257.55 967.81 L257.9 967.63 L258.25 967.5 L258.6 967.37 L258.95 967.24 L259.3 967.18 L259.65 967.16 L260 967.01 L260.35 966.92 L260.7 967.19 L261.05 967.25 L261.4 967.43 L261.75 967.52 L262.1 967.63 L262.45 967.76 L262.8 967.87 L263.15 967.92 L263.5 967.96 L263.85 967.98 L264.2 967.99 L264.55 967.99 L264.9 968 L265.25 968 L265.6 968 L265.95 968 L266.3 968 L266.65 968 L267 968 L267.35 968 L267.7 968 L268.05 968 L268.4 968 L268.75 968 L269.1 968 L269.45 968 L269.8 968 L270.15 968 L270.5 968 L270.85 968 L271.2 968 L271.55 968 L271.9 968 L272.25 968 L272.6 968 L272.95 968 L273.3 968 L273.65 968 L274 968 L274.35 968 L274.7 968 L275.05 968 L275.4 968 L275.75 968 L276.1 968 L276.45 968 L276.8 968 L277.15 968 L277.5 968 L277.85 968 L278.2 968 L278.55 968 L278.9 968 L279.25 968 L279.6 968 L279.95 968 L280.3 968 L280.65 968 L281 968 L281.35 968 L281.7 968 L282.05 968 L282.4 968 L282.75 968 L283.1 968 L283.45 968 L283.8 968 L284.15 968 L284.5 968 L284.85 968 L285.2 968 L285.55 968 L285.9 968 L286.25 968 L286.6 968 L286.95 968 L287.3 968 L287.65 968 L288 968 L288.35 968 L288.7 968 L289.05 968 L289.4 968 L289.75 968 L290.1 968 L290.45 968 L290.8 968 L291.15 968 L291.5 967.99 L291.85 967.98 L292.2 967.96 L292.55 967.95 L292.9 967.92 L293.25 967.83 L293.6 967.81 L293.95 967.67 L294.3 967.57 L294.65 967.51 L295 967.41 L295.35 967.17 L295.7 967.24 L296.05 967.26 L296.4 967.24 L296.75 967.24 L297.1 967.43 L297.45 967.56 L297.8 967.58 L298.15 967.75 L298.5 967.83 L298.85 967.89 L299.2 967.91 L299.55 967.95 L299.9 967.97 L300.25 967.99 L300.6 967.99 L300.95 968 L301.3 968 L301.65 968 L302 968 L302.35 968 L302.7 968 L303.05 968 L303.4 968 L303.75 967.99 L304.1 967.99 L304.45 967.98 L304.8 967.96 L305.15 967.93 L305.5 967.85 L305.85 967.77 L306.2 967.65 L306.55 967.43 L306.9 967.23 L307.25 966.85 L307.6 966.41 L307.95 966.06 L308.3 965.7 L308.65 965.88 L309 965.58 L309.35 965.5 L309.7 966 L310.05 965.98 L310.4 966.69 L310.75 966.69 L311.1 967.04 L311.45 967.31 L311.8 967.56 L312.15 967.73 L312.5 967.85 L312.85 967.91 L313.2 967.95 L313.55 967.98 L313.9 967.99 L314.25 967.99 L314.6 968 L314.95 968 L315.3 968 L315.65 968 L316 968 L316.35 968 L316.7 968 L317.05 968 L317.4 968 L317.75 968 L318.1 968 L318.45 968 L318.8 968 L319.15 968 L319.5 968 L319.85 968 L320.2 968 L320.55 968 L320.9 967.99 L321.25 967.98 L321.6 967.96 L321.95 967.94 L322.3 967.9 L322.65 967.81 L323 967.72 L323.35 967.52 L323.7 967.38 L324.05 967.2 L324.4 966.97 L324.75 966.94 L325.1 966.92 L325.45 966.93 L325.8 967.07 L326.15 967.27 L326.5 967.51 L326.85 967.64 L327.2 967.74 L327.55 967.84 L327.9 967.91 L328.25 967.95 L328.6 967.98 L328.95 967.99 L329.3 968 L329.65 968 L330 968 L330.35 968 L330.7 968 L331.05 968 L331.4 968 L331.75 968 L332.1 968 L332.45 968 L332.8 968 L333.15 968 L333.5 968 L333.85 968 L334.2 968 L334.55 968 L334.9 968 L335.25 968 L335.6 968 L335.95 968 L336.3 968 L336.65 968 L337 968 L337.35 968 L337.7 968 L338.05 968 L338.4 968 L338.75 968 L339.1 968 L339.45 968 L339.8 968 L340.15 968 L340.5 968 L340.85 968 L341.2 968 L341.55 968 L341.9 968 L342.25 968 L342.6 968 L342.95 968 L343.3 968 L343.65 968 L344 968 L344.35 968 L344.7 968 L345.05 968 L345.4 967.99 L345.75 967.98 L346.1 967.97 L346.45 967.93 L346.8 967.88 L347.15 967.81 L347.5 967.62 L347.85 967.46 L348.2 967.17 L348.55 966.9 L348.9 966.67 L349.25 966.38 L349.6 966.27 L349.95 966.34 L350.3 966.18 L350.65 966.28 L351 966.84 L351.35 967.05 L351.7 967.27 L352.05 967.43 L352.4 967.57 L352.75 967.75 L353.1 967.84 L353.45 967.92 L353.8 967.96 L354.15 967.98 L354.5 967.99 L354.85 968 L355.2 968 L355.55 968 L355.9 968 L356.25 968 L356.6 968 L356.95 968 L357.3 968 L357.65 968 L358 968 L358.35 968 L358.7 968 L359.05 968 L359.4 967.99 L359.75 967.97 L360.1 967.94 L360.45 967.89 L360.8 967.83 L361.15 967.66 L361.5 967.54 L361.85 967.45 L362.2 967.25 L362.55 967.19 L362.9 967.02 L363.25 967.14 L363.6 967.11 L363.95 967.32 L364.3 967.39 L364.65 967.58 L365 967.77 L365.35 967.84 L365.7 967.92 L366.05 967.96 L366.4 967.98 L366.75 967.99 L367.1 968 L367.45 968 L367.8 968 L368.15 968 L368.5 968 L368.85 968 L369.2 968 L369.55 968 L369.9 968 L370.25 967.99 L370.6 967.98 L370.95 967.95 L371.3 967.92 L371.65 967.86 L372 967.74 L372.35 967.5 L372.7 967.28 L373.05 966.93 L373.4 966.71 L373.75 966.31 L374.1 965.81 L374.45 965.4 L374.8 964.96 L375.15 965.26 L375.5 965.51 L375.85 965.38 L376.2 965.95 L376.55 966.37 L376.9 966.78 L377.25 967.23 L377.6 967.54 L377.95 967.73 L378.3 967.82 L378.65 967.9 L379 967.95 L379.35 967.97 L379.7 967.99 L380.05 968 L380.4 968 L380.75 968 L381.1 968 L381.45 968 L381.8 968 L382.15 968 L382.5 968 L382.85 968 L383.2 968 L383.55 968 L383.9 968 L384.25 968 L384.6 968 L384.95 968 L385.3 968 L385.65 968 L386 968 L386.35 968 L386.7 968 L387.05 968 L387.4 968 L387.75 968 L388.1 968 L388.45 967.99 L388.8 967.97 L389.15 967.96 L389.5 967.9 L389.85 967.86 L390.2 967.74 L390.55 967.64 L390.9 967.43 L391.25 967.29 L391.6 967.33 L391.95 967.31 L392.3 967.17 L392.65 967.33 L393 967.46 L393.35 967.59 L393.7 967.72 L394.05 967.81 L394.4 967.9 L394.75 967.95 L395.1 967.97 L395.45 967.99 L395.8 967.99 L396.15 968 L396.5 968 L396.85 968 L397.2 968 L397.55 968 L397.9 968 L398.25 968 L398.6 968 L398.95 968 L399.3 968 L399.65 968 L400 968 L400.35 968 L400.7 968 L401.05 968 L401.4 968 L401.75 968 L402.1 968 L402.45 968 L402.8 968 L403.15 968 L403.5 968 L403.85 968 L404.2 968 L404.55 968 L404.9 968 L405.25 968 L405.6 968 L405.95 968 L406.3 968 L406.65 968 L407 968 L407.35 968 L407.7 968 L408.05 968 L408.4 968 L408.75 968 L409.1 968 L409.45 968 L409.8 968 L410.15 968 L410.5 968 L410.85 968 L411.2 968 L411.55 968 L411.9 968 L412.25 968 L412.6 968 L412.95 968 L413.3 968 L413.65 968 L414 968 L414.35 968 L414.7 968 L415 968 Z" fill="#D42A7C" stroke="none" stroke-width="1"/>
<line x1="36" y1="968" x2="415" y2="968" stroke="#D42A7C" stroke-width="0.8"/>
<path d="M36 1020.5 L36 1016.01 L36.35 1015.1 L36.7 1015.49 L37.05 1015.93 L37.4 1015.94 L37.75 1017.39 L38.1 1017.25 L38.45 1017.78 L38.8 1017.77 L39.15 1017 L39.5 1015.81 L39.85 1013.22 L40.2 1011.17 L40.55 1008.08 L40.9 1004.55 L41.25 1000.67 L41.6 999.43 L41.95 1000.83 L42.3 998.49 L42.65 999.33 L43 999.9 L43.35 1004.68 L43.7 1005.89 L44.05 1006.67 L44.4 1009.57 L44.75 1010.79 L45.1 1011.32 L45.45 1013.5 L45.8 1014.24 L46.15 1016.32 L46.5 1017.01 L46.85 1015.99 L47.2 1013.98 L47.55 1009.16 L47.9 1003.58 L48.25 999.92 L48.6 993.41 L48.95 985.71 L49.3 982.97 L49.65 979.69 L50 981.32 L50.35 976.22 L50.7 976.65 L51.05 978.64 L51.4 979.95 L51.75 979.52 L52.1 987.86 L52.45 982.93 L52.8 992.74 L53.15 996.53 L53.5 996.75 L53.85 1001.88 L54.2 1003.27 L54.55 1002.72 L54.9 1006.05 L55.25 1006.12 L55.6 1007.74 L55.95 1006.85 L56.3 1010.25 L56.65 1007.91 L57 1006.45 L57.35 1006.17 L57.7 1004.13 L58.05 1003.79 L58.4 1004.49 L58.75 1004.88 L59.1 1006.52 L59.45 1008.36 L59.8 1009.64 L60.15 1010.03 L60.5 1011.18 L60.85 1012.89 L61.2 1012.39 L61.55 1013.78 L61.9 1013.65 L62.25 1015.38 L62.6 1014.76 L62.95 1014.96 L63.3 1013.92 L63.65 1013.02 L64 1012.87 L64.35 1012.6 L64.7 1011.27 L65.05 1012.57 L65.4 1010.12 L65.75 1011.49 L66.1 1011.22 L66.45 1013.14 L66.8 1014.12 L67.15 1014.58 L67.5 1014.54 L67.85 1015.65 L68.2 1015.54 L68.55 1017.17 L68.9 1017.59 L69.25 1018.41 L69.6 1019.31 L69.95 1019.82 L70.3 1020.18 L70.65 1020.34 L71 1020.42 L71.35 1020.4 L71.7 1020.34 L72.05 1020.22 L72.4 1019.99 L72.75 1019.7 L73.1 1019.49 L73.45 1019.08 L73.8 1018.67 L74.15 1017.64 L74.5 1016.98 L74.85 1017.29 L75.2 1016.98 L75.55 1016.88 L75.9 1015.92 L76.25 1017.22 L76.6 1016.96 L76.95 1017 L77.3 1017.9 L77.65 1017.63 L78 1017.99 L78.35 1017.78 L78.7 1017.94 L79.05 1018.27 L79.4 1017.89 L79.75 1018.39 L80.1 1018.38 L80.45 1018.83 L80.8 1018.83 L81.15 1019.03 L81.5 1019.25 L81.85 1019.19 L82.2 1018.59 L82.55 1018.64 L82.9 1018.52 L83.25 1018.52 L83.6 1018.89 L83.95 1018.9 L84.3 1019.14 L84.65 1019.55 L85 1019.55 L85.35 1019.55 L85.7 1019.64 L86.05 1019.48 L86.4 1019.52 L86.75 1019.17 L87.1 1018.86 L87.45 1018.57 L87.8 1018.19 L88.15 1018.31 L88.5 1018.27 L88.85 1018.43 L89.2 1018.57 L89.55 1018.91 L89.9 1019.29 L90.25 1019.62 L90.6 1019.75 L90.95 1020.06 L91.3 1020.18 L91.65 1020.33 L92 1020.38 L92.35 1020.45 L92.7 1020.47 L93.05 1020.49 L93.4 1020.49 L93.75 1020.5 L94.1 1020.5 L94.45 1020.5 L94.8 1020.5 L95.15 1020.5 L95.5 1020.5 L95.85 1020.49 L96.2 1020.47 L96.55 1020.44 L96.9 1020.38 L97.25 1020.33 L97.6 1020.18 L97.95 1020.04 L98.3 1019.7 L98.65 1019.49 L99 1019.16 L99.35 1018.66 L99.7 1018.6 L100.05 1017.97 L100.4 1018.34 L100.75 1018.34 L101.1 1018.22 L101.45 1018.82 L101.8 1019.13 L102.15 1019.31 L102.5 1019.71 L102.85 1019.93 L103.2 1020.14 L103.55 1020.28 L103.9 1020.41 L104.25 1020.45 L104.6 1020.47 L104.95 1020.49 L105.3 1020.49 L105.65 1020.5 L106 1020.5 L106.35 1020.5 L106.7 1020.5 L107.05 1020.5 L107.4 1020.49 L107.75 1020.48 L108.1 1020.45 L108.45 1020.42 L108.8 1020.36 L109.15 1020.28 L109.5 1020.17 L109.85 1020 L110.2 1019.81 L110.55 1019.82 L110.9 1019.71 L111.25 1019.73 L111.6 1019.69 L111.95 1019.92 L112.3 1020.01 L112.65 1020.21 L113 1020.28 L113.35 1020.4 L113.7 1020.44 L114.05 1020.47 L114.4 1020.49 L114.75 1020.49 L115.1 1020.5 L115.45 1020.5 L115.8 1020.5 L116.15 1020.5 L116.5 1020.5 L116.85 1020.5 L117.2 1020.5 L117.55 1020.5 L117.9 1020.5 L118.25 1020.5 L118.6 1020.5 L118.95 1020.5 L119.3 1020.5 L119.65 1020.49 L120 1020.48 L120.35 1020.45 L120.7 1020.43 L121.05 1020.35 L121.4 1020.24 L121.75 1020.09 L122.1 1019.94 L122.45 1019.86 L122.8 1019.54 L123.15 1019.39 L123.5 1019.36 L123.85 1019.09 L124.2 1019.28 L124.55 1019.17 L124.9 1019.32 L125.25 1019.65 L125.6 1019.9 L125.95 1019.96 L126.3 1020.2 L126.65 1020.31 L127 1020.35 L127.35 1020.43 L127.7 1020.46 L128.05 1020.48 L128.4 1020.49 L128.75 1020.5 L129.1 1020.5 L129.45 1020.5 L129.8 1020.5 L130.15 1020.5 L130.5 1020.5 L130.85 1020.5 L131.2 1020.5 L131.55 1020.5 L131.9 1020.5 L132.25 1020.49 L132.6 1020.48 L132.95 1020.45 L133.3 1020.43 L133.65 1020.35 L134 1020.27 L134.35 1020.15 L134.7 1019.94 L135.05 1019.83 L135.4 1019.64 L135.75 1019.39 L136.1 1019.07 L136.45 1018.86 L136.8 1018.85 L137.15 1018.77 L137.5 1018.91 L137.85 1019.02 L138.2 1019.47 L138.55 1019.47 L138.9 1019.78 L139.25 1020.01 L139.6 1020.18 L139.95 1020.26 L140.3 1020.37 L140.65 1020.42 L141 1020.45 L141.35 1020.48 L141.7 1020.49 L142.05 1020.5 L142.4 1020.5 L142.75 1020.5 L143.1 1020.5 L143.45 1020.5 L143.8 1020.5 L144.15 1020.5 L144.5 1020.5 L144.85 1020.5 L145.2 1020.49 L145.55 1020.49 L145.9 1020.47 L146.25 1020.44 L146.6 1020.36 L146.95 1020.3 L147.3 1020.08 L147.65 1019.94 L148 1019.65 L148.35 1019.4 L148.7 1018.72 L149.05 1018.59 L149.4 1017.93 L149.75 1017.9 L150.1 1017.96 L150.45 1018.15 L150.8 1018.34 L151.15 1018.67 L151.5 1018.89 L151.85 1019.54 L152.2 1019.84 L152.55 1019.95 L152.9 1020.19 L153.25 1020.32 L153.6 1020.41 L153.95 1020.46 L154.3 1020.48 L154.65 1020.49 L155 1020.5 L155.35 1020.5 L155.7 1020.5 L156.05 1020.5 L156.4 1020.49 L156.75 1020.48 L157.1 1020.44 L157.45 1020.4 L157.8 1020.31 L158.15 1020.19 L158.5 1020.01 L158.85 1019.93 L159.2 1019.72 L159.55 1019.5 L159.9 1019.45 L160.25 1019.53 L160.6 1019.58 L160.95 1019.71 L161.3 1019.88 L161.65 1020.11 L162 1020.28 L162.35 1020.37 L162.7 1020.42 L163.05 1020.46 L163.4 1020.48 L163.75 1020.49 L164.1 1020.5 L164.45 1020.5 L164.8 1020.5 L165.15 1020.5 L165.5 1020.5 L165.85 1020.5 L166.2 1020.5 L166.55 1020.5 L166.9 1020.5 L167.25 1020.5 L167.6 1020.5 L167.95 1020.5 L168.3 1020.5 L168.65 1020.5 L169 1020.5 L169.35 1020.5 L169.7 1020.5 L170.05 1020.5 L170.4 1020.5 L170.75 1020.5 L171.1 1020.5 L171.45 1020.5 L171.8 1020.5 L172.15 1020.5 L172.5 1020.5 L172.85 1020.5 L173.2 1020.5 L173.55 1020.49 L173.9 1020.48 L174.25 1020.46 L174.6 1020.43 L174.95 1020.37 L175.3 1020.25 L175.65 1020.14 L176 1019.95 L176.35 1019.77 L176.7 1019.7 L177.05 1019.41 L177.4 1019.28 L177.75 1018.93 L178.1 1019.02 L178.45 1019.22 L178.8 1019.31 L179.15 1019.38 L179.5 1019.7 L179.85 1019.88 L180.2 1020.11 L180.55 1020.24 L180.9 1020.32 L181.25 1020.41 L181.6 1020.45 L181.95 1020.47 L182.3 1020.49 L182.65 1020.49 L183 1020.5 L183.35 1020.5 L183.7 1020.5 L184.05 1020.5 L184.4 1020.5 L184.75 1020.5 L185.1 1020.5 L185.45 1020.5 L185.8 1020.5 L186.15 1020.5 L186.5 1020.5 L186.85 1020.5 L187.2 1020.5 L187.55 1020.5 L187.9 1020.5 L188.25 1020.5 L188.6 1020.5 L188.95 1020.5 L189.3 1020.5 L189.65 1020.5 L190 1020.5 L190.35 1020.5 L190.7 1020.5 L191.05 1020.5 L191.4 1020.5 L191.75 1020.5 L192.1 1020.5 L192.45 1020.5 L192.8 1020.5 L193.15 1020.5 L193.5 1020.5 L193.85 1020.5 L194.2 1020.5 L194.55 1020.5 L194.9 1020.5 L195.25 1020.5 L195.6 1020.5 L195.95 1020.5 L196.3 1020.5 L196.65 1020.5 L197 1020.5 L197.35 1020.5 L197.7 1020.5 L198.05 1020.5 L198.4 1020.5 L198.75 1020.5 L199.1 1020.5 L199.45 1020.5 L199.8 1020.5 L200.15 1020.5 L200.5 1020.5 L200.85 1020.5 L201.2 1020.5 L201.55 1020.49 L201.9 1020.48 L202.25 1020.47 L202.6 1020.44 L202.95 1020.39 L203.3 1020.34 L203.65 1020.21 L204 1020.16 L204.35 1019.93 L204.7 1019.73 L205.05 1019.57 L205.4 1019.56 L205.75 1019.47 L206.1 1019.51 L206.45 1019.33 L206.8 1019.54 L207.15 1019.65 L207.5 1019.88 L207.85 1020.05 L208.2 1020.14 L208.55 1020.26 L208.9 1020.36 L209.25 1020.42 L209.6 1020.45 L209.95 1020.48 L210.3 1020.49 L210.65 1020.5 L211 1020.5 L211.35 1020.5 L211.7 1020.5 L212.05 1020.5 L212.4 1020.5 L212.75 1020.5 L213.1 1020.5 L213.45 1020.5 L213.8 1020.5 L214.15 1020.5 L214.5 1020.5 L214.85 1020.5 L215.2 1020.5 L215.55 1020.5 L215.9 1020.49 L216.25 1020.48 L216.6 1020.46 L216.95 1020.43 L217.3 1020.37 L217.65 1020.31 L218 1020.15 L218.35 1019.93 L218.7 1019.56 L219.05 1019.45 L219.4 1019.14 L219.75 1018.38 L220.1 1017.96 L220.45 1017.98 L220.8 1017.81 L221.15 1017.51 L221.5 1017.98 L221.85 1018.23 L222.2 1018.58 L222.55 1019.04 L222.9 1019.37 L223.25 1019.66 L223.6 1019.98 L223.95 1020.11 L224.3 1020.24 L224.65 1020.34 L225 1020.43 L225.35 1020.46 L225.7 1020.48 L226.05 1020.49 L226.4 1020.5 L226.75 1020.5 L227.1 1020.5 L227.45 1020.5 L227.8 1020.5 L228.15 1020.5 L228.5 1020.5 L228.85 1020.5 L229.2 1020.5 L229.55 1020.5 L229.9 1020.5 L230.25 1020.5 L230.6 1020.5 L230.95 1020.5 L231.3 1020.5 L231.65 1020.5 L232 1020.5 L232.35 1020.5 L232.7 1020.5 L233.05 1020.5 L233.4 1020.5 L233.75 1020.5 L234.1 1020.5 L234.45 1020.5 L234.8 1020.5 L235.15 1020.5 L235.5 1020.5 L235.85 1020.49 L236.2 1020.48 L236.55 1020.46 L236.9 1020.44 L237.25 1020.38 L237.6 1020.3 L237.95 1020.15 L238.3 1019.98 L238.65 1019.71 L239 1019.67 L239.35 1019.29 L239.7 1019.45 L240.05 1019.2 L240.4 1019.42 L240.75 1019.46 L241.1 1019.63 L241.45 1019.94 L241.8 1020.03 L242.15 1020.18 L242.5 1020.32 L242.85 1020.4 L243.2 1020.44 L243.55 1020.47 L243.9 1020.48 L244.25 1020.49 L244.6 1020.48 L244.95 1020.47 L245.3 1020.45 L245.65 1020.43 L246 1020.39 L246.35 1020.31 L246.7 1020.23 L247.05 1020.14 L247.4 1019.89 L247.75 1019.74 L248.1 1019.57 L248.45 1019.08 L248.8 1018.95 L249.15 1018.86 L249.5 1018.4 L249.85 1018.29 L250.2 1017.65 L250.55 1017.54 L250.9 1018.06 L251.25 1018.02 L251.6 1017.68 L251.95 1018 L252.3 1018.36 L252.65 1018.51 L253 1018.98 L253.35 1019.09 L253.7 1019.31 L254.05 1019.43 L254.4 1019.69 L254.75 1019.79 L255.1 1019.91 L255.45 1019.74 L255.8 1019.58 L256.15 1019.31 L256.5 1019.18 L256.85 1018.6 L257.2 1018.45 L257.55 1018.24 L257.9 1017.98 L258.25 1018.03 L258.6 1018.69 L258.95 1018.48 L259.3 1018.97 L259.65 1019.25 L260 1019.71 L260.35 1019.9 L260.7 1019.93 L261.05 1020.09 L261.4 1020.02 L261.75 1019.95 L262.1 1019.88 L262.45 1019.69 L262.8 1019.49 L263.15 1019.32 L263.5 1019.06 L263.85 1018.9 L264.2 1019.18 L264.55 1019.24 L264.9 1019.4 L265.25 1019.68 L265.6 1019.85 L265.95 1020.02 L266.3 1020.11 L266.65 1020.29 L267 1020.36 L267.35 1020.41 L267.7 1020.46 L268.05 1020.48 L268.4 1020.49 L268.75 1020.5 L269.1 1020.5 L269.45 1020.5 L269.8 1020.5 L270.15 1020.5 L270.5 1020.5 L270.85 1020.5 L271.2 1020.5 L271.55 1020.5 L271.9 1020.5 L272.25 1020.5 L272.6 1020.5 L272.95 1020.5 L273.3 1020.5 L273.65 1020.5 L274 1020.5 L274.35 1020.5 L274.7 1020.5 L275.05 1020.5 L275.4 1020.5 L275.75 1020.5 L276.1 1020.5 L276.45 1020.5 L276.8 1020.5 L277.15 1020.5 L277.5 1020.5 L277.85 1020.49 L278.2 1020.49 L278.55 1020.48 L278.9 1020.46 L279.25 1020.43 L279.6 1020.35 L279.95 1020.25 L280.3 1020.11 L280.65 1020 L281 1019.8 L281.35 1019.39 L281.7 1019.28 L282.05 1018.99 L282.4 1019.06 L282.75 1018.58 L283.1 1018.73 L283.45 1018.93 L283.8 1018.95 L284.15 1019.28 L284.5 1019.46 L284.85 1019.69 L285.2 1019.9 L285.55 1020.1 L285.9 1020.25 L286.25 1020.31 L286.6 1020.4 L286.95 1020.45 L287.3 1020.47 L287.65 1020.49 L288 1020.49 L288.35 1020.5 L288.7 1020.5 L289.05 1020.5 L289.4 1020.5 L289.75 1020.5 L290.1 1020.5 L290.45 1020.5 L290.8 1020.5 L291.15 1020.5 L291.5 1020.5 L291.85 1020.5 L292.2 1020.5 L292.55 1020.5 L292.9 1020.5 L293.25 1020.5 L293.6 1020.5 L293.95 1020.5 L294.3 1020.5 L294.65 1020.5 L295 1020.5 L295.35 1020.5 L295.7 1020.5 L296.05 1020.49 L296.4 1020.49 L296.75 1020.47 L297.1 1020.44 L297.45 1020.42 L297.8 1020.33 L298.15 1020.28 L298.5 1020.08 L298.85 1019.96 L299.2 1019.85 L299.55 1019.62 L299.9 1019.39 L300.25 1019.14 L300.6 1018.93 L300.95 1018.85 L301.3 1019.15 L301.65 1019.1 L302 1019.2 L302.35 1019.59 L302.7 1019.64 L303.05 1019.96 L303.4 1020.07 L303.75 1020.22 L304.1 1020.32 L304.45 1020.38 L304.8 1020.45 L305.15 1020.47 L305.5 1020.48 L305.85 1020.49 L306.2 1020.49 L306.55 1020.49 L306.9 1020.47 L307.25 1020.45 L307.6 1020.4 L307.95 1020.35 L308.3 1020.29 L308.65 1020.15 L309 1019.97 L309.35 1019.77 L309.7 1019.78 L310.05 1019.55 L310.4 1019.26 L310.75 1019.23 L311.1 1019.26 L311.45 1019.47 L311.8 1019.46 L312.15 1019.63 L312.5 1019.77 L312.85 1019.94 L313.2 1020.14 L313.55 1020.19 L313.9 1020.32 L314.25 1020.4 L314.6 1020.43 L314.95 1020.46 L315.3 1020.48 L315.65 1020.49 L316 1020.5 L316.35 1020.5 L316.7 1020.5 L317.05 1020.5 L317.4 1020.5 L317.75 1020.5 L318.1 1020.5 L318.45 1020.5 L318.8 1020.5 L319.15 1020.5 L319.5 1020.5 L319.85 1020.5 L320.2 1020.49 L320.55 1020.48 L320.9 1020.47 L321.25 1020.43 L321.6 1020.4 L321.95 1020.3 L322.3 1020.21 L322.65 1020.04 L323 1019.96 L323.35 1019.68 L323.7 1019.49 L324.05 1019.44 L324.4 1019.05 L324.75 1018.81 L325.1 1018.89 L325.45 1018.87 L325.8 1019.36 L326.15 1019.34 L326.5 1019.57 L326.85 1019.81 L327.2 1019.94 L327.55 1020.16 L327.9 1020.3 L328.25 1020.35 L328.6 1020.41 L328.95 1020.45 L329.3 1020.47 L329.65 1020.48 L330 1020.48 L330.35 1020.46 L330.7 1020.45 L331.05 1020.4 L331.4 1020.32 L331.75 1020.24 L332.1 1020.16 L332.45 1019.9 L332.8 1019.72 L333.15 1019.52 L333.5 1019.38 L333.85 1019.08 L334.2 1018.57 L334.55 1018.59 L334.9 1018.48 L335.25 1018.44 L335.6 1018.7 L335.95 1018.69 L336.3 1018.97 L336.65 1019.49 L337 1019.55 L337.35 1019.92 L337.7 1020.02 L338.05 1020.13 L338.4 1020.27 L338.75 1020.38 L339.1 1020.41 L339.45 1020.46 L339.8 1020.47 L340.15 1020.48 L340.5 1020.48 L340.85 1020.47 L341.2 1020.45 L341.55 1020.4 L341.9 1020.37 L342.25 1020.28 L342.6 1020.13 L342.95 1020.07 L343.3 1019.81 L343.65 1019.64 L344 1019.45 L344.35 1019.46 L344.7 1019.29 L345.05 1019.43 L345.4 1019.42 L345.75 1019.34 L346.1 1019.69 L346.45 1019.74 L346.8 1019.99 L347.15 1020.03 L347.5 1020.19 L347.85 1020.33 L348.2 1020.36 L348.55 1020.42 L348.9 1020.46 L349.25 1020.48 L349.6 1020.49 L349.95 1020.49 L350.3 1020.5 L350.65 1020.5 L351 1020.5 L351.35 1020.5 L351.7 1020.5 L352.05 1020.5 L352.4 1020.5 L352.75 1020.5 L353.1 1020.5 L353.45 1020.5 L353.8 1020.5 L354.15 1020.5 L354.5 1020.5 L354.85 1020.5 L355.2 1020.5 L355.55 1020.5 L355.9 1020.5 L356.25 1020.5 L356.6 1020.49 L356.95 1020.49 L357.3 1020.47 L357.65 1020.44 L358 1020.4 L358.35 1020.35 L358.7 1020.26 L359.05 1020.1 L359.4 1019.88 L359.75 1019.66 L360.1 1019.43 L360.45 1019.17 L360.8 1018.72 L361.15 1018.33 L361.5 1018.39 L361.85 1018.24 L362.2 1018.08 L362.55 1018.42 L362.9 1018.38 L363.25 1019.06 L363.6 1019.2 L363.95 1019.38 L364.3 1019.78 L364.65 1020 L365 1020.09 L365.35 1020.24 L365.7 1020.33 L366.05 1020.4 L366.4 1020.45 L366.75 1020.47 L367.1 1020.48 L367.45 1020.49 L367.8 1020.5 L368.15 1020.5 L368.5 1020.5 L368.85 1020.5 L369.2 1020.49 L369.55 1020.48 L369.9 1020.47 L370.25 1020.44 L370.6 1020.41 L370.95 1020.32 L371.3 1020.26 L371.65 1020.12 L372 1019.94 L372.35 1019.82 L372.7 1019.65 L373.05 1019.33 L373.4 1019.24 L373.75 1019.09 L374.1 1019.38 L374.45 1019.15 L374.8 1019.48 L375.15 1019.58 L375.5 1019.68 L375.85 1019.84 L376.2 1020.04 L376.55 1020.19 L376.9 1020.3 L377.25 1020.37 L377.6 1020.43 L377.95 1020.46 L378.3 1020.48 L378.65 1020.49 L379 1020.5 L379.35 1020.5 L379.7 1020.5 L380.05 1020.5 L380.4 1020.5 L380.75 1020.5 L381.1 1020.5 L381.45 1020.5 L381.8 1020.5 L382.15 1020.5 L382.5 1020.5 L382.85 1020.5 L383.2 1020.5 L383.55 1020.5 L383.9 1020.5 L384.25 1020.5 L384.6 1020.5 L384.95 1020.5 L385.3 1020.5 L385.65 1020.5 L386 1020.5 L386.35 1020.5 L386.7 1020.5 L387.05 1020.5 L387.4 1020.5 L387.75 1020.5 L388.1 1020.5 L388.45 1020.5 L388.8 1020.5 L389.15 1020.5 L389.5 1020.5 L389.85 1020.5 L390.2 1020.5 L390.55 1020.5 L390.9 1020.5 L391.25 1020.5 L391.6 1020.5 L391.95 1020.5 L392.3 1020.5 L392.65 1020.5 L393 1020.5 L393.35 1020.5 L393.7 1020.5 L394.05 1020.5 L394.4 1020.5 L394.75 1020.5 L395.1 1020.5 L395.45 1020.5 L395.8 1020.5 L396.15 1020.5 L396.5 1020.5 L396.85 1020.5 L397.2 1020.5 L397.55 1020.5 L397.9 1020.49 L398.25 1020.49 L398.6 1020.47 L398.95 1020.44 L399.3 1020.38 L399.65 1020.32 L400 1020.21 L400.35 1019.98 L400.7 1019.83 L401.05 1019.59 L401.4 1019.21 L401.75 1018.85 L402.1 1018.65 L402.45 1018.7 L402.8 1018 L403.15 1018.52 L403.5 1018.37 L403.85 1018.72 L404.2 1019.12 L404.55 1019.31 L404.9 1019.54 L405.25 1019.88 L405.6 1020.07 L405.95 1020.18 L406.3 1020.31 L406.65 1020.4 L407 1020.44 L407.35 1020.47 L407.7 1020.48 L408.05 1020.49 L408.4 1020.5 L408.75 1020.5 L409.1 1020.5 L409.45 1020.5 L409.8 1020.5 L410.15 1020.5 L410.5 1020.5 L410.85 1020.5 L411.2 1020.5 L411.55 1020.5 L411.9 1020.5 L412.25 1020.5 L412.6 1020.5 L412.95 1020.5 L413.3 1020.5 L413.65 1020.5 L414 1020.5 L414.35 1020.5 L414.7 1020.5 L415 1020.5 Z" fill="#3DB34A" stroke="none" stroke-width="1"/>
<line x1="36" y1="1020.5" x2="415" y2="1020.5" stroke="#3DB34A" stroke-width="0.8"/>
<rect x="35.3" y="916.4" width="380.5" height="112.4" fill="none" stroke="#444" stroke-width="0.8"/>
<text x="36.9" y="922.2" font-size="4.2" text-anchor="start" fill="#333" stroke="#333" stroke-width="0.09">0.18</text>
<text x="36.9" y="973.6" font-size="4.2" text-anchor="start" fill="#333" stroke="#333" stroke-width="0.09">0.18</text>
<line x1="36" y1="1035" x2="415" y2="1035" stroke="#2B3A94" stroke-width="0.6"/>
<rect x="35.7" y="1033.3" width="6.4" height="3.4" fill="#2B3A94" stroke="none" stroke-width="1"/>
<rect x="380.5" y="1032.8" width="33.5" height="4.4" fill="#2B3A94" stroke="none" stroke-width="1"/>
<line x1="103.6" y1="1032.2" x2="103.6" y2="1037.8" stroke="#2B3A94" stroke-width="0.9"/>
<line x1="139.4" y1="1032.2" x2="139.4" y2="1037.8" stroke="#2B3A94" stroke-width="0.9"/>
<line x1="209" y1="1032.2" x2="209" y2="1037.8" stroke="#2B3A94" stroke-width="0.9"/>
<line x1="268.7" y1="1032.2" x2="268.7" y2="1037.8" stroke="#2B3A94" stroke-width="0.9"/>
<line x1="312.1" y1="1032.2" x2="312.1" y2="1037.8" stroke="#2B3A94" stroke-width="0.9"/>
<line x1="332" y1="1032.2" x2="332" y2="1037.8" stroke="#2B3A94" stroke-width="0.9"/>
<line x1="335.9" y1="1032.2" x2="335.9" y2="1037.8" stroke="#2B3A94" stroke-width="0.9"/>
<line x1="48" y1="1034.1" x2="48" y2="1035.9" stroke="#2B3A94" stroke-width="0.5"/>
<line x1="60" y1="1034.1" x2="60" y2="1035.9" stroke="#2B3A94" stroke-width="0.5"/>
<line x1="73" y1="1034.1" x2="73" y2="1035.9" stroke="#2B3A94" stroke-width="0.5"/>
<line x1="86" y1="1034.1" x2="86" y2="1035.9" stroke="#2B3A94" stroke-width="0.5"/>
<line x1="115" y1="1034.1" x2="115" y2="1035.9" stroke="#2B3A94" stroke-width="0.5"/>
<line x1="127" y1="1034.1" x2="127" y2="1035.9" stroke="#2B3A94" stroke-width="0.5"/>
<line x1="152" y1="1034.1" x2="152" y2="1035.9" stroke="#2B3A94" stroke-width="0.5"/>
<line x1="165" y1="1034.1" x2="165" y2="1035.9" stroke="#2B3A94" stroke-width="0.5"/>
<line x1="178" y1="1034.1" x2="178" y2="1035.9" stroke="#2B3A94" stroke-width="0.5"/>
<line x1="192" y1="1034.1" x2="192" y2="1035.9" stroke="#2B3A94" stroke-width="0.5"/>
<line x1="222" y1="1034.1" x2="222" y2="1035.9" stroke="#2B3A94" stroke-width="0.5"/>
<line x1="236" y1="1034.1" x2="236" y2="1035.9" stroke="#2B3A94" stroke-width="0.5"/>
<line x1="250" y1="1034.1" x2="250" y2="1035.9" stroke="#2B3A94" stroke-width="0.5"/>
<line x1="282" y1="1034.1" x2="282" y2="1035.9" stroke="#2B3A94" stroke-width="0.5"/>
<line x1="293" y1="1034.1" x2="293" y2="1035.9" stroke="#2B3A94" stroke-width="0.5"/>
<line x1="302" y1="1034.1" x2="302" y2="1035.9" stroke="#2B3A94" stroke-width="0.5"/>
<line x1="320" y1="1034.1" x2="320" y2="1035.9" stroke="#2B3A94" stroke-width="0.5"/>
<line x1="345" y1="1034.1" x2="345" y2="1035.9" stroke="#2B3A94" stroke-width="0.5"/>
<line x1="358" y1="1034.1" x2="358" y2="1035.9" stroke="#2B3A94" stroke-width="0.5"/>
<line x1="372" y1="1034.1" x2="372" y2="1035.9" stroke="#2B3A94" stroke-width="0.5"/>
<line x1="20.1" y1="933.2" x2="20.1" y2="1009.5" stroke="#222" stroke-width="0.7"/>
<text x="17" y="971.3" font-size="8.3" text-anchor="middle" fill="#222" stroke="#222" stroke-width="0.18" transform="rotate(-90 17 971.3)">H4K20me3</text>
<text x="32.4" y="943.2" font-size="8.3" text-anchor="middle" fill="#222" stroke="#222" stroke-width="0.18" transform="rotate(-90 32.4 943.2)">shNC IP</text>
<text x="32.4" y="1001" font-size="8.3" text-anchor="middle" fill="#222" stroke="#222" stroke-width="0.18" transform="rotate(-90 32.4 1001)">sh-KDM5B IP</text>
<text x="432.1" y="951.3" font-size="16.5" font-weight="bold" text-anchor="start" fill="#1f1513">P</text>
<text x="468.6" y="954.6" font-size="10.1" text-anchor="start" fill="#222" stroke="#222" stroke-width="0.22">kDa</text>
<text x="498.5" y="955" font-size="10.2" text-anchor="start" fill="#222" stroke="#222" stroke-width="0.22" transform="rotate(-53 498.5 955)">shNC</text>
<text x="517.3" y="954.6" font-size="10.3" text-anchor="start" fill="#222" stroke="#222" stroke-width="0.23" transform="rotate(-53 517.3 954.6)">sh-KDM5B</text>
<rect x="489.2" y="955.9" width="35.1" height="26" fill="#F0F0F0" stroke="none" stroke-width="1"/>
<rect x="489.2" y="955.9" width="35.1" height="26" fill="#999" stroke="none" stroke-width="1" filter="url(#nz)" opacity="0.2"/>
<ellipse cx="500.2" cy="969.6" rx="7.75" ry="3.38" fill="#191919" filter="url(#bb)"/>
<ellipse cx="515.6" cy="968.6" rx="6.5" ry="2.34" fill="#191919" filter="url(#bb)"/>
<rect x="489.2" y="955.9" width="35.1" height="26" fill="none" stroke="#3a3432" stroke-width="0.9"/>
<rect x="489.2" y="985.6" width="35.1" height="24.7" fill="#F2F2F2" stroke="none" stroke-width="1"/>
<rect x="489.2" y="985.6" width="35.1" height="24.7" fill="#999" stroke="none" stroke-width="1" filter="url(#nz)" opacity="0.2"/>
<ellipse cx="500.6" cy="998.6" rx="7" ry="2.47" fill="#191919" filter="url(#bb)"/>
<ellipse cx="516" cy="998.8" rx="6.25" ry="2.08" fill="#1d1d1d" filter="url(#bb)"/>
<rect x="489.2" y="985.6" width="35.1" height="24.7" fill="none" stroke="#3a3432" stroke-width="0.9"/>
<text x="486" y="974.1" font-size="10.2" text-anchor="end" fill="#222" stroke="#222" stroke-width="0.22">180</text>
<line x1="486.4" y1="970.5" x2="489.2" y2="970.5" stroke="#444" stroke-width="0.5"/>
<text x="486" y="1002.5" font-size="10.2" text-anchor="end" fill="#222" stroke="#222" stroke-width="0.22">180</text>
<line x1="486.4" y1="998.9" x2="489.2" y2="998.9" stroke="#444" stroke-width="0.5"/>
<text x="527.7" y="973.5" font-size="10.2" text-anchor="start" fill="#222" stroke="#222" stroke-width="0.22">Re-IP: KDM5B</text>
<text x="527.7" y="1002" font-size="10.2" text-anchor="start" fill="#222" stroke="#222" stroke-width="0.22">Input</text>
<text x="601.3" y="973.5" font-size="10.2" text-anchor="start" fill="#222" stroke="#222" stroke-width="0.22">IB: KDM5B</text>
<text x="601.3" y="1003.5" font-size="10.2" text-anchor="start" fill="#222" stroke="#222" stroke-width="0.22">IB: KDM5B</text>
<line x1="464.2" y1="965.7" x2="464.2" y2="1005.6" stroke="#222" stroke-width="0.7"/>
<text x="459" y="982.3" font-size="10" text-anchor="middle" fill="#222" stroke="#222" stroke-width="0.22" transform="rotate(-90 459 982.3)">IP: H4K20me3</text>
<text x="507.5" y="1020.9" font-size="8.7" text-anchor="middle" fill="#222" stroke="#222" stroke-width="0.19">A549</text></svg></body></html>
